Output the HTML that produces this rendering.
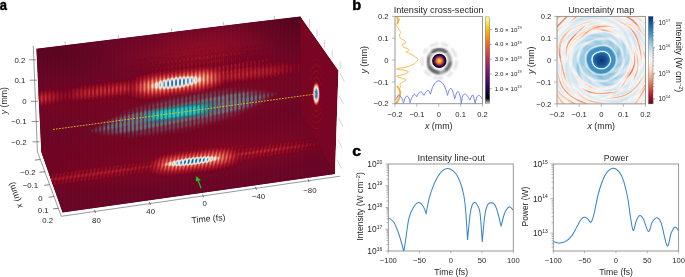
<!DOCTYPE html>
<html><head><meta charset="utf-8">
<style>
html,body{margin:0;padding:0;background:#fff;width:685px;height:277px;overflow:hidden}
svg{display:block;will-change:transform}
text{font-family:"Liberation Sans",sans-serif;fill:#231f20}
.pl{font-weight:bold;font-size:14px;fill:#000;stroke:#000;stroke-width:0.45px}
.t9{font-size:9px}
</style></head><body>
<svg width="685" height="277" viewBox="0 0 685 277" xmlns="http://www.w3.org/2000/svg">
<g id="pa">
<defs><filter id="sm" x="-5%" y="-5%" width="110%" height="110%"><feGaussianBlur stdDeviation="0.45"/></filter>
<clipPath id="cpa"><polygon points="36.4,48.8 300.5,16.4 338.5,70.5 335,174 62.5,212.5 41.3,152"/></clipPath>
<clipPath id="cpb"><polygon points="36.4,48.8 300.5,16.4 300.5,112.9 335,174 62.5,212.5 41.3,152"/></clipPath>
<radialGradient id="bg0" cx="0.5" cy="0.5" r="0.5"><stop offset="0.00" stop-color="#8c0c25" stop-opacity="1.000"/><stop offset="0.12" stop-color="#8c0c25" stop-opacity="0.932"/><stop offset="0.25" stop-color="#8c0c25" stop-opacity="0.755"/><stop offset="0.38" stop-color="#8c0c25" stop-opacity="0.531"/><stop offset="0.50" stop-color="#8c0c25" stop-opacity="0.325"/><stop offset="0.62" stop-color="#8c0c25" stop-opacity="0.172"/><stop offset="0.75" stop-color="#8c0c25" stop-opacity="0.080"/><stop offset="0.88" stop-color="#8c0c25" stop-opacity="0.032"/><stop offset="1.00" stop-color="#8c0c25" stop-opacity="0.011"/></radialGradient>
<radialGradient id="bg1" cx="0.5" cy="0.5" r="0.5"><stop offset="0.00" stop-color="#9c1127" stop-opacity="1.000"/><stop offset="0.12" stop-color="#9c1127" stop-opacity="0.932"/><stop offset="0.25" stop-color="#9c1127" stop-opacity="0.755"/><stop offset="0.38" stop-color="#9c1127" stop-opacity="0.531"/><stop offset="0.50" stop-color="#9c1127" stop-opacity="0.325"/><stop offset="0.62" stop-color="#9c1127" stop-opacity="0.172"/><stop offset="0.75" stop-color="#9c1127" stop-opacity="0.080"/><stop offset="0.88" stop-color="#9c1127" stop-opacity="0.032"/><stop offset="1.00" stop-color="#9c1127" stop-opacity="0.011"/></radialGradient>
<radialGradient id="bg2" cx="0.5" cy="0.5" r="0.5"><stop offset="0.00" stop-color="#720421" stop-opacity="1.000"/><stop offset="0.12" stop-color="#720421" stop-opacity="0.932"/><stop offset="0.25" stop-color="#720421" stop-opacity="0.755"/><stop offset="0.38" stop-color="#720421" stop-opacity="0.531"/><stop offset="0.50" stop-color="#720421" stop-opacity="0.325"/><stop offset="0.62" stop-color="#720421" stop-opacity="0.172"/><stop offset="0.75" stop-color="#720421" stop-opacity="0.080"/><stop offset="0.88" stop-color="#720421" stop-opacity="0.032"/><stop offset="1.00" stop-color="#720421" stop-opacity="0.011"/></radialGradient>
<radialGradient id="bg3" cx="0.5" cy="0.5" r="0.5"><stop offset="0.00" stop-color="#760521" stop-opacity="1.000"/><stop offset="0.12" stop-color="#760521" stop-opacity="0.932"/><stop offset="0.25" stop-color="#760521" stop-opacity="0.755"/><stop offset="0.38" stop-color="#760521" stop-opacity="0.531"/><stop offset="0.50" stop-color="#760521" stop-opacity="0.325"/><stop offset="0.62" stop-color="#760521" stop-opacity="0.172"/><stop offset="0.75" stop-color="#760521" stop-opacity="0.080"/><stop offset="0.88" stop-color="#760521" stop-opacity="0.032"/><stop offset="1.00" stop-color="#760521" stop-opacity="0.011"/></radialGradient>
<radialGradient id="bg4" cx="0.5" cy="0.5" r="0.5"><stop offset="0.00" stop-color="#700320" stop-opacity="1.000"/><stop offset="0.12" stop-color="#700320" stop-opacity="0.932"/><stop offset="0.25" stop-color="#700320" stop-opacity="0.755"/><stop offset="0.38" stop-color="#700320" stop-opacity="0.531"/><stop offset="0.50" stop-color="#700320" stop-opacity="0.325"/><stop offset="0.62" stop-color="#700320" stop-opacity="0.172"/><stop offset="0.75" stop-color="#700320" stop-opacity="0.080"/><stop offset="0.88" stop-color="#700320" stop-opacity="0.032"/><stop offset="1.00" stop-color="#700320" stop-opacity="0.011"/></radialGradient>
<radialGradient id="bg5" cx="0.5" cy="0.5" r="0.5"><stop offset="0.00" stop-color="#7e0723" stop-opacity="1.000"/><stop offset="0.12" stop-color="#7e0723" stop-opacity="0.932"/><stop offset="0.25" stop-color="#7e0723" stop-opacity="0.755"/><stop offset="0.38" stop-color="#7e0723" stop-opacity="0.531"/><stop offset="0.50" stop-color="#7e0723" stop-opacity="0.325"/><stop offset="0.62" stop-color="#7e0723" stop-opacity="0.172"/><stop offset="0.75" stop-color="#7e0723" stop-opacity="0.080"/><stop offset="0.88" stop-color="#7e0723" stop-opacity="0.032"/><stop offset="1.00" stop-color="#7e0723" stop-opacity="0.011"/></radialGradient>
</defs>
<g clip-path="url(#cpa)">
<linearGradient id="basegr" gradientUnits="userSpaceOnUse" x1="0" y1="40" x2="30" y2="200"><stop offset="0" stop-color="#67001f"/><stop offset="0.5" stop-color="#740421"/><stop offset="1" stop-color="#760521"/></linearGradient>
<polygon points="36.4,48.8 300.5,16.4 300.5,112.9 335,174 62.5,212.5 41.3,152" fill="#680526" stroke="#680526" stroke-width="2"/>
<g clip-path="url(#cpb)">
<circle cx="0" cy="0" r="3" fill="url(#bg0)" transform="matrix(45 -5.400 0 13 200 50)"/>
<circle cx="0" cy="0" r="3" fill="url(#bg1)" transform="matrix(45 -9.000 0 12 190 110)"/>
<circle cx="0" cy="0" r="3" fill="url(#bg2)" transform="matrix(100 -12.500 0 12 170 142)"/>
<circle cx="0" cy="0" r="3" fill="url(#bg3)" transform="matrix(120 -14.400 0 12 170 92.4)"/>
<circle cx="0" cy="0" r="3" fill="url(#bg4)" transform="matrix(70 -9.100 0 14 120 165)"/>
<circle cx="0" cy="0" r="3" fill="url(#bg5)" transform="matrix(80 -10.800 0 12 215 155)"/>
<pattern id="ftex" patternUnits="userSpaceOnUse" width="3.95" height="20" x="1"><rect x="0" y="0" width="1.9" height="20" fill="#ff5050" fill-opacity="0.02"/></pattern>
<rect x="30" y="10" width="275" height="210" fill="url(#ftex)"/>
<radialGradient id="dk" cx="0.5" cy="0.5" r="0.5"><stop offset="0" stop-color="#000" stop-opacity="0.22"/><stop offset="1" stop-color="#000" stop-opacity="0"/></radialGradient>
<ellipse cx="300" cy="18" rx="70" ry="40" fill="url(#dk)"/>
<ellipse cx="55" cy="52" rx="70" ry="30" fill="url(#dk)" opacity="0.7"/>
<ellipse cx="180" cy="215" rx="150" ry="22" fill="url(#dk)" transform="rotate(-8 180 215)"/>
</g>
<g filter="url(#sm)">
<path d="M113.8,173.8 114.2,173.5 114.5,174.2 114.2,174.5ZM118.2,172.8 118.5,173.2 117.8,174.2 117.5,173.2ZM121.8,171.8 122.2,173.2 121.5,174.2 121.2,172.8ZM96.2,170.2 96.5,169.8 96.8,170.5 96.5,170.8ZM100.2,169.2 100.5,169.5 100.2,170.8 99.8,170.5ZM246.5,156.5 246.8,156.2 247.2,156.5 246.8,156.8ZM243.5,155.8 243.8,156.5 243.2,157.5 242.8,156.2ZM246.8,155.8 247.2,155.5 247.5,156.2 247.2,156.5ZM250.5,155.5 250.8,155.2 251.2,155.8 250.8,156.2ZM172.8,150.2 172.5,150.2 172.2,151.2 172.8,150.8ZM303.8,148.2 304.2,147.8 304.5,148.5 304.2,148.8ZM320.2,147.5 319.8,148.5 320.8,148.8ZM267.5,146.5 267.8,147.8 267.2,148.5 266.8,147.5ZM274.5,146.5 274.8,146.2 275.2,146.8 274.8,147.2ZM271.2,146.2 271.5,146.5 271.2,147.8 270.8,147.5ZM274.8,146.2 275.2,145.8 275.5,146.2 275.2,146.5ZM278.5,145.8 278.8,145.5 279.2,146.2 278.8,146.5ZM282.2,145.5 282.5,145.2 282.8,145.8 282.5,146.2ZM285.8,145.2 286.2,144.8 286.5,145.5 286.2,145.8ZM286.2,144.8 286.5,144.5 286.8,144.8 286.5,145.2ZM290.2,143.8 290.5,144.2 290.2,145.2 289.8,144.8ZM248.2,143.8 246.8,144.8 246.8,146.5 247.5,146.5 248.2,145.8 248.5,144.8ZM251.8,143.5 250.5,144.8 250.8,145.8 251.5,145.8 252.2,144.5ZM294.2,142.8 294.5,143.8 293.8,144.8 293.5,143.8ZM255.8,143.2 254.8,143.5 254.5,145.2 255.5,144.8ZM259.5,142.8 258.5,143.2 258.5,144.5 259.2,144.5ZM222.5,142.8 221.2,144.2 221.5,145.5 222.2,145.2 222.8,143.8ZM297.8,142.2 298.2,143.8 297.5,144.5 297.2,143.5ZM263.2,142.5 262.5,142.8 262.2,143.5 262.5,143.8 263.2,143.5ZM226.5,142.5 225.8,142.5 225.2,143.2 225.2,144.8 226.2,144.2ZM266.8,142.2 266.5,142.2 266.2,143.2 266.8,142.8ZM229.8,141.8 228.8,143.2 229.2,144.2 230.2,143.2ZM233.8,141.5 232.8,142.2 232.8,143.5 233.5,143.5ZM237.8,141.2 236.8,141.5 236.5,142.2 236.8,143.2 237.5,142.5ZM241.2,140.5 240.5,141.2 240.5,142.5 241.5,141.5ZM245.2,140.2 244.5,140.5 244.5,141.8 245.2,141.2ZM248.8,139.8 248.2,140.5 248.5,141.2ZM318.8,145.2 317.2,142.2 316.5,142.8 315.8,142.5 315.8,139.8 315.2,138.5 314.5,138.8 313.8,140.5 313.8,141.8 312.8,143.2 312.2,142.8 312.5,139.2 311.8,138.5 310.5,139.5 309.8,142.5 308.8,143.5 308.5,143.2 308.8,139.5 308.2,138.8 306.5,140.2 305.8,143.2 305.2,143.8 304.8,143.5 305.2,140.2 304.8,139.5 303.8,139.5 302.5,140.8 302.2,143.2 301.5,144.2 300.8,143.5 301.5,141.8 301.5,140.8 300.8,139.8 299.5,140.2 298.2,142.5 297.5,140.8 296.5,140.2 295.8,140.5 294.2,142.8 293.5,140.8 291.8,141.2 290.5,143.2 289.5,141.2 288.8,141.2 286.8,143.5 285.8,141.8 284.8,141.8 282.8,144.2 282.2,142.5 281.2,142.2 279.2,144.5 278.2,142.8 277.2,142.8 275.5,144.8 273.8,143.2 272.5,144.2 271.5,145.8 270.5,143.8 269.2,144.2 267.8,146.2 267.2,145.8 267.2,144.8 266.2,144.2 264.5,145.8 263.5,149.2 263.2,148.8 263.5,145.8 262.8,144.8 262.2,144.8 260.8,146.2 260.2,147.8 260.2,149.2 259.5,149.8 259.2,149.5 259.5,148.2 259.5,145.8 259.2,145.5 258.2,145.5 257.2,146.5 256.5,147.8 256.5,149.5 255.8,150.2 255.5,149.8 255.8,146.8 254.8,145.8 253.5,146.8 252.8,148.2 252.8,149.8 252.2,150.8 251.5,150.5 251.8,146.8 250.8,146.5 249.5,147.8 248.8,150.8 248.2,151.5 247.8,151.2 248.2,147.8 247.8,147.2 246.8,147.2 245.8,148.2 245.2,149.8 245.2,151.2 244.2,152.2 243.8,151.8 244.2,148.2 243.5,147.5 244.5,146.2 244.5,144.5 244.2,144.2 243.5,144.5 242.8,145.8 242.8,146.8 243.5,147.5 242.2,148.5 241.5,149.8 241.5,151.5 240.5,152.5 239.8,151.8 240.5,150.2 240.5,148.8 239.8,148.2 240.8,146.5 240.8,144.8 240.5,144.5 239.2,145.8 239.2,147.8 239.5,148.2 238.5,148.8 237.8,150.8 237.2,151.5 236.5,150.5 236.5,147.8 237.2,146.5 236.8,145.2 235.8,145.5 235.2,146.8 235.2,148.2 233.8,149.8 233.2,149.5 233.2,147.2 233.5,146.8 233.2,145.5 232.5,145.5 231.8,146.2 231.2,148.2 230.2,149.2 229.5,148.2 229.5,146.2 229.2,145.8 228.2,146.5 226.5,148.8 225.8,147.5 225.8,146.5 225.2,145.8 222.8,148.8 221.8,146.2 221.2,146.2 219.2,148.8 218.5,147.8 218.5,146.8 217.8,146.2 218.8,144.8 218.5,143.2 217.5,144.2 217.5,145.8 217.8,146.2 215.5,149.2 214.8,148.5 214.8,147.5 214.2,146.5 215.2,145.2 215.2,144.2 214.5,143.8 213.5,145.5 213.8,146.2 213.5,147.2 211.5,149.5 210.5,147.2 211.5,145.2 211.2,144.5 210.2,144.8 209.8,147.2 207.8,149.8 206.8,147.8 207.5,146.2 207.5,145.2 206.8,144.8 206.2,145.5 206.2,147.5 204.2,150.2 203.5,149.8 203.5,148.8 202.8,147.8 203.5,147.2 203.8,145.8 202.8,145.5 202.2,146.8 202.5,147.8 200.2,150.8 199.2,148.5 199.8,147.5 199.5,145.8 198.5,146.8 198.2,149.2 196.5,151.2 195.8,150.5 195.5,149.2 196.2,146.8 195.5,146.5 194.8,147.2 194.5,149.5 192.8,151.5 192.2,151.2 191.5,149.2 192.2,148.5 192.2,147.2 191.5,147.2 190.8,148.2 190.5,150.2 188.8,152.2 187.8,149.8 188.5,148.5 188.2,147.5 187.5,147.8 187.2,149.8 185.2,152.5 183.8,150.2 184.5,149.5 184.5,148.2 183.5,148.8 183.2,150.8 181.5,153.2 180.8,152.8 180.8,151.8 180.2,150.8 180.8,149.5 180.2,148.8 179.8,150.5 177.8,153.5 176.8,152.8 176.5,151.5 176.8,149.5 176.5,149.5 175.8,150.5 176.2,151.2 173.8,154.2 173.2,153.8 173.2,152.8 172.2,151.8 170.2,154.8 169.2,154.2 169.2,153.2 168.5,152.5 166.2,155.8 165.5,155.5 165.2,153.8 164.5,153.5 162.2,156.8 161.5,156.5 161.5,155.5 160.5,154.5 157.8,158.8 156.8,155.8 155.5,157.5 155.5,158.2 153.8,161.2 153.2,160.8 153.2,158.5 152.8,157.5 152.5,157.5 151.2,160.5 150.2,164.2 149.2,165.5 148.5,164.8 148.8,161.2 148.2,160.8 147.2,161.8 146.8,164.2 145.5,165.8 144.8,165.5 145.2,161.8 144.2,161.5 143.2,162.8 142.5,165.5 141.5,166.5 140.8,165.5 141.5,162.5 141.2,161.8 140.5,161.8 139.5,162.8 139.2,165.2 137.8,166.8 137.2,166.2 137.5,162.5 136.8,162.2 135.8,163.2 135.2,165.8 134.2,167.2 133.5,166.8 133.8,163.2 132.8,162.8 131.8,163.8 131.5,166.2 130.2,167.8 129.5,166.8 130.2,163.8 129.2,163.2 128.2,164.2 127.5,166.8 126.5,168.2 125.8,167.5 126.5,164.8 126.2,163.8 125.5,163.5 124.2,164.8 123.5,167.8 122.8,168.5 122.2,168.2 122.5,164.5 121.5,164.2 120.2,165.5 119.8,167.8 119.2,168.8 118.5,168.5 118.8,165.2 118.2,164.5 117.2,164.8 115.2,169.5 114.5,168.5 115.2,165.8 114.8,165.2 113.8,165.2 112.5,166.5 112.2,168.8 111.5,169.5 110.8,169.2 111.5,167.2 110.8,165.5 109.5,165.8 108.5,167.5 108.2,169.5 107.5,170.2 107.2,169.8 107.5,166.5 106.5,165.8 104.8,167.5 104.5,169.8 103.8,170.5 103.5,170.2 103.8,167.2 103.5,166.5 102.2,166.5 100.5,169.2 99.5,166.8 98.2,167.2 96.8,169.2 96.2,168.5 96.2,167.8 95.2,167.2 92.8,169.5 91.8,167.8 90.5,168.2 89.2,169.8 88.5,168.5 87.5,168.2 85.5,170.2 83.8,168.5 81.8,170.5 80.5,169.2 79.8,169.2 77.8,171.2 76.2,169.5 74.2,171.5 73.5,171.2 73.2,170.2 71.5,170.5 70.5,171.8 69.2,170.5 68.5,170.5 66.5,172.5 64.8,170.8 62.8,172.8 61.5,171.5 60.8,171.5 59.2,173.2 57.8,171.8 57.2,171.8 55.2,173.8 54.2,172.5 53.2,172.5 51.5,174.2 50.2,172.8 49.5,172.8 48.8,173.5 48.8,174.2 52.5,184.5 53.8,186.2 54.5,186.2 56.2,184.5 58.2,185.8 60.2,183.8 61.5,185.2 62.2,185.2 63.8,183.5 64.8,184.5 65.8,184.8 67.8,182.8 68.8,184.2 69.8,184.2 71.5,182.5 72.8,183.8 73.5,183.8 75.5,181.8 76.5,183.2 77.5,183.2 79.2,181.5 80.5,182.8 81.2,182.8 82.8,181.2 84.5,182.5 86.8,180.5 87.8,181.8 88.5,181.8 90.5,179.8 92.2,181.5 94.2,179.5 95.5,180.8 96.2,180.8 98.2,178.8 99.5,180.2 100.2,180.2 101.8,178.2 103.5,179.8 105.8,177.5 107.5,179.2 109.8,176.8 110.5,178.2 111.5,178.5 113.5,176.2 114.5,177.8 115.5,177.8 117.5,175.5 118.5,177.2 119.8,176.8 121.2,174.8 121.8,176.2 122.8,176.8 124.8,174.5 124.8,172.5 125.5,171.5 126.2,171.8 125.5,173.5 125.5,175.2 126.2,176.2 126.8,176.2 128.5,173.8 128.5,172.2 129.5,170.5 129.8,170.8 129.8,172.5 129.2,174.2 129.8,175.5 131.2,175.2 132.5,172.5 132.5,170.8 133.2,170.2 133.8,170.5 133.2,174.2 133.5,174.8 134.5,174.8 135.5,173.8 136.2,172.5 136.2,170.5 137.2,169.5 137.5,169.8 137.2,173.8 137.8,174.5 139.2,173.5 139.8,172.2 140.2,169.5 140.8,168.8 141.5,169.2 140.8,173.2 141.8,173.8 142.8,173.2 143.5,171.8 143.8,169.2 144.8,168.2 145.5,169.2 144.8,170.8 144.8,172.8 145.8,173.2 147.2,171.5 147.5,168.8 148.5,167.5 149.2,168.2 148.5,170.8 148.8,174.5 149.2,174.8 149.8,174.2 151.5,171.2 151.8,171.5 151.8,175.8 152.2,176.5 153.5,175.5 154.2,173.8 154.8,173.5 155.2,173.8 155.5,177.5 156.2,177.5 158.2,174.8 159.2,178.2 160.5,177.2 161.5,175.5 162.2,175.8 162.2,177.2 162.8,178.2 163.5,178.2 165.2,175.8 165.8,176.2 165.8,177.2 166.5,178.2 168.8,175.8 169.5,176.2 169.8,177.5 170.8,177.8 172.8,175.5 174.2,177.8 176.2,175.5 177.2,176.2 177.2,176.8 177.8,177.5 180.2,175.2 180.8,175.5 181.2,176.8 182.2,176.8 184.2,174.5 184.8,176.2 185.8,176.5 187.8,174.2 189.2,176.2 191.5,173.8 192.2,174.2 192.5,175.5 193.5,175.5 195.2,173.5 196.2,174.2 196.5,175.2 197.2,175.2 199.2,172.8 200.5,174.8 202.8,172.5 203.5,172.8 204.2,174.2 204.8,174.2 206.8,171.8 208.2,173.8 210.5,171.5 211.5,173.2 212.5,173.2 214.5,170.8 215.8,172.8 218.2,170.2 218.8,170.8 218.8,171.5 219.8,172.2 222.2,169.5 223.5,171.5 225.8,168.8 227.5,170.5 229.8,167.5 231.2,169.5 232.5,168.2 233.8,165.5 234.5,165.8 234.5,167.5 235.5,167.8 236.5,166.5 238.5,161.5 238.8,161.8 238.8,165.2 239.5,165.8 240.8,163.2 241.5,160.2 242.8,158.5 243.5,159.8 244.5,160.5 246.5,158.2 247.5,159.8 248.5,159.8 250.2,157.8 250.8,158.2 251.5,159.5 252.2,159.5 253.8,157.5 255.8,159.2 257.8,156.8 258.8,158.5 259.8,158.5 261.5,156.5 262.2,156.8 262.8,158.2 263.5,158.2 265.2,156.2 266.5,157.5 267.5,157.5 269.2,155.5 270.5,157.2 271.2,157.2 272.8,155.2 274.5,156.8 276.8,154.5 278.2,156.2 278.8,156.2 280.5,154.2 282.2,155.8 284.5,153.5 285.5,155.2 286.2,155.2 288.2,153.2 288.8,153.5 289.2,154.5 290.2,154.5 292.2,152.5 293.5,154.2 295.8,152.2 297.5,153.5 299.8,151.2 300.5,152.5 301.2,152.8 303.5,150.5 304.2,150.8 304.5,151.8 305.5,151.8 306.8,150.5 307.5,147.5 308.2,146.8 308.5,147.8 307.8,149.2 307.8,150.2 308.5,151.2 309.5,151.2 310.8,149.2 311.2,146.8 311.8,146.2 312.5,146.5 311.8,149.5 312.5,150.5 313.2,150.5 314.5,148.5 314.8,146.2 315.8,145.2 316.5,145.8 315.8,149.2 316.8,149.8 317.8,148.8 318.2,146.5ZM128.5,71.5 128.5,72.2 128.8,72.2 128.8,71.5ZM132.8,70.2 132.2,70.8 132.5,72.5 133.2,72.2 133.2,70.5ZM136.8,69.5 136.2,69.5 135.8,70.2 135.8,71.8 136.5,72.5 137.2,72.2 137.5,71.2ZM236.8,67.2 237.2,66.8 237.5,67.5 237.2,67.8ZM240.8,66.5 241.2,66.2 241.5,66.8 241.2,67.2ZM245.2,65.2 245.5,65.5 245.2,66.8 244.8,66.5ZM128.5,65.5 128.2,67.2 128.8,67.5 129.2,65.8ZM132.8,64.5 131.8,65.5 132.2,67.5 132.8,67.5 133.5,66.5 133.5,65.5ZM249.2,63.8 249.5,64.2 249.5,65.8 249.2,66.2 248.5,65.5ZM136.2,64.2 135.5,65.8 135.8,66.8 136.8,67.5 137.5,66.2 137.5,64.8 136.8,64.2ZM140.2,63.5 139.5,64.8 139.8,66.8 140.8,67.2 141.5,65.8 141.5,64.5 140.8,63.5ZM253.2,62.8 253.5,63.2 253.5,65.5 252.8,65.8 252.5,65.5 252.5,63.8ZM144.5,62.8 143.5,64.2 143.5,65.8 144.2,66.8 145.2,66.2 145.5,63.8ZM128.5,60.8 128.5,61.5 128.8,61.5 128.8,60.8ZM132.8,59.8 132.2,60.2 132.5,61.8 133.2,61.2ZM136.8,59.5 136.2,59.5 136.2,61.2 136.5,61.5 137.2,60.5ZM140.8,58.8 140.2,58.8 139.8,59.5 139.8,60.5 140.5,61.2 141.2,60.2ZM144.2,58.2 143.8,60.2 144.8,60.5 145.2,58.8 144.8,58.2ZM148.5,57.5 147.8,58.2 147.8,59.8 148.2,60.2 149.2,59.5 149.2,58.2ZM152.8,57.2 152.2,57.2 151.5,58.2 152.2,59.8 153.2,58.8ZM156.2,56.5 155.5,57.5 155.5,58.8 156.5,59.5 157.2,58.5 157.2,57.5ZM159.8,56.2 159.5,58.5 160.5,59.2 161.2,57.8 161.2,56.8 160.8,56.2ZM164.5,55.5 163.8,55.5 163.5,56.2 163.5,58.2 164.2,58.8 165.2,57.2ZM290.8,55.2 290.2,55.5 290.2,57.2 290.5,57.5 290.8,57.2ZM168.2,54.8 167.2,56.2 167.5,57.8 168.2,58.5 169.2,56.5 168.8,55.2ZM171.8,54.5 171.2,55.5 171.2,56.8 171.8,57.8 172.5,57.8 172.8,54.8ZM175.8,53.8 175.2,54.8 175.2,56.5 176.2,57.5 176.8,56.5 176.8,54.5ZM274.8,53.5 274.5,53.8 274.8,54.5ZM180.5,53.5 179.8,53.5 179.2,54.2 179.2,56.2 179.8,57.2 180.8,56.2ZM172.2,50.2 171.8,50.5 172.2,51.2ZM175.8,49.8 175.8,50.5 176.2,50.5 176.2,49.8ZM255.2,49.5 254.2,50.5 254.2,52.8 255.2,53.8 256.2,51.8 255.8,50.2ZM259.2,49.2 258.2,50.2 258.2,52.2 258.8,53.2 259.8,52.2 259.8,49.8ZM300.5,65.2 299.8,63.8 299.5,61.5 298.5,60.2 298.5,59.5 297.2,62.8 297.2,64.2 296.5,65.2 295.2,61.5 295.2,60.2 294.5,59.2 293.8,60.2 293.8,61.8 293.2,63.2 293.2,64.2 292.5,64.8 290.8,59.5 290.2,59.5 289.2,63.8 288.5,64.2 287.5,61.8 287.5,60.5 286.8,59.5 287.2,58.2 287.2,55.8 286.8,55.5 285.8,56.5 286.5,59.2 285.8,60.5 285.5,62.8 284.8,63.8 283.8,62.8 283.8,61.5 283.2,60.2 283.5,56.5 282.5,55.5 281.8,56.5 282.2,60.5 280.8,63.8 280.2,63.5 279.5,61.2 279.8,57.5 279.5,56.5 278.5,55.8 277.8,56.8 277.5,63.2 276.8,63.8 275.8,62.5 275.5,60.8 275.8,60.5 275.8,57.5 275.2,56.2 274.5,56.2 273.5,58.5 273.8,62.5 272.8,64.2 271.8,62.5 272.2,58.8 271.2,56.5 271.2,53.5 270.5,53.8 270.5,56.8 269.5,58.8 269.8,62.8 268.8,64.5 267.8,62.2 268.2,61.8 268.2,58.8 267.5,57.5 267.5,54.2 266.5,53.8 266.2,54.8 266.5,56.8 265.5,59.5 265.8,63.2 265.2,64.5 264.2,63.8 264.5,60.5 263.5,57.5 263.8,55.2 263.2,54.2 262.2,54.8 262.2,58.5 261.5,59.8 261.5,62.8 261.8,63.5 261.2,64.8 260.2,64.2 260.5,60.2 259.8,58.8 259.8,55.2 258.8,54.2 257.8,56.2 258.2,59.2 257.5,60.5 257.5,65.2 257.2,65.5 256.5,64.8 256.5,60.5 255.8,58.8 256.2,55.8 255.2,54.5 254.8,54.5 253.8,56.5 254.2,59.5 253.5,62.2 253.2,62.5 252.2,60.5 252.2,56.2 251.2,54.8 252.2,52.5 252.2,51.2 251.5,50.2 250.8,50.2 250.2,50.8 250.2,53.2 250.8,54.2 250.8,55.2 249.8,57.2 250.2,60.2 249.2,62.5 248.2,60.8 248.2,56.5 247.5,55.5 247.5,54.5 248.2,53.5 248.2,51.5 247.5,50.5 246.8,50.5 246.2,51.5 246.2,53.8 246.8,54.5 246.8,55.5 245.8,57.5 246.2,61.2 245.2,63.2 244.2,61.2 244.5,57.5 243.5,55.8 244.2,54.2 244.2,51.5 243.5,50.8 242.8,50.8 242.2,52.2 242.2,54.2 242.8,55.2 242.8,56.2 241.8,58.2 242.2,61.8 241.2,63.8 240.2,61.5 240.5,57.8 239.5,56.2 240.5,53.5 240.2,51.8 239.2,51.2 238.2,52.5 238.2,54.5 238.8,55.5 238.8,56.5 237.8,58.8 238.2,59.5 238.2,62.8 237.2,64.2 236.2,62.2 236.5,58.2 235.8,57.2 236.5,53.2 236.2,52.2 235.2,51.5 234.2,53.2 234.2,55.2 234.8,56.2 234.8,57.2 234.2,58.2 234.2,63.5 233.5,64.8 232.5,63.8 232.5,58.2 231.8,57.2 232.5,55.2 232.5,53.2 231.5,51.8 230.2,53.5 230.2,55.5 230.8,56.5 230.8,57.5 230.2,58.5 230.5,63.2 229.5,65.5 228.8,65.2 228.5,64.2 228.8,59.5 227.8,57.5 228.5,55.8 228.5,53.5 227.8,52.5 227.2,52.5 226.2,54.2 226.2,55.8 226.8,56.8 226.8,58.2 226.2,59.2 226.5,64.2 225.5,66.2 224.5,64.8 224.8,59.8 223.8,57.8 224.8,55.2 223.8,52.8 223.2,52.8 222.2,54.8 222.2,56.2 222.8,57.5 222.8,58.5 222.2,59.8 222.5,64.8 221.5,67.2 220.5,65.2 220.8,60.2 220.2,58.8 220.2,57.5 220.8,56.2 220.5,54.2 219.5,53.2 218.2,55.5 218.2,56.5 218.8,57.8 218.8,59.2 218.2,60.5 218.5,65.5 217.5,66.5 216.5,65.2 216.8,60.5 216.2,59.2 216.2,58.2 216.8,56.8 216.5,54.5 215.5,53.5 216.5,51.5 216.5,49.8 215.8,49.2 215.2,49.2 214.5,50.5 214.5,51.5 215.5,53.5 214.2,56.2 214.8,58.2 214.8,59.8 214.2,60.8 214.5,65.2 213.8,66.2 212.5,65.2 212.8,60.8 212.2,58.8 212.8,57.5 212.8,55.5 211.5,53.8 212.5,52.2 212.5,50.2 211.5,49.5 210.5,51.2 211.5,54.2 210.5,55.5 210.5,58.2 211.2,59.5 210.2,61.5 210.2,63.2 210.8,64.2 210.5,65.5 209.8,66.2 208.5,65.2 209.2,62.2 208.2,59.8 208.8,58.2 208.8,55.8 207.8,54.5 208.5,52.8 208.5,50.5 208.2,50.2 207.2,50.2 206.8,50.8 206.8,53.2 207.5,53.8 206.5,56.2 206.5,58.5 207.2,60.2 206.2,62.2 206.2,63.5 206.8,65.2 205.8,66.5 204.5,65.2 205.2,63.5 205.2,62.2 204.2,60.2 204.8,58.8 204.8,56.5 203.8,54.8 204.5,53.5 204.5,51.2 204.2,50.5 203.5,50.5 202.8,51.5 202.8,53.5 203.5,55.2 202.5,56.8 202.5,58.8 203.2,60.5 202.2,62.8 202.8,65.5 201.8,66.8 200.5,65.5 201.2,64.2 201.2,62.5 200.5,61.5 200.5,59.8 201.2,57.8 199.8,55.5 200.8,52.8 200.8,52.2 199.8,50.8 198.8,51.8 198.8,53.8 199.5,54.8 199.5,55.8 198.5,57.5 198.5,59.2 199.2,60.5 198.5,62.5 198.5,64.8 198.8,65.2 198.5,66.5 197.5,67.2 196.8,66.2 197.2,62.8 196.5,61.8 196.5,60.5 197.2,57.8 195.8,55.8 196.8,53.8 196.8,52.5 196.2,51.5 195.5,51.5 194.8,52.5 194.8,54.2 195.8,55.8 194.5,58.2 194.5,59.5 195.2,60.8 195.2,61.8 194.5,63.2 194.8,66.5 193.8,67.5 192.8,66.5 193.2,63.2 192.5,62.2 192.5,60.8 193.2,59.5 193.2,58.2 191.8,56.2 192.8,54.2 192.8,52.8 191.8,51.8 190.8,53.2 190.8,54.5 191.8,56.2 190.5,58.8 190.5,59.8 191.2,61.2 191.2,62.5 190.5,63.5 190.8,66.8 189.8,68.2 188.8,67.2 189.2,63.5 188.5,62.5 188.5,61.5 189.2,60.2 189.2,58.5 187.8,56.5 188.8,54.8 188.8,53.2 188.2,52.5 187.5,52.5 186.8,54.5 187.8,56.8 186.5,59.5 187.2,61.5 187.2,63.2 186.5,64.2 186.8,67.5 185.8,68.5 184.8,67.5 185.5,65.2 184.5,62.8 185.2,60.8 185.2,58.8 183.8,57.2 184.8,55.5 184.8,53.5 183.8,52.8 183.2,53.5 183.2,55.8 183.8,57.5 182.8,58.8 182.8,61.5 183.5,62.8 182.5,65.2 182.5,66.2 183.2,67.5 182.2,68.8 180.8,67.8 181.5,66.2 181.2,64.5 180.5,63.5 181.2,61.5 181.2,59.2 179.8,57.8 178.8,59.5 178.8,61.8 179.5,63.5 178.5,66.5 179.2,68.2 178.2,69.2 176.8,68.2 177.5,66.8 177.5,65.8 176.5,63.8 177.2,62.2 177.2,59.8 176.2,58.5 175.5,58.8 174.8,60.2 174.8,62.2 175.5,63.2 175.5,64.2 174.8,65.2 175.2,68.5 174.2,69.8 172.8,68.5 173.5,67.2 173.5,66.2 172.5,64.2 173.2,62.5 173.2,60.2 172.5,59.2 171.5,59.5 170.8,61.2 171.5,64.8 170.8,65.8 171.2,69.2 170.2,70.2 169.2,69.2 169.5,66.5 168.5,64.5 169.5,61.8 169.2,60.5 168.2,59.5 166.8,61.8 167.8,64.8 166.8,66.8 167.2,69.5 166.5,70.5 165.8,70.5 165.2,69.5 165.5,66.8 164.5,64.8 165.2,63.8 165.5,61.8 164.5,60.2 163.2,61.5 163.2,63.8 163.8,65.5 162.8,67.5 163.2,69.8 162.5,70.8 161.8,70.8 161.2,69.8 161.5,67.2 160.5,65.5 161.5,63.2 161.5,62.2 160.8,60.8 159.8,60.8 159.2,62.2 159.2,63.8 159.8,65.2 159.8,66.2 159.2,67.2 159.2,69.5 159.5,69.8 158.2,71.5 157.2,70.2 157.5,67.8 156.5,66.2 157.5,63.8 157.2,61.8 156.5,61.2 155.8,61.5 155.2,62.8 155.2,64.2 156.2,66.2 155.2,67.8 155.5,70.5 154.5,71.8 153.2,70.8 153.5,68.2 152.5,66.5 153.5,64.2 153.5,63.2 152.8,61.8 152.2,61.8 151.5,62.5 151.2,64.2 152.2,66.8 151.2,68.5 151.5,71.2 150.5,72.5 149.2,71.2 149.5,68.5 148.5,67.2 149.5,64.8 149.5,63.5 148.8,62.5 148.2,62.5 147.5,63.2 147.5,65.5 148.5,66.8 147.2,69.5 147.5,70.5 147.2,72.5 146.5,73.2 145.5,72.5 145.2,71.8 145.5,69.2 144.5,67.8 143.5,69.2 143.8,72.2 142.5,74.5 140.8,72.5 141.5,71.2 141.5,69.5 140.5,68.5 139.5,69.8 139.5,71.2 140.5,72.5 139.8,73.2 139.2,75.2 138.5,75.8 136.8,73.8 135.8,74.8 135.5,76.2 134.5,77.5 133.8,77.2 133.2,75.8 132.5,75.8 131.8,76.8 131.2,79.5 130.5,80.2 129.2,78.2 128.2,78.2 127.2,80.5 126.5,80.8 125.5,78.8 124.5,78.2 122.8,81.2 120.8,78.5 119.8,79.5 119.5,80.8 118.8,81.5 117.2,79.2 116.2,79.5 114.8,81.8 114.2,81.5 114.2,80.8 112.8,79.5 111.8,80.5 111.8,81.2 110.8,82.5 109.5,80.2 108.2,80.5 107.2,82.8 104.8,80.5 102.8,83.5 101.8,81.5 100.8,81.2 99.2,83.8 96.8,81.5 95.2,84.5 94.5,84.2 93.8,82.5 92.8,82.2 91.2,85.2 89.8,82.8 89.2,82.5 87.2,85.8 86.5,85.2 86.2,83.8 85.2,83.2 83.5,86.2 81.2,83.8 79.2,87.2 78.2,85.2 77.2,84.5 75.2,88.2 73.5,85.5 72.5,86.5 71.5,89.5 70.8,89.2 70.2,87.2 69.2,86.8 67.5,91.2 65.5,87.5 64.8,88.2 63.5,91.5 62.8,90.5 62.5,88.8 61.5,87.5 59.5,90.8 57.8,87.5 56.8,87.8 56.5,89.2 55.5,90.5 53.8,87.5 53.2,87.5 51.8,90.2 50.8,89.5 50.8,88.8 49.8,87.5 48.8,88.2 47.8,90.2 47.2,89.8 46.5,88.2 45.5,87.8 43.8,90.5 43.2,90.2 42.5,88.5 41.5,88.2 39.8,91.2 38.2,88.8 38.5,89.5 39.2,107.2 39.8,106.2 41.2,108.5 42.2,108.5 43.2,106.2 43.8,105.8 44.8,107.5 45.8,108.2 47.5,105.2 48.5,105.8 49.2,107.2 49.8,107.2 51.5,104.2 52.2,104.5 52.8,106.2 53.8,106.5 55.5,102.8 56.8,105.2 57.5,105.5 58.2,104.8 59.5,101.5 60.2,102.2 60.8,104.2 61.5,104.5 62.2,103.8 62.8,100.8 63.5,100.2 64.2,100.8 64.8,103.2 65.5,103.5 66.2,102.8 66.8,100.2 67.5,99.5 69.2,103.2 70.2,102.8 70.8,100.5 71.5,100.2 72.2,101.2 72.5,102.8 73.2,103.5 74.2,102.8 75.2,100.5 76.8,103.5 77.5,103.5 78.2,102.8 78.5,101.5 79.2,100.8 79.8,101.2 81.2,103.5 82.2,102.5 82.5,101.2 83.2,100.5 83.8,100.8 84.2,102.2 84.8,102.8 85.5,102.8 87.2,99.8 87.8,100.5 88.2,101.8 88.8,102.5 89.5,102.5 91.2,99.5 92.5,101.8 93.2,102.2 94.8,99.2 95.8,99.8 96.5,101.5 97.2,101.5 99.2,98.5 100.8,101.2 101.5,100.8 102.8,98.2 103.5,98.5 104.2,100.2 105.2,100.5 106.8,97.5 108.8,100.2 109.8,99.2 110.2,97.8 110.8,97.2 111.5,97.5 112.2,99.2 113.2,99.5 114.8,96.5 116.5,98.8 117.2,98.8 118.8,95.8 119.5,96.5 119.8,97.8 120.8,98.5 122.8,95.2 123.8,97.2 124.8,97.8 126.8,94.5 128.5,98.2 129.2,98.2 129.8,96.2 130.5,95.5 131.2,96.2 131.5,97.8 132.5,99.5 134.8,97.2 136.2,100.2 136.8,100.2 138.5,97.8 140.2,100.5 141.2,100.2 142.2,98.2 144.5,100.5 146.5,97.8 148.2,100.2 148.8,100.2 150.2,97.8 152.5,99.8 153.5,98.2 154.5,97.5 156.2,99.5 156.8,99.2 158.2,96.8 158.8,97.2 159.8,98.8 160.5,98.8 162.2,96.2 163.8,98.2 164.5,98.2 166.2,95.5 167.8,97.5 168.5,97.5 170.2,94.8 171.5,96.8 172.5,96.8 173.8,94.5 175.5,96.2 176.5,96.2 177.8,93.8 179.8,95.8 180.5,95.5 181.8,93.2 184.2,95.2 185.8,92.5 186.5,92.8 187.5,94.5 188.5,94.2 189.8,91.8 191.5,93.8 192.2,93.8 193.8,91.2 195.2,93.2 196.2,93.2 197.8,90.5 199.2,92.5 200.2,92.5 201.8,89.8 202.8,91.5 203.8,91.8 205.5,89.2 207.8,91.2 209.5,88.2 210.2,88.5 211.2,90.2 211.8,90.2 213.5,87.2 215.5,89.2 217.5,85.5 219.5,87.5 220.2,86.8 221.5,83.5 223.2,85.8 223.8,85.2 224.8,81.8 225.5,81.2 226.2,81.8 226.8,83.8 227.8,83.8 229.2,80.8 229.8,81.2 230.8,83.5 231.5,83.5 232.2,82.8 233.2,80.5 233.8,80.8 234.8,83.2 235.5,83.2 237.2,80.2 237.8,80.5 238.8,82.8 239.5,82.8 241.2,79.8 241.8,80.2 242.5,82.2 243.2,82.5 244.2,81.5 245.2,79.2 245.8,79.8 246.5,81.8 247.2,82.2 249.2,78.8 250.5,81.5 251.8,81.2 252.2,79.8 253.2,78.5 254.5,81.2 255.5,81.2 257.2,78.2 258.5,80.8 259.2,80.8 260.8,77.8 261.5,78.2 261.8,79.5 263.2,80.5 264.8,77.5 265.5,77.8 265.8,79.2 266.8,80.2 267.8,79.2 268.8,76.8 270.5,79.5 271.5,79.2 272.2,77.2 272.8,76.5 274.2,78.8 274.8,79.2 276.8,75.8 278.5,78.5 279.5,77.8 279.8,76.5 280.8,75.2 281.8,77.2 282.8,77.8 283.5,77.2 284.5,74.5 285.2,74.8 285.8,76.5 286.8,77.2 287.8,75.5 287.8,74.5 288.5,73.2 290.5,76.5 291.5,75.2 292.5,71.8 293.2,72.5 293.8,75.2 294.8,75.5 296.5,70.5 297.2,71.5 297.5,73.5 298.5,74.8 299.2,74.2 299.8,70.8 300.5,69.5ZM179.8,49.2 179.8,50.2 180.2,50.2 180.2,49.2ZM263.2,48.8 262.2,49.5 262.2,51.8 262.8,52.5 263.8,51.2 263.8,49.5ZM219.8,48.8 219.2,48.8 218.5,49.8 218.5,51.2 219.5,52.5 220.5,50.8 220.5,49.8ZM274.8,48.5 274.5,48.8 274.8,49.5ZM270.5,48.5 270.2,50.2 271.2,50.5 271.5,49.2 271.2,48.5ZM267.2,48.5 266.2,49.2 266.2,51.2 266.5,51.5 267.2,51.5 267.5,50.8 267.5,48.8ZM183.8,48.5 183.5,49.2 184.2,49.8ZM223.8,48.2 223.2,48.2 222.5,49.2 222.5,50.8 223.2,51.8 224.2,51.2 224.5,49.8ZM188.2,48.2 187.5,48.5 187.8,49.5ZM227.8,47.8 227.2,47.8 226.5,48.8 226.5,50.2 227.5,51.5 228.2,50.5 228.2,48.2ZM230.8,47.5 230.5,49.8 231.5,50.8 232.2,49.8 232.2,47.8ZM191.8,47.5 191.5,48.8 192.2,48.8ZM195.5,47.2 195.5,48.5 195.8,48.5 196.2,47.5ZM235.2,46.8 234.5,47.8 234.5,49.5 235.5,50.2 236.2,49.2 236.2,47.8ZM239.5,46.5 238.5,47.2 238.5,49.2 239.2,49.8 240.2,48.2ZM199.8,46.5 199.5,47.8 200.2,47.5ZM243.5,46.2 242.8,46.2 242.5,46.8 242.5,48.5 243.2,49.2 243.8,48.5 243.8,46.5ZM203.5,46.2 203.5,47.5 203.8,47.5 204.2,46.5ZM246.8,45.8 246.5,46.2 246.5,48.2 247.5,48.5 247.8,46.2ZM207.8,45.8 207.2,46.5 207.5,47.2ZM251.2,45.2 250.5,45.8 250.5,47.5 250.8,47.8 251.5,47.8 251.8,47.2 251.8,45.8ZM211.5,45.2 211.2,46.2 211.8,46.5ZM254.8,44.8 254.5,45.2 254.5,47.2 255.2,47.5 255.8,45.8ZM215.8,44.8 215.2,45.2 215.5,46.2ZM258.8,44.5 258.5,44.8 258.5,46.5 259.2,46.8 259.5,46.5 259.5,44.8ZM219.8,44.5 219.2,44.8 219.5,45.5ZM262.8,44.2 262.5,45.8 263.2,46.2 263.5,44.5ZM267.2,43.8 266.5,44.2 266.5,45.5 267.2,45.5 267.5,44.8ZM223.5,43.8 223.2,44.8 223.8,44.5ZM270.8,43.5 270.5,43.8 270.8,44.8 271.2,44.5ZM227.5,43.5 227.2,43.8 227.5,44.5ZM231.5,43.2 231.2,43.8 231.5,43.8Z" fill="#780522" fill-rule="evenodd"/>
<path d="M49.5,173.8 48.8,174.2 49.8,176.8 50.2,176.5 50.2,174.2ZM243.5,155.8 243.8,156.8 243.2,158.2 242.8,157.8 242.8,156.2ZM262.5,153.2 262.8,154.2 262.2,155.5 261.8,153.8ZM172.8,150.2 172.5,150.2 172.2,151.2 172.8,150.8ZM313.5,147.8 313.2,147.8 312.8,148.8 313.2,149.2ZM248.2,143.8 246.8,144.8 246.8,146.5 247.5,146.5 248.2,145.8 248.5,144.8ZM251.8,143.5 250.5,144.8 250.8,145.8 251.5,145.8 252.2,144.5ZM255.8,143.2 254.8,143.5 254.5,145.2 255.5,144.8ZM317.5,142.8 316.8,144.2 317.2,145.5 317.8,145.5 318.5,144.8ZM259.5,142.8 258.5,143.2 258.5,144.5 259.2,144.5ZM222.5,142.8 221.2,144.2 221.5,145.5 222.2,145.2 222.8,143.8ZM263.2,142.5 262.5,142.8 262.2,143.5 262.8,143.8ZM226.5,142.5 225.8,142.5 225.2,143.2 225.2,144.8 226.2,144.2ZM314.8,142.2 313.5,143.2 312.8,144.8 313.5,146.8 315.2,144.8 315.2,142.5ZM229.8,141.8 228.8,143.2 229.2,144.2 230.2,143.2ZM233.8,141.5 232.8,142.2 232.8,143.5 233.5,143.5ZM237.8,141.2 236.8,141.5 236.5,142.2 236.8,143.2 237.5,142.5ZM241.2,140.5 240.5,141.2 240.5,142.5 241.5,141.5ZM248.8,140.2 248.2,140.5 248.5,141.2ZM245.2,140.2 244.5,140.5 244.5,141.8 245.2,141.2ZM311.8,139.8 310.8,140.2 310.8,141.8 308.8,145.2 309.5,147.5 308.8,148.8 309.2,150.2 310.2,148.8 310.2,147.2 311.8,144.2 311.2,142.2ZM308.2,139.8 307.2,140.2 306.5,142.8 304.8,145.5 304.2,144.2 304.5,140.2 303.8,140.2 302.8,141.2 302.5,143.5 301.2,145.2 300.5,144.5 300.8,140.5 299.8,140.5 298.8,141.8 298.8,143.5 297.5,145.5 296.8,145.2 297.2,141.2 296.2,140.8 295.2,141.8 294.8,144.2 293.8,145.8 293.2,145.5 293.2,143.5 293.5,143.2 293.5,141.5 293.2,141.2 292.5,141.2 291.5,142.2 290.8,143.8 290.8,145.2 289.8,146.2 289.5,145.8 289.8,142.2 288.8,141.5 287.5,142.8 287.2,145.2 286.2,146.5 285.5,145.8 286.2,142.8 285.2,141.8 283.5,143.5 283.2,145.8 282.5,146.8 281.8,146.5 282.2,145.2 282.2,142.8 281.8,142.5 280.5,142.8 279.5,144.5 279.2,146.8 278.5,147.5 278.2,147.2 278.5,143.5 277.8,142.8 276.8,143.2 275.8,144.5 275.5,146.8 274.8,147.8 274.2,147.2 274.8,145.5 274.5,143.5 272.8,143.8 271.8,145.5 271.8,146.8 271.2,148.2 270.5,147.8 271.2,145.2 270.8,144.2 269.8,143.8 268.5,145.2 267.8,146.5 267.8,147.8 267.2,148.8 266.8,148.5 267.2,147.2 267.2,144.8 266.8,144.5 265.8,144.5 264.5,145.8 264.2,148.2 263.5,149.2 263.2,148.8 263.5,145.8 262.8,144.8 262.2,144.8 260.8,146.2 260.2,147.8 260.2,149.2 259.5,149.8 259.2,149.5 259.5,148.2 259.5,145.8 259.2,145.5 258.2,145.5 257.2,146.5 256.5,147.8 256.5,149.5 255.8,150.2 255.5,149.8 255.8,146.8 254.8,145.8 253.5,146.8 252.8,148.2 252.8,149.8 252.2,150.8 251.5,150.5 251.8,146.8 250.8,146.5 249.5,147.8 248.8,150.8 248.2,151.5 247.8,151.2 248.2,147.8 247.8,147.2 246.8,147.2 245.8,148.2 245.2,149.8 245.2,151.2 244.2,152.2 243.8,151.8 244.2,148.2 243.5,147.5 244.5,146.2 244.5,144.5 244.2,144.2 243.5,144.5 242.8,145.8 242.8,146.8 243.5,147.5 242.2,148.5 241.5,149.8 241.5,151.5 240.5,152.5 239.8,151.8 240.5,150.2 240.5,148.8 239.8,148.2 240.8,146.5 240.8,144.8 240.5,144.5 239.2,145.8 239.2,147.8 239.5,148.2 238.5,148.8 237.8,150.8 237.2,151.5 236.5,150.5 236.5,147.8 237.2,146.5 236.8,145.2 235.8,145.5 235.2,146.8 235.2,148.2 233.8,149.8 233.2,149.5 233.2,147.2 233.5,146.8 233.2,145.5 232.5,145.5 231.8,146.2 231.2,148.2 230.2,149.2 229.5,148.2 229.5,146.2 229.2,145.8 228.2,146.5 226.5,148.8 225.8,147.5 225.8,146.5 225.2,145.8 222.8,148.8 221.8,146.2 221.2,146.2 219.2,148.8 218.5,147.8 218.5,146.8 217.8,146.2 218.8,144.8 218.5,143.2 217.5,144.2 217.5,145.8 217.8,146.2 215.5,149.2 214.8,148.5 214.8,147.5 214.2,146.5 215.2,145.2 214.8,143.8 213.8,144.5 213.5,147.2 211.5,149.5 210.5,147.2 211.5,145.2 211.2,144.5 210.2,144.8 209.8,147.2 207.8,149.8 206.8,147.8 207.5,146.2 207.2,144.8 206.2,145.5 206.2,147.5 204.2,150.2 203.5,149.8 203.5,148.8 202.8,147.8 203.5,147.2 203.8,145.8 202.8,145.5 202.2,146.8 202.5,147.8 200.2,150.8 199.2,148.5 199.8,147.5 199.5,145.8 198.5,146.8 198.2,149.2 196.5,151.2 195.8,150.5 195.5,149.2 196.2,147.5 195.8,146.5 194.8,147.2 194.8,148.8 192.8,151.5 192.2,151.2 191.5,149.2 192.2,148.5 192.2,147.2 191.5,147.2 190.8,148.2 190.5,150.2 188.8,152.2 187.8,149.8 188.5,148.5 188.2,147.5 187.5,147.8 187.2,149.8 185.2,152.5 183.8,150.2 184.5,149.5 184.5,148.2 183.5,148.8 183.2,150.8 181.5,153.2 180.8,152.8 180.8,151.8 180.2,150.8 180.8,149.5 180.2,148.8 179.8,150.5 177.8,153.5 176.8,152.8 176.5,151.5 176.8,149.5 176.5,149.5 175.8,150.5 176.2,151.2 173.8,154.2 173.2,153.8 173.2,152.8 172.2,151.8 170.2,154.8 169.2,154.2 169.2,153.2 168.5,152.5 166.2,155.8 165.5,155.5 165.2,153.8 164.5,153.5 162.2,156.8 161.5,156.5 161.5,155.5 160.5,154.5 157.8,158.8 156.8,155.8 155.5,157.5 155.5,158.2 153.8,161.2 153.2,160.8 153.2,158.5 152.8,157.5 152.5,157.5 151.2,160.5 150.2,164.2 149.2,165.5 148.5,164.8 148.8,161.2 148.2,160.8 147.2,161.8 146.8,164.2 145.5,165.8 144.8,165.5 145.2,161.8 144.2,161.5 143.2,162.8 142.5,165.5 141.5,166.5 140.8,165.5 141.5,162.5 141.2,161.8 140.5,161.8 139.5,162.8 139.2,165.2 137.8,166.8 137.2,166.2 137.5,162.5 136.8,162.2 135.8,163.2 135.2,165.8 134.2,167.2 133.5,166.8 133.8,163.2 132.8,162.8 131.8,163.8 131.5,166.2 130.2,167.8 129.5,166.8 130.2,163.8 129.5,163.2 128.2,164.2 127.5,166.8 126.5,168.2 125.8,167.5 126.5,164.8 126.2,163.8 125.5,163.5 124.2,164.8 123.5,167.8 122.8,168.5 122.2,168.2 122.5,164.5 121.5,164.2 120.2,165.5 119.8,167.8 118.8,169.2 118.5,168.8 118.8,165.2 118.2,164.5 117.2,164.8 116.5,165.8 115.8,168.8 115.2,169.5 114.5,168.8 115.2,166.8 114.8,165.2 113.2,165.5 111.5,169.8 110.8,169.5 111.2,165.8 110.2,165.5 108.8,166.8 108.5,169.2 107.5,170.5 107.2,170.2 107.5,166.5 106.8,165.8 105.2,167.2 104.5,170.2 103.8,170.8 103.2,170.5 103.8,167.5 103.2,166.5 102.5,166.5 101.5,167.5 100.8,168.8 100.8,170.5 99.8,171.5 99.5,171.2 99.8,167.5 99.2,166.8 97.5,168.2 97.2,170.5 96.2,171.8 95.5,171.5 96.2,168.2 95.5,167.5 94.8,167.5 93.5,169.2 93.2,171.5 92.5,172.5 91.8,172.2 92.2,168.5 90.8,168.2 89.5,170.2 89.5,171.8 88.5,173.2 88.2,172.8 88.5,169.2 87.8,168.5 86.5,169.2 85.8,170.5 85.5,172.8 84.8,173.5 84.2,173.2 84.8,170.2 84.2,169.2 83.5,169.2 82.2,170.5 81.8,172.8 80.8,174.2 80.5,173.8 80.8,170.2 80.2,169.5 78.5,170.8 78.2,173.2 77.2,174.5 76.5,174.2 77.2,171.2 76.5,170.2 75.8,170.2 74.5,171.8 74.2,174.2 73.5,175.2 72.8,174.8 73.2,171.2 71.8,170.8 70.8,172.2 70.5,174.5 69.5,175.8 68.8,175.2 69.5,172.8 68.8,171.2 67.5,171.8 66.8,173.2 66.5,175.5 65.8,176.2 65.2,175.8 65.5,172.2 64.5,171.8 63.5,172.8 62.8,175.8 61.8,176.8 61.2,176.2 61.8,172.8 60.8,172.2 59.8,173.2 59.2,174.5 59.2,176.2 58.2,177.5 57.5,177.2 57.8,173.2 56.8,172.8 55.8,173.8 55.5,176.2 54.2,178.2 53.5,176.8 54.2,175.2 54.2,173.8 52.8,173.5 51.8,174.8 51.5,177.2 50.5,178.8 52.2,183.5 52.8,181.2 53.5,180.5 54.2,181.2 53.5,184.2 54.2,185.2 54.8,185.2 56.2,183.2 56.5,180.8 57.5,180.2 57.8,180.5 57.5,184.2 58.2,184.8 59.5,183.8 60.2,180.8 61.2,179.5 61.8,180.5 61.2,183.5 61.5,184.2 62.5,184.2 63.8,182.2 63.8,180.5 64.8,179.2 65.5,179.5 65.2,181.2 65.2,183.5 65.5,183.8 66.5,183.5 67.5,182.2 67.5,180.8 68.5,178.8 69.2,179.2 68.8,182.8 70.2,183.2 71.2,181.8 71.5,179.5 72.5,178.2 73.2,178.8 72.5,180.8 72.5,182.2 73.2,182.8 74.5,182.2 75.2,180.8 75.5,178.5 76.2,177.8 76.8,178.2 76.5,181.8 77.5,182.2 78.8,180.8 79.2,178.5 80.2,177.2 80.5,177.5 80.5,179.2 80.2,179.5 80.5,181.8 81.2,181.8 82.5,180.5 82.8,178.2 83.8,176.8 84.5,177.5 83.8,179.5 84.2,181.2 85.2,181.2 86.2,180.2 86.8,178.5 86.8,177.2 87.5,176.5 88.2,176.8 87.8,180.5 88.8,180.8 90.2,179.5 90.5,177.2 91.5,175.8 91.8,176.2 91.8,177.8 91.5,178.2 91.5,179.8 91.8,180.2 92.8,180.2 93.8,179.2 94.5,176.2 95.2,175.5 95.8,175.8 95.2,178.8 95.8,179.8 96.5,179.8 97.5,178.8 98.2,177.5 98.2,175.8 99.2,174.8 99.5,175.2 99.2,178.8 99.5,179.2 100.5,179.2 101.8,177.5 101.8,175.8 102.8,174.2 103.5,174.8 102.8,177.8 103.8,178.8 105.2,177.8 105.8,176.2 105.8,174.8 106.5,173.8 107.2,174.2 106.8,177.8 108.2,178.2 109.5,176.2 109.5,174.5 110.5,173.2 110.8,173.5 110.5,177.2 111.5,177.8 112.8,176.5 113.5,173.5 114.2,172.8 114.8,173.2 114.2,176.2 114.8,177.2 115.5,177.2 116.5,176.2 117.2,174.8 117.2,173.2 118.2,172.2 118.5,172.5 118.2,176.2 118.8,176.8 120.5,175.5 120.8,173.2 121.8,171.5 122.5,172.2 121.8,174.5 122.5,176.2 123.2,176.2 124.2,175.2 124.8,172.2 125.5,171.2 126.2,171.5 125.8,175.2 127.2,175.5 128.2,174.2 128.5,171.8 129.5,170.5 130.2,171.2 129.5,173.2 129.5,174.2 130.2,175.2 131.2,174.8 131.8,173.8 132.2,171.5 133.2,170.2 133.8,170.5 133.5,174.2 134.5,174.5 135.5,173.5 136.2,170.5 137.2,169.5 137.8,170.2 137.2,172.2 137.2,173.5 137.8,174.2 139.2,173.2 139.8,171.8 139.8,170.2 140.8,168.8 141.5,169.2 141.2,173.2 142.2,173.5 143.5,171.5 143.8,169.2 144.8,168.2 145.5,169.2 144.8,172.5 146.2,172.8 147.2,171.5 147.5,168.8 148.5,167.5 149.2,168.2 148.5,171.2 149.2,173.5 150.2,172.8 151.5,170.5 152.2,171.2 152.2,174.2 152.5,174.8 153.2,174.8 153.8,173.5 155.2,172.5 155.5,172.8 155.5,174.8 156.2,175.8 156.8,175.5 158.5,173.2 159.5,176.2 160.2,176.2 161.2,174.5 162.2,173.8 163.2,176.5 165.5,174.2 166.2,174.5 166.5,175.8 167.2,176.5 169.5,173.8 170.5,176.2 171.2,176.2 172.8,173.8 173.8,174.5 174.2,175.8 174.8,175.8 176.8,173.5 177.5,174.2 177.8,175.5 178.5,175.5 180.5,173.2 181.2,173.5 181.5,174.8 182.5,175.2 184.5,172.5 185.5,174.8 186.5,174.5 188.2,172.2 188.8,172.8 189.2,174.2 190.2,174.2 191.8,171.8 192.5,172.2 192.8,173.5 193.8,173.8 195.8,171.2 197.2,173.5 197.8,173.2 199.5,170.8 200.2,171.5 200.5,172.8 201.5,172.8 203.2,170.5 203.8,170.8 204.2,172.2 204.8,172.5 205.5,172.2 207.2,169.8 208.5,172.2 209.2,171.8 210.8,169.5 211.5,169.8 212.2,171.5 214.8,168.8 215.5,169.5 215.5,170.5 216.5,170.8 218.5,168.2 219.2,168.5 219.5,170.2 220.5,170.2 222.2,167.5 223.2,168.2 223.5,169.5 224.2,169.5 226.2,166.5 226.8,166.8 227.2,168.2 227.8,168.5 230.2,165.2 230.8,165.5 231.2,166.8 231.8,167.2 232.8,166.2 234.5,163.2 235.2,163.8 235.2,165.2 235.8,165.5 236.5,164.8 238.8,159.5 239.5,159.8 239.5,162.8 239.8,163.2 242.8,157.8 244.2,160.2 245.8,158.8 246.5,157.8 246.5,156.2 247.2,155.2 247.5,155.5 247.2,158.8 247.8,159.5 248.5,159.5 249.8,158.2 250.8,154.8 251.5,155.2 250.8,157.8 251.8,159.2 253.5,157.8 254.2,156.5 254.2,154.8 254.8,154.2 255.2,154.5 254.8,155.8 255.2,158.5 256.2,158.5 257.2,157.5 257.8,156.2 257.8,154.8 258.5,153.8 258.8,154.2 258.5,157.2 259.5,158.2 260.8,157.2 261.8,155.2 262.8,157.5 264.2,157.2 265.5,155.2 265.5,153.5 266.2,152.8 266.5,153.2 266.2,156.2 266.5,156.8 267.5,156.8 268.8,155.5 269.8,152.2 270.5,152.5 269.8,155.2 270.2,156.2 271.2,156.5 272.5,155.2 273.2,153.5 273.2,152.2 273.8,151.5 274.2,151.8 273.8,153.5 274.2,155.8 275.2,155.8 276.2,154.8 276.8,153.5 276.8,151.8 277.5,151.2 278.2,151.5 277.5,154.2 278.5,155.5 279.8,154.5 280.5,153.2 280.8,150.8 281.5,150.2 281.8,150.5 281.5,154.2 282.2,154.8 283.2,154.5 283.8,153.5 284.5,150.5 285.2,149.8 285.8,150.2 285.2,153.2 285.8,154.2 286.5,154.2 287.8,152.5 288.2,150.2 288.8,149.2 289.5,149.5 289.5,151.2 289.2,151.5 289.2,153.2 289.5,153.5 290.5,153.5 291.8,151.5 291.8,149.8 292.8,148.5 293.5,148.8 293.2,152.8 294.2,152.8 295.2,151.8 295.5,149.5 296.8,147.5 297.5,148.5 297.5,149.5 296.8,150.8 297.5,152.5 298.8,151.5 299.5,148.2 300.5,146.8 301.2,147.2 301.5,148.2 300.8,151.2 301.8,151.5 302.8,150.2 302.8,148.5 304.5,145.8 305.2,146.5 304.8,150.8 305.5,150.8 306.5,149.5 306.8,147.2 308.2,145.2 307.8,143.8ZM65.5,89.8 64.8,90.5 64.2,93.5 64.2,97.8 65.2,101.2 66.2,100.2 66.5,96.2 66.8,95.8 66.5,91.8ZM61.8,89.8 61.2,89.8 60.5,91.2 60.2,94.5 59.8,94.8 60.2,99.5 61.2,102.2 62.2,101.2 62.8,98.2 62.8,93.5ZM57.8,89.5 57.2,89.5 56.5,90.8 56.2,93.2 55.5,93.8 54.8,92.5 54.5,90.2 53.5,89.2 52.8,89.8 52.2,92.5 51.5,93.2 49.8,89.2 49.2,89.5 47.8,92.8 47.2,92.5 46.2,89.5 45.5,89.5 44.8,90.2 44.5,91.8 43.8,92.8 43.2,92.5 42.8,90.8 42.2,89.8 41.2,90.2 39.8,93.5 39.2,92.8 38.5,90.8 38.8,104.2 39.2,105.2 39.2,104.5 39.8,103.8 41.2,106.8 42.2,106.8 43.2,103.8 43.8,103.2 44.8,105.8 45.8,106.5 46.5,105.5 47.2,102.8 47.8,102.5 49.2,105.5 49.8,105.5 51.5,101.2 52.5,102.5 52.8,104.2 53.8,104.5 54.5,103.5 55.5,99.5 56.2,100.2 56.8,103.2 57.8,103.5 59.2,98.5 59.2,94.2 58.5,90.8ZM69.5,88.8 68.8,89.5 68.2,92.5 68.2,97.8 69.2,101.2 70.2,100.2 70.8,97.5 70.8,92.2 70.2,89.5ZM148.5,68.5 147.8,69.5 148.5,70.5 148.8,70.2ZM152.8,67.8 151.8,68.2 151.8,69.8 152.2,70.2 153.2,69.2ZM156.5,66.8 155.5,67.8 155.5,69.5 156.2,70.2 157.2,69.2 157.2,67.8ZM144.2,63.8 144.2,65.5 144.8,65.5 144.8,63.8ZM294.8,63.2 294.2,63.2 293.5,65.5 293.5,70.8 294.5,73.2 295.2,72.2 295.5,70.5 295.5,65.2ZM298.5,62.8 297.8,63.8 297.8,65.5 297.5,65.8 297.5,69.5 297.8,71.2 298.5,72.2 299.2,71.2 299.2,69.5 299.5,69.2 299.5,65.8 299.2,65.5 299.2,63.8ZM290.8,62.8 289.8,63.8 289.5,67.5 289.2,67.8 289.5,72.2 290.5,74.2 291.2,73.5 291.8,70.2 291.8,66.5ZM286.8,62.8 285.8,63.8 285.2,66.8 285.2,71.5 286.2,75.2 287.2,74.8 287.8,72.5 287.8,65.2ZM148.5,62.8 147.8,63.5 147.8,65.2 148.2,65.5 149.2,64.5 149.2,63.5ZM152.2,62.2 151.5,63.2 151.5,64.5 151.8,65.2 152.8,65.2 153.2,62.8 152.8,62.2ZM156.8,61.5 156.2,61.5 155.5,62.2 155.5,64.5 156.2,65.2 157.2,64.2ZM159.8,60.8 159.2,62.2 159.5,64.5 160.5,64.8 161.2,63.8 161.5,62.2 160.8,60.8ZM278.8,57.8 278.5,58.5 278.8,58.5ZM274.5,57.8 274.2,59.2 274.5,60.2 275.2,59.8 275.2,58.2ZM148.5,57.8 147.8,58.8 148.5,59.8 148.8,59.5ZM152.2,57.2 151.8,57.5 151.8,59.2 152.8,59.5 153.2,58.2ZM254.8,56.5 254.8,57.2 255.2,57.2 255.2,56.5ZM156.2,56.5 155.5,57.5 155.5,58.8 156.5,59.5 157.2,58.5 157.2,57.5ZM159.8,56.2 159.5,58.5 160.5,59.2 161.2,57.8 161.2,56.8 160.8,56.2ZM164.5,55.5 163.8,55.5 163.5,56.2 163.5,58.2 164.2,58.8 165.2,57.2ZM168.2,54.8 167.2,56.2 167.5,57.8 168.2,58.5 169.2,56.5 168.8,55.2ZM171.8,54.5 171.2,55.5 171.2,56.8 171.8,57.8 172.5,57.8 172.8,54.8ZM175.8,53.8 175.2,54.8 175.2,56.5 176.2,57.5 176.8,56.5 176.8,54.5ZM180.5,53.5 179.8,53.5 179.2,54.2 179.2,56.2 179.8,57.2 180.8,56.2ZM239.5,51.2 238.2,52.5 238.2,54.5 238.8,55.5 239.5,55.5 240.2,54.5 240.2,51.8ZM246.8,50.8 246.2,51.8 246.2,52.8 246.8,53.8 247.5,53.8 247.8,51.2ZM243.5,50.8 242.2,52.2 242.2,53.8 243.2,54.8 244.2,53.5 244.2,51.8ZM258.8,50.5 258.8,51.2 259.2,51.2 259.2,50.5ZM255.2,50.5 254.5,50.8 254.8,52.5 255.5,51.8ZM250.8,50.5 250.5,50.8 250.5,52.8 251.2,53.2 251.8,52.2 251.8,51.2ZM172.2,50.2 171.8,50.5 172.2,51.2ZM175.8,49.8 175.8,50.5 176.2,50.5 176.2,49.8ZM284.2,66.5 283.2,62.2 282.5,61.8 280.8,67.8 280.2,67.2 279.2,62.2 278.5,61.8 276.8,67.2 276.2,66.5 275.5,62.8 274.8,61.8 274.2,62.8 273.5,66.2 272.8,67.2 272.2,66.2 271.8,63.8 270.8,61.8 271.5,60.2 271.5,58.8 271.2,58.2 270.5,58.2 270.2,58.8 270.5,62.5 269.8,63.8 269.5,66.5 268.8,67.2 268.2,66.2 267.8,63.8 267.2,62.5 267.8,59.8 267.5,58.8 266.5,58.5 266.2,59.2 266.5,62.8 265.5,66.8 264.8,67.5 263.5,63.5 263.8,59.8 263.2,58.8 262.2,59.5 261.8,61.2 262.2,61.5 262.2,64.5 261.5,67.2 260.8,67.8 259.8,64.8 259.8,59.8 259.2,59.2 258.5,59.5 257.8,61.2 258.2,64.8 257.2,68.2 256.2,66.8 256.2,65.2 255.8,64.8 256.2,61.2 255.8,60.2 254.8,59.5 253.8,61.8 254.2,65.5 253.2,68.5 252.5,67.8 252.2,66.5 252.2,61.2 251.2,59.8 251.2,58.2 251.5,57.8 251.2,56.2 250.5,56.8 251.2,59.5 249.8,62.2 250.2,66.2 249.8,67.8 249.2,68.8 248.5,68.2 248.2,66.5 248.5,62.8 247.5,60.5 247.8,57.2 247.5,56.5 246.5,56.8 246.8,60.8 245.8,62.8 246.2,66.8 245.8,68.5 245.2,69.5 244.5,68.5 244.2,66.8 244.5,62.8 243.5,60.8 243.8,56.8 243.2,56.5 242.5,57.2 242.8,61.2 241.8,63.5 242.2,67.5 241.8,69.2 241.2,69.8 240.5,68.5 240.5,63.2 239.8,62.2 240.2,57.8 239.2,56.5 238.2,58.2 238.8,61.8 237.8,64.2 238.2,68.2 237.8,69.8 237.2,70.2 236.5,68.8 236.5,65.8 236.8,65.2 236.5,63.5 235.8,62.5 236.2,57.8 235.5,56.8 236.5,54.5 236.2,52.2 235.2,51.5 234.2,53.2 234.2,54.8 235.2,56.8 234.2,58.5 234.8,62.5 233.8,65.2 234.2,68.8 233.8,70.2 233.2,70.8 232.5,69.2 232.8,65.2 231.8,62.5 232.5,60.2 232.5,58.8 231.8,57.5 231.8,56.5 232.5,55.2 232.5,53.2 231.5,51.8 230.2,53.5 230.2,55.5 230.8,56.5 230.8,57.8 230.2,58.8 230.2,60.5 230.8,63.2 229.8,65.8 230.2,69.5 229.5,71.2 228.8,70.8 228.5,69.2 228.8,65.5 228.2,64.2 228.5,58.8 227.8,57.2 228.5,55.8 228.5,53.5 227.8,52.5 227.2,52.5 226.2,54.2 226.2,55.8 226.8,56.8 226.8,58.2 226.2,59.2 226.2,61.2 226.8,63.8 225.8,66.5 226.2,70.5 225.5,71.8 224.8,70.8 224.8,65.8 224.2,64.5 224.2,62.2 224.8,60.5 224.5,58.8 223.8,57.8 224.8,55.2 224.5,53.8 223.8,52.8 223.2,52.8 222.2,54.8 222.2,56.2 222.8,57.5 222.8,58.5 222.2,59.8 222.8,64.5 221.8,67.5 222.2,68.5 221.5,69.2 220.8,68.5 220.8,66.5 220.2,65.2 220.2,62.8 220.8,61.5 220.2,57.5 220.8,56.2 220.5,54.2 219.5,53.2 218.8,53.8 218.2,55.5 218.2,56.5 218.8,57.8 218.8,59.2 218.2,60.5 218.2,62.2 218.8,63.2 218.5,63.5 218.8,63.8 218.8,65.5 218.2,67.5 217.5,67.8 216.2,65.5 216.8,62.5 216.8,60.5 216.2,59.2 216.2,58.2 216.8,56.8 216.8,55.5 215.5,53.2 216.5,51.5 216.5,49.8 215.8,49.2 215.2,49.2 214.5,50.5 214.5,51.5 215.5,53.5 214.2,56.2 214.8,58.2 214.8,59.8 214.2,60.8 214.2,62.5 214.8,63.5 214.8,65.5 213.8,67.2 212.5,65.8 212.8,60.8 212.2,58.8 212.8,57.5 212.8,55.5 211.5,53.8 212.5,52.2 212.5,50.2 211.5,49.5 210.5,51.2 210.8,52.8 211.5,53.5 211.5,54.2 210.5,55.5 210.5,58.2 211.2,59.5 210.2,61.5 210.2,62.8 210.8,64.2 210.8,65.5 209.5,67.2 208.5,65.5 208.5,64.2 209.2,62.8 208.2,59.8 208.8,58.2 208.8,55.8 207.8,54.5 208.5,52.8 208.5,50.5 207.2,50.2 206.8,53.2 207.5,53.8 207.5,54.5 206.5,56.2 206.5,58.5 207.2,60.2 206.2,62.2 206.8,65.5 205.8,67.2 205.2,66.8 204.5,65.5 205.2,62.2 204.2,60.2 204.8,58.8 204.8,56.5 203.8,54.8 204.5,53.5 204.2,50.5 203.5,50.5 202.8,51.5 202.8,53.5 203.5,54.5 202.5,56.8 202.5,58.8 203.2,60.5 202.2,63.5 202.8,64.8 202.8,65.8 201.8,67.2 200.5,65.8 201.2,64.2 201.2,62.5 200.5,61.5 200.5,59.8 201.2,57.8 199.8,55.5 200.8,52.8 200.8,52.2 199.8,50.8 198.8,51.8 198.8,53.8 199.5,54.8 199.5,55.8 198.5,57.5 198.5,59.2 199.2,61.2 198.5,62.5 198.8,66.2 197.8,67.8 196.5,66.2 197.2,64.8 197.2,62.8 196.5,61.8 197.2,57.8 195.8,55.8 196.8,53.8 196.8,52.5 196.2,51.5 195.5,51.5 194.8,52.5 194.8,54.2 195.8,55.8 194.5,58.2 194.5,59.5 195.2,60.8 195.2,61.8 194.5,63.2 194.5,65.2 195.2,66.2 193.8,68.2 192.5,66.5 193.2,65.2 193.2,63.2 192.5,62.2 193.2,58.2 191.8,56.2 192.8,54.2 192.8,52.8 191.8,51.8 190.8,53.2 190.8,54.5 191.8,56.2 190.5,58.8 190.5,59.8 191.2,61.2 191.2,62.5 190.5,63.5 190.5,65.5 191.2,66.8 190.2,68.5 188.5,66.8 189.2,65.8 189.2,63.5 188.5,62.5 188.5,61.5 189.2,60.2 189.2,58.5 187.8,56.5 188.8,54.8 188.8,53.2 188.2,52.5 187.5,52.5 186.8,54.5 187.8,56.8 186.5,59.5 187.2,61.5 186.5,65.8 187.2,67.2 186.8,68.2 185.8,69.2 184.8,67.8 185.5,65.2 184.5,62.8 185.2,60.8 185.2,58.8 183.8,57.2 184.8,55.5 184.8,53.5 183.8,52.8 183.2,53.5 183.2,55.8 183.8,57.5 182.8,58.8 182.8,61.5 183.5,62.8 182.5,65.2 183.2,67.8 182.2,69.5 180.5,67.8 181.5,65.5 180.5,63.5 181.2,61.5 181.2,59.2 180.2,57.8 178.8,59.5 178.8,61.8 179.5,63.5 178.8,64.8 179.2,68.5 178.2,70.2 177.5,69.8 176.5,68.2 177.2,67.5 177.5,66.2 176.5,63.8 177.2,62.2 177.2,59.8 175.8,58.5 174.8,60.2 174.8,62.2 175.5,63.2 175.5,64.2 174.8,65.5 174.8,67.2 175.5,68.5 174.2,70.8 172.8,69.2 173.2,67.8 173.2,65.2 172.5,64.2 173.2,62.5 172.8,59.5 171.8,59.2 170.8,61.2 170.8,62.2 171.5,63.5 170.8,67.5 171.5,69.2 170.2,71.2 169.5,70.8 168.5,69.2 169.2,68.2 169.2,65.8 168.5,64.2 169.5,61.8 169.2,60.5 168.2,59.5 167.5,60.2 166.8,62.2 167.8,64.5 167.2,66.2 167.2,68.5 167.8,69.2 166.2,71.8 164.5,69.5 165.2,68.5 165.2,66.5 164.5,65.5 164.5,64.5 165.2,63.5 165.5,61.8 165.2,60.8 164.2,60.2 163.2,61.5 163.2,63.5 164.2,65.2 163.2,66.8 163.2,68.5 163.8,69.8 162.2,72.5 160.5,70.2 161.2,68.8 161.2,67.2 160.2,66.2 159.5,67.2 159.5,69.2 160.2,70.2 158.5,72.8 156.2,70.8 155.5,71.5 155.2,72.8 154.2,73.8 152.5,71.5 151.8,71.8 150.5,74.5 149.8,74.2 148.8,72.5 148.2,72.5 146.5,75.5 145.8,75.2 144.8,73.5 144.2,73.5 143.5,74.5 143.2,76.2 142.5,76.8 141.5,75.8 141.2,74.8 140.2,74.8 139.2,77.8 138.5,78.5 137.5,76.8 136.5,76.2 135.8,77.2 135.2,80.2 134.5,80.8 132.8,78.2 132.2,78.8 131.5,82.2 130.8,83.5 130.2,83.2 129.5,80.5 128.8,79.8 128.2,79.8 126.8,83.2 126.2,82.8 125.5,80.5 124.5,79.8 122.8,83.5 122.2,83.2 121.8,81.5 120.8,80.2 118.8,83.8 118.2,83.2 117.5,81.2 116.5,80.8 114.8,84.5 113.2,81.2 112.2,81.8 111.5,84.2 110.8,84.8 109.8,82.5 109.2,81.8 108.5,81.8 107.5,84.8 106.8,85.5 106.2,84.5 105.8,82.8 104.8,82.2 104.2,82.8 103.2,85.8 102.5,85.5 101.5,82.8 100.8,82.8 100.2,83.5 99.2,86.5 97.2,83.2 96.2,84.2 95.2,87.2 94.5,86.5 94.2,84.8 93.5,83.8 92.5,84.2 91.2,87.5 90.5,86.8 89.8,84.8 88.8,84.5 88.2,85.5 87.8,87.5 87.2,88.2 86.5,87.5 85.8,85.2 85.2,84.8 84.5,85.5 83.8,88.2 83.2,89.2 81.5,85.5 80.8,85.8 79.8,89.2 79.2,89.8 77.8,86.5 77.2,86.5 76.2,88.5 75.8,90.8 75.2,91.5 74.2,88.2 73.5,87.5 72.8,88.2 72.2,90.2 71.8,97.5 72.5,100.5 73.2,101.5 74.2,100.8 75.2,97.2 75.8,97.8 76.2,100.2 77.2,101.8 77.8,101.5 79.2,97.8 79.8,98.5 80.8,101.5 81.8,101.2 83.2,97.8 85.2,101.5 85.8,100.8 87.2,97.5 88.8,100.8 89.8,100.5 90.5,97.8 91.2,97.2 91.8,98.2 92.2,99.8 92.8,100.5 93.5,100.5 94.5,97.5 95.2,96.8 95.8,97.8 96.2,99.5 97.2,100.2 99.2,96.5 100.2,99.2 101.2,99.8 102.8,96.2 103.5,96.5 103.8,98.2 104.8,99.5 105.8,98.5 106.2,96.8 106.8,95.8 107.5,96.2 108.2,98.5 109.2,98.8 110.8,95.2 111.5,95.8 111.8,97.5 112.5,98.5 113.5,97.8 114.2,95.5 114.8,94.8 115.5,95.5 115.8,97.2 116.5,97.8 117.2,97.8 118.2,94.8 118.8,94.2 120.5,97.5 121.5,96.8 122.5,93.8 123.2,94.2 124.2,96.8 124.8,96.8 125.5,96.2 126.5,93.2 127.2,93.5 128.2,96.2 129.2,96.8 130.5,92.8 131.2,93.8 131.5,96.5 132.5,98.8 133.2,98.5 133.8,96.5 134.5,95.8 135.2,96.5 135.8,99.2 136.5,99.8 137.2,99.5 138.5,97.2 140.5,100.5 141.5,99.5 142.2,97.8 143.2,98.5 144.2,100.5 145.5,99.5 146.5,97.8 148.2,100.2 148.8,100.2 150.2,97.8 152.5,99.8 153.5,98.2 154.5,97.5 156.2,99.5 156.8,99.2 158.2,96.8 158.8,97.2 159.8,98.8 160.5,98.8 162.2,96.2 163.8,98.2 164.5,98.2 166.2,95.5 167.8,97.5 168.5,97.5 170.2,94.8 171.5,96.8 172.5,96.8 173.8,94.5 175.5,96.2 176.5,96.2 177.8,93.8 179.8,95.8 180.5,95.5 181.8,93.2 184.2,95.2 185.8,92.5 186.5,92.8 187.5,94.5 188.2,94.5 189.8,91.8 191.5,93.8 192.2,93.8 193.8,91.2 195.2,93.2 196.2,93.2 197.8,90.5 199.2,92.5 200.2,92.5 201.8,89.8 202.8,91.5 203.8,91.8 205.5,89.2 207.8,91.2 209.5,88.2 210.2,88.5 211.2,90.2 211.8,90.2 213.5,87.2 215.5,89.2 217.5,85.5 219.5,87.5 220.2,86.8 221.5,83.5 223.2,85.8 224.5,83.8 224.8,81.5 225.5,80.8 226.8,83.8 227.8,83.8 229.2,80.5 229.8,80.8 230.8,83.5 231.5,83.5 232.2,82.8 233.2,80.2 233.8,80.5 234.8,83.2 235.5,83.2 236.2,82.5 237.2,79.5 237.8,80.2 238.8,82.8 239.5,82.8 241.2,79.2 241.8,79.8 242.8,82.5 243.8,81.8 245.2,78.5 246.8,81.8 247.5,81.8 248.5,78.8 249.2,78.2 249.8,78.8 249.8,79.8 250.5,81.2 251.2,81.5 251.8,80.8 252.5,78.2 253.2,77.5 254.5,80.8 255.2,80.8 255.8,80.2 256.8,77.2 257.5,77.5 258.2,79.8 259.2,80.5 260.8,76.5 261.5,76.8 262.5,79.8 263.5,79.5 264.2,76.8 264.8,75.8 265.5,76.2 266.2,78.8 267.2,79.2 268.8,74.8 270.2,78.2 271.2,78.5 272.8,74.2 274.2,77.5 275.2,77.8 276.2,75.2 276.2,73.8 276.8,72.8 278.2,76.8 278.5,77.2 279.2,76.8 280.2,73.8 280.2,72.5 280.8,71.5 281.8,75.5 282.8,76.2 283.5,75.2 284.2,72.2ZM179.8,49.2 179.8,50.2 180.2,50.2 180.2,49.2ZM219.8,48.8 219.2,48.8 218.5,49.8 218.5,51.2 219.5,52.5 220.5,50.8 220.5,49.8ZM183.8,48.5 183.5,49.2 184.2,49.8ZM223.8,48.2 223.2,48.2 222.5,49.2 222.5,50.8 223.2,51.8 224.2,51.2 224.5,49.8ZM188.2,48.2 187.5,48.5 187.8,49.5ZM227.8,47.8 227.2,47.8 226.5,48.8 226.5,50.2 227.5,51.5 228.2,50.5 228.2,48.2ZM230.8,47.5 230.5,49.8 231.5,50.8 232.2,49.8 232.2,47.8ZM191.8,47.5 191.5,48.8 192.2,48.8ZM195.5,47.2 195.5,48.5 195.8,48.5 196.2,47.5ZM235.2,46.8 234.5,47.8 234.5,49.5 235.5,50.2 236.2,49.2 236.2,47.8ZM239.5,46.5 238.5,47.2 238.5,49.2 239.2,49.8 240.2,48.2ZM199.8,46.5 199.5,47.8 200.2,47.5ZM243.5,46.2 242.8,46.2 242.5,46.8 242.5,48.5 243.2,49.2 243.8,48.5 243.8,46.5ZM203.5,46.2 203.5,47.5 203.8,47.5 204.2,46.5ZM254.8,45.8 254.8,46.5 255.2,46.5 255.2,45.8ZM246.8,45.8 246.5,46.2 246.5,47.8 247.5,48.2 247.8,46.5 247.5,45.8ZM207.8,45.8 207.2,46.5 207.5,47.2ZM251.2,45.5 250.5,46.2 250.8,47.5 251.5,47.2ZM211.5,45.2 211.2,46.2 211.8,46.5ZM215.8,44.8 215.2,45.2 215.5,46.2ZM219.8,44.5 219.2,44.8 219.5,45.5ZM223.5,43.8 223.2,44.8 223.8,44.5ZM227.5,43.5 227.2,43.8 227.5,44.5ZM231.5,43.2 231.2,43.8 231.5,43.8Z" fill="#830924" fill-rule="evenodd"/>
<path d="M49.5,174.5 49.2,174.8 49.5,176.2 49.8,175.8ZM53.5,174.2 52.5,174.5 52.2,176.8 50.8,178.8 51.8,182.5 53.5,179.5 53.5,177.8 53.2,177.5ZM57.2,173.5 56.2,174.2 55.8,176.5 54.2,179.5 54.5,180.5 54.2,184.5 54.8,184.5 55.5,183.8 55.8,181.5 57.5,178.5 56.8,176.5 57.5,174.8ZM60.8,172.8 59.8,173.8 59.5,176.2 58.2,178.2 58.2,180.5 58.5,180.8 57.8,182.8 58.2,184.2 59.2,183.5 59.5,181.2 61.2,178.5 60.8,176.8 61.2,173.2ZM68.8,171.8 67.8,172.2 67.2,173.5 67.2,174.8 65.5,177.8 64.8,177.2 64.5,175.5 65.2,172.8 64.2,172.5 63.5,173.5 63.5,175.2 61.8,177.8 61.8,179.5 62.2,179.8 61.8,183.5 62.8,183.2 63.5,180.5 65.2,177.5 65.8,178.8 65.5,182.8 66.2,183.2 66.8,182.5 67.2,180.2 68.8,177.5 68.5,175.8ZM137.2,162.8 136.5,162.8 135.8,163.5 135.5,165.8 133.8,168.8 133.2,167.5 133.5,163.5 132.8,163.2 131.8,164.5 131.8,166.2 130.2,168.8 129.5,168.5 129.2,166.8 129.8,164.2 128.8,163.8 128.2,164.8 127.8,167.2 126.2,169.5 125.5,167.8 125.8,164.2 125.2,164.2 124.5,164.8 124.2,167.2 122.5,169.8 121.8,168.8 121.8,166.5 122.2,166.2 121.8,164.5 120.8,165.2 120.2,168.2 118.8,170.2 118.2,169.8 117.8,168.5 118.5,165.5 117.5,165.2 116.8,165.8 116.5,168.2 114.8,170.8 114.2,169.5 114.2,167.8 114.5,167.5 114.5,165.8 114.2,165.5 113.2,166.2 112.5,169.2 111.2,171.2 110.5,170.5 110.8,166.5 109.8,166.2 108.8,168.2 108.8,169.5 107.5,171.5 106.8,171.2 106.5,169.2 107.2,167.8 107.2,167.2 106.5,166.5 105.8,166.8 105.2,168.2 105.2,169.5 103.5,172.2 102.8,171.2 103.2,167.2 102.5,167.2 101.5,168.2 101.2,170.5 99.8,172.5 99.2,172.2 98.8,170.8 99.5,169.2 99.5,167.8 98.8,167.5 97.8,168.5 97.5,170.8 95.8,173.2 95.2,172.2 95.5,168.2 94.8,168.2 94.2,168.8 93.5,171.8 92.2,173.5 91.5,173.2 91.8,168.8 90.8,168.8 90.2,169.5 89.8,171.8 88.2,174.2 87.5,172.8 88.2,169.8 87.8,169.2 87.2,169.2 86.2,170.5 86.2,172.2 84.5,174.8 83.8,173.8 84.2,169.8 82.8,170.2 82.2,173.2 80.8,175.2 80.2,174.8 79.8,172.8 80.5,171.5 80.5,170.8 79.8,170.2 78.8,171.2 78.5,173.5 76.8,175.8 76.2,174.8 76.5,170.8 75.8,170.8 74.8,172.2 74.8,173.8 73.2,176.5 72.5,176.2 72.2,174.5 72.8,171.8 71.8,171.5 71.2,172.5 70.8,174.8 69.5,176.8 69.8,179.8 69.2,182.2 69.5,182.5 70.5,182.2 71.2,179.2 72.8,176.8 73.5,178.2 73.2,182.2 73.8,182.2 74.5,181.5 74.8,179.2 76.5,176.5 77.2,177.2 76.8,181.5 77.8,181.5 78.5,180.5 78.8,178.2 80.2,176.2 80.8,176.5 81.2,177.8 80.5,180.8 81.5,181.2 82.5,179.5 82.5,177.8 84.2,175.5 84.8,176.8 84.8,178.5 84.5,178.8 84.5,180.5 84.8,180.8 85.8,180.2 86.2,177.8 87.8,175.2 88.5,175.8 88.2,179.8 88.5,180.2 89.5,179.8 90.2,178.2 90.2,176.8 91.5,174.8 92.2,175.2 92.5,177.2 91.8,178.5 91.8,179.2 92.5,179.8 93.5,178.8 94.2,175.8 95.5,174.2 96.2,175.2 95.8,179.2 96.5,179.2 97.5,178.2 97.8,175.8 99.2,173.8 99.8,174.2 100.2,175.5 99.5,177.2 99.5,178.2 100.2,178.8 101.2,177.8 101.5,175.5 103.2,173.2 103.8,174.2 103.5,178.2 104.2,178.2 104.8,177.5 105.5,174.5 106.8,172.8 107.5,173.2 107.2,177.5 108.2,177.5 109.2,175.8 109.2,174.2 110.8,172.2 111.5,173.5 110.8,176.5 111.2,177.2 111.8,177.2 112.5,176.5 112.8,174.2 114.5,171.5 115.2,172.5 114.8,176.5 115.8,176.5 116.5,175.5 116.8,173.2 118.2,171.2 118.8,171.5 119.2,173.5 118.5,174.8 118.5,175.5 119.2,176.2 120.2,175.2 120.5,172.8 122.2,170.5 122.8,171.5 122.5,175.5 123.2,175.5 124.2,174.2 124.2,172.5 125.8,169.8 126.5,170.2 126.8,171.8 126.2,174.5 127.2,174.8 127.8,173.8 128.2,171.5 129.8,168.8 130.5,170.5 130.2,174.2 130.5,174.5 131.2,174.2 131.8,172.8 131.8,171.2 133.5,168.5 134.2,169.2 134.5,170.8 133.8,173.5 134.5,173.8 135.2,173.2 135.5,171.2 137.2,168.5 137.2,166.8 136.8,166.5ZM140.8,162.2 139.8,162.8 139.5,165.2 137.8,167.8 138.2,169.5 137.8,173.2 138.5,173.2 139.2,172.5 139.5,170.2 140.8,168.2 140.8,165.8 140.5,165.5 141.2,163.5ZM144.8,161.8 144.2,161.8 143.5,162.5 143.2,164.8 141.5,167.8 142.2,169.8 141.5,171.5 141.8,172.8 142.8,172.2 143.2,169.8 144.8,167.2 144.5,165.8ZM148.2,161.2 147.2,162.5 147.2,163.8 145.5,166.8 145.5,168.5 145.8,168.8 145.5,172.2 146.5,171.8 146.8,169.5 148.5,166.8 148.5,165.2 148.2,164.8 148.5,161.5ZM180.5,149.5 179.8,149.8 180.2,150.2ZM188.2,148.2 187.5,148.5 187.5,149.5 188.2,148.8ZM191.8,147.5 191.2,147.8 191.2,148.8 191.8,148.5 192.2,147.8ZM195.8,146.8 194.8,147.5 194.8,148.5 195.5,148.5ZM199.5,146.2 198.5,147.5 198.8,148.2 199.8,146.8ZM203.5,145.8 202.8,145.8 202.5,147.5 203.5,146.8ZM240.5,145.2 239.8,145.2 239.2,146.5 239.5,147.5 240.5,146.5ZM207.2,145.2 206.2,146.2 206.5,147.2 207.2,146.5ZM244.2,144.8 243.2,145.5 243.5,146.8 244.2,146.2ZM210.8,144.8 210.2,145.2 210.2,146.5 211.2,145.5ZM247.8,144.5 247.2,144.8 247.2,145.8 247.8,145.5ZM251.5,144.2 251.2,145.2 251.5,145.2ZM214.5,144.2 213.8,145.8 214.5,145.8 214.8,145.2ZM218.5,143.8 217.8,144.2 217.8,145.5 218.5,144.8ZM317.8,143.5 317.5,143.8 317.8,144.5 318.2,144.2ZM307.2,143.5 305.5,145.2 305.5,146.8 305.8,147.2 306.5,147.2 307.5,145.8 307.5,143.8ZM303.5,143.5 302.2,144.5 301.5,145.8 301.5,147.2 302.2,148.5 301.5,149.8 301.5,150.8 302.2,150.5 302.2,148.5 303.8,146.2 303.8,143.8ZM221.8,143.5 221.5,144.8 222.2,144.5 222.5,143.8ZM314.5,143.2 313.5,144.2 313.8,145.5 314.8,144.5ZM310.8,143.2 309.5,144.5 309.5,146.2 309.8,146.5 311.2,145.2 311.2,143.5ZM226.2,143.2 225.5,143.5 225.5,144.2 225.8,144.2ZM229.8,142.8 229.5,142.8 229.5,143.5ZM289.5,142.8 289.2,142.2 288.2,142.5 287.5,143.8 287.5,145.5 285.8,147.8 285.2,146.5 285.2,144.8 285.5,144.5 285.5,142.8 285.2,142.5 284.2,143.2 283.5,146.2 282.2,147.8 281.5,147.5 281.8,143.2 280.8,143.2 279.8,144.8 279.8,146.2 278.2,148.5 277.5,146.8 278.2,145.2 278.2,143.8 277.2,143.5 276.2,144.8 275.8,147.2 274.5,148.8 273.8,147.8 273.8,146.5 274.5,145.2 273.8,143.8 272.8,144.5 272.2,145.8 272.2,147.5 270.8,149.2 270.2,148.8 270.5,144.8 269.5,144.5 268.5,145.8 268.2,148.2 266.8,149.8 266.2,148.5 266.8,145.5 266.2,144.8 265.2,145.5 264.5,147.2 264.5,148.5 263.2,150.2 262.5,149.5 262.5,148.2 263.2,146.5 262.8,145.5 261.5,145.8 260.8,147.2 260.5,149.5 259.5,150.5 258.8,150.2 259.2,146.2 258.5,145.8 257.2,147.2 256.8,149.5 255.5,151.2 254.8,150.2 255.5,147.2 255.2,146.5 254.5,146.5 253.5,147.5 253.2,149.8 251.8,151.8 251.2,151.2 251.2,149.5 251.5,149.2 251.5,147.2 251.2,146.8 249.8,147.8 249.2,150.8 248.2,152.2 247.5,151.8 247.2,150.8 247.8,149.2 247.8,147.8 246.8,147.5 245.8,148.5 245.5,151.2 244.2,152.8 243.5,152.2 243.8,148.2 242.8,148.2 241.8,149.5 241.8,151.2 240.5,153.2 239.8,152.8 239.8,150.8 240.2,150.5 240.2,148.8 239.8,148.5 239.2,148.5 238.5,149.2 237.5,152.5 236.8,153.2 236.5,152.8 236.2,147.8 236.8,147.2 236.8,145.5 235.8,145.8 235.5,148.2 233.5,151.2 232.8,149.5 233.2,146.2 232.5,145.8 231.5,147.2 231.5,148.2 230.2,149.8 229.5,149.5 229.2,147.8 229.5,146.8 229.2,146.5 228.2,146.8 226.5,149.5 225.8,148.8 225.8,147.5 225.2,146.5 224.5,146.8 222.8,149.2 222.2,148.8 222.2,147.5 221.5,146.5 219.2,149.5 218.5,148.8 218.2,147.2 217.5,146.8 215.5,149.5 214.8,149.2 214.5,147.5 213.8,147.2 211.8,149.8 211.2,149.5 210.5,147.5 209.8,147.5 208.8,149.2 207.5,150.2 206.5,147.8 205.8,148.2 203.8,150.8 202.8,148.5 202.2,148.5 200.2,151.2 199.2,148.8 198.5,148.8 196.5,151.5 195.8,151.2 195.8,150.2 194.8,149.2 192.5,152.2 191.5,149.8 190.8,149.8 188.8,152.5 188.2,151.8 187.8,150.2 187.2,150.2 185.2,152.8 184.5,152.5 183.8,150.5 182.8,151.2 181.2,153.5 180.5,152.5 180.5,151.5 179.5,151.2 177.5,154.2 176.8,153.5 176.8,152.5 176.2,151.5 173.8,154.5 173.2,154.2 172.8,152.8 172.2,152.2 169.8,155.5 169.2,154.8 168.8,153.2 168.2,153.2 165.8,156.5 165.2,155.5 165.2,154.5 164.5,153.8 161.8,157.8 161.2,156.5 161.2,155.5 160.5,155.2 157.8,159.5 157.2,158.5 157.2,156.8 156.5,156.5 154.8,159.5 153.2,163.8 152.8,163.5 152.8,158.8 152.5,158.8 151.5,160.2 150.2,164.8 149.2,166.5 149.5,167.5 149.2,171.5 149.5,171.8 150.2,171.5 152.5,166.5 152.8,166.8 152.5,172.5 153.2,173.5 155.5,170.2 155.8,170.5 155.8,173.2 156.5,174.5 158.8,171.5 159.8,174.8 160.5,174.8 161.8,172.5 162.5,172.2 163.5,175.2 164.8,174.2 165.8,172.5 166.5,172.8 166.5,173.8 167.2,175.2 168.5,174.2 169.5,172.5 170.2,172.8 170.5,174.8 171.2,175.2 173.5,172.2 174.2,174.2 174.8,174.8 177.2,172.2 177.8,172.8 177.8,173.8 178.8,174.5 180.8,171.8 181.5,172.2 181.8,173.8 182.5,174.2 184.8,171.2 185.8,173.5 186.5,173.5 188.5,170.8 189.2,171.5 189.5,173.2 190.2,173.2 192.2,170.5 192.8,170.8 193.2,172.5 193.8,172.8 196.2,169.8 197.2,172.2 197.8,172.2 199.8,169.5 200.5,170.2 200.8,171.5 201.5,171.8 203.5,169.2 204.2,169.5 204.8,171.5 205.8,170.8 207.5,168.5 208.5,170.8 209.2,170.8 211.2,168.2 211.8,168.5 212.5,170.5 213.2,170.2 214.8,167.5 215.5,167.8 215.8,169.2 216.5,169.8 218.8,166.8 219.5,167.2 219.5,168.2 220.2,169.2 220.8,168.8 221.8,166.8 222.8,165.8 223.5,166.5 223.5,167.8 224.5,168.2 226.8,164.5 227.5,165.8 227.5,166.8 228.2,167.2 230.8,163.2 231.5,164.2 231.5,165.5 232.2,165.8 233.5,163.8 234.5,160.8 235.2,160.2 235.5,160.5 235.5,163.2 236.2,163.8 237.8,160.8 238.8,157.5 238.8,156.2 239.8,155.2 240.5,155.8 240.2,157.5 240.2,160.5 240.5,160.5 241.8,159.2 242.2,156.8 243.5,154.8 244.2,155.2 243.8,159.2 244.5,159.5 245.5,158.8 246.2,155.8 247.5,154.2 248.2,155.2 248.2,156.2 247.5,157.5 247.8,158.8 249.2,158.5 249.8,157.2 249.8,155.5 251.2,153.8 251.8,154.2 251.5,158.2 252.2,158.5 253.5,157.2 253.8,154.5 254.8,153.2 255.5,153.5 255.8,154.5 255.2,156.2 255.2,157.5 256.2,157.8 257.2,156.8 257.5,154.5 258.8,152.5 259.5,153.5 259.5,154.8 258.8,156.5 259.8,157.5 260.8,156.5 261.2,154.2 262.5,152.2 263.2,152.5 262.8,156.5 263.8,156.8 264.8,155.5 265.2,153.2 266.5,151.5 267.2,152.5 266.5,155.8 267.2,156.5 268.2,155.8 268.8,154.5 268.8,152.8 270.2,151.2 270.8,151.5 270.5,155.5 271.5,155.8 272.5,154.2 272.5,152.8 273.8,150.5 274.8,151.5 274.2,154.8 275.2,155.2 276.2,154.2 276.5,151.8 277.8,149.8 278.5,150.5 278.2,154.5 278.8,154.8 279.8,153.8 280.2,151.5 281.8,149.2 282.5,150.5 281.8,153.5 282.2,154.2 282.8,154.2 283.8,152.8 283.8,151.2 285.5,148.5 286.2,149.2 285.8,153.5 286.5,153.5 287.5,152.5 287.5,150.8 289.2,148.2 288.8,144.5ZM292.8,141.8 291.8,142.5 291.5,144.5 289.8,147.2 289.8,148.8 290.2,149.2 290.2,150.5 289.5,152.2 289.8,152.8 290.8,152.5 291.5,149.5 292.8,147.5 292.8,145.5 292.5,145.2 292.5,144.2 293.2,142.8ZM296.5,141.5 295.5,142.2 295.5,143.8 293.8,146.5 294.2,149.8 293.5,151.2 293.5,152.2 294.2,152.2 294.8,151.5 295.2,149.2 296.5,147.2 296.5,144.8 296.2,144.5 296.8,142.5ZM300.2,141.2 299.5,141.8 299.5,143.2 297.5,146.5 297.8,147.8 297.5,151.5 298.5,151.2 298.8,148.8 300.2,146.8 300.2,144.2 299.8,143.8 300.5,141.8ZM65.5,91.8 64.8,92.8 64.8,98.2 65.2,99.2 65.8,98.8 66.2,97.5 66.2,93.2ZM61.2,91.5 60.5,93.8 60.5,98.5 60.8,99.8 61.5,100.5 62.2,99.2 62.5,95.2 62.2,94.8 62.2,92.5ZM69.8,90.8 69.2,90.8 68.5,93.5 68.5,96.8 68.8,98.5 69.5,99.5 70.2,98.2 70.2,96.2 70.5,95.8ZM57.8,90.8 56.8,91.5 56.2,94.8 56.2,98.5 57.2,102.2 58.2,101.2 58.5,97.2 58.8,96.8 58.5,92.8ZM53.8,90.5 53.2,90.8 52.5,92.5 52.2,96.5 51.8,96.8 52.5,101.8 53.5,103.5 54.2,102.8 54.8,100.2 54.8,93.5ZM49.8,90.5 48.8,91.5 47.8,95.2 47.2,94.8 46.8,92.5 45.8,90.5 44.8,91.5 43.8,95.2 43.2,94.5 42.5,91.5 41.8,90.8 40.8,92.2 39.8,95.8 39.2,94.8 38.5,92.2 38.8,104.2 39.2,102.5 39.8,101.5 40.8,104.8 41.8,105.8 42.5,105.2 43.2,101.8 43.8,101.2 44.8,104.5 45.8,105.2 46.8,103.2 47.2,100.5 47.8,99.8 49.2,104.2 49.5,104.5 50.2,103.8 51.2,100.2 51.2,94.5 50.5,91.5ZM73.8,89.2 73.2,89.2 72.2,93.2 72.2,96.5 73.2,100.2 73.8,99.8 74.5,97.8 74.5,91.2ZM77.2,87.8 76.2,90.2 75.8,95.8 76.2,96.2 76.5,99.5 77.5,100.5 78.5,98.2 78.5,96.5 78.8,96.2 78.8,91.5 78.2,88.5ZM129.5,81.8 128.8,80.8 128.2,81.2 127.2,85.2 126.5,85.5 125.2,81.2 124.5,81.2 123.8,82.2 122.8,85.8 122.2,85.2 121.8,82.8 121.2,81.5 120.5,81.5 118.8,86.2 118.2,85.2 117.8,83.2 116.8,81.8 115.8,83.2 115.5,85.5 114.8,86.5 114.2,85.5 113.5,82.8 112.5,82.5 111.8,83.8 111.5,86.2 110.8,87.2 109.8,83.8 108.8,82.8 108.2,83.5 107.5,86.8 106.8,87.5 105.5,83.5 104.5,83.5 103.5,87.5 102.8,88.2 102.2,85.5 101.5,84.2 100.8,83.8 100.2,84.8 99.2,88.5 98.5,88.2 98.2,85.8 97.5,84.5 96.8,84.5 96.2,85.5 95.2,89.5 94.5,88.8 94.5,87.5 93.8,85.5 93.2,84.8 92.2,86.2 91.8,88.8 91.2,90.2 90.5,89.2 90.2,86.8 89.2,85.5 88.5,86.2 87.2,91.2 86.5,89.8 86.2,87.2 85.2,86.2 84.5,86.8 83.8,89.2 83.8,90.8 83.2,92.2 82.2,87.8 81.2,86.8 80.2,88.8 79.8,92.8 79.5,93.2 79.8,97.2 80.5,99.5 81.2,100.5 81.8,99.8 83.2,94.5 84.8,100.2 85.5,100.2 86.2,98.8 86.5,96.2 87.2,94.8 88.8,99.8 89.8,99.2 90.5,95.8 91.2,94.8 92.8,99.5 93.5,99.2 94.2,97.8 94.5,95.2 95.2,94.5 96.2,98.2 96.8,99.2 97.8,98.2 98.8,94.5 99.5,94.8 100.5,98.5 101.5,98.2 102.8,94.2 103.5,94.5 104.5,98.2 105.2,98.2 105.8,97.2 106.8,93.5 107.5,94.2 107.8,96.5 108.8,97.8 109.8,96.5 110.8,93.2 111.5,93.8 112.2,96.8 113.2,97.2 114.8,92.5 116.5,96.8 117.5,96.2 118.2,92.8 118.8,92.2 120.2,95.8 121.2,96.2 122.2,92.2 122.8,91.5 123.8,94.8 124.8,95.8 125.5,94.8 126.5,90.8 127.2,91.2 127.5,93.5 128.2,94.8 128.8,94.8 129.5,93.8 130.2,90.8 130.2,84.8ZM160.2,67.5 159.8,68.5 160.5,68.8 160.5,67.5ZM164.5,66.5 163.8,66.8 163.8,68.5 164.5,68.5 164.8,67.8ZM298.5,65.8 298.2,66.5 298.5,69.5 298.8,68.5ZM168.5,65.8 167.5,66.5 167.5,67.8 168.2,68.5 168.8,67.8ZM294.5,65.5 294.2,65.8 294.2,70.2 294.5,70.8 294.8,70.2 294.8,65.8ZM172.5,65.2 171.8,65.2 171.5,65.8 171.5,67.8 171.8,68.2 172.8,67.5ZM290.8,64.8 290.2,65.2 289.8,66.5 289.8,70.8 290.5,72.2 291.2,71.2 291.2,65.8ZM286.5,64.5 285.8,65.8 285.5,69.8 285.8,70.2 285.8,72.5 286.8,73.5 287.5,71.5 287.5,66.2 286.8,64.5ZM175.8,64.5 175.2,65.8 175.2,66.8 176.2,67.8 176.8,67.2 176.8,65.2ZM282.5,64.2 281.5,67.5 281.5,71.8 282.2,74.5 282.8,74.8 283.8,71.2 283.8,67.5 283.2,64.5ZM278.5,64.2 277.5,67.2 277.5,72.8 278.2,75.5 278.8,75.8 279.8,73.2 279.8,66.5 279.2,64.5ZM267.2,63.8 266.5,63.8 266.2,64.5 266.2,66.2 265.2,70.2 265.5,75.2 266.2,77.5 266.8,78.2 267.5,77.5 268.5,73.2 268.5,69.2ZM179.8,63.8 179.2,64.8 179.2,66.8 180.2,67.5 180.8,66.5 180.8,64.5ZM274.5,63.5 273.5,67.2 273.5,73.8 274.2,76.2 275.2,76.5 276.2,72.5 276.2,67.8 275.5,64.8 274.8,64.2 275.2,63.8ZM271.2,63.5 270.2,64.5 270.2,65.8 269.5,67.5 269.5,69.8 269.2,70.2 269.5,74.5 270.2,76.8 270.8,77.5 272.2,74.2 272.2,67.5ZM152.2,63.5 152.5,64.2 152.5,63.5ZM184.2,63.2 183.5,63.5 182.8,65.5 183.8,67.2 184.8,66.2 184.8,64.2ZM156.2,62.5 155.8,63.8 156.5,64.2 156.8,62.8ZM160.5,61.5 159.8,61.8 159.5,62.8 159.8,63.8 160.8,63.5 160.8,61.8ZM164.5,60.8 163.5,61.5 163.5,63.2 164.2,63.8 164.8,63.2 164.8,61.2ZM168.5,60.2 167.5,60.8 167.2,61.8 167.8,63.5 168.8,62.8 169.2,61.8ZM262.8,59.8 262.5,60.2 262.5,61.8 263.2,62.2 263.5,60.5ZM266.8,59.5 266.5,60.2 266.8,60.8 267.2,60.5ZM172.5,59.5 171.2,60.8 171.2,62.2 171.8,63.2 172.8,62.5 173.2,61.5ZM175.8,58.8 175.2,59.8 175.2,62.2 176.2,62.8 176.8,62.2 177.2,60.2ZM227.2,58.5 226.5,60.5 227.5,62.8 228.2,59.2ZM235.2,58.2 234.8,59.8 235.5,60.2 235.8,58.5ZM231.2,58.2 230.5,59.8 231.2,61.5 231.5,61.5 232.2,59.5 231.8,58.5ZM179.8,58.2 179.2,59.2 178.8,60.8 179.2,61.8 180.2,62.5 180.8,61.8 181.2,59.8 180.8,58.8ZM239.5,57.8 238.8,58.2 239.2,59.5ZM183.8,57.5 182.8,59.2 182.8,60.8 184.2,62.2 184.8,61.2 185.2,59.2 184.5,57.8ZM160.2,56.8 159.8,57.8 160.5,58.2 160.5,56.8ZM164.2,55.8 163.8,56.2 163.8,57.8 164.2,58.2 164.8,57.5 164.8,56.5ZM168.2,55.2 167.5,55.8 167.8,57.8 168.8,57.2 168.8,55.8ZM172.2,54.5 171.5,55.2 171.5,57.2 171.8,57.5 172.8,56.8 172.8,55.2ZM215.8,53.8 214.5,55.2 214.5,57.2 215.5,58.5 216.5,57.2 216.5,54.8ZM176.2,53.8 175.2,55.2 175.2,56.2 175.8,57.2 176.8,56.5 176.8,54.5ZM219.8,53.5 219.2,53.5 218.5,54.8 218.5,56.8 219.2,57.8 220.5,56.5 220.5,54.5ZM180.5,53.5 179.8,53.5 179.2,54.2 179.2,56.2 179.8,56.8 180.8,55.8ZM223.8,53.2 223.2,53.2 222.5,54.2 222.5,56.5 223.2,57.2 224.5,55.8 224.5,54.5ZM227.2,52.8 226.5,53.8 226.5,55.8 227.5,56.5 228.2,55.8 228.2,53.5ZM184.2,52.8 183.2,53.5 183.2,55.8 183.8,56.8 184.8,55.5 184.8,53.5ZM234.8,52.5 234.5,54.5 234.8,55.2 235.5,55.2 236.2,53.5 235.8,52.5ZM231.5,52.5 230.5,53.5 230.8,55.8 231.5,55.8 232.2,54.8 232.2,53.2ZM187.5,52.5 186.8,54.5 187.8,56.8 186.8,58.5 186.8,60.5 187.8,62.5 186.8,64.2 186.8,65.5 187.5,66.5 188.2,66.5 188.8,65.8 188.8,63.5 187.8,62.2 188.8,60.8 189.2,58.8 187.8,56.5 188.8,54.8 188.8,53.2 188.2,52.5ZM238.8,52.2 238.5,53.8 238.8,54.5 239.5,54.5 239.8,52.5ZM247.2,51.8 246.8,52.2 247.2,52.8ZM243.2,51.8 242.8,52.2 243.2,53.8 243.5,53.5ZM192.2,51.8 190.8,53.2 190.8,54.5 191.8,56.2 190.8,57.8 190.8,60.5 191.8,61.8 190.8,63.5 190.8,65.2 191.5,66.2 192.2,66.2 192.8,65.2 192.8,63.2 192.2,62.2 192.2,61.2 193.2,59.2 192.8,57.5 191.8,56.2 192.8,54.2 192.8,52.8ZM196.2,51.5 195.5,51.5 194.8,52.5 194.8,54.2 195.8,55.8 194.5,58.2 194.8,60.2 195.5,60.8 195.5,61.8 194.8,62.8 194.8,64.8 195.5,65.8 196.8,64.5 196.8,62.8 196.2,61.8 196.2,60.5 196.8,59.5 196.8,57.2 195.8,55.8 196.8,53.8 196.8,52.5ZM199.8,50.8 198.8,51.8 198.8,53.8 199.5,54.8 199.5,55.8 198.5,57.5 198.5,58.8 199.5,60.5 198.8,62.2 199.2,65.2 200.2,65.2 200.8,63.8 200.8,62.5 199.8,60.8 200.8,59.2 200.8,56.8 199.8,55.5 200.8,52.2ZM263.8,65.2 262.8,63.8 262.5,64.2 262.2,66.8 261.5,68.5 261.5,70.2 260.8,70.8 259.8,67.2 259.8,65.2 259.2,64.2 259.5,60.5 258.8,60.2 258.2,61.8 258.8,64.2 258.2,65.5 257.5,70.5 256.8,70.8 256.5,70.5 256.2,66.8 255.5,65.2 255.8,61.5 254.8,60.5 254.2,61.8 254.5,65.5 253.2,71.5 252.5,70.5 252.2,66.8 251.5,65.2 251.8,61.5 251.2,60.8 250.2,62.2 250.5,66.2 249.8,68.2 249.8,70.2 249.2,71.8 248.5,70.5 248.2,66.8 247.8,66.5 248.2,62.8 247.8,61.8 246.8,61.5 246.2,62.8 246.5,66.8 245.8,68.5 245.8,70.8 245.2,72.2 244.5,70.8 244.5,68.5 243.8,66.8 244.2,63.2 243.2,61.8 242.2,63.5 242.5,67.2 241.8,69.2 241.8,71.5 241.2,72.5 240.5,70.8 240.5,68.5 240.2,68.2 240.2,63.5 239.2,62.5 238.2,64.2 238.5,67.8 237.8,69.8 237.8,72.2 237.2,72.8 236.5,71.2 236.5,68.8 236.2,68.5 236.5,64.8 235.8,63.2 235.2,62.8 234.2,64.8 234.5,68.5 233.8,70.8 233.8,72.8 233.2,73.2 232.5,71.5 232.8,70.8 232.2,68.8 232.5,65.2 232.2,64.2 231.2,63.5 230.2,65.5 230.2,67.5 230.5,67.8 229.8,73.5 229.2,73.8 228.2,69.2 228.5,68.5 228.5,65.5 227.5,63.8 226.2,66.2 226.5,70.2 225.5,74.8 224.8,73.8 224.5,65.8 223.5,64.5 223.5,63.2 224.2,61.5 223.8,58.8 223.2,58.8 222.5,60.2 223.5,64.5 222.5,65.8 222.2,67.2 222.5,69.8 222.2,71.2 221.5,71.8 220.5,69.5 220.8,68.5 220.5,66.5 219.5,64.8 219.8,62.5 220.5,61.5 220.5,60.5 219.8,59.2 219.2,59.2 218.5,60.5 218.5,61.8 219.2,62.8 219.5,65.2 218.5,66.8 218.2,69.2 217.5,69.8 216.8,69.2 216.5,66.8 215.5,65.5 215.8,63.2 216.5,62.2 216.5,60.5 215.5,59.2 214.5,60.8 215.5,65.8 214.8,66.5 214.2,68.5 213.5,69.2 211.8,65.8 211.8,63.8 212.5,62.8 212.5,60.8 211.8,59.8 211.8,58.8 212.8,57.2 212.8,55.8 211.5,53.8 212.5,52.2 212.5,50.2 211.8,49.5 210.8,50.2 210.5,51.2 210.8,52.8 211.5,53.5 210.5,55.8 210.5,57.8 211.5,59.2 210.5,61.5 210.5,62.5 211.5,64.2 211.2,64.5 211.5,65.5 209.8,68.5 208.8,67.8 208.8,67.2 207.8,65.8 207.8,64.5 208.8,62.5 207.8,60.2 208.8,57.8 208.8,56.2 207.8,54.5 208.5,52.8 208.5,50.5 207.2,50.2 206.8,53.2 207.5,53.8 207.5,54.5 206.5,56.2 206.5,58.2 207.5,60.2 206.8,61.2 206.5,62.8 207.5,64.5 207.5,65.8 205.8,68.5 204.8,67.8 204.8,67.2 203.8,65.8 203.8,64.8 204.8,63.2 204.8,62.2 203.8,60.5 204.8,58.5 204.8,56.5 203.8,54.8 204.5,53.5 204.5,51.2 204.2,50.5 203.5,50.5 202.8,51.5 202.8,53.5 203.5,55.2 202.5,56.8 202.5,58.5 203.5,60.8 202.5,63.2 202.8,64.2 203.8,65.2 201.8,68.8 201.2,68.5 200.5,66.8 199.5,66.2 198.5,68.5 197.5,69.2 196.8,67.5 195.8,66.5 193.8,69.5 193.2,69.2 192.5,67.5 191.5,67.2 189.8,70.2 188.5,67.8 187.8,67.5 186.2,70.5 183.8,68.2 183.2,68.8 182.8,70.2 181.8,71.2 180.2,68.5 179.5,68.8 178.8,70.8 178.2,71.5 175.8,69.2 174.2,72.2 173.5,71.8 172.8,70.2 171.8,69.8 170.2,72.8 168.8,70.5 168.2,70.2 166.2,73.2 164.5,70.8 163.5,71.5 162.2,73.8 160.5,71.5 159.8,71.5 158.2,74.5 156.8,72.2 156.2,72.2 154.5,75.2 153.5,74.5 152.8,72.8 152.2,72.8 150.5,76.2 149.8,75.8 148.5,73.5 146.5,77.2 145.8,76.8 145.2,75.2 144.2,74.8 143.2,77.8 142.5,78.5 141.8,78.2 141.5,76.8 140.5,76.2 139.8,76.8 139.2,79.5 138.5,80.5 137.8,79.8 137.5,78.5 136.8,77.8 136.2,78.2 135.2,82.5 134.5,83.5 133.2,80.2 132.5,80.2 131.2,84.8 131.2,91.2 131.5,91.5 131.8,95.5 132.2,96.5 133.2,96.8 133.8,94.2 134.5,93.2 135.2,94.2 135.8,97.5 136.5,98.2 137.2,97.8 137.8,95.8 138.5,95.2 139.2,95.8 140.2,98.8 141.2,98.5 141.5,97.2 142.5,95.8 144.2,99.2 144.8,99.2 146.5,96.2 148.2,99.2 148.8,99.2 150.2,96.5 151.2,97.2 151.8,98.8 152.5,99.2 154.2,96.2 154.8,96.5 155.5,98.2 156.5,98.8 158.2,95.8 158.8,96.2 160.2,98.5 161.2,97.5 161.2,96.8 162.2,95.5 162.8,95.8 163.5,97.5 164.5,97.8 166.2,94.8 167.5,97.2 168.2,97.5 170.2,94.5 171.2,96.2 172.2,96.8 174.2,93.8 175.5,96.2 176.5,96.2 177.8,93.5 178.8,94.2 179.8,95.8 180.5,95.5 181.8,92.8 184.2,95.2 185.8,92.2 186.8,93.2 187.2,94.2 188.2,94.5 189.8,91.8 190.5,92.2 191.5,93.8 192.5,93.5 193.8,91.2 195.2,93.2 196.2,93.2 197.8,90.5 199.2,92.5 200.2,92.5 201.5,89.8 202.5,90.5 203.2,91.8 203.8,91.8 205.8,88.8 206.5,90.2 207.8,91.2 209.5,87.8 210.2,88.2 210.8,89.8 211.8,90.2 213.5,86.5 214.2,86.8 214.8,88.5 215.8,88.8 217.5,84.5 218.2,84.8 219.2,87.2 219.8,86.8 220.8,83.8 220.8,82.5 221.5,81.5 222.2,82.2 222.8,84.5 223.5,84.8 224.8,80.5 224.8,79.2 225.5,77.8 226.5,82.2 227.2,83.2 228.2,82.2 228.8,78.5 229.5,77.8 230.8,82.5 231.5,82.5 232.2,81.5 233.2,77.5 233.8,77.8 234.5,81.5 235.5,82.2 236.2,81.2 237.2,76.8 237.8,77.5 238.2,80.2 239.2,81.8 240.2,80.5 241.2,76.2 242.8,81.2 243.5,81.2 244.2,79.8 244.5,77.2 245.2,75.8 245.8,77.2 246.2,79.5 247.2,80.8 247.8,80.2 248.5,76.5 249.2,75.2 250.2,79.2 251.2,80.2 251.8,79.5 252.5,77.2 252.5,75.5 253.2,74.5 253.8,77.8 254.8,79.8 255.8,78.8 256.5,74.8 257.2,74.2 258.2,78.2 259.2,79.2 259.8,78.2 260.8,73.5 261.5,73.8 261.5,75.5 262.5,78.5 263.2,78.5 263.8,77.5 264.5,74.2 264.5,68.8 263.8,66.8ZM215.2,49.2 214.5,50.5 214.5,51.5 215.2,52.8 215.8,52.8 216.5,51.5 216.5,49.8 215.8,49.2ZM180.2,49.2 179.8,50.2 180.2,50.2ZM219.2,48.8 218.5,49.8 218.5,51.2 219.2,52.2 219.8,52.2 220.5,50.8 220.5,49.8 219.8,48.8ZM183.8,48.5 183.5,49.2 184.2,49.8ZM223.5,48.2 222.5,49.5 222.5,50.5 223.2,51.5 224.2,50.8 224.2,48.8ZM188.2,48.2 187.5,48.5 187.8,49.5ZM230.8,47.8 230.5,49.2 231.5,50.2 232.2,48.8 231.8,47.8ZM227.5,47.8 226.8,48.2 226.5,49.2 227.2,50.8 228.2,50.2 228.2,48.5ZM235.2,47.5 234.8,49.2 235.5,49.5 235.8,47.8ZM191.8,47.5 191.5,48.8 192.2,48.8ZM239.5,47.2 238.8,47.5 239.2,48.8ZM195.5,47.2 195.5,48.5 195.8,48.5 196.2,47.5ZM199.8,46.5 199.5,47.8 200.2,47.5ZM203.5,46.2 203.5,47.5 203.8,47.5 204.2,46.5ZM207.8,45.8 207.2,46.5 207.5,47.2ZM211.5,45.2 211.2,46.2 211.8,46.5ZM215.8,44.8 215.2,45.2 215.5,46.2ZM219.5,44.5 219.2,44.8 219.5,45.5 219.8,45.2Z" fill="#8e0d25" fill-rule="evenodd"/>
<path d="M55.2,182.8 54.8,182.8 54.8,183.5ZM58.8,182.2 58.5,183.2 58.8,183.2ZM62.8,181.5 62.5,181.5 62.2,182.8 62.5,182.8ZM52.5,177.2 50.8,179.5 51.5,181.8 53.2,179.5 53.2,178.2ZM56.5,176.8 55.2,177.8 54.5,179.5 55.2,181.5 56.8,179.5 56.8,177.2ZM60.2,176.2 58.5,178.2 58.8,180.8 60.2,179.8 60.8,178.5 60.8,177.2ZM64.2,175.5 63.2,176.2 62.2,178.2 62.2,179.5 62.8,180.5 64.5,178.5ZM53.2,175.2 52.8,175.2 52.8,175.8ZM60.8,173.8 60.5,173.8 60.2,174.8 60.5,174.8ZM68.2,172.5 67.8,172.8 67.8,174.8 66.8,175.8 65.8,177.8 66.5,179.8 66.5,180.8 65.8,182.2 66.5,182.2 66.5,180.5 68.5,177.5 68.5,176.2 67.8,174.8 68.5,173.5ZM72.2,172.2 71.5,172.5 71.5,174.2 69.8,176.8 69.8,178.8 70.2,179.2 69.8,181.8 70.5,181.2 70.5,179.5 72.2,177.2 72.2,175.2 71.8,174.8ZM134.8,171.5 134.5,173.2 135.2,172.2ZM76.2,171.5 75.5,171.8 75.2,173.8 73.5,176.5 73.5,177.8 74.2,179.2 73.5,180.5 73.5,181.5 74.2,181.2 74.2,179.5 76.2,176.2 76.2,175.2 75.5,173.8 76.2,172.5ZM138.8,171.2 138.2,171.8 138.2,172.5 138.8,172.2ZM142.5,170.8 142.2,171.8 142.5,171.8ZM79.8,170.8 79.2,171.5 79.2,172.8 77.2,176.5 77.8,178.5 77.2,180.8 77.8,180.8 78.2,178.5 79.8,176.2 79.8,174.2 79.5,173.8ZM146.2,170.5 145.8,171.2 146.2,171.2ZM83.8,170.5 83.2,170.5 82.8,172.8 81.2,175.2 81.2,177.2 81.5,177.5 81.2,180.5 81.8,180.2 82.2,177.8 83.8,175.2 83.8,174.2 83.2,172.8ZM87.5,169.8 86.8,170.2 86.5,172.5 84.8,175.2 85.2,176.8 84.8,179.8 85.2,180.2 85.8,179.2 85.8,177.5 87.5,175.2 87.5,173.2 87.2,172.8ZM91.2,169.2 90.5,169.8 90.2,172.2 88.8,173.8 88.5,175.2 89.2,177.5 88.5,179.5 89.5,179.2 89.5,177.5 91.5,173.8 90.8,171.8 91.5,170.2ZM95.2,168.8 94.2,169.5 94.2,171.2 92.5,173.8 92.5,175.5 92.8,175.8 92.5,179.2 93.2,178.8 93.5,176.5 95.2,173.8 94.8,172.2ZM98.8,168.2 98.2,168.5 97.8,170.8 96.2,173.5 96.5,175.2 96.2,178.5 96.8,178.5 97.2,176.5 98.8,173.8 98.8,171.5 98.5,171.2 98.5,170.2 99.2,168.8ZM102.8,167.8 102.2,167.8 101.8,169.8 100.2,172.5 100.2,174.8 100.5,175.2 100.5,176.2 99.8,177.2 100.2,178.2 100.8,177.5 101.2,175.5 102.8,172.8 102.5,171.2ZM106.5,167.2 105.8,167.5 105.5,169.8 103.8,172.5 104.2,174.2 103.8,177.5 104.8,176.8 104.8,175.2 106.5,172.5 106.5,170.5 106.2,170.2ZM110.5,166.8 109.5,167.2 109.5,168.8 107.5,172.5 108.2,174.5 107.5,176.2 107.8,177.2 108.5,176.5 108.8,174.2 110.5,171.2 109.8,169.5ZM114.2,166.2 113.5,166.5 113.2,168.8 111.5,171.2 111.5,173.2 111.8,173.5 111.5,176.5 112.2,176.2 112.5,173.8 114.2,171.2 113.8,169.5ZM117.8,165.8 117.2,166.2 116.8,168.5 115.2,171.2 115.2,172.2 115.8,173.5 115.2,174.8 115.2,175.8 115.8,175.8 116.2,173.5 117.8,171.2 117.8,169.2 117.5,168.8ZM140.2,165.5 138.8,166.5 138.2,167.8 138.2,169.2 138.8,170.2 140.5,168.2ZM136.2,165.5 134.5,167.8 134.8,170.8 135.8,170.2 136.8,168.2 136.8,166.8ZM121.5,165.2 120.8,165.8 120.8,167.5 119.2,170.2 119.2,172.2 119.5,172.5 119.2,175.5 119.8,174.8 119.8,173.5 121.8,169.8 121.2,167.8 121.8,166.2ZM143.8,164.8 142.2,166.8 142.2,169.2 142.5,169.5 143.8,168.5 144.5,166.8ZM125.5,164.8 124.8,165.2 124.5,166.2 124.8,166.8 123.5,168.5 122.8,170.2 122.8,171.2 123.5,172.5 122.8,173.8 122.8,174.8 123.5,174.5 123.8,172.5 125.5,169.8 125.5,168.2 124.8,167.2 125.5,165.8ZM147.8,164.5 146.2,165.8 145.8,168.2 146.5,169.2 148.2,166.8ZM129.2,164.5 128.5,164.8 128.5,166.5 126.8,169.2 126.8,171.2 127.2,171.5 126.8,174.2 127.5,173.8 127.5,171.8 129.2,169.5 129.2,167.5 128.8,167.2ZM132.8,163.8 132.5,164.2 132.5,165.8 130.5,168.8 130.5,170.2 131.2,171.5 130.5,173.5 131.2,173.5 131.2,171.5 132.2,170.5 133.2,168.5 132.5,166.5 132.5,165.5 133.2,164.5ZM136.8,163.5 136.2,163.8 136.2,164.8 136.5,164.8ZM140.5,163.2 140.2,163.2 140.2,164.2ZM144.2,162.5 143.8,163.5 144.2,163.5ZM148.2,162.2 147.8,162.2 147.8,162.8ZM152.2,160.5 151.2,162.2 150.8,164.2 149.5,166.8 150.2,169.5 149.8,170.8 151.8,166.5 152.2,163.2 152.5,162.8 152.5,160.8ZM239.8,149.2 239.2,149.2 238.5,149.8 238.2,152.2 236.8,154.2 236.8,155.8 236.2,157.8 236.2,162.2 236.8,161.8 237.8,159.8 238.5,156.5 239.8,154.2 239.2,151.8 239.8,150.5ZM243.5,148.5 242.2,149.5 242.2,151.2 240.5,153.8 240.5,155.5 240.8,155.8 240.5,159.5 241.5,158.8 241.8,156.8 243.5,154.2 243.5,152.5 243.2,152.2ZM247.5,148.2 246.5,148.2 245.8,149.5 245.8,150.8 244.2,153.8 244.5,154.8 244.2,158.8 244.8,158.8 245.5,158.2 245.8,155.8 247.2,153.8 246.8,150.5 247.5,149.2ZM251.2,147.5 250.2,147.8 249.5,150.8 248.2,152.8 248.2,154.8 248.5,155.2 248.5,156.2 247.8,157.5 248.2,158.5 249.2,157.8 249.5,155.5 251.2,152.8 250.8,151.2ZM254.8,146.8 253.8,147.5 253.5,149.8 251.8,152.5 252.2,154.2 251.8,157.8 252.8,157.5 253.2,155.5 254.8,152.8 254.8,150.5 254.5,150.2 255.2,147.8ZM258.8,146.5 258.2,146.5 257.5,147.2 257.2,149.5 255.8,151.5 255.8,154.2 256.2,154.5 255.5,156.2 255.8,157.5 256.8,156.8 257.2,154.5 258.8,151.5 258.5,150.5ZM236.2,150.2 235.5,149.2 233.2,152.8 232.2,148.2 232.8,147.5 232.8,146.5 231.8,147.2 232.2,148.2 229.8,151.5 229.2,150.8 229.2,148.5 228.8,148.2 229.2,147.2 228.8,146.8 226.2,150.8 225.5,149.8 225.2,147.2 224.5,147.5 223.5,149.5 222.5,150.5 221.8,149.5 221.8,148.2 221.2,147.5 218.8,150.5 218.2,149.8 217.8,147.8 217.2,147.8 215.2,150.8 214.5,150.2 214.2,148.2 213.5,148.2 211.2,151.2 210.5,148.8 209.8,148.5 207.5,151.5 206.8,150.5 206.8,149.2 205.8,148.8 203.8,151.8 203.2,151.2 203.2,150.2 202.5,149.2 201.8,149.5 200.2,152.2 199.5,151.8 199.2,150.2 198.2,149.8 196.2,152.8 195.5,151.8 195.2,150.2 194.5,150.2 193.2,152.5 192.2,153.2 191.8,151.5 191.2,150.5 190.5,150.8 189.5,152.8 188.5,153.8 187.5,151.2 186.8,151.2 184.8,154.2 184.2,153.5 184.2,152.2 183.5,151.5 182.8,151.8 181.2,154.5 180.5,154.2 180.2,152.2 179.5,152.2 177.2,155.2 176.5,154.2 176.5,153.2 175.8,152.5 173.5,155.8 172.8,155.5 172.8,154.2 171.8,153.2 169.5,156.8 168.8,155.8 168.8,154.5 168.2,153.8 165.5,157.8 164.8,155.2 164.2,154.8 161.5,159.2 160.8,156.5 160.2,156.2 157.8,161.2 157.2,161.8 156.8,161.5 156.8,158.2 156.2,157.8 155.2,159.5 153.2,166.5 152.8,171.2 153.2,172.2 153.8,171.8 155.8,167.8 156.2,168.2 156.2,172.5 156.5,173.2 157.2,173.2 159.2,169.8 159.5,170.2 159.8,173.8 160.5,173.8 162.2,171.2 162.8,170.8 163.5,174.2 164.2,174.2 166.2,171.2 166.8,171.8 167.2,174.2 167.8,174.2 169.8,171.5 170.5,171.8 170.5,173.2 171.5,174.2 173.5,171.2 174.2,171.5 174.2,172.5 174.8,173.8 176.2,172.8 176.5,171.8 177.5,170.8 178.2,172.2 178.2,173.2 179.2,173.5 181.2,170.5 181.8,171.2 182.2,173.2 182.8,173.2 184.8,170.2 185.5,170.5 185.8,172.5 186.5,172.8 188.5,169.8 189.2,170.2 189.5,171.8 190.5,172.2 192.5,169.2 193.2,169.8 193.5,171.8 194.2,171.8 195.8,169.2 196.5,168.8 197.2,171.2 197.8,171.5 200.2,168.2 201.2,170.8 202.2,170.5 203.8,167.8 204.5,168.5 204.8,170.2 205.5,170.5 207.5,167.5 208.2,167.8 208.5,169.5 209.5,169.8 211.5,166.8 212.2,167.5 212.2,168.8 212.8,169.5 215.5,166.2 216.2,168.5 216.8,168.8 219.2,165.5 219.8,166.2 219.8,167.5 220.5,168.2 223.2,164.5 223.8,165.8 223.8,166.8 224.5,167.2 227.2,163.2 227.8,165.8 228.5,166.2 231.2,161.2 231.8,162.5 231.8,164.5 232.8,164.2 233.8,162.2 235.8,155.2 235.8,150.5ZM236.5,146.2 235.8,146.5 235.8,147.5 236.5,146.8ZM262.2,145.8 261.2,147.2 261.2,148.5 259.5,151.5 259.5,153.2 259.8,153.5 259.5,156.8 260.5,156.5 260.8,154.2 262.5,151.5 262.5,149.8 262.2,149.5 262.5,146.2ZM240.2,145.8 239.8,146.5 240.2,146.5ZM266.2,145.5 265.2,146.2 264.8,148.5 263.2,151.2 263.5,152.2 263.2,156.2 263.5,156.5 264.2,156.2 264.8,153.2 266.2,151.2 266.2,148.8 265.8,148.5 266.5,146.5ZM295.8,144.8 294.2,146.5 294.2,148.5 294.5,148.8 295.2,148.8 296.2,147.2 296.2,145.2ZM291.8,144.8 290.2,147.2 290.2,148.8 290.8,149.8 290.2,152.2 290.8,151.8 290.8,149.8 292.5,147.5 292.5,145.5ZM269.8,144.8 268.8,145.8 268.8,147.5 267.2,150.2 267.2,152.2 267.5,152.5 266.8,155.2 267.2,155.8 268.2,155.2 268.5,152.8 270.2,150.2 269.8,148.8 270.2,145.2ZM299.5,144.5 298.5,145.2 297.8,146.5 298.2,148.2 298.8,148.2 299.8,146.8 299.8,144.8ZM273.8,144.5 272.8,145.2 272.5,147.5 270.8,150.2 271.2,151.5 270.8,155.2 271.8,154.8 272.2,152.8 273.8,149.8 273.8,148.2 273.5,147.8ZM310.8,144.2 310.2,144.2 309.8,145.5 310.5,145.5ZM307.2,144.2 306.2,144.5 305.8,146.5 306.5,146.5 307.2,145.8ZM303.2,144.2 301.8,145.8 302.2,147.5 303.5,146.2 303.5,144.5ZM277.5,144.2 276.5,144.8 276.5,146.5 274.8,149.2 274.8,151.2 275.2,151.5 275.2,152.5 274.5,153.8 274.8,154.8 275.5,154.5 275.8,152.5 277.5,149.8 277.5,147.5 277.2,147.2 277.2,146.2 277.8,144.8ZM281.2,143.5 280.2,144.8 280.2,146.5 278.5,149.2 278.8,150.5 278.5,154.2 279.5,153.5 279.8,151.5 281.5,148.5 280.8,146.2 281.5,144.8ZM285.2,143.2 284.5,143.5 284.2,145.5 282.5,148.2 282.5,150.2 282.8,150.5 282.5,153.5 283.2,153.2 283.5,150.8 285.2,148.2 284.8,146.5ZM288.8,142.8 288.2,143.2 288.2,144.8 286.2,148.2 286.8,150.5 286.2,152.8 286.8,152.8 287.2,150.5 288.8,147.8 288.8,146.2 288.5,145.8ZM65.5,94.5 65.2,95.2 65.5,96.5ZM61.5,93.2 60.8,94.5 61.2,98.8 61.8,98.2 61.8,93.8ZM38.5,93.2 38.8,103.5 39.2,95.5ZM69.5,92.5 69.2,92.8 69.2,97.2 69.5,97.5 69.8,97.2 69.8,92.8ZM57.5,92.2 56.8,93.2 56.8,94.8 56.5,95.2 56.5,98.2 57.2,100.8 57.8,100.5 58.5,97.2 58.2,93.2ZM53.2,91.8 52.5,94.2 52.5,99.8 53.2,102.2 53.8,102.2 54.5,100.2 54.5,93.5 54.2,92.2ZM41.5,91.8 40.5,94.5 40.2,100.2 40.5,100.5 40.8,103.8 41.8,104.8 42.5,103.8 43.2,101.2 43.2,95.2 42.5,92.5ZM49.8,91.5 48.8,92.5 48.5,95.8 48.2,96.2 48.5,101.2 49.5,103.5 50.2,102.8 50.8,100.2 50.8,94.5ZM45.5,91.5 44.5,93.8 44.5,95.5 44.2,95.8 44.2,100.2 44.8,103.2 45.8,104.2 46.8,101.8 47.2,95.8 46.5,92.5ZM73.5,90.2 72.8,91.2 72.8,92.8 72.5,93.2 72.5,96.2 73.2,98.8 73.8,98.5 74.2,97.5 74.2,91.5ZM77.2,88.8 76.2,92.5 76.2,95.8 76.8,98.8 77.5,99.2 78.5,96.2 78.5,91.8 77.8,89.2ZM81.5,87.8 80.8,88.2 80.2,90.5 80.2,97.2 81.2,99.5 81.8,98.8 82.5,96.2 82.5,90.8ZM85.2,87.2 84.2,89.2 83.8,95.2 84.5,98.5 85.5,99.2 86.5,95.8 86.5,90.2 86.2,88.5ZM89.5,86.5 88.5,87.2 87.8,90.2 87.8,95.5 88.8,98.8 89.8,98.2 90.5,95.2 90.5,89.8ZM93.2,85.8 92.5,86.5 91.8,89.2 91.8,95.8 92.8,98.5 93.8,97.5 94.5,94.5 94.5,89.5 93.8,86.5ZM97.5,85.5 96.5,85.8 95.5,90.5 95.8,95.5 96.8,98.2 97.8,97.2 98.5,94.2 98.5,89.2ZM101.2,84.8 100.2,85.8 99.5,89.2 99.5,93.5 100.2,96.8 100.8,97.8 101.8,96.5 102.5,93.5 102.5,88.8 102.2,88.5 102.2,86.8ZM105.2,84.2 104.2,85.2 103.5,88.2 103.5,93.5 104.5,97.2 105.2,97.2 105.8,96.2 106.5,92.8 106.5,88.5 106.2,88.2 106.2,86.5ZM109.2,83.8 108.2,84.5 107.5,87.5 107.5,93.5 108.5,96.8 109.2,96.8 109.8,95.5 110.2,92.2 110.5,91.8 110.2,86.2ZM112.8,83.2 111.8,85.2 111.5,88.8 111.2,89.2 111.5,93.5 112.2,95.8 112.8,96.5 113.8,94.8 114.2,91.2 114.5,90.8 114.2,86.2 113.5,83.8ZM117.2,82.8 116.5,82.8 115.2,88.2 115.5,93.2 116.5,95.8 117.5,95.2 117.8,94.2 118.2,89.8 118.5,89.5 118.2,85.8ZM121.2,82.5 120.2,82.8 119.2,87.5 119.5,92.8 119.8,94.2 120.8,95.5 121.5,94.5 122.2,91.5 122.2,85.8ZM125.2,82.2 124.5,82.2 123.8,83.2 123.2,86.5 123.2,90.5 123.8,93.8 124.5,94.8 125.5,93.8 126.2,90.5 126.2,86.2ZM128.8,81.8 127.8,82.8 127.5,86.2 127.2,86.5 127.2,89.8 128.2,93.8 129.2,93.5 129.8,90.8 129.8,84.8ZM290.5,67.5 290.5,69.5 290.8,68.8ZM286.5,66.2 286.2,66.8 286.2,71.2 286.8,71.8 287.2,67.2 286.8,66.2ZM220.5,67.2 219.8,66.2 219.2,66.2 218.5,67.5 218.5,70.2 217.5,71.8 216.8,70.8 216.5,67.8 215.8,66.8 215.2,66.8 213.8,70.5 213.2,70.2 211.8,66.8 211.2,66.8 210.5,68.8 209.5,70.2 208.8,69.2 208.5,67.5 207.8,66.8 206.8,67.5 205.8,69.8 205.2,69.5 204.5,67.5 203.5,66.8 201.8,70.2 200.2,67.2 199.2,67.5 197.8,70.5 195.8,67.5 193.8,70.8 192.5,68.5 191.5,68.2 189.8,71.2 188.5,68.8 187.8,68.5 185.8,71.8 184.5,69.2 183.8,69.2 183.2,69.8 182.2,72.2 181.2,71.5 180.8,70.2 179.8,69.5 178.2,72.8 177.5,72.5 176.5,70.2 175.5,70.5 174.8,72.5 174.2,73.2 173.5,72.8 172.2,70.5 170.2,73.8 168.8,71.5 167.8,71.2 166.8,73.8 166.2,74.5 165.5,73.8 165.2,72.5 164.5,71.8 163.8,71.8 162.8,74.5 162.2,75.2 160.8,72.5 159.8,72.5 158.5,75.5 157.5,74.8 156.5,72.8 155.8,73.2 155.5,74.5 154.2,76.5 152.8,73.8 152.2,73.8 150.5,77.2 149.8,76.8 148.5,74.5 147.8,75.2 146.5,78.5 145.8,78.2 145.2,76.2 144.2,75.8 142.5,80.2 141.8,79.5 140.8,77.2 140.2,77.5 139.2,80.2 139.2,81.5 138.5,82.5 137.2,79.2 136.2,79.5 135.5,81.5 134.8,87.8 134.5,88.2 133.2,81.8 132.8,81.5 131.5,84.8 131.5,90.5 131.8,90.8 132.2,94.8 132.5,95.5 133.2,95.2 134.5,88.5 136.2,96.8 136.8,97.2 138.5,93.2 139.2,94.2 140.2,97.8 141.2,97.5 141.8,95.2 142.5,94.5 143.2,95.2 143.2,96.2 144.2,98.2 144.8,98.2 145.5,96.2 146.5,94.8 148.2,98.2 148.8,98.2 150.2,95.2 150.8,95.5 151.8,97.8 152.5,98.2 154.2,94.8 154.8,95.2 155.5,97.2 156.5,97.8 158.2,94.5 160.2,97.5 161.2,96.5 162.2,94.2 163.5,96.5 164.5,96.8 166.2,93.8 167.5,96.2 168.2,96.5 170.2,93.2 171.8,95.8 172.5,95.8 173.8,92.8 174.8,93.5 175.5,95.2 176.2,95.5 177.8,92.2 178.5,92.5 179.8,94.8 180.5,94.5 181.8,91.8 182.8,92.5 182.8,93.2 183.8,94.5 184.8,93.5 185.8,91.2 186.5,91.5 187.5,93.8 188.2,93.8 189.8,90.5 191.2,92.8 192.2,93.2 193.8,89.8 194.5,90.5 194.8,91.8 195.5,92.5 196.2,92.5 197.2,89.8 197.8,89.2 199.2,91.8 200.2,91.8 200.8,89.8 201.8,88.5 203.2,91.2 203.8,91.2 205.5,87.8 206.5,88.5 206.5,89.2 207.5,90.5 208.2,89.8 209.5,86.5 210.2,86.8 210.8,88.8 211.8,89.2 213.5,84.8 215.2,87.8 216.2,87.2 216.8,83.8 217.5,82.5 218.2,83.2 218.5,84.8 219.2,85.8 220.2,84.8 221.2,79.5 221.2,73.8 220.2,69.8ZM172.5,66.2 171.8,66.2 171.8,67.2 172.5,66.8ZM250.8,65.8 250.2,67.5 250.2,70.2 249.8,70.5 249.8,76.5 250.5,78.8 251.2,79.2 252.2,77.2 252.5,71.2 251.8,68.8 251.8,66.5ZM282.8,65.5 282.2,66.2 281.8,67.8 281.8,71.5 282.5,73.5 283.5,71.2 283.5,67.8ZM278.5,65.5 277.8,67.2 277.8,72.8 278.5,74.5 278.8,74.5 279.5,73.2 279.5,66.8 279.2,65.8ZM271.2,65.5 270.5,65.8 269.8,67.5 269.8,74.5 270.5,76.2 271.2,76.2 271.8,74.2 271.8,67.5ZM254.8,65.5 254.2,66.8 254.2,69.5 253.8,69.8 253.8,76.2 254.2,77.5 255.2,78.8 256.2,76.2 256.5,71.5 256.2,71.2 255.8,66.5ZM223.8,65.5 223.2,65.5 222.5,66.8 222.8,70.5 221.8,74.5 221.8,78.5 222.2,78.8 222.5,82.2 223.2,83.2 223.8,82.5 224.8,78.5 224.8,74.5 224.5,74.2 224.5,70.8 224.2,70.5 224.5,66.8ZM274.8,65.2 273.8,67.5 273.8,73.8 274.5,75.5 275.2,75.2 275.8,72.8 275.8,67.8 275.5,66.2ZM258.8,65.2 257.8,69.2 257.8,75.8 258.5,77.8 259.2,78.2 260.2,75.5 260.2,68.8 259.5,67.2 259.5,65.5ZM176.2,65.2 175.5,66.2 175.8,67.2 176.5,66.8ZM267.2,64.8 266.5,65.2 266.8,65.8 266.2,66.8 265.8,70.8 265.5,71.2 265.8,74.8 266.5,76.8 267.2,76.8 268.2,73.2 268.2,69.5ZM263.2,64.8 262.5,65.2 262.5,66.8 261.8,68.5 261.8,75.5 262.5,77.5 263.5,77.2 264.2,74.5 264.2,68.8ZM227.8,64.8 227.2,64.8 226.5,65.8 226.8,69.8 226.2,71.5 226.2,79.2 227.2,82.2 228.2,81.2 228.5,77.8 228.8,77.5 228.2,65.5ZM180.5,64.8 179.5,65.2 179.8,66.8 180.5,66.5ZM231.2,64.2 230.5,65.2 230.8,69.2 230.2,70.5 230.2,79.2 230.8,81.2 231.5,81.5 232.5,79.2 232.8,74.5 232.5,74.2 232.5,70.2 231.8,68.8 232.2,64.8ZM184.2,64.2 183.5,64.5 183.5,66.2 183.8,66.5 184.5,65.8ZM234.8,63.8 234.5,64.5 234.8,68.5 234.2,69.8 233.8,76.5 234.2,76.8 234.5,80.2 235.5,81.2 236.5,78.5 236.5,69.8 235.8,68.5 236.2,64.5 235.8,63.8ZM188.2,63.5 187.2,64.5 187.2,65.5 187.8,66.2 188.5,65.5 188.5,63.8ZM239.5,63.2 238.5,63.8 238.8,67.8 238.2,69.2 238.2,72.5 237.8,72.8 237.8,76.8 238.2,77.2 238.2,78.8 239.2,80.8 239.8,80.2 240.5,77.5 240.5,71.5 239.8,68.2 240.2,64.5ZM191.8,62.8 191.2,63.5 191.2,65.2 191.5,65.5 192.5,65.2 192.5,63.5ZM243.2,62.5 242.5,63.5 242.8,67.2 242.2,68.5 242.2,71.8 241.8,72.2 241.8,76.8 242.8,80.2 243.5,80.2 244.5,76.8 244.5,71.2 244.2,70.8 244.2,68.2 243.5,66.8 243.8,63.2ZM196.2,62.5 195.5,62.5 195.2,63.2 195.2,64.8 195.5,65.2 196.5,64.5 196.5,62.8ZM247.5,62.2 246.8,62.2 246.5,62.8 246.8,66.5 246.2,67.8 246.2,70.8 245.8,71.2 245.8,76.5 246.5,79.2 247.2,79.8 247.8,78.8 248.5,75.8 248.2,67.8 247.2,65.8 247.8,64.2ZM251.5,61.8 250.8,61.8 250.5,62.5 250.8,64.5 251.5,63.8ZM199.8,61.8 199.2,62.5 199.2,64.5 199.8,64.8 200.5,63.8 200.5,62.5ZM164.5,61.8 163.8,62.2 164.2,62.8ZM254.8,61.5 254.5,62.5 255.2,63.2 255.5,61.8ZM203.5,61.5 202.8,63.2 203.8,64.2 204.5,63.2 204.5,62.2ZM259.2,61.2 258.8,61.2 258.8,62.2ZM208.2,61.2 207.5,61.2 206.8,62.2 207.5,63.8 208.2,63.5 208.5,62.5ZM168.2,60.8 167.8,61.2 168.2,62.8 168.5,62.5ZM211.5,60.5 210.8,61.5 211.2,63.2 212.2,62.8 212.2,61.2ZM215.5,60.2 214.8,61.2 215.2,62.5 216.2,62.2 216.2,60.8ZM172.2,60.2 171.5,60.8 171.8,62.5 172.8,61.5ZM219.5,59.8 218.8,60.8 218.8,61.5 219.5,62.2 220.2,61.2 220.2,60.5ZM227.2,59.5 227.2,60.5 227.5,60.5 227.8,59.8ZM223.5,59.5 222.8,60.5 223.5,61.5 223.8,61.2ZM176.2,59.5 175.5,60.2 175.5,61.8 175.8,62.2 176.8,61.2ZM180.2,58.8 179.2,60.2 179.8,61.8 180.8,60.8 180.8,59.8ZM184.5,58.5 183.8,58.5 183.2,59.2 183.2,60.8 183.8,61.5 184.8,60.5ZM188.2,57.8 187.2,58.5 187.2,60.5 187.8,61.2 188.8,59.8 188.8,58.8ZM191.8,57.2 190.8,58.8 191.5,60.5 192.2,60.5 192.8,59.2 192.8,58.5ZM195.5,56.8 194.8,58.2 194.8,59.2 195.5,60.2 196.2,60.2 196.8,58.2 196.5,57.2ZM199.8,56.2 198.8,57.5 198.8,58.8 199.5,59.8 200.5,59.2 200.5,56.8ZM203.8,55.8 202.8,56.8 203.2,59.2 203.8,59.2 204.5,58.5 204.5,56.5ZM208.2,55.5 207.5,55.5 206.8,56.2 206.8,58.2 207.5,58.8 208.5,57.8ZM172.5,55.5 171.8,55.5 171.8,56.5 172.5,56.2ZM211.2,55.2 210.8,57.8 211.8,58.2 212.5,57.2 212.5,55.8 212.2,55.2ZM176.5,54.8 175.8,54.8 175.5,55.5 175.8,56.5 176.5,56.2ZM215.8,54.5 214.8,55.2 214.8,57.2 215.5,57.8 216.5,56.2ZM219.8,54.2 218.8,54.8 218.8,56.8 219.2,57.2 220.2,56.5ZM180.5,54.2 179.5,54.5 179.8,56.2 180.5,55.8ZM223.5,53.8 222.8,54.5 222.8,56.2 223.2,56.5 224.2,55.8 224.2,54.5ZM231.2,53.5 230.8,54.8 231.5,55.2 231.8,53.8ZM227.5,53.5 226.8,54.2 227.2,55.8 227.8,55.5 227.8,53.8ZM183.8,53.5 183.5,53.8 183.5,55.5 184.2,55.8 184.5,53.8ZM235.5,53.2 234.8,53.8 235.2,54.5ZM188.2,52.8 187.2,53.8 187.2,54.8 187.8,55.5 188.5,54.8 188.5,53.2ZM192.2,52.5 191.5,52.5 191.2,53.2 191.2,54.5 191.8,55.2 192.5,54.5 192.5,52.8ZM195.5,51.8 195.2,54.2 196.2,54.5 196.5,52.5 196.2,51.8ZM200.2,51.5 199.2,51.8 199.2,53.8 199.5,54.2 200.5,53.2ZM203.8,50.8 203.2,51.2 202.8,52.2 203.2,53.5 203.8,53.5 204.5,52.5 204.5,51.5ZM207.5,50.5 206.8,52.2 207.8,53.2 208.5,51.5ZM211.2,50.2 210.8,51.8 211.2,52.5 211.8,52.5 212.2,52.2 212.2,50.5ZM215.5,49.5 214.8,50.5 215.5,52.2 216.2,51.5 216.2,50.2ZM219.5,49.2 218.8,50.2 218.8,50.8 219.5,51.5 220.2,50.5 220.2,49.8ZM227.2,48.8 227.5,50.2 227.8,49.2ZM223.5,48.8 222.8,49.8 223.2,50.8 223.8,50.5Z" fill="#9c1127" fill-rule="evenodd"/>
<path d="M52.5,178.2 51.2,179.5 51.5,180.8 52.8,179.5ZM56.2,177.5 55.2,178.5 54.8,179.5 55.2,180.5 56.5,179.5 56.5,177.8ZM60.2,177.2 59.5,177.2 58.8,178.2 58.8,179.8 59.2,180.2 60.5,178.5ZM64.2,176.5 63.5,176.5 62.5,177.8 62.8,179.5 64.2,178.5ZM67.8,175.8 66.5,176.8 66.2,178.5 66.8,179.2 68.2,177.5ZM71.8,175.5 71.2,175.5 70.2,176.5 70.2,178.5 70.8,178.5 71.5,177.8ZM75.5,174.8 74.8,174.8 73.8,176.5 74.2,178.2 75.5,177.2 75.8,176.2ZM79.2,174.2 78.2,174.8 77.5,176.5 78.2,177.8 79.5,176.2 79.5,174.5ZM83.2,173.8 82.5,173.8 81.5,175.2 81.5,176.8 81.8,177.2 83.2,176.2 83.5,175.2ZM86.8,173.2 85.2,174.8 85.2,176.2 85.8,176.8 87.2,175.2 87.2,173.5ZM90.5,172.5 89.2,173.8 88.8,174.8 89.2,176.2 89.8,176.2 90.8,174.8 91.2,173.5ZM94.5,172.2 93.8,172.2 92.8,173.8 92.8,175.5 93.2,175.8 94.2,175.2 94.8,173.8ZM98.2,171.5 97.2,172.2 96.5,173.5 96.8,175.2 97.5,175.2 98.5,173.8 98.5,171.8ZM102.2,171.2 101.5,171.2 100.5,172.5 100.5,174.5 100.8,174.8 101.8,174.2 102.5,172.8ZM105.8,170.5 104.2,172.2 104.2,173.8 104.5,174.2 105.2,174.2 106.2,172.5 106.2,170.8ZM109.8,170.2 109.2,170.2 108.2,171.5 107.8,172.8 108.5,173.8 109.8,172.5 110.2,171.5ZM113.5,169.5 111.8,171.2 111.8,172.8 112.2,173.2 113.8,171.5ZM117.2,169.2 115.8,170.2 115.5,171.2 115.8,172.5 116.5,172.5 117.5,171.2 117.5,169.5ZM120.8,168.5 119.5,170.2 119.5,171.8 119.8,172.2 120.8,171.5 121.5,169.8ZM124.8,168.2 123.2,169.8 123.5,171.5 124.2,171.5 125.2,169.8ZM128.8,167.8 128.2,167.8 127.2,168.8 127.2,170.8 127.8,170.8 128.5,170.2ZM132.5,167.2 130.8,168.8 131.2,170.5 132.5,169.5 132.8,168.5ZM136.2,166.8 135.5,166.8 134.8,167.8 134.8,169.8 135.5,169.8 136.5,168.5ZM139.8,166.2 139.2,166.5 138.5,167.8 138.8,169.2 139.5,169.2 140.2,168.2 140.2,166.5ZM143.8,165.8 143.2,165.8 142.5,166.8 142.5,168.5 142.8,168.8 143.8,167.8 144.2,166.8ZM147.5,165.2 146.2,166.5 146.5,168.2 147.8,166.8ZM151.5,163.8 149.8,166.5 150.2,167.5 150.8,167.5 151.5,166.5ZM155.8,159.5 154.8,161.5 153.8,164.8 153.5,170.5 154.2,170.2 156.2,164.5 156.2,162.5 156.5,162.2 156.5,159.8ZM248.8,156.8 248.5,157.5 248.8,157.5ZM252.5,156.2 252.2,156.8 252.5,157.2 252.8,156.5ZM260.2,155.2 259.8,155.8 260.2,155.8ZM264.2,154.8 263.8,154.8 263.8,155.5ZM238.8,152.2 237.2,154.2 237.2,156.5 236.5,159.5 236.8,160.2 237.5,159.2 238.2,156.2 239.5,153.8ZM242.8,151.8 242.2,151.8 240.8,153.8 241.2,156.2 241.8,156.2 243.2,154.2ZM246.5,151.2 245.5,151.8 244.5,153.8 245.2,155.8 246.8,153.8ZM250.2,150.5 248.5,152.8 248.8,155.2 250.2,154.2 250.8,152.8 250.8,151.5ZM235.2,150.5 233.5,153.5 232.2,158.5 232.2,162.8 232.8,163.2 233.8,161.2 235.5,155.2 235.5,150.8ZM254.2,150.2 252.8,151.2 252.2,152.5 252.2,153.8 252.8,154.8 254.5,152.8ZM257.8,149.5 256.2,151.5 256.2,153.8 256.5,154.2 257.8,153.2 258.5,151.5ZM243.2,149.5 242.8,149.5 242.8,150.2ZM261.8,149.2 260.2,150.5 259.8,152.8 260.5,153.8 262.2,151.5ZM265.5,148.8 264.2,149.8 263.5,151.5 264.2,153.2 265.2,152.5 265.8,151.2 265.8,149.2ZM246.8,148.8 246.5,149.5 246.8,149.5ZM250.8,148.5 250.5,148.5 250.5,149.2ZM269.2,148.2 268.5,148.5 267.5,150.2 267.5,152.2 267.8,152.5 268.5,152.5 269.8,150.2 269.8,149.2ZM232.2,149.5 231.5,149.5 229.2,153.5 228.8,153.2 228.8,149.5 228.5,148.8 227.5,149.5 225.8,152.5 225.2,150.8 224.8,148.2 222.2,152.2 221.5,150.5 221.5,148.8 220.8,148.5 218.5,151.8 217.8,150.8 217.8,149.2 216.8,148.8 214.8,152.2 214.2,151.2 214.2,149.5 213.5,148.8 211.2,152.2 210.5,151.8 210.5,150.5 209.8,149.2 207.2,152.8 206.2,149.8 205.2,150.5 203.5,153.2 202.8,152.2 202.8,150.8 202.2,150.2 199.8,153.5 199.2,153.2 199.2,151.8 198.5,150.5 195.8,154.2 194.8,151.2 193.5,152.2 192.2,154.5 191.5,153.8 191.5,152.2 190.8,151.5 188.5,154.8 187.8,154.5 187.8,153.2 187.2,151.8 184.5,155.5 183.5,152.5 182.2,153.5 180.8,155.8 180.2,155.5 180.2,153.8 179.5,152.8 176.8,156.5 176.2,153.8 175.5,153.5 173.2,157.2 172.5,156.8 172.5,154.8 171.8,154.2 170.8,155.2 169.2,158.2 168.2,154.8 167.2,155.8 165.2,159.5 164.2,155.8 163.5,156.5 161.2,161.5 160.8,161.2 160.5,157.5 159.8,157.5 159.2,158.5 157.2,164.2 156.5,171.2 156.8,172.2 157.5,171.8 159.5,167.8 159.8,168.2 160.2,172.8 160.8,172.8 162.5,169.5 163.2,169.2 163.5,169.5 163.5,172.5 163.8,173.2 164.5,173.2 166.5,169.8 167.2,170.5 167.5,173.2 168.5,172.8 170.2,169.8 170.8,170.5 171.2,173.2 171.8,173.2 173.8,169.8 174.5,170.2 174.8,172.8 175.5,172.8 176.2,172.2 176.8,170.5 177.8,169.5 178.5,172.5 179.2,172.5 181.5,169.2 182.2,170.5 182.2,171.8 182.8,172.2 185.2,168.8 185.8,169.5 186.2,171.8 186.5,171.8 188.8,168.5 189.5,168.8 190.2,171.5 191.5,170.2 192.8,167.8 193.5,168.8 193.5,170.5 194.5,170.8 196.5,167.5 197.2,167.8 197.2,169.5 197.8,170.5 200.2,167.2 200.8,167.5 201.5,170.2 202.8,168.8 204.2,166.5 204.8,167.5 205.2,169.5 206.5,168.5 207.8,166.2 208.5,166.5 208.5,167.8 209.2,169.2 211.8,165.5 212.5,166.8 212.5,168.2 213.2,168.5 215.5,164.8 216.2,165.2 216.5,167.8 217.2,167.8 219.5,163.8 220.2,165.2 220.2,166.8 220.8,167.2 223.5,162.8 224.2,165.8 224.8,166.2 226.8,162.5 226.8,161.8 227.5,161.2 227.8,161.5 228.2,164.8 228.8,164.8 229.8,163.2 231.8,157.5ZM273.2,147.8 271.5,149.2 271.2,151.2 271.8,152.2 273.5,150.2ZM276.8,147.5 275.2,149.2 275.5,151.5 277.2,149.8 277.2,147.8ZM258.2,147.5 257.8,148.2 258.2,148.2ZM280.5,146.8 279.2,148.2 278.8,150.2 279.5,150.8 280.2,150.5 281.2,148.5ZM262.2,146.8 261.8,146.8 261.8,147.5ZM284.5,146.5 282.8,148.2 282.8,149.8 283.2,150.2 284.8,148.5ZM288.2,146.2 286.8,147.2 286.5,148.2 286.8,149.5 287.5,149.5 288.5,148.2 288.5,146.5ZM291.8,145.8 290.5,147.2 290.8,148.8 292.2,147.8 292.2,146.2ZM295.8,145.5 294.8,145.8 294.5,148.2 295.5,147.8ZM303.2,145.2 302.5,145.5 302.2,146.2 302.5,146.5 303.2,146.2ZM299.5,145.2 298.5,145.8 298.2,146.8 298.5,147.5 299.5,146.8ZM38.5,94.5 38.8,101.8 38.8,95.5ZM57.5,93.8 57.2,94.5 57.2,98.8 57.5,99.2 57.8,98.5 57.8,94.5ZM53.8,93.2 53.2,93.5 52.8,94.5 52.8,99.5 53.5,100.8 54.2,99.8 54.2,94.2ZM49.5,92.8 48.8,94.2 48.5,98.5 49.2,101.8 49.8,102.2 50.5,100.2 50.5,94.5 50.2,93.2ZM41.8,92.8 41.2,93.5 40.5,96.8 40.5,100.2 41.5,103.8 42.2,103.5 42.8,101.2 42.8,95.2ZM45.8,92.5 45.2,93.2 44.5,96.2 44.5,100.2 45.5,103.2 46.2,102.8 46.8,99.8 46.8,95.8ZM73.5,92.2 73.2,92.5 73.2,96.5 73.5,96.8 73.8,96.2 73.8,92.8ZM77.5,90.2 76.8,90.8 76.8,92.5 76.5,92.8 76.5,95.5 77.2,97.8 77.5,97.8 78.2,95.8 78.2,92.2ZM81.2,89.2 80.5,90.5 80.5,96.8 80.8,97.8 81.5,98.2 82.2,96.2 82.2,91.2 81.8,89.8ZM85.2,88.2 84.2,91.2 84.2,95.2 84.8,97.8 85.5,97.8 86.2,95.8 86.2,90.5ZM89.5,87.8 88.8,87.8 88.2,90.2 88.2,95.5 89.2,97.8 89.8,96.8 90.2,95.2 90.2,89.8ZM93.5,87.2 92.8,87.2 92.2,89.2 92.2,95.5 92.5,96.8 93.2,97.5 94.2,94.8 94.2,89.5ZM96.8,86.5 96.2,88.2 95.8,93.2 96.5,96.5 97.2,96.8 97.8,95.8 98.2,94.2 98.2,89.2 97.8,87.5ZM100.8,85.8 99.8,89.2 99.8,93.5 100.2,93.8 100.2,95.5 101.2,96.5 102.2,93.5 102.2,88.8 101.5,86.2ZM104.8,85.5 104.2,86.5 103.8,88.2 103.8,93.5 104.2,95.2 105.2,96.2 106.2,92.5 106.2,88.5 105.5,85.8ZM109.2,84.8 108.5,85.2 107.8,87.2 107.8,93.5 108.8,95.8 109.5,95.2 110.2,91.8 110.2,88.5ZM112.5,84.5 111.8,86.5 111.8,93.5 112.5,95.2 113.2,95.2 113.8,93.2 114.2,88.8 113.8,88.5 113.5,85.2 113.2,84.5ZM116.8,83.8 115.8,85.8 115.8,88.2 115.5,88.5 115.8,93.2 116.5,94.8 117.2,94.5 117.8,92.5 117.8,85.8ZM132.8,83.5 131.8,85.5 131.8,89.5 132.2,89.8 132.2,92.2 132.8,93.5 133.5,91.5 133.5,85.5ZM120.5,83.5 119.8,85.2 119.5,90.5 120.2,93.8 120.8,94.2 121.5,93.2 121.8,91.5 121.8,85.8 121.2,83.8ZM128.5,83.2 127.5,86.5 127.5,89.8 128.2,92.5 128.8,92.8 129.5,90.8 129.5,84.8 129.2,83.5ZM124.8,83.2 124.2,83.8 123.5,86.8 123.5,90.5 124.5,93.8 125.2,93.2 125.8,90.5 125.8,86.2 125.5,85.8 125.5,84.2ZM235.5,68.5 234.5,69.5 234.5,73.5 234.2,73.8 234.5,78.8 235.2,80.2 235.8,79.5 236.2,78.2 236.2,69.5ZM239.2,68.2 238.5,69.2 238.2,76.8 238.5,78.5 239.5,79.5 240.2,77.5 240.2,71.5 239.8,71.2 240.2,69.5 239.8,68.5ZM282.8,67.8 282.5,67.8 282.5,71.2 282.8,70.8ZM243.2,67.5 242.5,68.5 242.5,71.8 242.2,72.2 242.2,76.5 242.5,78.2 243.2,79.2 244.2,76.8 243.8,68.2ZM278.5,67.2 278.2,71.8 278.5,72.8 278.8,72.8 279.2,72.2 279.2,67.8ZM267.2,67.2 266.5,67.5 266.2,68.5 266.2,74.5 266.8,75.8 267.5,74.8 267.5,73.2 267.8,72.8 267.8,69.5ZM262.8,67.2 262.2,68.8 262.2,75.2 262.8,76.5 263.8,74.2 263.8,69.2 263.5,67.8ZM247.5,67.2 246.8,67.2 246.5,67.8 246.5,70.8 246.2,71.2 246.2,76.5 246.8,78.5 247.5,78.2 248.2,75.8 248.2,71.2 247.5,69.5 247.8,69.2ZM274.8,66.8 274.2,67.8 274.2,73.2 274.5,73.8 275.2,73.5 275.5,72.2 275.5,68.5ZM270.8,66.8 270.2,68.2 270.2,73.8 270.5,74.8 271.5,73.8 271.5,67.8ZM251.5,66.8 250.8,66.8 250.5,67.5 250.5,70.2 250.2,70.5 250.2,76.2 250.5,77.5 251.2,78.2 252.2,74.8 252.2,71.2 251.5,69.2ZM220.2,67.2 219.2,66.8 218.8,67.5 218.8,70.5 218.2,73.8 217.5,74.8 216.2,69.8 216.2,67.8 215.2,67.5 214.5,70.8 213.5,72.5 211.8,67.8 211.2,68.2 209.8,71.5 209.2,71.2 207.8,67.8 207.2,68.2 205.8,71.2 205.2,70.8 204.2,68.2 203.5,67.8 201.8,71.5 201.2,70.8 200.5,68.8 199.5,68.2 197.8,71.8 195.8,68.5 193.8,72.2 193.2,71.5 192.5,69.5 191.5,69.2 190.8,71.2 189.8,72.5 189.2,71.8 188.5,69.8 187.8,69.5 185.8,73.2 184.5,70.2 183.8,70.2 183.2,70.8 182.8,72.5 182.2,73.5 181.5,73.2 180.8,71.2 179.8,70.5 178.2,74.2 177.5,73.8 176.5,71.2 175.5,71.5 174.8,73.8 174.2,74.5 173.5,74.2 173.2,72.8 172.2,71.5 170.2,75.2 169.5,74.5 168.8,72.5 167.8,72.2 166.8,75.2 166.2,75.8 165.5,75.2 164.8,73.2 163.8,72.8 162.8,75.8 162.2,76.5 160.8,73.5 159.8,73.5 158.8,76.5 158.2,77.2 156.8,74.2 156.2,74.2 154.2,77.8 152.8,74.8 152.2,74.8 150.5,78.8 149.8,78.5 149.2,76.2 148.2,75.8 146.5,80.2 145.8,79.5 144.8,76.8 143.8,77.5 143.2,80.8 142.5,81.8 141.8,81.2 141.2,78.8 140.8,78.5 140.2,78.8 138.5,85.5 137.8,84.2 137.5,81.5 136.5,80.5 135.5,83.8 135.5,87.5 135.2,87.8 135.8,94.2 136.5,95.5 137.2,95.2 137.8,91.5 138.5,90.2 140.2,96.5 141.2,96.2 141.8,93.2 142.5,92.5 143.2,93.5 143.5,95.8 144.5,97.2 145.2,96.5 146.2,93.5 146.8,93.8 148.2,97.2 149.2,96.5 149.5,94.8 150.5,93.5 151.8,96.8 152.5,97.2 154.2,93.5 154.8,93.8 155.5,96.2 156.5,96.8 158.2,93.2 160.2,96.5 162.2,92.8 162.8,93.5 163.5,95.5 164.5,95.8 165.2,94.8 165.5,93.2 166.2,92.5 166.8,93.2 167.5,95.2 168.2,95.5 170.2,91.8 171.8,94.8 172.5,94.8 173.8,91.5 174.8,92.2 175.5,94.2 176.2,94.5 178.2,90.8 179.8,93.8 180.5,93.5 181.8,90.5 182.5,90.8 183.2,92.8 183.8,93.5 185.8,89.8 186.5,90.2 187.5,92.8 188.2,92.8 189.8,89.2 190.5,89.8 191.2,91.8 192.2,92.2 193.8,88.5 194.5,89.2 195.2,91.2 196.2,91.5 197.2,88.5 197.8,87.8 198.8,90.2 199.5,90.8 200.2,90.8 200.8,88.5 201.8,87.2 202.8,89.5 203.8,90.2 205.5,86.2 206.2,86.5 207.2,89.2 207.8,89.2 209.5,84.8 210.2,85.2 210.5,86.8 211.5,88.2 212.2,87.5 213.5,83.2 214.2,83.5 214.8,86.2 215.5,86.5 216.2,85.8 217.5,79.5 218.2,80.5 218.8,84.2 219.2,84.5 219.8,84.2 220.5,81.5 220.5,78.5 220.8,78.2 220.5,72.2 219.8,70.2ZM254.8,66.5 254.5,67.2 254.8,68.5 254.2,69.8 254.2,75.8 254.5,77.2 255.2,77.5 255.8,76.2 256.2,71.8 255.8,71.5 255.8,69.2 255.2,68.2 255.5,66.8ZM258.8,66.2 259.2,67.5 258.2,69.2 258.2,75.5 258.5,76.5 259.2,76.8 259.8,75.2 259.8,69.2 258.8,67.2 259.2,66.8 259.2,66.2ZM223.2,66.2 222.8,66.8 223.2,70.5 222.5,71.8 222.5,79.2 222.8,80.8 223.8,81.2 224.5,78.2 224.5,74.5 224.2,74.2 224.5,71.8 223.8,70.5 224.2,66.8 223.8,66.2ZM227.2,65.5 226.8,66.2 227.2,69.8 226.5,71.2 226.5,79.2 227.2,80.8 227.5,80.8 228.5,77.5 228.5,74.5 228.2,74.2 228.2,70.5 227.5,69.5 228.2,66.5ZM231.2,64.8 230.8,67.5 231.5,68.5 230.5,70.2 230.5,78.8 230.8,80.2 231.5,80.5 232.2,78.8 232.5,74.5 232.2,74.2 232.2,70.2 231.5,68.8 231.8,65.2ZM235.2,64.5 234.8,64.8 234.8,66.8 235.5,67.2 235.8,64.8ZM239.2,63.8 238.8,64.2 238.8,65.8 239.5,66.2 239.8,64.5ZM191.8,63.8 191.8,64.8 192.2,64.5ZM243.5,63.5 242.8,63.8 243.2,65.2ZM195.5,63.5 195.5,64.2 196.2,63.8ZM247.2,63.2 246.8,63.5 247.2,64.2ZM199.8,62.8 199.5,63.8 199.8,63.8ZM203.5,62.5 203.5,63.2 203.8,63.2 203.8,62.5ZM207.5,62.2 207.5,62.8 207.8,62.8 207.8,62.2ZM176.2,60.5 175.8,60.8 176.2,61.2ZM179.8,59.8 179.8,60.8 180.2,60.8 180.2,59.8ZM183.8,59.2 183.5,60.2 184.2,60.5 184.5,59.8ZM188.2,58.5 187.5,58.8 187.5,60.2 188.2,60.2 188.5,59.5ZM191.5,58.2 191.5,59.8 192.2,59.8 192.5,58.8 192.2,58.2ZM196.2,57.5 195.5,57.5 195.2,58.2 195.5,59.5 196.5,58.5ZM200.2,57.2 199.2,57.5 199.2,58.5 199.8,59.2 200.2,58.8ZM203.5,56.5 203.2,58.2 203.8,58.5 204.2,56.8ZM207.8,56.2 207.2,56.5 207.5,58.2 208.2,57.5ZM211.5,55.8 211.2,57.2 211.8,57.5 212.2,56.2ZM215.2,55.5 215.2,56.8 215.8,56.8 215.8,55.5ZM219.8,55.2 219.2,55.2 219.2,56.2 219.8,55.8ZM223.5,54.8 223.2,55.2 223.5,55.5ZM191.8,53.2 191.8,54.2 192.2,53.8ZM195.5,52.8 195.5,53.5 196.2,53.2ZM199.8,52.2 199.5,53.2 199.8,53.2ZM203.5,51.8 203.5,52.5 203.8,52.5 203.8,51.8ZM207.5,51.5 207.5,52.2 207.8,52.2 207.8,51.5Z" fill="#aa162a" fill-rule="evenodd"/>
<path d="M52.5,178.8 51.8,178.8 51.5,179.5 51.8,180.5ZM56.2,178.2 55.2,179.2 55.5,179.8 56.2,179.5ZM59.8,177.5 59.2,178.2 59.2,179.5 60.2,178.5ZM63.8,177.2 62.8,177.8 62.8,178.8 63.8,178.5ZM67.8,176.5 66.8,176.8 66.5,177.5 66.8,178.5 67.5,178.2ZM71.5,175.8 70.5,176.5 70.5,178.2 71.5,177.5ZM75.5,175.5 74.8,175.5 74.2,176.2 74.2,177.5 75.2,177.2ZM79.2,174.8 78.5,174.8 77.8,176.2 78.2,177.2 79.2,176.5ZM82.8,174.2 81.8,175.2 81.8,176.5 82.5,176.5 83.2,175.5ZM86.8,173.8 86.2,173.8 85.5,174.8 85.8,176.2 86.8,175.2ZM90.5,173.2 89.2,174.5 89.5,175.5 90.5,175.2 90.8,174.2ZM94.2,172.5 93.2,173.5 93.2,175.2 93.8,175.2 94.5,174.2ZM98.2,172.2 97.5,172.2 96.8,173.2 97.2,174.8 98.2,173.8 98.5,172.8ZM101.8,171.5 101.2,171.8 100.5,173.2 100.8,174.2 102.2,172.8ZM105.8,171.2 104.8,171.5 104.5,173.5 105.2,173.5 105.8,172.8ZM109.5,170.5 108.5,171.2 108.2,172.2 108.5,173.2 109.8,171.8ZM113.5,170.2 112.5,170.5 112.2,172.5 113.2,172.2ZM116.8,169.5 115.8,170.8 116.2,172.2 117.2,171.2ZM120.8,169.2 119.8,169.8 119.8,171.5 121.2,170.2ZM124.8,168.8 123.8,169.2 123.5,170.8 124.2,170.8 124.8,170.2ZM128.5,168.2 127.5,168.8 127.5,170.5 128.5,169.8ZM132.2,167.8 131.5,168.2 131.2,169.8 132.2,169.5 132.5,168.8ZM135.8,167.2 135.2,167.8 135.2,169.2 136.2,168.5ZM139.8,166.8 138.8,167.5 139.2,168.8 139.8,168.2ZM143.5,166.5 142.8,166.8 142.8,168.2 143.8,167.2ZM147.2,165.8 146.5,166.5 146.5,167.5 147.2,167.5 147.5,166.8ZM151.2,165.5 150.2,166.5 150.5,167.2 151.2,166.5ZM155.8,160.8 154.5,163.5 153.8,166.5 153.8,168.8 154.5,168.5 155.5,165.8ZM160.2,158.5 159.5,158.8 158.5,160.8 157.5,164.2 157.2,167.8 156.8,168.2 156.8,170.5 157.2,170.8 157.8,170.5 159.8,165.2ZM228.5,155.8 228.8,156.2 228.5,157.5 228.2,157.2ZM238.5,152.8 237.2,155.2 237.8,156.2 239.2,154.5 239.2,153.5ZM242.8,152.5 242.2,152.5 241.2,153.8 241.5,155.5 242.8,154.2ZM235.2,152.2 234.2,152.8 232.8,157.2 232.8,158.8 232.5,159.2 232.5,161.5 232.8,161.8 233.5,161.2 235.2,155.5ZM246.5,151.8 244.8,153.5 245.2,155.2 246.5,154.2 246.8,153.2ZM250.2,151.5 249.5,151.5 248.8,152.5 248.8,154.5 249.5,154.5 250.5,153.2ZM254.2,150.8 253.5,150.8 252.5,152.2 252.5,153.8 252.8,154.2 254.2,152.8ZM257.8,150.5 257.2,150.5 256.2,152.2 256.5,153.5 257.2,153.5 258.2,151.8ZM261.5,149.8 260.2,151.2 260.2,152.8 260.5,153.2 261.8,151.8 261.8,150.2ZM265.5,149.5 264.8,149.5 263.8,150.8 264.2,152.5 265.5,151.5 265.8,150.5ZM231.8,150.5 230.8,151.2 228.8,156.2 228.5,155.8 228.5,150.2 228.2,149.8 227.5,150.2 225.5,154.2 225.2,153.8 224.8,149.5 223.8,149.8 221.8,153.5 221.5,153.2 221.2,149.5 220.2,149.8 219.2,152.2 218.2,153.2 217.5,149.8 216.8,149.5 214.5,153.5 213.8,150.2 213.2,149.8 210.8,153.5 210.2,152.8 210.2,150.5 209.8,150.2 208.8,150.8 207.2,153.8 206.5,153.5 206.5,151.5 206.2,150.5 205.8,150.5 204.8,151.5 203.2,154.5 202.2,150.8 201.2,151.8 199.5,154.8 198.8,153.8 198.8,151.8 198.5,151.5 197.2,152.5 195.8,155.2 195.2,154.8 195.2,152.8 194.5,151.8 193.5,152.8 191.8,155.8 190.8,152.2 189.8,153.2 188.2,156.2 187.5,155.5 187.5,153.5 186.8,152.8 185.8,153.8 184.2,156.8 183.8,156.5 183.8,154.5 183.2,153.2 182.2,154.2 180.5,157.2 179.8,156.2 179.8,154.2 179.2,153.8 177.5,156.8 176.5,157.8 175.8,154.5 175.2,154.5 172.8,158.5 172.2,157.5 172.2,155.5 171.5,155.2 168.8,159.8 168.5,159.5 168.5,157.2 167.8,155.8 166.5,157.5 164.8,161.5 164.5,161.2 164.5,157.8 163.8,156.8 162.2,159.8 160.5,165.5 160.2,170.8 160.5,171.8 161.5,171.2 162.5,168.5 163.5,167.2 163.8,167.5 163.8,171.8 164.2,172.5 165.2,171.5 166.8,168.2 167.5,169.5 167.5,172.2 167.8,172.5 168.5,172.2 170.5,168.5 171.5,172.5 172.2,172.2 174.2,168.5 174.8,169.5 175.2,172.2 176.2,171.5 177.8,168.5 178.5,168.8 178.5,171.2 179.2,171.8 180.2,170.8 181.8,167.8 182.2,168.2 182.2,170.2 182.8,171.5 183.8,170.5 185.5,167.5 186.2,168.8 186.5,171.2 187.2,170.8 189.2,167.2 189.8,167.8 190.2,170.5 190.8,170.5 192.8,166.8 193.5,167.2 193.8,169.8 194.5,170.2 196.8,166.2 197.5,167.2 197.5,169.2 197.8,169.5 198.5,169.5 200.5,165.8 201.2,166.2 201.5,169.2 202.2,169.2 204.5,165.2 205.5,168.8 206.5,167.8 208.2,164.8 208.8,165.5 208.8,167.5 209.5,168.2 210.5,167.2 212.2,164.2 212.5,164.5 212.5,166.5 213.2,167.8 214.2,166.8 215.8,163.5 216.5,164.2 216.5,166.5 217.2,167.2 219.8,162.5 220.2,162.8 220.5,166.2 221.2,166.2 223.2,162.5 223.2,161.8 223.8,161.2 224.2,161.5 224.2,164.2 224.5,165.2 224.8,165.2 226.5,162.5 228.2,157.8 228.5,158.2 228.5,160.5 228.2,160.8 228.5,163.8 229.8,162.5 231.8,155.5ZM269.2,148.8 267.8,150.2 267.8,151.8 268.5,151.8 269.5,150.5ZM273.2,148.5 272.5,148.5 271.5,149.8 271.8,151.5 273.2,150.2ZM276.5,147.8 275.5,148.8 275.5,150.8 276.2,150.8 276.8,149.8 277.2,148.5ZM280.5,147.5 279.2,148.8 279.5,150.2 280.8,148.8ZM284.5,147.2 283.8,147.2 283.2,147.8 283.2,149.5 284.2,149.2ZM288.2,146.8 287.2,147.2 286.8,148.8 287.5,148.8 288.2,148.2ZM291.8,146.5 291.2,146.5 290.8,148.2 291.8,147.8ZM295.5,146.2 294.8,146.5 294.8,147.5 295.5,147.2ZM53.5,94.5 53.2,95.2 53.2,98.8 53.5,99.2 53.8,98.8 53.8,94.8ZM49.5,93.8 48.8,96.2 48.8,98.8 49.2,100.5 49.8,100.8 50.2,99.8 50.2,94.8ZM45.5,93.8 44.8,95.5 44.8,100.2 45.2,101.5 45.8,102.2 46.5,100.2 46.5,95.5 46.2,94.2ZM41.8,93.8 40.8,96.2 40.8,100.8 41.5,102.8 42.2,102.5 42.5,101.5 42.5,95.2ZM77.2,91.8 76.8,94.8 77.2,96.2 77.5,96.2 77.8,92.8 77.5,91.8ZM81.2,90.5 80.5,94.2 80.8,94.5 80.8,96.2 81.5,96.8 81.8,95.8 81.8,91.2ZM85.5,89.5 84.8,89.8 84.5,91.2 84.5,95.2 85.2,96.8 85.8,95.5 85.8,90.5ZM89.2,88.8 88.5,90.2 88.5,95.5 88.8,96.5 89.5,96.2 89.8,95.2 89.8,89.8ZM93.2,88.2 92.5,89.2 92.5,90.8 92.2,91.2 92.8,96.2 93.5,95.8 93.8,94.8 93.8,89.5ZM96.8,87.5 96.2,89.8 96.2,93.8 96.5,95.2 97.2,95.8 97.8,94.2 97.8,88.8 97.5,87.8ZM101.2,86.8 100.5,87.5 100.2,88.8 100.2,93.8 100.8,95.5 101.2,95.5 101.8,93.8 101.8,88.5ZM104.8,86.5 104.2,87.8 104.2,93.8 104.5,94.8 105.2,95.2 105.8,93.2 105.8,88.2 105.5,86.8ZM132.5,86.2 132.2,88.2 132.8,90.8 133.2,87.2 132.8,86.2ZM109.2,85.8 108.5,86.2 108.2,89.5 107.8,89.8 108.2,93.5 108.8,94.8 109.8,92.5 109.8,88.2ZM112.5,85.5 111.8,88.5 111.8,91.5 112.2,91.8 112.2,93.5 112.5,94.2 113.2,94.2 113.8,91.5 113.8,87.8 113.2,85.5ZM116.8,84.8 116.2,85.8 115.8,87.5 115.8,91.5 116.5,93.8 117.2,93.5 117.8,90.2 117.5,85.8ZM120.5,84.5 119.8,86.8 119.8,91.2 120.2,92.5 120.8,93.2 121.5,91.8 121.5,85.8 121.2,84.8ZM128.5,84.2 127.8,86.2 127.8,89.8 128.2,91.2 128.8,91.5 129.2,90.8 129.2,85.2 128.8,84.2ZM124.5,84.2 123.8,86.2 123.8,90.8 124.2,92.2 124.8,92.5 125.5,90.8 125.5,85.8 125.2,84.5ZM136.5,81.8 135.8,83.8 135.5,89.5 135.8,89.8 136.2,93.8 136.8,94.2 137.8,90.5 137.8,85.2 137.2,82.2ZM223.5,70.8 222.8,71.5 222.8,79.2 223.5,80.2 224.2,78.5 224.2,74.5 223.8,74.2 224.2,71.5ZM219.2,70.8 218.2,75.2 218.2,79.2 218.5,79.5 218.5,81.5 219.2,83.2 219.5,83.2 220.2,81.5 220.2,79.2 220.5,78.8 220.5,74.8 220.2,74.5 220.2,72.2 219.8,71.2ZM227.5,70.2 226.8,70.8 226.5,72.2 226.8,72.5 226.8,78.8 227.5,79.8 228.2,77.8 228.2,74.2 227.8,73.8 228.2,71.2ZM231.2,69.8 230.5,71.5 230.8,72.2 230.5,76.8 230.8,77.2 230.8,78.8 231.5,79.2 232.2,76.8 232.2,74.2 231.8,73.8 232.2,70.8ZM251.2,69.5 250.5,70.5 250.5,75.8 250.8,76.8 251.5,76.5 251.8,75.2 251.8,71.2ZM254.8,69.2 254.5,70.2 254.5,75.5 255.2,76.2 255.8,74.2 255.8,71.2 255.5,69.8ZM235.2,69.2 234.5,70.8 234.8,71.2 234.5,76.8 234.8,78.5 235.5,78.8 236.2,76.2 236.2,74.2 235.5,71.8 235.8,71.5 235.8,69.5ZM259.2,68.8 258.5,69.5 258.5,71.5 258.2,71.8 258.8,75.8 259.5,74.8 259.5,69.5ZM239.5,68.8 238.8,69.2 238.8,72.5 238.5,72.8 238.5,76.8 239.2,78.5 239.8,77.5 239.8,71.8 239.5,71.5 239.8,69.2ZM274.8,68.5 274.5,69.2 274.5,71.8 274.8,72.2 275.2,71.2ZM267.2,68.5 266.5,68.8 266.5,70.8 266.2,71.2 266.8,74.5 267.5,72.8ZM263.2,68.5 262.5,69.2 262.5,70.8 262.2,71.2 262.8,75.2 263.5,74.2 263.5,69.5ZM270.8,68.2 270.5,68.8 270.5,73.2 270.8,73.5 271.2,72.8 271.2,68.8ZM243.2,68.2 242.8,68.5 242.8,70.2 243.2,70.5 242.5,71.8 242.5,76.5 242.8,77.5 243.5,77.8 243.8,76.8 243.8,71.5ZM247.2,67.8 246.8,68.2 247.2,69.8 246.5,71.2 246.5,76.2 247.2,77.5 247.8,75.8 247.8,71.2 247.2,69.8 247.5,69.2ZM215.8,68.2 215.5,67.8 215.2,68.2 215.2,69.8 214.5,71.2 214.2,73.8 213.5,74.5 211.8,68.8 210.8,69.8 209.8,73.2 209.2,72.8 208.8,70.8 207.8,68.8 206.8,69.5 205.8,72.8 204.8,71.5 204.5,69.5 203.5,68.8 201.8,72.8 201.2,72.2 200.2,69.2 199.5,69.2 197.8,72.8 197.2,72.2 196.2,69.5 195.5,69.5 194.5,72.5 193.8,73.2 193.2,72.5 192.5,70.2 191.8,69.8 191.2,70.5 190.5,73.2 189.8,73.8 188.2,70.5 187.5,70.5 186.8,72.8 185.8,74.2 184.5,71.2 183.8,70.8 183.2,71.8 182.8,73.5 181.8,74.8 180.5,71.5 179.5,71.8 178.2,75.2 177.5,74.8 176.8,72.5 176.2,71.8 175.5,72.5 174.2,75.8 173.5,75.2 172.5,72.5 171.8,72.5 170.2,76.5 168.2,72.8 167.5,73.5 166.8,76.2 166.2,76.8 165.5,76.2 165.2,74.5 164.5,73.5 163.5,74.2 162.8,76.8 162.2,77.5 161.5,76.8 160.8,74.5 160.2,74.2 159.2,75.8 159.2,76.8 158.2,78.2 156.8,75.2 156.2,74.8 155.5,75.8 154.8,78.5 154.2,79.2 152.5,75.5 151.5,76.8 150.5,80.2 149.8,79.8 149.2,77.2 148.5,76.5 147.8,77.2 147.2,80.5 146.5,81.5 145.8,81.2 145.5,79.2 144.5,77.8 143.5,79.8 143.2,82.5 142.5,84.2 141.8,83.2 141.2,79.8 140.5,79.5 139.8,80.5 139.5,83.8 139.2,84.2 139.2,91.2 139.8,94.5 140.8,95.5 141.8,92.5 141.8,91.2 142.5,90.5 143.2,91.8 143.8,95.5 144.5,96.2 145.2,95.5 145.8,92.5 146.5,91.8 148.2,96.2 148.8,96.2 149.8,92.8 150.5,92.2 152.2,96.2 152.8,95.8 154.2,92.5 154.8,92.8 155.8,95.8 156.8,95.5 158.2,92.2 158.8,92.5 159.8,95.5 160.5,95.5 161.2,94.5 161.5,92.5 162.2,91.8 162.8,92.2 163.2,93.8 164.2,95.2 164.8,94.5 166.2,91.2 166.8,91.8 167.2,93.5 167.8,94.5 168.5,94.5 169.5,91.5 170.2,90.8 170.8,91.5 171.5,93.8 172.2,94.2 173.2,92.5 173.5,90.8 174.2,90.2 174.8,91.2 175.2,92.8 175.8,93.5 176.8,92.8 177.8,89.8 178.5,90.2 179.5,92.8 180.2,93.2 181.8,89.2 182.5,89.5 183.2,91.8 184.2,92.5 185.8,88.5 187.8,92.2 188.5,91.5 189.2,88.8 189.8,88.2 191.8,91.5 192.5,90.8 193.2,88.2 193.8,87.5 194.5,88.2 194.8,89.8 195.5,90.8 196.5,90.2 197.2,87.5 197.8,86.8 198.5,87.5 199.2,89.8 199.8,90.2 200.5,89.2 201.2,86.5 201.8,85.8 203.2,89.2 203.8,89.2 205.5,84.8 206.2,85.2 206.5,86.8 207.5,88.5 208.5,87.2 208.8,84.8 209.5,83.5 210.2,83.8 210.8,86.5 211.5,87.2 212.5,85.5 212.8,82.5 213.5,80.8 214.2,81.5 215.2,85.5 215.8,85.2 216.5,83.2 216.8,73.5 215.8,69.8ZM251.2,67.5 250.8,67.8 251.2,68.5ZM219.5,67.2 219.2,67.5 219.2,69.2 219.5,69.5 219.8,69.2 219.8,67.5ZM223.8,66.8 223.2,66.8 223.2,68.5 223.8,68.2ZM227.2,66.2 227.2,67.8 227.5,67.8 227.8,66.5ZM231.5,65.5 231.2,66.8 231.5,66.8ZM235.5,65.2 235.2,65.2 235.2,66.2Z" fill="#b72330" fill-rule="evenodd"/>
<path d="M86.5,174.5 86.2,174.5 86.2,175.2ZM105.5,171.8 105.2,171.8 104.8,172.8 105.5,172.5ZM108.8,171.5 108.8,172.2 109.2,172.2 109.2,171.5ZM112.8,170.8 112.5,171.8 113.2,171.2ZM116.8,170.5 116.5,170.5 116.5,171.2ZM159.8,160.2 159.2,160.5 157.8,164.2 157.5,169.2 158.2,168.8 159.2,166.2 159.8,162.8ZM234.8,154.2 233.8,155.2 233.2,159.5 233.5,159.5 234.2,157.8ZM238.5,153.5 237.8,154.2 237.8,155.2 238.8,154.2ZM242.5,153.2 241.8,153.2 241.5,154.8 242.5,154.2ZM246.2,152.5 245.2,153.5 245.5,154.5 246.5,153.2ZM250.2,152.2 249.2,152.5 249.2,153.8 250.2,153.2ZM231.5,152.2 230.5,152.8 229.2,156.8 228.8,162.5 229.8,161.5 231.5,155.5ZM253.8,151.5 252.8,152.5 253.2,153.5 253.8,152.8ZM257.5,150.8 256.5,152.2 256.8,152.8 257.8,151.8ZM227.8,150.8 226.8,152.2 225.2,156.8 224.8,161.2 224.5,161.5 224.8,163.8 226.2,162.5 227.8,157.2 227.8,155.2 228.2,154.8 228.2,151.2ZM261.5,150.5 260.5,151.2 260.8,152.5 261.5,151.5ZM224.5,150.5 223.5,151.2 222.2,154.8 221.2,156.2 220.8,155.8 221.2,155.2 220.8,150.5 219.8,151.2 217.8,155.5 217.5,155.2 217.2,150.5 216.2,151.2 214.2,155.5 213.8,155.2 213.5,150.8 212.8,150.8 210.5,155.5 209.8,154.8 209.8,151.5 209.5,151.2 208.8,151.5 207.2,155.2 206.5,155.8 206.2,155.5 206.2,152.2 205.8,151.5 204.5,152.8 203.8,154.8 202.8,156.2 202.5,155.8 202.5,153.5 201.8,151.8 199.2,156.5 198.5,155.8 198.5,152.8 197.8,152.5 195.2,157.2 194.8,156.8 194.5,152.8 193.5,153.5 192.5,156.2 191.5,157.5 191.2,157.2 190.8,153.5 189.8,153.8 187.8,157.8 187.2,157.5 187.2,154.2 186.5,153.8 183.8,158.5 183.5,158.2 183.5,155.2 182.8,154.2 182.2,154.8 180.2,159.2 179.5,157.8 179.5,155.2 178.8,154.8 176.8,159.2 176.2,159.8 175.8,159.5 175.8,156.2 175.2,155.5 172.2,160.8 171.8,160.5 171.8,156.5 171.2,156.2 170.2,157.8 169.5,160.2 168.2,162.2 167.8,161.8 167.8,160.2 168.2,159.8 167.8,157.2 166.8,157.8 165.5,160.8 165.2,162.8 164.2,163.8 163.8,163.5 163.8,160.5 164.2,160.2 163.8,158.2 162.8,159.2 161.2,164.2 160.8,170.5 161.5,170.2 163.5,165.5 164.5,166.2 164.2,166.5 164.2,170.8 164.5,171.2 165.5,170.2 167.2,166.2 167.8,166.5 167.8,171.2 168.2,171.5 168.8,170.8 170.8,166.5 171.5,166.8 171.5,171.2 171.8,171.5 172.5,170.8 174.5,166.5 175.2,166.8 175.2,170.8 175.5,171.2 176.5,170.2 178.2,166.5 178.8,166.8 178.8,170.2 179.2,170.8 180.5,169.5 180.8,168.2 182.2,166.2 182.5,166.5 182.5,169.5 183.2,170.5 185.8,165.8 186.8,170.2 188.2,168.5 188.2,167.8 189.5,165.5 190.2,165.8 190.2,169.2 190.8,169.5 193.5,164.8 193.8,165.2 193.8,167.8 194.5,169.2 197.2,164.5 197.8,165.5 197.8,168.5 198.5,168.5 201.2,163.8 201.5,164.2 201.5,167.5 201.8,168.2 202.8,167.5 204.2,164.2 204.8,163.5 205.2,163.8 205.2,166.2 205.8,167.8 208.5,163.2 209.2,163.5 209.2,166.8 209.8,167.2 212.5,162.2 212.8,162.5 212.8,165.5 213.2,166.5 213.8,166.5 215.8,161.8 216.5,161.2 216.8,161.5 216.8,165.5 217.5,165.8 220.5,159.5 220.8,159.8 220.5,163.2 220.8,163.5 220.8,165.2 221.2,165.2 222.5,163.2 224.2,158.2 224.5,153.2 224.8,152.8ZM265.2,150.2 264.2,151.2 264.5,151.8 265.2,151.5ZM268.8,149.5 268.2,150.2 268.2,151.2 269.2,150.5ZM272.8,149.2 271.8,149.8 272.2,150.8 272.8,150.2ZM276.5,148.8 275.8,149.2 275.8,150.2 276.5,149.8ZM280.2,148.2 279.5,149.2 279.8,149.5ZM283.8,147.8 283.5,148.8 284.2,148.2ZM49.5,96.5 49.5,98.5 49.8,97.8ZM45.8,95.5 45.5,95.5 45.2,96.5 45.5,100.5 46.2,99.2ZM41.8,95.5 41.2,96.8 41.5,101.2 42.2,100.5 42.2,95.8ZM85.2,91.8 85.2,94.5 85.5,93.8 85.5,92.2ZM89.2,90.8 88.8,91.5 88.8,94.2 89.2,94.5 89.5,93.8 89.5,91.2ZM93.2,89.8 92.8,90.2 92.8,94.2 93.2,94.5 93.5,93.8 93.5,90.5ZM97.2,89.2 96.5,90.8 96.8,94.2 97.5,93.5 97.5,89.8ZM101.2,88.5 100.5,89.5 100.8,93.8 101.2,93.8 101.5,92.8ZM104.8,88.2 104.5,88.8 104.5,92.8 105.2,93.5 105.5,89.2 105.2,88.2ZM109.2,87.5 108.5,87.8 108.5,92.8 108.8,93.2 109.5,91.8ZM112.8,86.8 112.2,89.2 112.5,92.5 112.8,92.8 113.5,90.8 113.5,88.8ZM128.8,86.5 128.5,86.5 128.5,89.5 128.8,89.2ZM116.8,86.5 116.2,88.2 116.2,90.5 116.8,92.2 117.2,91.8 117.2,86.8ZM120.8,86.2 120.2,87.5 120.5,91.5 121.2,90.8 121.2,86.8ZM124.8,85.8 124.2,87.2 124.5,90.8 124.8,90.8 125.2,89.8ZM136.5,83.8 136.2,84.8 136.2,91.5 136.8,92.2 137.5,87.2 137.2,86.8 137.2,84.5ZM140.5,80.8 139.5,84.5 139.5,90.8 140.5,94.2 141.5,92.2 141.5,90.2 141.8,89.8 141.8,84.8 141.2,81.5ZM223.5,75.2 223.2,76.2 223.5,77.8ZM227.5,74.8 227.2,75.2 227.2,77.2 227.5,77.5ZM231.2,74.2 231.2,77.2 231.5,77.2 231.5,74.2ZM235.2,73.5 235.2,76.8 235.5,76.5 235.5,73.8ZM239.5,73.2 239.2,73.2 238.8,74.5 239.2,76.2 239.5,75.8ZM243.2,72.5 242.8,73.5 243.2,75.8 243.5,75.2ZM247.2,72.2 246.8,72.8 246.8,74.8 247.2,75.2 247.5,74.5ZM219.5,72.2 218.8,73.8 218.8,80.2 219.2,81.2 219.5,81.2 219.8,80.2 219.8,77.8 220.2,77.5 219.8,72.5ZM258.8,71.8 258.8,72.8 259.2,72.8 259.2,71.8ZM251.2,71.8 250.8,72.2 251.2,74.8ZM223.8,71.8 223.2,71.8 223.2,73.5 223.5,73.8 223.8,73.5ZM255.2,71.5 254.8,71.8 254.8,73.8 255.2,73.8ZM227.2,71.2 227.2,72.8 227.5,72.8 227.8,71.5ZM215.5,70.8 214.8,71.8 214.5,75.5 214.2,75.8 214.5,81.8 215.5,84.2 216.5,80.8 216.5,73.8ZM231.5,70.5 231.2,72.2 231.5,72.2ZM235.2,70.2 235.2,71.2 235.5,71.2 235.5,70.2ZM211.8,70.2 211.2,70.5 210.5,72.2 210.2,75.5 209.5,76.2 208.5,71.2 207.8,69.8 206.8,70.8 205.8,74.8 205.2,74.5 204.8,71.8 203.8,69.8 202.8,71.2 201.8,74.5 201.2,74.2 200.8,71.8 199.8,70.2 198.8,71.5 197.8,74.8 197.2,74.2 196.2,70.5 195.5,70.5 194.8,71.8 194.5,74.2 193.8,75.2 193.2,74.2 192.8,72.2 191.8,70.8 190.8,72.5 190.5,74.8 189.8,75.5 188.2,71.5 187.2,72.2 186.5,75.2 185.8,75.8 184.2,71.8 183.2,72.8 182.2,76.2 181.5,75.8 180.2,72.5 179.5,72.8 178.8,75.5 178.2,76.5 177.5,76.2 176.2,72.8 175.2,74.2 175.2,75.2 174.2,77.2 173.5,76.8 172.8,74.2 171.8,73.5 171.2,74.8 170.8,77.2 170.2,77.8 169.5,77.5 168.8,74.5 167.8,74.2 167.2,75.5 166.8,77.8 166.2,78.5 165.5,77.8 165.2,75.8 164.2,74.5 163.5,75.5 162.8,78.5 162.2,79.2 161.5,78.2 160.8,75.5 160.2,75.2 159.2,77.2 158.8,79.5 158.2,80.2 156.5,75.8 155.5,77.2 154.5,80.8 153.8,80.5 153.2,77.5 152.2,76.8 150.5,82.2 149.8,81.8 148.8,77.8 148.2,77.8 146.5,84.5 145.8,83.8 145.5,80.8 144.8,79.2 143.8,80.2 143.2,83.2 143.2,90.8 144.2,94.8 144.8,94.5 145.5,92.8 145.8,89.8 146.5,88.8 147.5,93.8 148.2,95.2 149.2,94.2 150.2,90.2 150.8,90.5 151.8,94.8 152.5,95.2 153.2,94.2 153.5,91.8 154.2,90.5 154.8,90.8 155.5,93.8 156.5,94.8 158.2,90.2 158.8,90.8 159.5,93.8 160.5,94.5 162.2,89.8 162.8,90.5 163.5,93.5 164.2,94.2 164.8,93.5 165.5,90.5 166.2,89.5 167.8,93.5 168.5,93.5 169.5,89.8 170.2,89.2 170.8,89.8 171.2,91.8 172.2,93.2 173.8,88.8 174.8,89.5 174.8,90.5 175.8,92.5 176.5,92.2 177.2,89.5 177.8,88.5 178.8,89.2 179.5,91.8 180.2,91.8 181.8,87.8 182.8,88.8 183.2,90.8 184.2,91.5 185.8,87.2 186.5,87.5 187.5,90.8 188.2,90.8 189.8,86.2 190.5,87.2 191.2,89.8 191.8,90.5 192.8,88.8 193.2,86.5 193.8,85.8 194.5,86.5 194.8,88.5 195.8,89.8 197.8,84.8 198.5,85.8 198.8,87.8 199.8,89.2 200.5,88.2 201.2,84.5 201.8,83.8 203.2,87.8 203.5,88.2 204.2,87.8 205.5,82.8 206.2,83.2 206.8,86.2 207.8,87.2 209.5,80.5 210.2,80.8 210.2,82.5 211.2,85.8 212.2,85.2 212.8,81.8 212.8,73.5Z" fill="#c43c3c" fill-rule="evenodd"/>
<path d="M159.2,163.2 158.5,163.8 158.2,166.5ZM163.5,160.2 162.8,160.5 161.8,163.2 161.2,166.2 161.2,168.8 161.8,168.5 163.5,164.2 163.2,163.8ZM230.8,154.2 229.5,157.5 229.5,160.2 230.8,156.8ZM227.5,152.5 226.2,154.8 226.2,155.8 225.5,157.2 225.2,162.5 225.5,162.5 226.5,160.5 227.5,156.8 227.5,154.8 227.8,154.5ZM224.2,152.2 222.8,153.5 221.2,159.5 221.2,163.5 221.5,163.8 222.5,162.2 223.8,157.8ZM220.5,151.8 219.8,152.2 218.5,155.8 217.5,156.8 216.8,156.2 217.2,153.2 216.8,151.8 216.5,151.8 214.8,154.8 214.8,155.5 213.8,156.5 213.2,155.8 213.2,152.2 212.5,152.2 211.2,155.5 210.2,156.5 209.5,155.8 209.5,152.5 208.8,152.5 207.5,155.5 206.5,156.5 205.8,156.2 205.8,153.5 205.2,152.8 203.2,156.5 201.8,156.2 202.2,154.8 201.8,153.2 200.8,153.8 199.8,156.5 198.5,156.8 197.8,153.5 195.8,157.2 194.5,156.8 194.5,154.8 193.8,154.2 192.5,156.8 191.2,157.8 190.5,157.2 190.5,154.8 190.2,154.5 188.2,158.2 186.8,157.8 186.8,155.5 186.2,155.2 184.2,158.8 183.2,158.5 183.2,156.5 182.8,155.5 182.5,155.5 180.2,159.5 179.2,159.2 179.2,156.2 178.5,156.2 177.2,159.5 176.5,160.2 175.5,159.8 175.5,157.5 174.8,156.8 173.2,160.5 172.5,161.2 171.5,160.8 171.5,157.8 171.2,157.5 170.5,158.2 169.5,161.2 168.5,162.5 167.5,162.2 167.5,158.5 167.2,158.5 164.5,164.5 164.8,165.8 164.5,169.2 164.8,169.8 165.5,169.2 166.5,166.2 167.5,165.5 168.2,166.2 168.2,169.8 168.5,170.2 170.5,166.2 171.8,166.5 171.8,169.8 172.2,170.2 172.8,169.5 174.2,166.2 175.5,166.5 175.5,169.5 175.8,169.8 176.8,168.8 177.5,166.5 178.5,165.8 179.2,166.5 179.2,169.2 179.5,169.5 180.2,169.2 181.2,166.5 181.8,165.8 182.8,166.2 182.8,168.2 183.2,169.2 184.2,168.5 184.8,166.5 185.8,165.5 186.8,165.8 186.8,168.5 187.2,168.8 188.8,165.8 189.5,165.2 190.2,165.2 190.8,168.5 193.2,164.8 194.2,165.2 194.2,166.8 194.5,167.8 195.5,167.2 196.2,165.2 197.2,164.2 198.2,164.5 198.2,167.2 198.5,167.5 199.2,166.8 200.2,164.2 201.2,163.5 201.8,163.8 201.8,166.5 202.5,166.8 204.8,162.8 205.8,163.5 205.5,164.5 205.8,164.8 205.8,166.5 206.8,165.8 207.8,162.8 208.5,162.2 209.5,162.5 209.5,165.5 210.2,165.8 211.2,164.2 211.8,161.8 212.5,161.2 213.5,161.5 213.2,162.5 213.5,165.5 214.5,164.5 215.5,161.5 216.8,159.8 217.2,160.2 217.2,164.5 217.8,164.5 220.5,158.2 220.5,154.2 220.8,153.8ZM140.5,82.8 139.8,85.2 139.8,89.8 140.5,92.2 141.2,90.8 141.2,88.2 141.5,87.8 141.2,83.8ZM144.5,80.5 143.5,83.8 143.5,90.5 144.2,93.2 144.8,93.2 145.5,90.5 145.5,83.2 145.2,81.5ZM215.5,72.8 214.8,74.2 214.8,80.8 215.5,82.2 216.2,80.2 216.2,74.8ZM211.8,71.8 210.8,72.8 210.8,74.5 210.5,74.8 210.5,81.5 211.2,84.2 211.8,84.2 212.5,81.5 212.5,74.2ZM207.5,71.2 206.8,72.5 206.5,76.2 206.2,76.5 206.2,80.8 206.5,81.2 206.8,84.8 207.8,85.8 208.8,81.8 208.8,74.8 208.2,71.8ZM204.2,71.5 203.5,71.2 202.8,72.5 202.5,75.8 201.8,77.5 201.2,76.8 201.2,75.2 200.2,71.5 199.5,71.5 198.8,72.8 198.5,75.8 197.8,76.5 197.2,75.8 196.2,71.8 195.5,71.8 194.2,76.2 193.2,75.8 192.5,72.8 191.8,72.2 190.2,76.2 189.2,75.8 188.5,73.2 187.8,72.5 187.2,73.5 186.8,75.5 185.8,76.5 185.2,75.8 184.2,73.2 183.5,73.5 183.2,75.2 182.2,76.5 181.2,76.2 180.5,74.2 179.8,73.8 179.2,74.8 179.2,75.8 178.2,77.2 177.2,76.5 176.2,74.2 175.8,74.2 174.5,77.5 173.5,77.5 172.5,74.8 171.8,74.8 171.2,77.5 170.2,78.5 169.2,77.8 168.8,75.8 168.2,75.2 167.5,76.2 167.2,78.2 166.2,79.2 165.2,78.5 164.8,76.5 164.2,75.8 163.2,77.8 163.2,79.2 162.2,80.2 161.5,79.8 160.8,76.8 160.2,76.5 159.5,77.5 159.2,80.2 158.2,81.5 157.5,80.8 156.8,77.5 156.2,77.2 154.5,82.8 153.8,82.5 153.2,79.2 152.2,78.2 151.2,81.2 150.8,85.2 150.2,85.8 149.8,85.5 149.5,81.5 148.5,79.2 147.5,81.2 147.5,83.2 147.2,83.5 147.2,89.8 147.8,93.2 148.5,93.8 148.8,93.5 150.2,86.8 150.8,87.2 151.2,90.8 152.2,93.8 152.8,93.5 153.5,91.2 153.5,89.5 154.2,88.5 154.8,88.8 155.5,92.5 156.5,93.5 157.2,92.2 157.5,89.5 158.2,88.8 159.2,89.8 159.8,93.2 160.5,93.2 161.8,89.2 162.5,89.2 163.2,89.8 163.2,91.2 163.8,92.8 164.5,92.8 165.2,91.2 165.2,89.8 166.2,88.8 167.2,89.8 167.5,91.8 168.2,92.5 168.8,91.5 169.2,89.5 169.8,88.8 170.5,88.8 171.2,89.5 171.2,90.5 171.8,91.8 172.5,91.5 173.2,89.2 173.8,88.5 174.5,88.5 175.2,89.2 175.2,90.2 176.2,91.2 176.8,90.2 176.8,89.2 177.8,87.8 179.2,88.8 179.2,89.8 180.2,90.8 180.8,89.5 180.8,88.5 181.8,87.2 182.8,87.8 183.5,89.8 184.2,90.2 184.8,88.8 184.8,87.8 185.8,86.5 186.8,87.2 187.2,88.8 187.8,89.8 188.5,89.2 188.8,86.8 189.8,85.5 190.5,85.8 191.2,88.5 191.8,89.2 192.5,88.2 193.2,85.2 193.8,84.5 194.5,84.8 194.8,87.2 195.8,88.5 196.8,86.5 197.2,83.8 197.8,83.2 198.5,83.8 198.8,86.5 199.8,87.8 200.8,85.5 201.2,81.8 201.8,81.2 202.5,82.8 202.8,85.8 203.8,86.8 204.5,85.5 204.8,81.8 205.2,81.5 205.2,76.2Z" fill="#d45c4b" fill-rule="evenodd"/>
<path d="M162.5,163.2 161.8,165.8 162.2,165.8 162.5,164.8ZM227.2,155.2 226.5,155.5 225.8,160.2 226.8,157.8ZM223.8,153.8 223.2,154.2 222.5,155.5 221.5,160.2 221.8,161.8 223.2,159.2ZM220.2,153.5 219.5,153.8 218.5,156.5 217.5,157.5 216.5,156.5 216.5,153.2 215.8,153.8 215.2,155.8 214.2,156.8 213.5,156.8 212.8,156.2 212.8,153.5 212.5,153.5 211.2,156.2 210.2,156.8 209.2,156.2 209.2,154.2 208.8,153.8 208.2,154.5 207.8,155.8 206.5,156.8 205.5,156.2 205.5,154.8 204.8,154.2 204.2,155.8 203.2,156.8 202.2,156.8 201.5,156.2 201.5,154.5 201.2,154.5 200.2,156.5 199.2,157.2 198.5,157.2 197.8,156.5 197.8,155.2 197.2,155.2 196.2,157.2 194.5,157.5 193.8,155.5 193.5,155.5 192.8,157.2 191.2,158.2 190.2,157.5 189.8,155.8 188.5,158.2 187.2,158.5 186.5,157.8 186.5,156.8 185.8,156.5 185.2,158.2 183.8,159.2 183.2,159.2 182.5,158.5 182.5,156.8 180.2,159.8 179.5,159.8 178.8,159.2 178.5,157.5 177.8,158.2 177.5,159.5 175.8,160.8 174.8,160.2 174.8,158.2 174.5,158.2 173.5,160.5 172.2,161.8 171.2,161.2 171.2,159.5 170.8,159.2 170.2,159.8 169.5,161.8 167.8,163.5 166.8,162.2 167.2,160.8 166.8,160.5 164.8,164.5 165.2,167.8 165.8,167.2 165.8,166.5 167.5,164.8 168.2,165.2 168.8,168.5 169.8,166.5 170.8,165.5 172.2,166.5 172.2,168.5 173.2,167.8 173.5,166.5 174.5,165.8 175.2,165.8 175.8,166.5 175.8,168.2 176.2,168.5 176.8,167.8 177.2,166.5 178.5,165.5 179.5,166.2 179.8,168.2 181.8,165.5 183.5,166.2 183.5,167.8 183.8,167.8 184.8,165.8 186.2,165.2 187.2,165.8 187.5,167.5 189.5,164.8 190.2,164.8 190.8,165.5 190.8,166.5 191.5,166.8 193.2,164.5 194.2,164.5 194.8,165.2 194.8,166.5 195.2,166.5 197.2,163.8 197.8,163.8 198.5,164.5 198.8,166.2 199.8,164.2 201.2,163.2 202.2,163.8 202.2,164.8 202.8,165.5 203.5,163.8 205.2,162.5 206.2,163.2 206.2,165.2 206.5,165.2 207.5,162.8 208.8,161.8 209.8,162.2 209.8,164.2 210.5,164.5 211.5,161.8 212.5,160.8 213.2,160.8 213.8,161.5 213.8,163.8 214.2,163.8 215.8,160.2 216.8,159.2 217.8,160.2 217.5,161.2 217.8,163.2 218.5,162.5 219.2,159.8 220.2,157.8ZM144.5,82.5 143.8,84.5 143.8,89.5 144.5,91.2 145.2,89.5 145.2,84.2ZM148.5,80.8 147.8,81.8 147.8,83.5 147.5,83.8 147.5,89.2 147.8,89.5 147.8,91.2 148.5,92.2 149.5,88.2 149.5,84.5 149.2,84.2 149.2,82.2ZM211.8,73.8 211.2,74.2 210.8,75.8 210.8,80.5 211.5,82.2 212.2,80.5ZM207.5,72.8 206.8,74.8 206.5,79.5 206.8,79.8 207.2,83.8 207.8,84.2 208.5,81.5 208.5,75.2 207.8,72.8ZM203.5,72.8 202.8,74.5 202.2,80.2 202.8,81.8 202.8,83.8 203.5,85.5 203.8,85.5 204.8,81.2 204.8,76.8 204.5,76.5 204.5,74.2 204.2,73.2ZM200.2,73.2 199.5,72.8 198.8,76.2 197.8,77.5 196.8,76.2 196.2,73.2 195.5,73.2 194.8,75.8 194.2,76.8 193.2,76.5 192.5,75.2 192.5,74.2 191.8,73.5 191.2,74.5 191.2,75.5 189.8,76.8 188.5,75.5 188.5,74.5 187.8,73.8 186.2,76.8 185.5,76.8 184.2,74.5 183.8,74.5 183.2,76.2 182.2,77.2 180.2,75.2 179.5,75.5 179.5,76.2 178.2,77.5 176.8,76.8 176.5,75.8 175.8,75.5 175.5,76.8 174.2,78.2 172.5,76.8 172.5,76.2 171.8,76.2 171.5,77.5 169.8,78.8 168.2,76.5 167.2,78.8 166.2,79.8 164.2,77.2 163.5,78.2 163.2,79.8 162.2,80.8 161.2,79.8 160.8,78.5 160.2,77.8 159.5,79.2 159.5,80.5 158.2,82.2 157.2,81.2 156.8,79.2 156.2,78.5 155.5,80.2 155.5,81.8 154.2,84.2 153.2,82.5 153.2,80.8 152.5,79.5 151.8,80.2 151.5,83.8 151.2,84.2 151.2,87.8 151.5,88.2 151.8,91.8 152.2,92.2 152.8,91.8 153.2,89.2 154.2,87.2 155.5,89.2 155.5,90.8 156.2,92.2 156.5,92.2 157.2,89.5 158.2,88.2 158.8,88.5 159.5,89.8 159.5,90.8 160.5,91.8 160.8,90.2 162.2,88.5 162.8,88.8 164.2,91.5 165.8,88.5 166.5,88.5 167.2,89.2 168.2,91.2 168.8,89.5 170.2,88.2 171.5,89.5 171.8,90.5 172.5,90.2 172.5,89.5 173.8,87.8 175.8,89.8 176.5,89.5 176.5,88.8 177.8,87.5 178.5,87.5 179.5,88.5 179.5,89.2 180.2,89.5 180.5,88.2 181.8,86.8 184.2,88.8 184.5,87.5 185.8,85.8 187.2,86.8 187.8,88.5 189.8,84.8 191.2,86.2 191.8,87.8 192.5,86.8 192.5,85.8 193.8,83.8 194.5,84.2 195.2,85.5 195.2,86.5 195.8,87.2 197.2,82.8 197.8,82.2 198.8,83.5 199.2,85.8 199.8,86.5 201.5,79.5Z" fill="#e58268" fill-rule="evenodd"/>
<path d="M166.8,162.8 166.2,162.8 165.2,164.5 165.5,165.8 166.5,165.5 167.2,164.2ZM219.5,155.5 219.2,156.5 217.8,157.8 218.2,160.8 218.5,160.8 219.8,157.8ZM216.5,156.8 215.8,155.2 213.5,157.5 212.2,155.2 210.2,157.2 208.5,155.5 206.5,157.2 204.5,155.8 204.2,156.5 202.5,157.5 200.8,156.2 199.2,157.5 196.8,156.8 195.5,157.8 194.5,157.8 193.2,157.2 191.2,158.5 189.5,157.5 187.8,158.8 185.8,158.2 183.8,159.5 181.8,158.8 180.2,160.2 179.5,160.2 178.2,159.2 176.2,161.2 175.5,161.2 174.2,160.2 171.8,162.5 170.8,161.5 170.2,161.5 168.5,163.5 168.5,165.8 169.8,166.2 171.5,164.8 172.2,166.2 173.2,166.5 175.2,165.2 176.5,166.8 178.5,165.2 180.2,166.5 182.2,165.2 182.8,165.2 184.2,166.2 185.8,164.8 186.5,164.8 187.8,165.8 189.8,164.5 190.8,165.2 191.8,165.2 193.2,164.2 194.2,164.2 195.5,164.8 197.5,163.5 199.2,164.5 201.2,162.8 203.2,163.8 205.2,162.2 206.8,163.5 209.2,161.2 210.5,162.2 210.5,162.8 212.8,160.2 214.2,161.2 214.5,162.2 216.5,158.8ZM148.5,82.8 147.8,85.2 147.8,87.8 148.5,89.8 148.8,89.2 148.8,83.5ZM152.2,81.5 151.5,84.2 151.5,87.8 152.2,90.5 152.5,90.5 152.8,88.8 153.5,87.8 153.8,85.5 152.8,81.8ZM207.5,75.2 207.2,75.8 207.2,81.2 207.8,81.8 208.2,76.5 207.8,75.2ZM203.5,74.5 202.8,77.5 202.8,80.8 203.2,81.2 203.2,82.8 203.8,83.5 204.5,80.5 204.5,77.5 204.2,77.2 204.2,75.2ZM200.2,74.8 199.5,74.5 198.5,78.2 197.8,79.2 195.8,74.5 193.8,77.8 191.8,75.2 190.2,77.5 187.8,75.5 186.2,77.5 183.8,75.8 182.2,77.8 180.8,76.5 179.5,76.5 178.2,78.2 176.5,76.8 175.8,76.8 174.2,78.8 172.8,77.5 171.8,77.5 170.2,79.5 169.2,78.5 167.8,78.2 166.2,80.5 164.2,78.8 162.2,81.8 160.2,79.5 158.2,83.2 156.5,80.2 154.8,84.2 155.2,88.2 156.2,90.5 156.5,90.5 156.8,89.2 158.2,87.2 158.8,87.5 158.8,88.2 160.2,90.2 162.2,87.5 163.5,89.5 164.2,89.8 165.2,89.2 166.2,87.5 167.8,89.5 168.5,89.5 170.2,87.5 171.8,89.2 172.8,88.8 174.2,87.2 175.5,88.5 176.5,88.5 177.8,86.8 179.5,88.2 180.2,88.2 181.8,86.2 183.5,87.5 184.2,87.5 185.8,85.2 187.8,86.8 189.8,84.2 191.8,86.2 193.8,82.8 195.8,85.5 197.8,80.5 199.8,84.8 200.8,81.5 200.8,77.5Z" fill="#f5ad8c" fill-rule="evenodd"/>
<path d="M166.5,163.5 165.8,163.8 165.8,165.2 166.5,164.5ZM170.8,161.8 170.2,161.8 168.8,163.5 168.8,165.5 169.2,165.8 169.8,165.8 171.2,163.8ZM219.2,157.2 218.2,158.2 218.5,159.2 219.2,158.5ZM215.8,156.5 214.8,156.8 213.8,158.2 213.8,160.2 214.2,160.5 215.2,160.5 216.2,158.8 216.2,156.8ZM212.8,157.2 212.5,156.5 211.5,156.5 209.8,157.8 208.8,156.5 207.8,156.5 206.2,157.8 205.5,156.8 204.2,156.5 202.5,157.8 201.5,156.8 200.5,156.8 198.8,158.2 197.8,157.2 196.5,157.2 194.8,158.5 193.8,157.5 192.8,157.5 191.2,158.8 190.2,158.2 188.8,158.2 187.8,159.2 186.8,159.2 186.2,158.5 185.5,158.5 183.5,160.2 182.5,159.2 181.5,159.2 179.8,160.8 178.5,159.8 177.8,159.8 175.8,161.8 174.8,160.8 173.8,160.8 172.2,163.2 172.2,165.5 172.8,166.2 173.8,165.8 174.8,164.5 176.2,165.8 177.5,165.8 178.5,164.8 179.8,165.8 180.8,165.8 182.5,164.5 183.5,165.5 184.8,165.5 185.8,164.5 186.5,164.5 187.2,165.2 188.5,165.2 189.8,164.2 190.8,164.8 192.2,164.8 193.8,163.5 194.8,164.5 195.5,164.5 197.5,163.2 198.5,163.8 199.8,163.8 201.2,162.5 202.2,163.2 203.5,163.2 204.8,161.8 205.5,161.8 206.2,162.5 207.2,162.5 209.2,160.5 210.5,161.8 212.8,159.5ZM152.5,83.5 151.8,84.5 151.8,87.5 152.2,88.2 152.8,88.2 153.2,87.5 153.2,84.2ZM156.2,81.8 155.2,84.2 155.2,87.2 155.8,88.8 156.8,88.8 157.5,87.5 157.8,84.5 157.2,82.2ZM203.5,77.5 203.2,79.8 203.8,80.5 203.8,77.5ZM199.8,76.5 199.2,76.8 198.5,78.8 198.5,80.8 199.2,82.5 199.8,82.5 200.5,81.5 200.5,77.5ZM196.5,76.5 195.5,76.2 194.8,76.8 193.8,79.8 193.2,78.5 193.2,77.5 192.2,76.2 191.5,76.2 190.8,76.8 190.5,78.2 189.8,78.8 189.2,77.2 188.2,76.2 187.5,76.2 186.8,76.8 186.2,78.5 185.2,77.8 184.5,76.5 183.5,76.5 181.8,78.8 180.5,76.8 179.5,76.8 178.2,79.2 177.5,78.8 176.5,77.2 175.8,77.2 174.2,79.5 172.5,77.8 171.8,77.8 170.2,80.5 168.2,78.5 167.2,79.5 166.8,80.8 166.2,81.5 164.8,79.5 163.8,79.5 162.2,83.2 161.2,80.8 160.2,80.5 159.5,81.2 158.8,83.2 159.2,88.2 159.8,89.2 160.5,89.2 162.2,86.2 163.2,88.5 163.8,89.2 164.5,89.2 166.2,86.5 167.2,88.5 168.2,89.2 168.8,88.8 170.2,86.5 170.8,87.8 172.2,88.8 173.8,86.5 175.5,88.2 176.5,88.2 178.2,85.8 179.2,87.5 180.2,87.8 181.8,85.2 183.8,87.2 184.5,86.8 185.8,84.5 186.5,84.8 187.2,86.2 188.2,86.2 189.8,83.2 191.2,85.2 192.2,85.2 193.8,80.8 194.8,83.5 195.8,84.2 196.5,83.5 197.2,81.2Z" fill="#fcd6c0" fill-rule="evenodd"/>
<path d="M170.5,162.5 169.8,162.5 169.2,163.5 169.2,165.2 169.5,165.5 170.5,164.5 170.8,163.5ZM174.5,161.2 173.8,161.2 172.5,163.2 172.5,165.5 173.5,165.5 174.8,163.8 174.8,161.5ZM215.8,157.2 215.2,157.2 214.2,158.5 214.5,160.2 215.8,158.8ZM212.2,156.8 211.5,156.8 209.8,159.2 210.2,161.2 211.2,161.2 212.2,160.2 212.5,159.2 212.5,157.2ZM209.2,157.5 208.8,156.8 207.5,156.8 205.8,158.5 205.5,157.5 204.8,156.8 204.2,156.8 202.2,158.5 201.5,157.2 200.2,157.2 198.5,158.8 197.5,157.5 196.5,157.5 194.8,159.2 193.8,157.8 192.8,157.8 191.2,159.5 189.8,158.2 189.2,158.2 187.2,160.2 186.2,158.8 185.2,158.8 183.5,160.8 182.5,159.5 181.5,159.5 179.5,161.8 178.8,160.5 177.8,160.2 175.8,162.8 175.8,164.8 176.8,165.8 179.2,163.8 179.8,165.5 180.8,165.5 182.5,163.8 184.2,165.5 186.5,163.8 187.5,165.2 188.2,165.2 189.8,163.5 191.5,164.8 192.8,164.2 193.5,163.2 194.2,163.2 194.8,164.2 195.8,164.2 197.5,162.5 198.5,163.5 199.8,163.5 201.5,161.8 202.5,162.8 203.5,162.8 205.5,160.8 206.5,162.2 207.2,162.2 208.2,161.5 209.2,159.5ZM152.5,84.5 152.2,85.2 152.2,86.8 152.5,87.2 152.8,86.8 152.8,84.8ZM156.2,82.5 155.5,83.8 155.5,87.2 156.2,88.2 156.8,88.2 157.5,84.8 156.8,82.5ZM160.8,81.2 160.2,81.2 159.2,82.8 159.2,87.2 160.2,88.8 160.8,88.5 161.5,86.8 161.5,82.5ZM164.2,79.8 163.5,80.5 162.8,82.5 162.8,86.5 163.2,87.8 164.5,88.8 165.5,87.2 165.8,82.5 165.2,80.5ZM199.5,77.5 198.8,78.8 198.8,80.5 199.2,81.5 199.8,81.8 200.2,81.2 200.2,77.8ZM196.2,76.8 195.2,77.2 194.5,79.2 194.5,81.5 194.8,82.8 195.5,83.5 196.2,83.2 196.8,81.5 196.8,78.5ZM192.2,76.5 191.2,76.8 190.5,78.5 190.5,83.2 191.5,84.8 192.5,84.2 193.2,82.2 193.2,78.8ZM188.8,77.2 187.8,76.5 186.8,77.5 186.5,79.5 185.8,80.5 184.5,76.8 183.2,77.2 182.2,80.2 181.5,79.8 180.8,77.5 179.8,77.2 179.2,77.8 178.2,80.5 177.5,80.2 177.5,79.2 176.2,77.5 175.5,77.8 174.2,81.2 173.5,80.5 172.8,78.5 172.2,78.2 171.5,78.5 170.2,82.2 168.8,79.2 167.8,79.2 166.8,80.8 166.5,82.5 166.5,85.5 167.2,87.8 167.8,88.5 168.5,88.5 170.2,84.8 171.5,88.2 172.8,87.8 173.5,86.5 173.5,85.5 174.2,84.8 175.5,87.8 176.5,87.8 177.2,86.8 177.5,85.2 178.2,84.5 178.8,86.5 179.5,87.2 180.5,87.2 181.8,83.8 182.5,84.2 182.8,85.8 183.5,86.5 184.2,86.5 185.2,85.2 185.8,82.2 186.5,83.2 186.8,85.2 187.8,85.8 188.8,84.8 189.5,82.2 189.5,79.8Z" fill="#f9ede6" fill-rule="evenodd"/>
<path d="M170.2,162.8 169.5,163.5 169.5,164.8 170.5,163.8ZM190.2,161.8 190.5,161.5 190.8,162.2 190.5,162.5ZM174.5,161.5 173.8,161.5 172.8,162.8 172.5,164.8 173.2,165.5 173.8,165.2 174.8,162.8ZM178.5,160.5 177.2,160.8 176.2,162.8 176.2,165.2 176.5,165.5 177.2,165.5 178.5,163.5 178.8,162.5ZM198.2,159.8 198.5,160.2 198.2,161.2 197.8,160.8ZM182.5,159.8 181.2,159.8 180.2,161.2 179.5,164.2 179.8,165.2 180.5,165.5 181.8,164.5 182.8,161.8ZM215.5,157.5 214.5,158.5 214.8,159.8 215.5,159.2ZM212.2,157.2 211.5,157.2 210.5,158.2 210.2,160.5 210.8,161.2 212.2,159.5 212.5,158.5ZM204.8,157.2 203.8,157.2 202.5,159.2 202.2,161.8 202.8,162.8 203.8,162.5 204.8,161.2 205.2,160.2 205.2,157.5ZM201.5,157.5 200.5,157.2 198.5,159.8 197.8,158.2 196.8,157.5 195.8,158.2 194.5,160.8 194.2,160.5 194.2,158.5 193.5,157.8 191.8,158.8 190.8,160.8 190.2,158.8 189.2,158.5 188.2,159.2 186.8,162.2 186.5,161.8 186.5,159.5 185.2,159.2 183.5,161.5 183.2,164.2 183.8,165.2 185.2,164.8 186.5,162.5 187.2,164.5 188.5,164.8 189.8,162.8 190.5,162.5 190.8,163.8 191.5,164.5 192.2,164.5 193.2,163.5 194.2,161.5 194.8,163.8 196.2,163.8 197.8,161.2 198.5,163.2 199.5,163.5 201.5,160.8 201.8,159.5ZM208.2,156.8 206.5,158.5 206.2,159.5 206.2,161.5 206.5,161.8 207.5,161.8 208.5,160.5 208.8,157.5ZM156.8,83.2 156.2,83.2 155.8,83.8 155.8,87.2 156.5,87.8 157.2,86.2ZM160.2,81.5 159.5,82.5 159.2,85.8 159.5,87.5 160.5,88.2 161.2,87.2 161.5,84.2 161.2,82.5ZM164.8,80.5 163.8,80.5 163.2,81.8 163.2,86.8 164.2,88.5 165.5,86.2 165.5,82.5ZM167.8,79.5 166.8,81.8 166.8,86.2 167.5,87.8 168.5,88.2 169.5,85.8 169.5,81.5 169.2,80.2 168.5,79.5ZM172.2,78.5 171.2,79.5 170.8,80.5 170.8,86.2 171.5,87.8 172.8,87.5 173.5,85.5 173.5,80.8 172.8,78.8ZM199.5,78.2 199.2,80.2 199.8,80.8 200.2,79.5 199.8,78.2ZM176.2,77.8 175.2,78.8 174.5,81.8 174.8,86.2 175.5,87.5 176.2,87.5 176.8,86.8 177.5,84.8 177.5,80.5 177.2,79.2ZM179.8,77.5 179.2,78.2 178.5,80.5 178.5,84.2 179.2,86.5 180.5,86.8 181.5,83.8 181.5,80.5 180.5,77.5ZM195.8,77.2 195.5,77.2 194.8,78.8 195.2,82.8 195.8,82.8 196.5,81.8 196.5,78.2ZM184.2,77.2 183.2,77.8 182.5,79.8 182.5,83.8 183.5,86.2 184.5,85.8 185.2,84.2 185.2,78.8ZM191.8,76.8 190.8,78.2 190.8,79.8 190.5,80.2 190.8,83.5 191.8,84.5 192.8,82.8 192.8,78.2ZM188.2,76.8 187.2,77.5 186.5,79.8 186.5,82.8 186.8,84.5 187.5,85.5 188.5,84.8 189.2,82.8 189.2,79.2Z" fill="#e4eef4" fill-rule="evenodd"/>
<path d="M174.2,161.8 173.2,162.8 172.8,163.8 173.2,164.8 174.2,163.8ZM178.2,160.8 176.5,162.5 176.5,164.8 176.8,165.2 178.2,163.8 178.5,162.5ZM182.2,160.2 181.2,160.2 180.2,161.8 179.8,164.2 180.5,165.2 181.5,164.5 182.2,163.2 182.5,161.5ZM186.2,159.5 185.2,159.5 183.8,161.5 183.5,163.2 183.8,164.8 184.5,164.8 185.8,163.2ZM189.8,158.8 188.8,158.8 187.8,160.5 187.2,163.2 187.5,164.5 188.5,164.5 189.5,163.2 190.2,160.5ZM193.5,158.2 192.5,158.5 191.5,160.2 191.2,161.5 191.2,163.8 191.5,164.2 192.2,164.2 193.5,162.2 193.8,160.8 193.8,158.5ZM197.2,157.8 195.8,158.5 195.2,160.2 194.8,163.2 195.5,163.8 196.5,163.2 197.5,160.8 197.5,158.2ZM211.8,157.5 211.2,157.8 210.5,159.2 210.8,160.5 211.8,159.5 212.2,158.5ZM208.5,157.5 207.5,157.5 206.5,159.5 206.5,161.2 206.8,161.5 207.5,161.5 208.5,159.8ZM204.8,157.5 203.8,157.5 202.8,159.2 202.5,160.5 202.8,162.5 203.5,162.5 204.8,160.5 205.2,158.8ZM200.8,157.5 199.5,158.5 198.8,160.2 198.8,162.8 199.2,163.2 200.2,162.8 201.2,160.8 201.5,158.5ZM156.5,84.2 156.2,84.5 156.2,86.5 156.5,86.5ZM160.2,82.2 159.5,83.8 159.5,86.2 159.8,87.2 160.5,87.5 161.2,85.5 160.8,82.5ZM164.2,80.8 163.5,81.8 163.2,85.5 163.5,87.2 164.5,87.8 165.2,86.2 165.2,82.2 164.8,81.2ZM168.5,79.8 167.5,80.5 167.2,81.5 167.2,86.2 168.2,87.8 169.2,86.2 169.2,81.2ZM172.5,79.2 171.8,79.2 171.2,80.5 171.2,86.5 171.8,87.5 172.8,86.8 173.2,85.8 173.2,80.5ZM176.5,78.5 175.5,78.8 174.8,81.2 174.8,84.8 175.8,87.2 176.5,86.8 177.2,85.2 177.2,80.2ZM195.5,78.2 195.2,81.5 195.8,82.2 196.2,81.5 196.2,78.5ZM180.2,77.8 179.5,78.2 178.8,80.2 178.8,84.5 179.2,85.8 179.8,86.5 180.5,86.2 181.2,84.2 181.2,80.2ZM191.8,77.5 191.2,78.2 190.8,81.8 191.2,83.2 191.8,83.8 192.5,82.8 192.5,78.2ZM188.2,77.5 187.2,78.2 186.8,79.5 186.8,83.2 187.5,84.8 188.2,84.8 188.8,83.2 188.8,78.8ZM183.8,77.5 182.8,79.5 182.8,84.2 183.2,85.2 184.2,85.8 184.8,84.5 185.2,80.8 184.8,80.5 184.8,78.5Z" fill="#b2d5e7" fill-rule="evenodd"/>
<path d="M173.8,162.8 173.5,162.8 173.5,164.2ZM177.8,161.2 176.8,162.5 176.5,163.8 176.8,164.5 177.8,163.8 178.2,162.8ZM181.8,160.5 180.5,161.8 180.2,162.8 180.5,164.5 181.2,164.5 182.2,162.2ZM185.8,159.8 185.2,159.8 184.2,161.2 183.8,164.2 184.2,164.5 185.5,163.5ZM189.5,159.2 188.8,159.2 188.2,160.2 187.5,162.5 187.8,164.2 188.5,164.2 189.5,162.5 189.8,160.8ZM193.2,158.5 191.8,159.8 191.2,162.8 191.5,163.8 192.2,163.8 193.2,162.5 193.5,161.2 193.5,158.8ZM211.5,158.2 210.8,159.5 211.2,159.8ZM197.2,158.2 196.5,158.2 195.5,159.8 195.2,161.2 195.2,163.2 195.5,163.5 196.5,162.8 197.5,159.5ZM208.2,157.8 207.2,158.5 206.8,161.2 208.2,159.8ZM204.5,157.8 203.8,157.8 202.8,160.2 202.8,161.8 203.2,162.2 203.8,161.8 204.8,159.5ZM200.8,157.8 199.5,158.8 198.8,161.5 199.2,162.8 200.5,161.8 201.2,159.5ZM160.2,83.2 159.8,85.8 160.5,86.5 160.8,84.2 160.5,83.2ZM164.5,81.5 163.8,81.8 163.5,83.2 163.5,85.8 164.2,87.2 164.8,86.5 164.8,82.2ZM168.5,80.5 167.5,81.5 167.5,86.5 167.8,87.2 168.8,86.5 168.8,81.2ZM195.8,79.5 195.5,79.8 195.8,80.5ZM172.2,79.5 171.5,80.2 171.2,81.5 171.2,85.2 171.8,86.8 172.5,86.8 172.8,86.2 172.8,80.5ZM176.2,78.8 175.2,80.5 175.2,85.2 175.8,86.5 176.8,85.5 176.8,79.8ZM180.2,78.5 179.5,78.8 179.2,79.8 179.2,84.8 179.5,85.8 180.2,85.8 180.8,84.5 180.8,79.5ZM191.8,78.2 191.2,79.5 191.5,82.8 192.2,82.5 192.5,79.8ZM187.5,78.2 187.2,79.2 187.2,83.5 187.5,84.2 188.2,84.2 188.5,83.5 188.5,78.8 188.2,78.2ZM184.2,78.2 183.2,79.2 183.2,84.2 183.5,85.2 184.2,85.2 184.8,83.5 184.8,79.8Z" fill="#6aacd0" fill-rule="evenodd"/>
<path d="M177.8,162.2 177.2,162.5 177.2,163.8 177.5,163.8ZM181.8,160.8 180.8,161.5 180.5,164.2 181.5,163.5ZM185.5,160.2 184.5,161.2 184.2,164.2 185.5,162.8 185.8,161.2ZM189.5,159.5 188.8,159.5 188.2,160.8 187.8,163.8 188.5,163.8 189.2,162.8ZM193.2,158.8 192.5,159.2 191.8,160.5 191.5,162.2 191.8,163.5 192.5,163.2 193.5,159.8ZM207.8,158.5 207.2,159.2 207.2,160.5 207.8,159.8ZM196.8,158.5 195.8,159.5 195.5,162.8 196.2,162.8 197.2,160.2ZM204.2,158.2 203.2,159.8 203.2,161.5 204.2,160.8 204.5,159.8ZM200.5,158.2 199.8,158.8 199.2,160.8 199.5,162.5 200.8,160.2 200.8,158.5ZM164.2,82.5 163.8,85.8 164.5,86.2 164.5,82.5ZM168.5,81.2 167.8,81.5 167.5,82.8 167.5,85.2 168.2,86.5 168.8,85.2ZM172.2,80.2 171.5,81.2 171.5,85.5 172.2,86.5 172.8,84.8 172.8,81.5ZM191.8,79.5 191.5,79.8 191.5,81.5 191.8,81.8 192.2,81.2ZM175.8,79.5 175.5,80.2 175.5,85.5 176.2,85.8 176.8,83.8 176.8,81.5 176.5,79.8ZM180.2,79.2 179.5,79.5 179.5,84.8 179.8,85.5 180.5,84.8 180.5,79.5ZM188.2,78.8 187.5,79.2 187.5,83.2 187.8,83.5 188.5,81.8ZM183.8,78.8 183.2,82.2 183.5,82.5 183.5,84.2 184.2,84.5 184.5,83.8 184.5,79.5Z" fill="#327cb8" fill-rule="evenodd"/>
<path d="M181.5,161.5 180.8,162.5 180.8,163.5 181.5,162.5ZM185.2,160.5 184.5,161.8 184.5,163.5 184.8,163.5 185.5,161.5ZM189.2,159.8 188.5,160.5 188.2,163.5 189.2,161.8ZM193.2,159.5 192.2,160.5 191.8,162.8 192.8,161.8ZM196.8,159.2 196.2,159.5 195.8,160.5 195.8,162.5 196.5,161.8ZM204.2,158.8 203.5,159.8 203.5,160.8 203.8,160.8ZM200.5,158.8 199.8,159.5 199.5,161.8 200.5,160.5ZM168.2,82.2 167.8,82.8 167.8,85.2 168.2,85.5 168.5,84.8 168.5,82.5ZM171.8,81.2 171.8,85.2 172.2,85.5 172.5,84.8 172.5,81.5ZM176.2,80.2 175.5,82.5 175.8,85.2 176.5,84.5ZM187.8,79.8 187.8,82.5 188.2,81.8ZM184.2,79.8 183.8,79.8 183.5,80.8 183.8,83.8 184.2,83.5ZM179.8,79.8 179.5,83.5 179.8,84.5 180.2,84.5 180.5,81.2 180.2,79.8Z" fill="#124883" fill-rule="evenodd"/>
</g>
<polygon points="300.5,16.4 338.5,70.5 335,174 300.5,112.9" fill="#780522"/>
<g filter="url(#sm)">
<path d="M307.2,122.5 308.5,126.8 311.2,131.8 312.8,133.8 315.5,135.2 317.2,135.2 319.2,134.2 322.2,130.5 324.5,125.2 323.2,128.5 320.5,132.5 317.8,134.5 315.5,134.8 313.8,134.2 310.8,131.2 308.5,126.8ZM315.5,81.5 313.8,83.8 312.8,87.5 312.5,98.2 314.2,104.8 315.5,106.5 316.8,106.5 318.5,104.2 319.5,100.8 319.5,99.2 319.8,98.8 319.8,89.2 319.2,85.8 317.8,82.5 316.8,81.5ZM315.5,78.5 317.5,78.8 319.2,81.2 320.5,85.5 320.8,89.8 321.2,90.2 321.2,97.8 320.8,98.2 320.5,102.5 318.8,107.5 316.8,109.5 315.5,109.5 313.8,107.8 312.8,105.8 311.8,102.2 311.5,97.2 311.2,96.8 311.2,91.2 311.5,90.8 311.8,85.8 312.8,82.2 313.8,80.2ZM315.2,75.8 312.8,79.2 311.5,83.5 311.2,87.5 310.8,87.8 310.5,95.8 310.8,96.2 310.8,100.2 311.2,100.5 311.5,104.5 312.8,108.8 315.2,112.2 317.2,112.2 318.5,110.8 319.8,108.2 320.8,104.8 321.2,101.2 321.5,100.8 321.5,97.5 321.8,97.2 321.8,90.8 321.5,90.5 321.2,84.8 319.8,79.8 318.5,77.2 317.2,75.8ZM315.8,72.2 317.5,72.5 319.2,74.2 320.8,77.5 322.2,82.5 322.5,86.5 322.8,86.8 322.8,90.8 323.2,91.2 322.8,101.2 322.5,101.5 321.8,107.2 320.8,110.5 319.2,113.8 316.8,115.8 315.8,115.8 314.5,115.2 313.5,114.2 311.8,111.2 310.5,106.8 309.8,100.8 309.5,100.5 309.5,87.5 309.8,87.2 310.5,81.2 312.8,74.8 314.5,72.8ZM315.5,69.8 312.5,72.8 310.2,79.5 309.5,85.2 309.2,85.5 309.2,88.8 308.8,89.2 308.8,98.8 309.2,99.2 309.2,102.5 309.5,102.8 310.2,108.5 312.2,114.5 314.8,117.8 316.8,118.2 319.5,115.8 320.8,113.2 322.2,108.8 322.8,103.5 323.2,103.2 323.2,100.2 323.5,99.8 323.5,88.2 323.2,87.8 322.8,82.5 320.8,74.8 319.5,72.2 317.5,70.2ZM315.2,66.2 317.5,66.2 320.2,68.8 321.8,72.2 323.5,77.8 324.2,83.2 324.5,83.5 324.5,86.2 324.8,86.5 324.8,101.5 324.5,101.8 324.5,104.5 324.2,104.8 323.5,110.2 321.8,115.8 320.2,119.2 317.5,121.8 314.5,121.5 312.5,119.5 310.8,116.5 309.2,111.5 308.2,106.5 307.8,100.8 307.5,100.5 307.5,87.5 307.8,87.2 307.8,84.2 308.2,83.8 308.2,81.5 309.2,76.5 311.8,69.5ZM315.2,64.2 311.8,67.5 310.2,71.2 308.5,77.2 307.8,82.8 307.5,83.2 307.5,86.5 307.2,86.8 307.2,101.2 307.5,101.5 307.5,104.8 307.8,105.2 308.5,110.8 310.8,118.5 312.5,121.5 314.5,123.5 317.2,123.8 318.8,122.8 320.2,121.2 321.8,117.8 323.2,113.8 324.5,107.5 324.8,102.5 325.2,102.2 325.5,91.8 325.2,91.5 325.2,85.8 324.8,85.5 324.5,80.5 322.5,71.8 319.2,65.5 317.2,64.2ZM315.2,59.8 318.2,60.2 320.5,62.5 322.2,65.2 324.2,70.5 325.2,74.5 325.8,79.8 326.2,80.2 326.2,82.5 326.5,82.8 326.5,86.2 326.8,86.5 326.8,101.5 326.5,101.8 326.5,105.2 326.2,105.5 326.2,107.8 325.8,108.2 325.2,113.5 324.2,117.5 321.8,123.5 320.5,125.5 317.5,128.2 315.2,128.2 313.8,127.5 311.8,125.5 309.5,121.2 307.8,116.2 306.8,111.5 306.2,104.8 305.8,104.5 305.8,100.8 305.5,100.5 305.5,87.5 305.8,87.2 306.2,80.5 306.5,80.2 307.5,73.2 309.5,66.8 311.2,63.5 313.8,60.5ZM314.8,58.5 311.2,62.2 309.5,65.5 307.5,71.8 306.2,78.8 305.8,84.2 305.5,84.5 305.2,97.8 305.5,98.2 305.5,103.5 305.8,103.8 305.8,106.5 306.2,106.8 306.8,113.2 309.5,122.5 311.8,126.8 314.2,129.2 317.5,129.5 319.5,128.2 321.8,124.8 324.2,118.8 325.5,113.5 326.2,107.5 326.5,107.2 326.5,104.5 326.8,104.2 327.2,88.8 326.8,88.5 326.8,83.8 326.5,83.5 326.5,80.8 326.2,80.5 325.5,74.5 323.2,66.2 321.8,63.2 319.5,59.8 317.5,58.5ZM324.5,62.8 322.2,57.5 319.2,53.8 317.2,52.8 315.5,52.8 312.8,54.2 310.5,57.2 309.2,59.5 307.2,65.5 308.5,61.2 310.8,56.8 313.8,53.8 315.5,53.2 317.8,53.5 320.5,55.5 323.2,59.5Z" fill="#870a24" fill-rule="evenodd"/>
<path d="M320.2,104.8 318.8,108.8 316.8,110.8 315.2,110.5 313.2,108.2 312.8,106.8 314.2,109.8 315.8,111.2 317.2,110.8 318.5,109.5 319.5,107.5ZM315.8,81.8 314.5,83.2 313.2,86.8 312.8,91.2 312.5,91.5 312.5,96.5 313.8,103.5 314.5,104.8 315.8,106.2 316.5,106.2 317.5,105.5 319.2,101.5 319.5,97.8 319.8,97.5 319.8,90.5 318.5,84.5 317.5,82.5ZM315.2,77.2 313.5,79.2 312.8,81.2 313.8,78.8 315.2,77.5 316.8,77.2 318.8,79.2 320.2,83.2 319.5,80.5 318.5,78.5 316.5,76.8Z" fill="#920e26" fill-rule="evenodd"/>
<path d="M316.2,82.2 314.2,84.2 312.8,89.5 312.8,98.5 313.2,98.8 313.2,100.5 314.5,104.5 316.2,105.8 317.8,104.5 318.5,103.2 319.5,99.2 319.5,96.2 319.8,95.8 319.8,92.2 319.5,91.8 319.5,88.8 318.8,85.8 317.8,83.5Z" fill="#9d1128" fill-rule="evenodd"/>
<path d="M316.2,82.5 314.8,83.5 313.5,86.5 313.2,89.8 312.8,90.2 312.8,97.8 314.2,103.5 315.5,105.2 316.5,105.5 317.8,104.2 319.2,100.2 319.2,98.5 319.5,98.2 319.5,89.8 318.5,85.2 317.8,83.8Z" fill="#aa162a" fill-rule="evenodd"/>
<path d="M316.2,82.8 314.8,83.8 313.8,85.8 313.2,88.8 313.2,91.2 312.8,91.5 312.8,96.5 313.2,96.8 313.5,100.8 314.8,104.2 316.2,105.2 318.2,103.2 319.5,97.2 319.5,90.8 319.2,90.5 318.8,86.8 317.8,84.2Z" fill="#b72330" fill-rule="evenodd"/>
<path d="M315.8,83.5 314.5,84.8 313.5,87.8 313.5,89.5 313.2,89.8 313.2,98.2 314.5,103.2 315.2,104.2 316.8,104.5 317.5,103.8 318.8,100.5 319.5,92.8 319.2,92.5 318.8,87.5 318.2,85.5 316.8,83.5Z" fill="#c43c3c" fill-rule="evenodd"/>
<path d="M316.2,83.8 314.5,85.5 313.2,91.2 313.5,99.2 314.8,103.2 316.2,104.2 317.5,103.2 318.2,101.8 319.2,97.5 318.8,88.5 317.5,84.8Z" fill="#d45c4b" fill-rule="evenodd"/>
<path d="M315.8,84.5 314.8,85.5 313.8,88.2 313.5,97.8 314.8,102.5 315.8,103.5 316.5,103.5 318.2,101.2 318.8,98.5 319.2,92.8 318.8,92.5 318.8,89.5 318.2,86.8 317.5,85.5 316.5,84.5Z" fill="#e8896d" fill-rule="evenodd"/>
<path d="M316.2,85.2 315.2,85.8 314.5,87.2 313.5,92.5 313.5,95.5 313.8,95.8 314.2,99.8 315.2,102.2 316.2,102.8 317.2,102.2 318.2,100.2 318.5,96.8 318.8,96.5 318.5,89.2 317.2,85.8Z" fill="#f8c0a4" fill-rule="evenodd"/>
<path d="M315.8,86.2 315.2,86.8 314.2,89.5 313.8,96.2 314.2,96.5 314.5,99.8 315.8,101.8 316.5,101.8 317.5,100.8 318.2,98.8 318.5,91.2 317.5,87.2 316.5,86.2Z" fill="#fae9df" fill-rule="evenodd"/>
<path d="M316.2,86.8 315.5,87.2 314.8,88.5 314.2,91.2 314.2,96.8 314.8,99.5 315.5,100.8 316.2,101.2 317.5,99.8 318.2,97.2 318.2,90.8 317.5,88.2Z" fill="#e4eef4" fill-rule="evenodd"/>
<path d="M315.8,87.8 314.5,90.8 314.5,97.2 315.5,99.8 316.5,100.2 317.2,99.5 317.8,97.5 318.2,93.5 317.2,88.5 316.5,87.8Z" fill="#b2d5e7" fill-rule="evenodd"/>
<path d="M315.8,88.8 314.8,91.2 314.8,96.8 315.5,98.8 316.5,99.2 317.5,97.2 317.8,92.8 317.2,89.8 316.5,88.8Z" fill="#6aacd0" fill-rule="evenodd"/>
<path d="M316.2,89.8 315.2,91.5 315.2,96.5 316.2,98.2 317.2,96.8 317.2,94.5 317.5,94.2 317.2,91.2Z" fill="#327cb8" fill-rule="evenodd"/>
<path d="M89.2,130.8 88.2,130.8 86.5,131.8 89.2,131.8ZM92.2,128.5 90.8,129.5 90.5,131.8 91.8,132.8 92.8,132.8 93.5,131.8 93.5,129.2 93.2,128.5ZM96.2,126.2 94.5,128.2 94.5,132.2 95.2,133.2 96.8,133.5 97.5,132.5 97.8,128.8 97.2,126.2ZM134.8,125.2 135.2,125.5 134.8,126.8 134.5,126.5ZM138.8,124.8 139.2,124.5 139.5,125.2 139.2,125.5ZM101.2,123.2 99.8,123.5 98.5,126.5 98.5,132.2 99.5,134.5 100.2,134.8 101.2,134.5 101.8,131.5 101.8,125.8ZM104.2,120.8 103.2,121.8 102.8,122.8 102.5,132.2 103.2,134.8 103.8,135.5 105.2,135.5 105.8,133.8 105.8,122.2 105.2,120.8ZM134.8,117.5 135.2,117.8 134.8,119.2 134.5,118.8ZM139.2,116.8 139.5,117.2 139.2,118.2 138.8,117.8ZM113.2,116.8 112.5,116.8 111.2,118.2 110.8,119.2 110.8,124.5 110.5,124.8 109.8,123.8 109.8,119.5 109.5,118.8 108.2,118.8 107.2,119.8 106.8,120.8 106.5,131.2 106.8,131.5 106.8,134.8 108.2,136.2 109.2,135.8 109.8,134.8 109.8,130.2 110.5,129.2 110.8,129.5 110.8,134.8 111.8,136.2 113.2,136.2 113.8,135.2 114.2,133.8 114.2,118.8 113.8,117.5ZM117.2,114.8 116.5,114.8 115.8,115.5 114.8,117.8 114.8,134.5 115.2,135.5 116.5,136.8 117.5,136.2 118.2,134.2 118.2,116.8ZM129.2,108.5 127.8,109.5 127.5,110.5 127.2,122.8 126.8,123.2 126.5,122.8 126.5,114.8 126.2,114.5 125.8,110.8 124.8,110.2 123.8,111.2 123.2,114.2 123.2,116.5 122.5,117.5 122.2,117.2 121.8,113.5 121.2,112.5 120.2,112.8 118.8,117.2 118.8,133.5 119.5,136.2 120.5,137.5 121.2,137.5 122.5,131.5 123.2,132.5 123.2,134.8 123.8,137.5 125.2,137.8 125.8,136.8 126.2,133.2 126.5,132.8 126.5,124.8 126.8,124.5 127.2,124.8 127.5,136.5 127.8,137.5 128.8,138.2 129.5,137.8 130.2,136.5 130.2,133.5 130.5,133.2 130.5,112.8 130.2,112.5 130.2,109.5ZM141.8,104.5 140.5,104.8 139.8,105.8 139.5,107.2 139.5,113.5 139.2,113.8 138.5,111.5 138.5,107.2 137.8,105.8 136.8,105.8 135.8,107.2 135.5,108.2 135.5,112.5 134.8,114.8 134.5,114.5 134.2,107.8 133.5,107.2 132.8,107.2 131.8,108.2 131.5,109.2 131.5,112.5 131.2,112.8 131.2,132.8 131.5,133.2 131.5,136.5 132.5,137.8 133.2,137.8 134.2,136.8 134.5,129.8 134.8,129.5 135.5,131.8 135.5,135.8 136.5,137.5 137.5,137.5 138.5,135.8 138.5,131.2 139.2,128.8 139.5,129.2 139.5,135.2 140.5,137.2 141.5,137.2 142.5,135.8 142.5,133.8 142.8,133.5 142.8,107.5 142.5,107.2 142.5,105.5ZM153.8,100.8 152.8,101.2 151.8,103.5 151.8,109.5 151.5,109.8 150.8,108.8 150.8,103.8 150.5,102.8 149.8,102.2 149.2,102.2 148.2,103.2 147.8,108.2 147.5,108.5 147.5,118.2 147.2,118.5 146.8,118.2 146.8,105.2 146.2,103.5 145.5,103.2 144.2,104.2 143.5,106.8 143.5,133.8 143.8,135.5 144.8,136.8 145.5,136.8 146.2,136.2 146.8,134.2 146.8,121.2 147.2,120.8 147.5,121.2 147.8,134.8 148.5,136.2 149.5,136.5 150.5,135.2 150.8,134.2 150.8,128.8 151.5,127.8 151.8,128.2 151.8,133.8 152.5,135.5 153.5,136.2 154.8,133.8 154.8,132.2 155.2,131.8 155.2,104.2 154.8,103.8 154.8,102.2ZM157.2,99.5 155.8,103.2 155.8,132.8 156.5,134.8 157.2,135.8 157.8,135.8 159.2,132.2 159.2,102.2 158.5,100.2 157.8,99.5ZM169.8,95.2 169.2,96.2 168.2,99.8 168.2,113.8 167.8,114.2 167.5,113.8 167.5,101.5 166.2,96.8 165.5,96.5 164.2,100.5 164.2,106.2 163.5,107.2 163.2,106.8 163.2,100.8 162.2,98.2 161.5,97.8 160.2,100.8 160.2,102.5 159.8,102.8 159.8,131.2 160.5,134.2 161.5,135.8 162.2,135.2 163.2,132.2 163.2,125.8 163.5,125.5 164.2,126.5 164.2,132.2 165.5,135.5 166.2,135.2 167.5,129.5 167.5,117.2 167.8,116.8 168.2,117.2 168.2,130.8 169.5,134.8 170.2,134.8 171.5,129.8 171.5,99.5 170.5,95.8ZM277.8,93.5 277.2,92.8 275.8,92.5 274.8,93.2 274.8,94.8 276.2,95.2ZM182.5,92.5 181.8,92.5 180.5,97.2 180.5,104.5 180.2,104.8 179.8,104.5 179.5,96.8 178.8,95.5 178.8,94.2 178.2,93.2 177.2,94.5 177.2,95.8 176.5,97.5 176.2,105.2 175.8,105.5 175.5,105.2 175.5,98.2 174.5,94.5 174.2,94.2 173.5,94.5 172.5,97.8 172.5,99.5 172.2,99.8 172.2,129.5 172.8,132.5 173.8,134.5 174.5,133.8 175.5,129.8 175.5,122.5 175.8,122.2 176.2,122.5 176.5,130.2 177.2,131.5 177.2,132.8 177.8,133.8 178.8,132.5 178.8,131.2 179.5,129.5 179.8,121.8 180.2,121.5 180.5,121.8 180.5,128.8 181.5,132.5 182.5,132.8 183.8,127.5 183.8,97.2ZM271.5,91.8 270.8,92.8 270.5,95.2 270.8,95.5 270.8,97.2 272.2,97.5 273.8,95.5 273.8,93.2 273.2,92.2ZM268.2,90.8 267.2,91.2 266.5,93.2 266.5,98.2 267.2,100.2 268.5,99.8 269.8,97.2 269.8,93.2 269.5,92.2ZM194.5,90.2 193.8,90.8 192.8,94.5 192.8,101.2 192.5,101.5 191.8,100.2 191.8,94.5 191.2,93.2 191.2,92.2 190.5,90.8 189.8,91.2 188.5,97.2 188.5,109.8 188.2,110.2 187.8,109.8 187.8,95.8 186.8,92.2 186.2,91.5 185.5,92.5 184.5,96.8 184.5,127.5 185.8,132.2 186.8,131.5 187.8,127.2 187.8,113.2 188.2,112.8 188.5,113.2 188.5,125.5 189.8,131.2 190.8,130.8 191.8,126.8 191.8,121.2 192.5,119.8 192.8,120.2 192.8,126.5 193.8,129.8 194.2,130.2 194.8,129.8 195.8,126.5 195.8,124.8 196.2,124.5 196.2,95.2 195.2,91.2ZM263.2,89.8 262.5,91.5 262.5,101.5 263.2,102.8 264.2,102.8 265.5,100.5 265.8,93.5 265.2,90.5 264.5,89.8ZM198.8,89.8 198.2,89.8 196.8,94.5 196.8,125.2 197.8,128.5 198.5,129.2 199.2,128.2 200.2,124.2 200.2,93.8ZM260.5,89.2 259.5,89.2 258.5,90.2 258.2,100.5 258.5,100.8 258.5,104.5 258.8,105.2 260.5,104.8 261.5,102.8 261.8,94.5 261.5,94.2 261.5,90.8ZM211.2,89.2 210.2,89.5 209.2,92.2 209.2,105.8 208.8,106.2 208.5,105.8 208.5,93.8 208.2,93.5 208.2,91.5 207.2,89.5 206.5,89.2 205.2,92.2 205.2,97.8 204.5,99.2 204.2,98.8 204.2,92.5 202.8,89.5 202.2,89.8 201.2,92.5 201.2,94.2 200.8,94.5 200.8,123.5 201.5,126.2 202.5,127.8 203.5,126.2 204.2,123.8 204.2,117.5 204.5,117.2 205.2,118.2 205.2,123.8 206.2,126.2 207.2,125.8 208.2,123.5 208.2,121.2 208.5,120.8 208.5,108.8 208.8,108.5 209.2,108.8 209.2,122.5 209.8,124.2 210.8,124.8 211.8,123.5 212.5,121.2 212.5,92.2 211.8,89.8ZM256.2,88.8 254.8,89.2 254.2,91.2 254.2,105.5 255.2,107.2 255.8,107.2 256.8,106.2 257.5,104.5 257.5,90.5 256.8,89.2ZM252.2,88.5 251.5,88.5 250.5,89.5 250.2,90.5 250.2,107.5 250.5,108.5 251.5,109.2 252.8,107.8 253.5,105.8 253.5,90.8ZM223.2,87.8 222.2,88.5 221.5,90.5 221.5,96.8 221.2,97.2 220.5,94.5 220.5,89.8 219.5,88.5 218.5,88.5 217.5,90.5 217.5,95.2 216.8,97.8 216.5,97.5 216.5,90.8 215.5,88.8 214.5,88.8 213.5,90.5 213.2,92.2 213.2,120.5 213.5,122.2 214.5,123.5 215.5,123.2 216.5,120.5 216.5,114.2 216.8,113.8 217.5,116.2 217.5,120.8 218.2,122.2 219.2,122.2 220.5,120.2 220.5,115.2 221.2,112.8 221.5,113.2 221.5,119.2 222.2,120.8 222.8,121.2 223.5,120.8 224.5,119.2 224.5,117.2 224.8,116.8 224.8,91.5 224.5,91.2 224.5,89.2ZM243.2,87.2 242.5,88.2 242.2,91.5 241.8,91.8 241.8,109.8 242.8,113.5 243.8,113.5 245.2,109.8 245.2,106.8 245.5,106.5 246.2,107.5 246.5,110.5 247.2,111.2 248.2,110.8 249.2,108.5 249.5,106.8 249.5,91.5 248.5,88.5 247.5,87.8 246.5,89.2 246.2,92.2 245.5,93.5 244.5,88.2 243.8,87.2ZM235.8,87.2 234.8,87.2 234.2,88.2 233.8,93.8 233.5,94.2 232.8,93.5 232.8,89.2 232.2,87.5 231.2,87.2 230.2,88.2 229.8,93.2 229.5,93.5 229.5,101.8 229.2,102.2 228.8,101.8 228.8,90.2 228.5,88.5 227.2,87.5 226.2,88.2 225.5,90.8 225.5,117.2 225.8,118.8 226.5,119.8 227.2,119.8 228.2,118.8 228.8,116.5 228.8,104.5 229.2,104.2 229.5,104.5 229.5,113.2 229.8,113.5 230.2,118.2 231.2,118.5 232.5,117.2 232.8,111.5 233.5,110.5 233.8,110.8 234.2,116.5 235.2,117.2 236.5,115.8 236.8,111.5 237.2,111.2 237.2,92.2 236.8,91.8 236.8,88.8ZM239.5,86.8 238.5,87.5 238.2,90.8 237.8,91.2 237.8,111.8 238.2,112.2 238.2,114.5 238.8,115.5 239.5,115.5 240.5,114.2 240.8,110.8 241.2,110.5 241.2,91.2 240.5,87.8Z" fill="#5a8f96" fill-opacity="0.120" fill-rule="evenodd"/>
<path d="M92.5,129.5 91.5,129.8 91.2,131.2 91.8,131.8 92.8,131.2ZM96.5,127.5 94.8,129.2 94.8,131.2 95.8,132.2 96.5,132.2 97.2,131.2 97.2,128.2ZM100.8,125.5 100.2,125.5 98.8,127.5 98.8,131.2 99.8,132.5 100.5,132.5 101.2,131.8 101.5,130.5 101.5,126.8ZM104.8,122.5 103.8,123.2 102.8,126.2 102.8,130.8 103.5,133.2 104.2,133.8 105.2,132.8 105.5,129.5 105.8,129.2 105.8,126.8ZM108.8,120.2 107.5,121.2 107.2,124.8 106.8,125.2 106.8,130.5 107.2,130.8 107.2,133.2 107.8,134.5 108.8,134.5 109.5,133.5 109.5,130.2 109.8,129.8 109.5,120.8ZM113.2,118.5 112.2,118.5 111.2,120.2 111.2,123.8 110.8,124.2 111.2,133.5 112.2,134.8 113.2,134.5 113.8,132.8 113.8,127.2 114.2,125.8 113.8,125.5 113.8,119.8ZM117.2,116.8 116.5,116.8 115.5,117.8 115.2,118.8 115.2,123.5 114.8,123.8 115.2,133.5 116.5,134.8 117.8,133.5 117.8,128.5 118.2,128.2 117.8,117.8ZM120.8,115.2 120.2,115.5 119.2,117.5 119.2,123.8 118.8,124.2 119.2,132.8 120.2,134.5 121.2,134.5 122.2,132.2 122.2,117.2 121.5,115.5ZM125.2,113.8 124.2,114.2 123.2,116.8 123.2,132.2 123.5,133.5 124.5,134.5 125.5,133.8 126.2,132.2 126.2,125.2 126.5,124.8 126.2,115.5ZM129.2,111.8 128.5,112.2 127.8,113.5 127.2,116.2 127.2,131.2 127.5,132.8 128.8,134.8 129.5,134.2 130.5,130.2 130.5,115.8 130.2,115.5 130.2,113.8ZM133.2,109.5 132.2,111.2 131.2,116.2 131.5,119.8 131.2,120.2 131.5,127.8 131.2,129.5 131.5,129.8 131.5,131.8 132.8,135.5 133.5,134.8 134.5,130.5 134.5,113.8ZM137.2,107.8 136.2,109.2 136.2,111.2 135.5,112.8 135.5,121.2 135.2,121.5 135.5,122.8 135.5,131.2 136.2,132.8 136.2,134.5 136.8,135.5 137.8,134.5 137.8,132.5 138.5,130.5 138.5,122.2 138.8,121.8 138.5,120.5 138.5,112.2 137.8,110.2 137.8,108.5ZM141.5,106.5 140.2,107.8 140.2,110.5 139.5,112.5 139.5,129.8 140.2,131.8 140.2,134.2 140.8,135.2 142.2,133.8 142.2,130.8 142.8,128.2 142.8,125.2 142.5,124.8 142.8,123.5 142.8,117.5 142.5,117.2 142.8,112.8 142.2,110.2 142.2,107.5ZM145.8,105.5 144.5,105.8 143.8,112.2 143.5,112.5 143.5,128.5 144.2,130.8 144.2,133.8 144.8,134.8 145.8,134.5 146.2,133.8 146.2,131.5 146.8,128.5 146.8,110.8ZM149.8,104.2 149.2,104.2 148.2,105.8 147.8,117.5 147.5,117.8 147.8,129.5 148.2,129.8 148.2,133.2 148.8,134.2 149.5,134.2 150.2,133.5 150.5,128.8 150.8,128.5 150.8,109.5 150.5,109.2 150.5,105.5ZM153.8,103.2 152.8,103.5 152.2,105.2 152.2,109.2 151.8,109.5 151.8,128.2 152.2,128.5 152.2,132.2 153.2,133.8 154.5,132.5 154.5,128.8 155.2,125.5 155.2,123.2 154.8,122.8 154.8,120.8 155.2,120.5 155.2,115.8 154.8,115.5 155.2,110.5 154.5,107.2 154.5,103.8ZM158.2,102.2 157.2,102.2 156.5,103.2 156.2,108.8 155.8,109.2 155.8,126.5 156.2,126.8 156.2,131.2 156.5,132.5 157.2,133.2 158.5,132.2 158.8,126.5 159.2,126.2 159.2,108.5 158.8,108.2 158.8,103.8ZM162.2,101.2 161.5,101.2 160.5,102.5 160.2,109.2 159.8,109.5 159.8,111.8 160.2,112.2 159.8,124.8 160.2,125.2 160.5,131.5 161.2,132.5 161.8,132.5 162.8,130.8 162.8,126.5 163.2,126.2 163.2,106.8 162.8,106.5 162.8,102.2ZM166.2,100.2 165.5,100.2 164.5,101.8 164.5,106.2 164.2,106.5 164.2,126.2 164.5,126.5 164.5,130.5 165.5,131.8 166.8,130.5 166.8,126.8 167.2,126.5 167.2,122.8 167.5,122.5 167.2,121.5 167.2,117.5 167.5,117.2 167.2,109.8 167.5,108.8 167.2,108.5 166.8,101.2ZM170.2,99.2 168.8,100.2 168.5,101.2 168.5,105.8 168.2,106.2 168.2,124.5 168.5,124.8 168.5,129.5 169.5,131.2 170.5,130.5 171.2,128.8 171.2,123.8 171.5,123.5 171.5,106.2 171.2,105.8 171.2,100.8ZM173.5,98.5 172.5,100.8 172.5,106.2 172.2,106.5 172.2,122.8 172.5,123.2 172.5,128.5 173.2,130.2 174.2,130.2 175.2,128.5 175.2,123.8 175.5,123.5 175.5,104.5 175.2,104.2 175.2,99.5 174.5,98.5ZM178.5,97.5 177.8,97.5 176.8,98.8 176.5,112.8 176.2,113.2 176.5,114.8 176.5,124.5 176.8,124.8 176.8,128.5 177.5,129.5 178.2,129.5 179.2,128.2 179.5,114.2 179.8,113.8 179.5,112.2 179.5,102.5 179.2,102.2 179.2,98.5ZM182.2,96.5 181.2,97.5 180.8,98.5 180.8,103.2 180.5,103.5 180.5,122.5 180.8,122.8 180.8,127.5 181.8,128.8 182.8,128.2 183.5,126.2 183.5,120.8 183.8,120.5 183.5,98.5 182.8,96.8ZM186.5,95.8 185.2,96.8 184.8,103.2 184.5,103.5 184.5,120.8 184.8,121.2 184.8,126.2 185.8,127.8 186.8,127.5 187.5,125.8 187.5,121.2 187.8,120.8 187.8,102.2 187.5,101.8 187.5,97.2ZM190.8,95.2 189.8,95.2 189.2,96.5 188.8,104.2 188.5,104.5 188.8,105.5 188.8,109.5 188.5,109.8 188.8,124.5 189.2,126.2 190.2,127.2 190.8,126.8 191.5,125.5 191.5,121.2 191.8,120.8 191.8,100.5 191.5,100.2 191.5,96.2ZM194.5,94.2 193.8,94.5 193.2,95.8 193.2,100.5 192.8,100.8 192.8,120.2 193.2,120.5 193.2,125.2 193.8,126.2 194.5,126.2 195.5,124.8 195.8,117.8 196.2,117.5 196.2,114.8 195.8,114.5 195.8,112.5 196.2,112.2 195.8,96.5 195.2,94.5ZM276.5,93.5 275.8,94.2 276.5,94.2ZM198.8,93.5 197.5,94.5 197.2,95.5 197.2,100.5 196.8,100.8 196.8,118.5 197.2,118.8 197.2,123.8 197.8,125.2 198.8,125.2 199.8,123.2 199.8,118.2 200.2,117.8 200.2,100.2 199.8,99.8 199.8,95.2ZM271.8,93.2 271.2,93.8 271.2,95.8 272.5,96.2 273.2,95.2 273.2,93.5ZM267.5,92.8 266.8,94.2 266.8,97.2 267.5,98.2 268.2,98.2 269.2,97.2 269.5,94.2 268.5,92.8ZM202.8,92.8 201.5,94.2 201.2,100.8 200.8,101.2 200.8,103.8 201.2,104.2 201.2,106.2 200.8,106.5 200.8,111.2 201.2,111.5 200.8,116.5 201.2,116.8 201.2,121.8 201.8,124.2 202.8,124.2 203.5,123.5 203.8,122.5 203.8,118.2 204.2,117.8 204.2,98.8 203.8,98.5 203.8,94.2ZM207.2,92.2 206.5,92.2 205.8,92.8 205.5,97.8 205.2,98.2 205.2,117.8 205.5,118.2 205.5,122.2 206.5,123.5 207.2,123.2 207.8,121.8 208.2,109.5 208.5,109.2 208.2,97.2 207.8,96.8 207.8,93.2ZM264.2,91.8 263.2,92.8 262.5,95.5 262.8,99.2 263.8,100.8 264.5,100.2 265.5,97.5 265.5,94.5ZM211.2,91.5 210.2,91.8 209.5,93.5 209.5,97.8 209.2,98.2 209.2,116.2 209.5,116.5 209.5,120.8 210.2,122.2 211.2,122.2 211.8,121.2 212.2,115.2 212.5,114.8 212.5,98.2 212.2,97.8 211.8,92.2ZM214.5,91.2 213.8,92.2 213.8,95.2 213.2,98.5 213.2,102.2 213.5,102.5 213.2,103.2 213.2,109.5 213.5,109.8 213.2,110.5 213.2,114.5 213.8,117.5 213.8,120.5 214.2,121.2 215.2,121.2 216.2,118.8 216.2,115.2 216.5,114.8 216.5,96.8 216.2,96.5 215.8,91.5ZM260.2,90.8 259.2,91.2 258.8,94.5 258.5,94.8 258.5,99.8 258.8,100.2 259.2,103.5 259.8,103.5 260.5,102.8 261.5,98.8 261.5,94.8 260.8,91.5ZM247.2,90.5 246.2,92.5 246.2,107.2 246.5,108.2 247.2,108.8 247.8,108.8 249.2,106.5 249.2,92.2 248.2,90.5ZM243.2,90.5 242.2,92.5 241.8,102.5 242.2,102.8 242.2,108.8 242.8,110.2 243.8,110.2 244.5,109.5 245.2,107.5 245.2,92.8 244.8,91.5 243.8,90.5ZM239.8,90.5 238.8,90.8 237.8,94.2 237.8,108.8 238.8,111.8 239.5,111.8 240.2,111.2 241.2,107.8 241.2,93.8 240.8,92.2ZM219.5,90.5 218.8,90.5 217.8,92.2 217.5,104.5 217.2,104.8 217.2,106.5 217.5,106.8 217.5,115.2 217.8,115.5 217.8,118.8 218.5,120.2 219.5,119.8 220.2,118.2 220.5,105.8 220.8,105.5 220.5,103.8 220.5,95.5 220.2,95.2 220.2,91.8ZM255.8,90.2 255.2,90.5 254.5,92.2 254.5,96.8 254.2,97.2 254.5,104.2 255.2,105.5 256.2,105.5 256.8,104.5 257.2,99.8 257.5,99.5 257.2,92.2 256.8,90.8ZM252.2,90.2 251.5,90.2 250.5,91.5 250.2,101.8 250.5,102.2 250.5,106.5 250.8,107.2 252.2,107.2 253.2,105.2 253.5,96.8 253.2,96.5 253.2,91.8ZM222.8,90.2 222.2,90.8 222.2,93.2 221.5,95.8 221.5,113.8 221.8,114.2 222.2,118.5 223.5,118.8 224.2,117.2 224.2,114.5 224.8,111.8 224.8,108.8 224.5,108.5 224.8,107.2 224.8,101.2 224.5,100.8 224.8,96.5 224.2,93.8 224.2,91.2 223.5,90.2ZM235.2,89.8 233.8,93.8 233.8,110.8 234.8,113.8 235.5,114.2 236.8,110.5 237.2,99.8 236.8,99.5 236.8,92.8 235.5,89.8ZM226.8,89.8 226.2,91.2 226.2,93.5 225.5,96.2 225.5,111.8 225.8,112.2 226.5,117.5 227.5,117.5 228.2,115.8 228.2,113.8 228.8,111.8 228.8,94.8 228.2,93.2 227.8,90.2ZM231.5,89.5 230.5,90.5 230.5,92.2 229.8,93.8 229.8,101.5 229.5,101.8 229.8,112.5 230.8,116.2 231.5,116.2 231.8,115.5 232.2,112.8 232.8,111.2 232.8,93.8Z" fill="#5a8f96" fill-opacity="0.205" fill-rule="evenodd"/>
<path d="M96.2,128.8 95.5,129.8 95.8,130.8 96.5,130.5ZM100.8,127.2 99.8,127.2 99.2,128.5 99.2,130.2 99.8,131.2 101.2,129.8ZM104.5,125.2 103.8,125.5 103.2,126.8 103.2,130.2 103.8,131.2 104.8,130.8 105.5,128.8 105.2,125.8ZM108.8,122.2 108.2,122.2 107.2,125.5 107.2,129.8 108.2,132.8 108.8,132.5 108.8,131.2 109.5,129.5 109.5,124.8 108.8,123.5ZM112.8,119.5 111.8,120.2 111.5,124.2 111.2,124.5 111.2,129.2 111.5,129.5 111.5,132.2 112.2,133.5 112.8,133.5 113.2,132.8 113.2,130.5 113.8,127.8 113.8,124.8ZM116.8,117.8 115.8,118.5 115.5,119.5 115.5,123.5 115.2,123.8 115.5,132.5 116.2,133.5 116.8,133.5 117.5,132.8 117.5,128.5 117.8,128.2 117.5,118.5ZM121.2,116.5 120.5,116.5 119.5,118.2 119.5,122.8 119.2,123.2 119.5,132.5 120.5,133.5 121.5,132.8 121.8,131.8 121.8,126.2 122.2,125.8 121.8,117.5ZM125.2,115.2 124.5,115.2 123.5,116.8 123.5,122.5 123.2,122.8 123.5,131.8 124.5,133.2 125.8,131.8 125.8,126.5 126.2,126.2 125.8,115.8ZM129.2,113.8 128.2,114.5 127.5,116.2 127.5,122.5 127.2,122.8 127.5,131.2 127.8,132.2 128.8,132.8 129.8,131.8 130.2,130.5 130.2,115.5ZM133.5,112.8 132.8,112.8 132.2,113.5 131.5,115.5 131.5,130.2 131.8,131.5 132.5,132.2 133.2,132.2 134.2,130.5 134.5,120.8 134.2,120.5 134.2,114.2ZM136.8,111.5 135.8,113.2 135.5,116.8 135.8,117.2 135.8,119.2 135.5,119.5 135.5,124.5 135.8,124.8 135.5,129.2 136.2,131.2 137.2,131.8 137.8,131.2 138.5,128.5 138.5,126.5 138.2,126.2 138.2,124.2 138.5,123.8 138.5,118.8 138.2,118.5 138.5,114.2 137.8,112.2ZM141.2,110.2 139.8,112.5 139.8,119.2 139.5,119.5 139.8,129.8 140.8,131.5 141.5,131.2 142.5,128.8 142.5,112.5ZM145.2,108.2 143.8,112.2 143.8,128.5 145.2,131.8 146.5,128.5 146.5,121.2 146.8,120.8 146.5,111.2ZM149.2,106.2 148.8,108.8 147.8,111.5 147.8,127.5 148.8,129.8 148.8,131.5 149.5,132.2 149.8,129.5 150.8,126.5 150.8,124.2 150.5,123.8 150.8,111.5 149.8,108.5 149.5,106.2ZM153.5,104.8 152.8,105.8 152.8,108.2 151.8,111.5 151.8,113.2 152.2,113.5 152.2,116.5 151.8,116.8 152.2,124.2 151.8,125.8 153.2,131.8 153.8,131.5 153.8,129.5 154.8,126.5 154.8,109.8 153.8,107.2 153.8,105.2ZM157.8,103.8 157.2,103.8 156.8,104.8 156.8,107.5 156.2,109.2 156.2,116.8 155.8,117.2 156.2,118.8 156.2,126.5 156.8,128.2 157.2,131.5 158.2,130.5 158.2,127.8 158.8,126.2 158.8,118.2 159.2,117.8 158.8,116.2 158.8,108.5 158.2,107.2 158.2,104.2ZM162.2,102.8 161.5,102.8 160.8,103.8 160.8,106.8 160.2,108.8 160.2,125.5 160.8,127.2 161.2,130.8 162.2,130.5 162.2,127.5 163.2,123.8 163.2,121.8 162.8,121.5 162.8,118.8 163.2,118.5 162.8,111.2 163.2,110.8 163.2,109.2 162.2,105.5ZM166.2,101.8 165.2,102.2 164.8,106.5 164.2,108.5 164.2,111.2 164.5,111.5 164.5,113.5 164.2,113.8 164.2,118.8 164.5,119.2 164.2,123.8 164.8,125.8 164.8,128.8 165.5,130.2 166.5,129.2 166.5,125.8 167.2,123.8 167.2,107.5 166.5,105.8 166.5,102.5ZM170.2,100.8 169.5,100.8 169.2,101.5 169.2,104.5 168.5,106.2 168.5,113.8 168.2,114.2 168.5,124.5 169.2,126.2 169.2,129.2 169.5,129.5 170.5,128.8 170.5,125.5 171.2,123.8 171.2,106.2 170.5,104.5 170.5,101.2ZM174.2,99.8 173.2,100.8 173.2,104.2 172.5,105.8 172.5,123.2 173.2,124.8 173.2,128.2 173.5,128.8 174.2,128.8 174.8,127.2 174.8,123.8 175.5,120.8 175.2,119.8 175.2,116.2 175.5,115.8 175.2,108.2 175.5,107.2 174.8,104.5 174.8,101.2ZM178.2,98.8 177.2,100.2 177.2,103.8 176.5,105.8 176.5,109.5 176.8,109.8 176.5,110.8 176.5,116.5 176.8,116.8 176.5,121.8 177.2,123.8 177.2,127.2 177.8,128.2 178.5,127.8 178.8,126.8 178.8,123.2 179.5,121.2 179.5,117.5 179.2,117.2 179.5,116.2 179.5,110.5 179.2,110.2 179.5,105.2 178.8,103.2 178.8,99.8ZM182.5,98.2 181.5,98.5 180.8,105.8 180.5,106.2 180.8,107.2 180.8,110.8 180.5,111.2 180.8,118.8 180.5,119.8 181.2,122.5 181.2,126.2 181.8,127.2 182.8,126.5 182.8,122.8 183.5,121.2 183.5,103.8 182.8,101.8 182.8,98.5ZM186.2,97.2 185.5,98.2 185.5,101.5 184.8,103.2 184.8,120.8 185.5,122.8 185.5,125.8 185.8,126.5 186.8,125.8 187.2,124.5 186.8,122.8 187.5,120.8 187.5,113.2 187.8,112.8 187.5,102.5 186.8,100.5 187.2,98.8 186.8,97.5ZM190.5,96.5 189.5,97.5 189.5,101.2 188.8,103.2 188.8,119.5 189.5,121.5 189.5,124.8 189.8,125.5 190.5,125.5 191.2,124.2 191.2,120.8 191.8,118.5 191.8,115.8 191.5,115.5 191.5,113.5 191.8,113.2 191.8,108.2 191.5,107.8 191.8,102.8 191.2,100.8 191.2,97.5ZM194.2,95.8 193.5,97.2 193.5,100.8 192.8,103.2 192.8,105.2 193.2,105.5 192.8,118.2 193.5,120.2 193.5,123.5 193.8,124.5 194.8,124.5 195.2,123.8 195.2,120.2 195.8,118.5 195.8,101.5 195.2,99.8 195.2,96.5 194.8,95.8ZM198.8,95.2 198.2,95.2 197.8,95.8 197.8,98.8 197.2,100.8 197.2,108.8 196.8,109.2 197.2,110.8 197.2,118.5 197.8,120.2 197.8,123.2 198.2,123.8 199.2,122.8 199.2,119.8 199.8,118.2 199.8,110.2 200.2,109.8 199.8,108.2 199.8,100.2 199.2,98.5 199.2,95.5ZM202.8,94.5 201.8,95.5 201.8,98.5 201.2,100.5 201.2,117.2 201.8,118.8 201.8,122.2 202.5,122.8 203.2,122.2 203.2,119.5 204.2,115.5 204.2,113.8 203.8,113.5 203.8,110.5 204.2,110.2 203.8,103.2 204.2,102.8 204.2,100.8 203.2,97.5 203.2,94.8ZM267.8,94.2 267.5,94.5 267.5,96.8 268.5,96.8 268.8,94.5ZM264.5,93.8 263.5,94.2 262.8,96.2 263.2,98.2 263.8,98.8 264.5,98.5 265.2,96.8 265.2,95.2ZM206.5,93.8 205.2,100.5 205.2,103.2 205.5,103.5 205.5,105.2 205.2,105.5 205.2,110.5 205.5,110.8 205.2,115.8 206.2,119.2 206.2,121.5 206.8,121.8 208.2,115.5 208.2,99.2 207.5,97.5 207.2,94.2ZM260.2,93.5 259.5,93.8 258.8,95.5 258.8,99.2 259.5,100.8 260.5,100.2 261.2,98.5 261.2,95.5ZM223.2,93.5 222.5,94.2 221.8,96.2 221.8,102.8 221.5,103.2 221.8,113.5 222.8,115.5 223.2,115.5 224.5,112.2 224.5,96.2ZM227.2,93.2 226.5,93.8 225.8,95.8 225.8,112.2 226.2,113.2 227.2,114.2 228.5,111.8 228.5,104.8 228.8,104.5 228.5,95.2 228.2,94.2ZM210.8,93.2 210.2,94.2 210.2,96.8 209.5,98.2 209.5,105.5 209.2,105.8 209.5,116.2 210.2,117.5 210.2,120.2 210.5,120.5 211.2,120.2 211.5,116.8 212.2,115.2 212.2,98.2 211.5,96.5 211.5,94.5ZM231.5,92.8 230.5,93.5 229.8,95.8 229.8,98.5 230.2,98.8 229.8,100.2 229.8,106.2 230.2,106.5 229.8,110.5 230.8,112.8 231.8,112.5 232.5,110.8 232.5,104.8 232.8,104.5 232.5,94.2ZM219.2,92.8 218.8,92.8 218.5,95.2 217.5,97.8 217.5,100.8 217.8,101.2 217.5,102.8 217.5,108.5 217.8,108.8 217.5,113.2 218.8,116.8 218.8,117.8 220.5,112.5 220.5,109.8 220.2,109.5 220.5,107.8 220.5,102.2 220.2,101.8 220.5,97.5 219.2,93.8ZM215.2,92.8 214.5,93.2 214.5,95.2 213.5,98.2 213.5,114.8 214.5,117.2 214.5,119.2 214.8,119.5 215.5,116.2 216.2,114.8 216.2,107.8 216.5,107.5 216.2,96.8 215.5,95.8ZM235.8,92.5 235.2,92.5 234.2,94.2 233.8,104.2 234.2,104.5 234.2,110.5 234.8,111.5 235.5,111.5 236.2,110.8 236.8,108.8 236.8,106.5 236.5,106.2 236.8,104.8 236.8,98.8 236.5,98.5 236.8,94.8ZM239.8,92.2 239.2,92.2 238.5,92.8 238.2,94.2 238.2,108.8 239.2,110.5 240.2,109.8 240.8,108.2 240.8,93.8ZM256.2,91.8 255.5,91.8 255.2,92.5 255.2,94.8 254.5,96.8 254.5,99.8 255.2,101.5 255.2,103.8 255.5,104.2 256.5,103.2 256.5,101.2 257.2,99.5 257.2,95.8ZM244.2,91.8 243.2,91.8 242.5,92.8 242.5,97.8 242.2,98.2 242.5,108.5 243.2,109.2 244.5,108.2 244.8,107.2 245.2,98.8 244.8,98.5 244.8,93.2ZM252.2,91.5 251.5,91.5 250.8,92.2 250.8,96.2 250.5,96.5 250.5,101.5 250.8,101.8 250.8,105.5 251.2,106.2 251.8,106.2 252.5,105.5 252.8,100.8 253.2,100.5 252.8,93.2ZM248.2,91.5 247.5,91.5 246.5,92.8 246.5,98.2 246.2,98.5 246.5,106.5 246.8,107.5 247.5,107.8 248.2,107.5 248.8,105.8 248.8,101.2 249.2,100.8 248.8,92.8Z" fill="#5a8f96" fill-opacity="0.286" fill-rule="evenodd"/>
<path d="M100.5,128.5 99.8,128.8 100.2,129.8ZM104.5,126.5 103.5,127.5 103.8,129.8 104.5,129.8 105.2,128.5ZM108.5,124.8 107.5,126.2 107.5,129.2 107.8,129.8 108.5,129.8 109.2,128.8 109.2,125.5ZM112.5,122.8 111.8,123.8 111.2,126.5 111.5,128.8 112.2,130.2 112.8,129.8 113.5,127.8 113.5,124.8ZM116.5,119.2 115.2,126.2 116.2,129.8 116.2,132.2 116.8,132.5 117.8,124.8 117.2,122.8 117.2,119.5ZM121.2,117.5 120.5,117.5 119.8,118.5 119.8,122.5 119.5,122.8 119.8,131.8 120.5,132.5 121.5,131.5 121.5,126.8 121.8,126.5 121.5,118.2ZM125.2,116.2 124.5,116.2 123.8,117.2 123.8,121.8 123.5,122.2 123.8,131.5 124.5,132.2 125.5,131.5 125.8,129.8 125.5,129.5 125.5,126.8 125.8,126.5 125.5,118.5 125.8,117.8ZM129.2,114.8 127.8,116.2 127.8,121.5 127.5,121.8 127.8,130.8 128.5,131.8 129.8,130.5 129.8,124.8 130.2,124.5 129.8,115.8ZM133.5,113.8 132.8,113.8 131.8,115.2 131.5,124.2 131.8,124.5 131.8,130.2 132.5,131.2 133.5,130.8 134.2,128.5 133.8,127.8 133.8,124.8 134.2,124.5 133.8,116.5 134.2,115.8ZM137.5,112.8 136.8,112.8 135.8,114.5 135.8,117.2 136.2,117.5 135.8,119.2 135.8,124.8 136.2,125.2 135.8,129.2 136.8,130.8 137.5,130.5 138.2,128.8 137.8,124.8 138.5,121.5 137.8,118.2 138.2,113.8ZM141.5,111.8 140.5,112.2 139.8,114.2 139.8,115.8 140.2,116.2 140.2,118.5 139.8,118.8 140.2,126.2 139.8,126.5 140.2,129.5 140.8,130.2 142.2,128.8 142.2,122.5 142.5,122.2 142.2,112.5ZM145.8,110.8 144.8,110.8 144.2,112.2 143.8,122.2 144.2,122.5 144.2,128.5 144.8,129.5 145.8,128.8 146.5,126.8 146.5,125.2 146.2,124.8 146.2,122.2 146.5,121.8 146.2,114.5 146.5,112.8ZM149.8,109.8 149.2,109.8 148.2,111.5 148.2,118.2 147.8,118.5 148.2,127.5 149.2,128.8 149.8,128.5 150.5,126.8 150.5,123.5 150.2,123.2 150.5,121.8 150.5,116.2 150.2,115.8 150.5,111.2ZM153.8,108.8 152.8,109.2 152.2,110.8 152.2,113.8 152.5,114.2 152.2,115.8 152.2,121.5 152.5,121.8 152.2,126.5 153.2,128.2 153.8,127.8 154.5,126.5 154.5,119.8 154.8,119.5 154.5,109.8ZM157.8,107.8 156.8,108.5 156.2,110.8 156.5,112.5 156.5,115.5 156.2,115.8 156.5,123.2 156.2,123.5 156.5,126.5 157.5,127.5 158.5,126.2 158.8,122.8 158.5,122.5 158.5,119.8 158.8,119.5 158.5,112.2 158.8,111.8 158.8,110.2ZM161.8,106.8 161.2,107.2 160.5,108.5 160.5,115.5 160.2,115.8 160.5,125.5 161.5,126.8 162.8,124.5 162.8,121.2 162.5,120.8 162.8,119.2 162.8,113.8 162.5,113.5 162.8,108.5ZM165.8,105.8 164.5,108.2 164.5,111.8 164.8,112.2 164.5,113.2 164.5,119.2 164.8,119.5 164.5,124.2 165.2,125.8 165.8,125.8 166.8,124.2 166.8,116.8 167.2,116.5 166.8,107.5ZM170.2,105.2 169.5,105.2 168.5,107.8 168.5,110.2 168.8,110.5 168.5,123.2 169.5,125.2 170.5,124.5 171.2,121.8 170.8,120.5 170.8,116.8 171.2,116.5 170.8,109.2 171.2,107.8 170.8,106.2ZM174.2,104.2 173.5,104.5 172.8,105.8 172.8,112.8 172.5,113.2 172.8,123.2 173.8,124.5 174.5,123.8 175.2,121.8 175.2,118.8 174.8,118.5 174.8,116.8 175.2,116.5 175.2,111.5 174.8,111.2 175.2,106.2ZM178.5,103.5 177.5,103.8 176.8,105.5 176.8,113.2 176.5,114.2 176.8,114.5 176.8,122.2 177.5,123.5 178.5,123.2 179.2,121.5 179.2,113.8 179.5,112.8 179.2,112.5 179.2,104.8ZM181.8,102.5 180.8,105.2 180.8,108.2 181.2,108.5 181.2,110.2 180.8,110.5 180.8,115.5 181.2,115.8 180.8,120.8 181.5,122.5 182.2,122.8 183.2,121.2 183.5,110.8 183.2,110.5 183.2,103.8ZM186.5,101.8 185.8,101.8 184.8,104.8 185.2,106.5 185.2,110.2 184.8,110.5 185.2,117.5 184.8,119.2 185.2,120.8 186.2,122.2 187.5,119.2 187.5,116.8 187.2,116.5 187.5,103.8ZM190.2,100.8 189.2,102.8 188.8,112.2 189.2,112.5 189.2,119.8 190.5,121.2 191.5,118.8 191.5,115.2 191.2,114.8 191.5,113.8 191.5,107.8 191.2,107.5 191.5,102.5 190.8,101.2ZM194.8,100.2 194.2,100.2 193.2,102.5 193.2,105.8 193.5,106.2 193.2,107.8 193.2,113.2 193.5,113.5 193.2,118.5 194.2,120.2 195.2,119.5 195.5,118.5 195.5,111.5 195.8,111.2 195.5,101.5ZM198.8,99.5 198.2,99.5 197.2,102.2 197.2,104.2 197.5,104.5 197.5,107.2 197.2,107.5 197.5,114.8 197.2,115.2 197.2,117.2 198.2,119.5 199.2,118.8 199.8,116.5 199.8,114.5 199.5,114.2 199.5,111.5 199.8,111.2 199.5,103.8 199.8,103.5 199.8,101.8ZM202.2,98.8 201.5,100.5 201.2,110.2 201.5,110.5 201.5,117.2 202.2,118.5 202.8,118.5 203.8,116.2 203.8,112.8 203.5,112.5 203.8,111.2 203.8,105.5 203.5,105.2 203.8,100.5 203.2,98.8ZM206.8,97.8 205.8,98.8 205.5,99.8 205.5,103.8 205.8,104.2 205.5,104.8 205.5,111.2 205.8,111.5 205.5,112.2 205.5,116.2 206.2,117.5 206.8,117.5 207.8,115.8 207.8,108.8 208.2,108.5 207.8,99.2ZM211.2,97.2 210.2,97.8 209.5,99.8 209.5,101.8 209.8,102.2 209.8,104.5 209.5,104.8 209.8,112.2 209.5,112.5 209.5,114.5 210.2,116.5 211.2,116.5 212.2,113.2 211.8,112.5 211.8,108.8 212.2,108.5 211.8,100.8 212.2,100.2 211.8,99.8 211.8,98.2ZM215.2,96.5 213.8,97.8 213.8,104.5 213.5,104.8 213.8,114.8 214.8,115.8 216.2,113.5 216.2,110.8 215.8,110.5 215.8,108.5 216.2,108.2 216.2,103.5 215.8,103.2 216.2,98.5 215.8,97.2ZM218.8,95.8 217.8,97.5 217.8,104.8 217.5,105.8 217.8,106.2 217.8,113.5 219.2,114.8 220.2,112.8 220.2,109.2 219.8,108.8 220.2,108.5 220.5,104.5 219.8,101.5 220.2,100.8 220.2,97.2ZM263.8,95.2 263.5,95.5 263.5,97.2 264.2,97.5 264.5,97.2 264.5,95.5ZM259.5,95.2 259.2,98.5 259.5,99.2 260.2,99.2 260.8,97.8 260.8,95.8 260.5,95.2ZM256.2,95.2 255.5,95.2 254.8,96.8 254.8,99.5 255.5,100.8 256.5,100.2 256.8,99.2 256.8,96.2ZM223.5,95.2 222.5,95.5 221.8,97.5 221.8,99.5 222.2,99.8 222.2,102.2 221.8,102.5 222.2,109.5 221.8,109.8 221.8,111.8 222.2,113.2 222.8,113.8 223.8,113.2 224.2,112.2 224.2,105.8 224.5,105.5 224.2,96.2ZM227.5,94.5 226.2,95.8 226.2,101.8 225.8,102.2 226.2,111.8 226.8,112.8 227.8,112.2 228.5,109.5 228.2,109.2 228.2,105.8 228.5,105.5 228.2,97.5 228.5,97.2 228.2,95.5ZM231.8,94.2 230.8,94.2 230.2,95.5 230.2,98.8 230.5,99.5 229.8,102.5 230.2,106.2 230.5,106.5 230.2,110.5 231.2,111.8 232.2,110.8 232.5,107.8 232.2,107.5 232.2,105.5 232.5,105.2 232.5,100.2 232.2,99.8 232.5,95.5ZM235.8,93.5 234.8,93.8 234.2,95.8 234.5,96.8 234.5,99.5 234.2,99.8 234.5,107.8 234.2,108.5 234.8,110.5 235.5,110.5 236.5,108.8 236.2,105.2 236.5,104.8 236.8,100.8 236.2,98.5 236.5,94.8ZM239.8,93.2 239.2,93.2 238.5,94.2 238.5,99.5 238.2,99.8 238.5,108.5 239.2,109.5 240.2,108.8 240.5,107.8 240.5,102.8 240.8,102.5 240.5,94.2ZM251.5,92.8 251.5,95.2 250.5,98.2 250.5,99.8 251.5,102.5 251.5,104.5 251.8,104.5 251.8,102.8 252.8,100.2 252.8,96.8 251.8,94.5 251.8,92.8ZM247.8,92.5 247.2,92.8 246.8,93.8 247.2,96.2 246.5,98.2 246.5,101.5 247.2,103.2 246.8,105.5 247.5,106.8 248.2,106.2 248.2,102.8 248.8,101.2 248.8,97.5 248.2,95.8 248.2,92.8ZM243.5,92.5 242.8,93.2 242.8,97.8 242.2,100.5 242.8,103.5 242.8,107.8 243.2,108.2 244.5,106.8 244.5,102.2 244.8,101.8 244.5,93.5Z" fill="#5a8f96" fill-opacity="0.400" fill-rule="evenodd"/>
<path d="M104.2,127.5 103.8,128.5 104.5,128.8 104.5,127.5ZM108.8,125.8 107.8,126.2 107.5,127.5 108.2,129.2 108.8,128.8 109.2,127.8ZM112.5,124.2 111.5,125.8 111.5,127.8 112.2,128.8 113.2,128.2 113.2,124.8ZM116.8,122.8 116.2,123.2 115.5,124.8 115.5,127.2 116.5,128.8 117.5,126.8 117.5,124.2ZM120.5,118.5 120.2,119.2 120.5,121.5 119.5,124.2 119.5,126.5 120.5,128.5 120.2,131.2 120.8,131.5 121.2,130.8 120.8,128.2 121.5,126.8 121.8,124.2 120.8,121.5 121.2,119.2ZM125.2,116.8 124.5,116.8 124.2,117.5 124.2,121.5 123.5,123.5 123.5,125.5 124.2,127.2 124.2,131.2 124.5,131.5 125.2,131.2 125.5,130.2 125.2,126.8 125.8,125.5 125.8,122.5 125.2,121.2 125.2,118.8 125.5,118.5ZM129.2,115.5 128.2,116.2 128.2,120.8 127.5,123.2 128.2,126.2 128.2,130.8 128.5,131.2 129.5,130.5 129.5,125.5 129.8,125.2 129.5,115.8ZM133.5,114.5 132.8,114.5 132.2,115.2 131.8,124.8 132.2,125.2 132.2,130.2 132.5,130.5 133.2,130.5 133.8,129.2 133.5,125.2 134.2,123.2 134.2,121.2 133.5,119.5 133.5,117.5 133.8,117.2ZM137.5,113.5 136.8,113.5 136.2,114.5 136.2,117.8 136.5,118.2 135.8,120.2 135.8,123.5 136.5,125.5 136.2,126.2 136.2,129.5 136.8,130.2 137.8,129.2 137.8,123.5 138.2,123.2 137.8,113.8ZM141.5,112.5 140.8,112.5 140.2,113.5 140.5,117.8 139.8,119.8 139.8,122.2 140.5,124.2 140.2,128.5 140.8,129.5 141.8,128.8 142.2,127.5 141.8,125.8 141.8,123.2 142.2,122.8 141.8,115.5 142.2,113.8ZM145.8,111.5 144.8,111.5 144.2,112.8 144.2,115.2 144.5,115.5 144.5,117.5 144.2,117.8 144.2,122.5 144.5,122.8 144.2,127.5 144.8,128.8 146.2,127.5 145.8,122.8 146.5,120.8 146.5,118.8 145.8,116.8 146.2,115.2 146.2,112.2ZM149.8,110.5 149.2,110.5 148.5,111.2 148.2,112.5 148.5,113.8 148.5,117.2 148.2,117.5 148.5,125.2 148.2,126.2 148.5,127.5 149.2,128.2 150.2,127.2 150.2,120.8 150.5,120.5 150.2,111.2ZM153.2,109.5 152.5,110.5 152.2,120.2 152.5,120.5 152.5,126.5 152.8,127.2 153.8,127.2 154.5,125.5 154.5,123.5 154.2,123.2 154.2,120.8 154.5,120.5 154.2,113.2 154.5,112.8 154.5,110.8 154.2,109.8ZM157.8,108.5 156.8,109.2 156.5,110.2 156.8,114.8 156.2,117.2 156.5,120.5 156.8,120.8 156.5,125.5 157.2,126.5 157.8,126.5 158.5,125.2 158.2,120.5 158.8,118.2 158.8,116.5 158.2,114.5 158.5,109.5ZM161.2,107.8 160.5,109.5 160.5,111.5 160.8,111.8 160.8,114.5 160.5,114.8 160.8,122.2 160.5,122.5 160.5,124.5 160.8,125.5 161.8,125.8 162.5,124.8 162.8,115.2 162.5,114.8 162.5,108.5 162.2,107.8ZM166.2,106.8 165.2,107.2 164.5,109.5 164.8,110.2 164.8,114.2 164.5,114.5 164.8,122.2 164.5,122.8 164.8,124.5 165.5,125.2 166.2,124.8 166.8,123.2 166.8,121.2 166.5,120.8 166.5,118.2 166.8,117.8 166.5,110.5 166.8,110.2 166.8,108.5ZM169.8,105.8 168.8,107.2 169.2,112.2 168.5,114.5 168.5,116.5 169.2,118.5 168.8,123.5 169.5,124.2 170.2,124.2 170.8,122.8 170.5,117.8 171.2,115.2 170.5,112.2 170.8,107.2ZM174.2,105.2 173.2,105.8 172.8,106.8 172.8,109.5 173.2,109.8 173.2,111.8 172.8,112.2 172.8,116.8 173.2,117.2 172.8,122.2 173.5,123.5 174.2,123.5 174.8,122.2 174.8,118.2 174.5,117.5 175.2,115.5 175.2,112.8 174.5,110.8 174.8,105.8ZM178.2,104.2 177.5,104.5 176.8,106.5 177.2,108.2 177.2,111.5 176.8,111.8 177.2,119.2 176.8,120.8 177.2,122.2 177.8,122.8 178.5,122.5 179.2,120.5 178.8,118.8 178.8,115.5 179.2,115.2 178.8,107.8 179.2,106.2 178.8,104.8ZM182.5,103.5 181.8,103.5 181.2,104.8 181.2,108.8 181.5,109.5 180.8,111.5 180.8,114.2 181.5,116.2 181.2,121.2 181.8,121.8 182.8,121.2 183.2,120.2 183.2,117.5 182.8,117.2 182.8,115.2 183.2,114.8 183.2,110.2 182.8,109.8 183.2,104.8ZM186.2,102.5 185.2,104.2 185.5,109.2 184.8,111.8 185.5,114.8 185.2,119.8 185.8,121.2 187.2,119.8 186.8,114.8 187.5,112.5 187.5,110.5 186.8,108.5 187.2,103.5ZM190.5,101.8 189.8,102.2 189.2,103.8 189.2,105.8 189.5,106.2 189.5,108.8 189.2,109.2 189.5,116.5 189.2,116.8 189.2,118.8 189.8,120.2 190.8,119.8 191.5,117.8 191.2,116.5 191.2,112.8 191.5,112.5 191.2,104.8 191.5,103.8 191.2,102.5ZM194.8,101.2 194.2,101.2 193.5,102.2 193.5,108.5 193.2,108.8 193.5,118.5 194.2,119.5 194.8,119.2 195.5,117.5 195.5,115.2 195.2,114.8 195.5,102.5ZM198.8,100.2 197.5,101.5 197.8,106.5 197.2,108.8 197.2,110.5 197.8,112.5 197.5,117.5 198.2,118.5 198.8,118.5 199.5,117.2 199.2,112.2 199.8,109.8 199.5,106.5 199.2,106.2 199.5,101.2ZM202.8,99.5 201.8,100.2 201.5,101.2 201.5,103.5 201.8,103.8 201.8,106.2 201.5,106.5 201.8,113.8 201.5,114.2 201.5,116.2 202.5,117.8 203.5,116.5 203.5,110.2 203.8,109.8 203.5,100.2ZM207.2,98.8 206.2,99.2 205.5,101.5 205.8,101.8 205.8,106.2 205.5,106.5 205.8,114.2 205.5,114.5 205.8,116.2 206.5,116.8 207.2,116.5 207.8,114.8 207.8,113.2 207.5,112.8 207.5,109.8 207.8,109.5 207.5,102.2 207.8,100.5ZM210.8,97.8 209.8,99.2 210.2,103.8 209.5,106.2 209.5,108.2 210.2,110.2 209.8,115.2 210.5,115.8 211.2,115.8 211.8,114.5 211.5,109.5 212.2,106.8 211.5,103.8 211.8,99.2ZM215.2,97.2 214.2,97.8 213.8,98.8 213.8,101.2 214.2,101.5 213.8,113.8 214.5,114.8 215.2,114.8 215.8,113.8 215.5,109.2 216.2,107.2 216.2,104.5 215.5,102.5 215.8,98.2ZM247.5,96.5 246.8,97.8 246.5,100.2 246.8,101.8 247.8,102.8 248.5,101.5 248.8,98.8 248.2,96.8ZM219.2,96.5 218.2,97.5 218.2,103.5 217.8,103.8 218.2,113.5 218.8,114.2 219.8,113.2 219.8,107.2 220.2,106.8 219.8,97.2ZM251.8,96.2 250.8,97.8 250.8,100.2 251.5,101.2 252.5,100.5 252.8,97.8ZM260.2,95.8 259.5,96.2 259.5,98.2 259.8,98.5 260.5,97.5ZM255.8,95.8 255.2,96.8 255.2,99.5 255.5,99.8 256.2,99.8 256.5,99.2 256.5,96.5ZM223.5,95.8 222.8,95.8 222.2,97.2 222.5,101.5 221.8,103.5 221.8,105.8 222.5,107.8 222.2,112.2 222.8,113.2 223.8,112.5 224.2,111.2 223.8,109.5 223.8,106.8 224.2,106.5 223.8,99.2 224.2,98.8 224.2,97.2ZM227.5,95.2 226.5,95.8 226.2,96.8 226.2,98.5 226.5,98.8 226.5,101.2 226.2,101.5 226.5,108.8 226.2,109.2 226.2,110.8 226.8,112.2 227.8,111.5 228.2,110.5 227.8,106.5 228.5,104.2 228.5,102.5 227.8,100.5 228.2,96.2ZM231.5,94.5 230.5,95.5 230.5,100.8 230.2,101.2 230.5,110.5 231.2,111.2 232.2,109.8 231.8,105.8 232.5,104.2 232.5,101.2 231.8,99.5 232.2,95.5ZM235.8,94.2 235.2,94.2 234.5,95.2 234.8,99.2 234.2,101.2 234.2,103.5 234.8,105.2 234.8,107.2 234.5,107.5 234.8,109.8 235.5,109.8 236.2,108.8 235.8,105.5 236.5,103.5 236.5,100.2 235.8,98.5 236.2,97.5ZM243.8,93.5 243.2,93.8 243.2,97.5 242.5,99.2 242.5,102.2 243.2,103.5 243.2,107.2 243.5,107.5 244.2,106.5 243.8,103.5 244.8,100.5 244.5,98.2 243.8,96.8 244.2,95.2ZM239.5,93.5 238.8,94.2 238.8,97.2 239.2,97.5 238.5,99.2 238.5,103.5 239.2,105.2 238.8,105.5 238.8,108.5 239.2,108.8 240.2,107.8 239.8,104.5 240.5,102.8 240.5,99.2 239.8,97.5 240.2,94.2Z" fill="#5a8f96" fill-opacity="0.500" fill-rule="evenodd"/>
<path d="M220.2,103.5 219.8,102.5 218.8,101.5 216.5,100.5 207.5,100.2 207.2,100.5 203.5,100.5 203.2,100.8 200.5,100.8 200.2,101.2 190.5,102.2 188.2,102.8 177.2,104.2 176.8,104.5 172.8,104.8 172.5,105.2 157.5,107.5 148.5,109.8 145.2,111.2 142.2,113.2 140.8,114.8 140.2,116.5 139.8,121.2 140.5,122.5 142.5,123.8 146.5,124.2 146.8,124.5 150.5,124.5 150.8,124.2 155.2,124.2 155.5,123.8 158.5,123.8 158.8,123.5 163.8,123.2 166.5,122.5 168.8,122.5 171.2,121.8 191.2,119.2 191.5,118.8 193.2,118.8 193.5,118.5 195.2,118.5 205.8,116.5 213.8,114.2 218.5,111.5 219.5,110.2 220.2,108.2Z" fill="#1f6466" fill-opacity="0.150" fill-rule="evenodd"/>
<path d="M214.8,104.2 213.8,102.8 210.5,101.8 203.5,101.8 203.2,102.2 196.8,102.5 196.5,102.8 182.8,104.5 182.5,104.8 174.2,105.8 173.8,106.2 159.2,108.5 151.2,110.8 147.5,112.8 145.8,114.8 145.2,116.8 145.2,120.5 145.8,121.5 148.2,122.5 155.5,122.8 155.8,122.5 159.5,122.5 159.8,122.2 162.5,122.2 162.8,121.8 165.2,121.8 165.5,121.5 176.8,120.2 177.2,119.8 192.2,117.8 202.8,115.8 209.5,113.8 213.2,111.8 214.8,109.5 214.8,107.5 215.2,107.2Z" fill="#1f6466" fill-opacity="0.235" fill-rule="evenodd"/>
<path d="M210.8,105.5 208.8,103.5 207.2,103.2 200.2,103.2 199.8,103.5 196.8,103.5 196.5,103.8 194.2,103.8 193.8,104.2 191.5,104.2 186.8,105.2 182.5,105.5 182.2,105.8 176.2,106.5 175.8,106.8 161.2,109.2 154.5,111.2 151.5,112.8 149.8,114.8 149.2,116.8 149.2,119.2 150.5,120.8 152.8,121.5 159.5,121.5 159.8,121.2 162.8,121.2 163.2,120.8 165.8,120.8 166.2,120.5 175.2,119.5 177.5,118.8 181.8,118.5 182.2,118.2 186.2,117.8 186.5,117.5 190.5,117.2 190.8,116.8 199.5,115.5 205.5,113.8 208.8,112.2 210.8,109.5Z" fill="#1f6466" fill-opacity="0.308" fill-rule="evenodd"/>
<path d="M206.5,106.2 206.2,105.5 203.5,104.5 197.2,104.5 196.8,104.8 191.5,105.2 191.2,105.5 186.8,105.8 178.2,107.5 176.2,107.5 175.8,107.8 174.2,107.8 163.5,109.8 158.2,111.5 154.8,113.5 153.5,116.2 153.5,118.5 154.2,119.5 156.2,120.2 162.8,120.2 163.2,119.8 165.8,119.8 166.2,119.5 177.8,118.2 178.2,117.8 186.5,116.8 186.8,116.5 197.5,114.8 202.2,113.5 204.8,112.2 206.5,110.2Z" fill="#1f6466" fill-opacity="0.444" fill-rule="evenodd"/>
<path d="M202.8,107.8 202.2,106.5 200.5,105.8 193.8,105.8 193.5,106.2 188.5,106.5 188.2,106.8 184.2,107.2 183.8,107.5 168.5,109.8 163.2,111.2 159.5,112.8 157.5,115.5 157.5,117.8 159.2,118.8 166.8,118.8 167.2,118.5 176.5,117.5 176.8,117.2 180.8,116.8 181.2,116.5 194.5,114.5 198.2,113.5 201.5,111.8 202.5,110.5Z" fill="#1f6466" fill-opacity="0.600" fill-rule="evenodd"/>
<path d="M142.2,113.2 140.8,113.5 140.2,114.5 140.2,121.5 141.2,122.5 142.2,122.2 142.5,121.5 142.5,113.8ZM146.5,111.8 144.8,111.8 143.8,112.8 143.5,114.2 143.5,120.8 143.8,122.2 144.8,122.8 145.5,122.8 146.8,121.8 146.8,112.2ZM171.5,107.5 170.8,107.2 168.8,107.5 168.2,108.2 167.8,109.5 166.8,107.8 165.2,107.8 163.5,109.5 162.8,108.5 161.2,108.5 159.8,109.5 159.8,111.5 159.5,111.8 159.2,111.5 159.2,109.5 158.8,109.2 156.8,109.2 155.8,110.2 155.8,112.8 155.5,113.2 155.2,112.8 155.2,110.5 154.5,109.8 152.5,110.2 151.5,111.8 150.2,110.5 148.2,111.2 147.5,112.5 147.5,121.2 148.2,122.5 150.2,122.5 151.2,120.8 151.8,121.2 152.2,122.2 154.2,122.2 155.2,121.2 155.2,118.8 155.5,118.5 155.8,118.8 155.8,121.2 156.5,121.8 157.8,121.8 159.2,120.8 159.2,118.8 159.5,118.5 160.2,121.2 162.5,121.2 163.5,119.8 164.8,120.8 166.8,120.5 167.8,118.5 168.5,120.2 170.8,119.8 171.5,119.2ZM183.5,105.5 181.5,105.5 180.5,106.2 180.2,107.2 179.5,106.2 178.5,105.8 177.2,106.2 175.8,107.8 175.5,106.8 174.8,106.5 172.8,106.8 172.2,107.5 172.2,119.2 172.5,119.5 174.5,119.5 175.5,118.8 175.8,117.8 176.5,118.8 177.5,119.2 178.8,118.8 180.2,117.2 180.5,118.2 181.2,118.5 183.2,118.2 183.8,117.5 183.8,105.8ZM214.8,102.5 213.8,102.8 213.5,103.5 213.5,111.2 213.8,111.8 215.2,111.5 215.8,110.5 215.8,103.5ZM207.8,102.5 205.8,102.5 204.8,104.2 204.2,103.8 203.8,102.8 201.8,102.8 200.8,103.8 200.8,106.2 200.5,106.5 200.2,106.2 200.2,103.8 199.5,103.2 198.2,103.2 196.8,104.2 196.8,106.2 196.5,106.5 195.8,103.8 193.5,103.8 192.5,105.2 191.2,104.2 189.2,104.5 188.2,106.5 187.5,104.8 185.2,105.2 184.5,105.8 184.5,117.5 185.2,117.8 187.2,117.5 187.8,116.8 188.2,115.5 189.2,117.2 190.8,117.2 192.5,115.5 193.2,116.5 194.8,116.5 196.2,115.5 196.2,113.5 196.5,113.2 196.8,113.5 196.8,115.5 197.2,115.8 199.2,115.8 200.2,114.8 200.2,112.2 200.5,111.8 200.8,112.2 200.8,114.5 201.5,115.2 203.5,114.8 204.5,113.2 205.8,114.5 207.8,113.8 208.5,112.5 208.5,103.8ZM211.2,102.2 210.5,102.2 209.2,103.2 209.2,112.8 209.5,113.2 211.2,113.2 212.2,112.2 212.5,110.8 212.5,104.2 212.2,102.8Z" fill="#26c9c6" fill-opacity="0.100" fill-rule="evenodd"/>
<path d="M145.2,113.5 144.5,114.8 144.5,119.8 145.2,120.8 145.8,120.8 146.5,119.2 146.5,114.8 146.2,113.8ZM149.2,111.8 148.2,112.8 147.8,114.5 147.8,119.2 148.2,120.8 148.8,121.5 149.8,121.5 150.8,120.2 150.8,112.8 150.2,111.8ZM153.2,110.8 152.5,111.2 151.8,112.5 151.8,120.2 152.5,121.2 154.2,121.2 154.8,120.5 155.2,118.8 155.2,112.5 154.5,110.8ZM157.8,109.8 156.8,110.2 155.8,111.8 155.8,119.8 156.5,120.8 158.2,120.8 159.2,119.5 159.2,110.8 158.8,110.2ZM162.2,109.2 160.8,109.5 159.8,111.2 159.8,118.8 160.8,120.5 161.8,120.5 163.2,119.5 163.2,109.8ZM166.2,108.5 164.5,109.2 163.8,111.5 163.8,117.5 164.5,119.8 166.8,119.5 167.5,117.8 167.5,110.2 167.2,109.2ZM170.8,108.2 169.2,108.2 168.2,109.2 168.2,118.5 168.5,119.2 169.5,119.5 170.5,119.2 171.5,117.8 171.5,109.2ZM174.8,107.5 172.8,107.8 172.2,109.2 172.2,117.5 172.5,118.5 173.2,118.8 174.8,118.5 175.5,117.5 175.5,108.2ZM177.5,106.8 176.5,107.8 176.2,109.2 176.2,116.5 177.2,118.2 178.5,118.2 179.5,117.2 179.8,115.8 179.8,108.5 178.8,106.8ZM182.8,106.2 181.2,106.5 180.5,107.5 180.5,116.8 181.2,117.5 183.2,117.2 183.8,115.8 183.8,107.5 183.5,106.5ZM186.5,105.5 185.5,105.8 184.5,107.2 184.5,115.8 185.2,116.8 186.8,116.8 187.8,115.8 187.8,106.5 187.5,105.8ZM191.5,105.2 189.2,105.5 188.5,107.2 188.5,114.8 188.8,115.8 189.8,116.5 191.5,115.8 192.2,113.5 192.2,107.5ZM195.2,104.5 194.2,104.5 192.8,105.5 192.8,115.2 193.8,115.8 195.2,115.5 196.2,113.8 196.2,106.2ZM210.2,104.2 209.5,105.8 209.5,110.2 209.8,111.2 210.8,111.5 211.5,110.2 211.5,105.2 210.8,104.2ZM199.5,104.2 197.8,104.2 196.8,105.5 196.8,114.2 197.2,114.8 198.2,115.2 199.2,114.8 200.2,113.2 200.2,105.2ZM201.8,103.8 201.2,104.5 200.8,106.2 200.8,112.5 201.5,114.2 202.8,114.2 203.5,113.8 204.2,112.5 204.2,104.8 203.5,103.8ZM206.2,103.5 205.2,104.8 205.2,112.2 205.8,113.2 206.8,113.2 207.8,112.2 208.2,110.5 208.2,105.8 207.8,104.2 207.2,103.5Z" fill="#26c9c6" fill-opacity="0.222" fill-rule="evenodd"/>
<path d="M149.8,112.8 148.5,114.2 148.5,119.2 148.8,120.2 149.5,120.5 150.5,118.8 150.5,114.2ZM154.2,111.5 152.8,111.8 152.2,113.2 152.2,119.5 152.8,120.5 153.8,120.5 154.8,119.2 154.8,112.8ZM157.8,110.5 156.8,110.8 156.2,111.8 156.2,119.5 156.8,120.2 158.5,119.8 159.2,117.2 158.8,111.2ZM162.2,109.8 160.8,110.2 160.2,111.2 160.2,118.8 160.8,119.8 162.2,119.8 163.2,118.2 163.2,111.2 162.8,110.2ZM166.5,109.2 164.8,109.5 164.2,110.8 164.2,118.2 165.5,119.5 166.5,119.2 167.2,118.2 167.2,110.2ZM170.5,108.5 169.2,108.8 168.2,110.5 168.2,117.2 169.2,118.8 169.8,118.8 171.2,117.8 171.5,116.2 171.5,110.8 171.2,109.2ZM173.2,108.2 172.5,109.2 172.5,111.2 172.2,111.5 172.2,115.5 172.5,115.8 172.5,117.5 173.2,118.2 174.2,118.2 175.2,117.5 175.5,116.5 175.5,109.2 174.8,108.2ZM177.5,107.5 176.5,108.8 176.5,116.8 177.2,117.5 178.5,117.5 179.5,116.2 179.5,108.2 178.8,107.5ZM181.8,106.8 180.8,107.5 180.5,108.5 180.5,115.8 181.2,116.8 182.8,116.8 183.5,115.8 183.5,113.8 183.8,113.5 183.8,109.5 183.5,109.2 183.5,107.5 182.8,106.8ZM186.8,106.2 186.2,106.2 184.8,107.2 184.5,108.8 184.5,114.2 184.8,115.8 185.5,116.5 186.8,116.2 187.8,114.5 187.8,107.8ZM190.5,105.5 189.5,105.8 188.8,106.8 188.8,114.8 189.5,115.8 191.2,115.5 191.8,114.2 191.8,106.8ZM195.2,105.2 193.8,105.2 192.8,106.8 192.8,113.8 193.2,114.8 193.8,115.2 195.2,114.8 195.8,113.8 195.8,106.2ZM199.2,104.8 197.5,105.2 196.8,107.8 197.2,113.8 198.2,114.5 199.2,114.2 199.8,113.2 199.8,105.5ZM206.5,104.5 205.5,106.2 205.5,110.8 206.2,112.2 207.5,110.8 207.5,105.8 207.2,104.8ZM203.2,104.5 202.2,104.5 201.2,105.8 201.2,112.2 201.8,113.5 203.2,113.2 203.8,111.8 203.8,105.5Z" fill="#26c9c6" fill-opacity="0.286" fill-rule="evenodd"/>
<path d="M154.2,112.5 153.2,112.5 152.5,113.8 152.5,118.5 153.2,119.8 154.5,118.5 154.5,113.2ZM158.2,111.2 156.8,111.5 156.5,112.2 156.5,119.2 157.5,119.8 158.5,119.2 158.8,117.8 158.8,112.5ZM161.2,110.5 160.5,111.5 160.2,113.2 160.2,117.2 160.5,118.8 162.2,119.2 162.8,118.2 162.8,111.2 162.5,110.5ZM165.2,109.8 164.5,110.8 164.5,118.2 165.2,118.8 166.2,118.8 166.8,118.2 167.2,116.8 167.2,111.5 166.5,109.8ZM169.5,109.2 168.5,110.5 168.5,117.5 169.2,118.2 170.2,118.2 171.2,116.8 171.2,110.2 170.5,109.2ZM174.5,108.5 173.5,108.5 172.5,110.2 172.5,116.5 173.5,117.8 174.5,117.5 175.2,116.5 175.2,109.2ZM178.5,107.8 177.2,108.2 176.5,110.2 176.5,115.2 176.8,116.5 177.5,117.2 178.8,116.8 179.5,114.8 179.5,109.8 179.2,108.5ZM182.5,107.2 181.5,107.5 180.8,108.5 180.8,115.8 181.5,116.5 182.5,116.5 183.5,114.8 183.5,108.5ZM185.8,106.8 184.8,108.2 184.8,114.8 185.5,115.8 186.5,115.8 187.5,114.5 187.5,107.5 186.8,106.8ZM189.8,106.2 189.2,106.8 188.8,108.2 188.8,113.5 189.5,115.2 190.8,115.2 191.5,114.2 191.5,106.8 190.8,106.2ZM193.8,105.8 193.2,106.8 193.2,113.8 193.5,114.5 194.8,114.5 195.5,113.5 195.8,111.8 195.8,107.8 195.5,106.2ZM202.8,105.2 201.5,106.5 201.5,111.8 201.8,112.5 202.8,112.5 203.5,111.2 203.5,106.5ZM198.5,105.2 197.5,105.8 197.2,107.2 197.2,112.5 197.8,113.8 199.2,113.5 199.5,112.8 199.5,105.8Z" fill="#26c9c6" fill-opacity="0.400" fill-rule="evenodd"/>
<path d="M153.2,113.5 153.2,118.5 153.8,118.8 154.2,114.2 153.8,113.2ZM157.2,111.8 156.5,113.5 156.5,117.8 156.8,118.8 157.8,119.2 158.5,118.2 158.5,112.5 158.2,111.8ZM162.2,110.8 161.5,110.8 160.5,112.2 160.5,117.8 161.2,118.8 161.8,118.8 162.8,117.2 162.8,112.2ZM166.2,110.2 165.5,110.2 164.5,111.5 164.5,117.2 165.2,118.5 165.8,118.5 166.8,117.2 166.8,110.8ZM169.5,109.5 168.8,110.2 168.5,111.5 168.5,116.2 168.8,117.5 170.2,117.8 170.8,117.2 171.2,111.8 170.5,109.5ZM174.5,108.8 173.2,109.2 172.8,109.8 172.8,116.8 173.2,117.2 174.5,117.2 175.2,115.5 175.2,110.2ZM177.8,108.2 176.8,109.5 176.8,115.8 177.2,116.5 178.2,116.8 179.2,115.5 179.2,109.2 178.8,108.5ZM182.8,107.8 181.5,107.8 180.8,109.5 180.8,114.8 181.5,116.2 182.8,115.8 183.2,115.2 183.2,108.2ZM185.8,107.2 185.2,107.8 184.8,113.2 185.5,115.5 186.5,115.5 187.2,114.8 187.5,113.5 187.5,108.8 187.2,107.5ZM190.8,106.5 190.2,106.5 189.2,107.8 189.2,114.2 189.8,114.8 190.5,114.8 191.5,113.5 191.5,107.8ZM202.2,106.2 201.8,110.8 202.2,111.8 202.8,111.5 202.8,106.5ZM194.8,106.2 194.2,106.2 193.2,107.8 193.2,112.8 193.8,114.2 194.5,114.2 195.5,112.8 195.5,107.2ZM198.2,105.8 197.5,106.8 197.5,112.5 197.8,113.2 198.8,113.2 199.5,111.5 199.5,107.2 199.2,106.2Z" fill="#26c9c6" fill-opacity="0.500" fill-rule="evenodd"/>
<path d="M157.5,112.2 156.8,113.2 156.8,118.2 157.8,118.8 158.5,114.5 158.2,114.2 158.2,112.5ZM162.2,111.2 161.5,111.2 160.8,111.8 160.8,113.8 160.5,114.2 160.8,118.2 161.2,118.5 161.8,118.5 162.5,117.8 162.5,111.8ZM166.2,110.5 165.5,110.5 164.8,111.2 164.8,113.2 164.5,113.5 165.2,118.2 165.8,118.2 166.8,116.5 166.8,111.5ZM169.5,109.8 168.8,110.8 168.8,116.8 169.2,117.5 170.2,117.5 170.8,116.5 170.8,110.5 170.5,109.8ZM174.5,109.2 173.5,109.2 172.8,110.5 172.8,116.2 173.8,117.2 174.8,116.2 174.8,109.8ZM178.5,108.5 177.8,108.5 176.8,110.2 176.8,115.2 177.5,116.5 178.2,116.5 179.2,114.8 179.2,109.8ZM182.2,107.8 181.2,108.8 181.2,115.2 181.5,115.8 182.5,115.8 183.2,114.5 183.2,108.8ZM185.8,107.5 185.2,108.5 185.2,114.5 185.5,115.2 186.5,115.2 187.2,114.2 187.2,108.2 186.8,107.5ZM190.8,106.8 190.2,106.8 189.2,108.5 189.2,113.5 189.8,114.5 190.5,114.5 191.2,113.8 191.2,111.8 191.5,111.5ZM194.8,106.5 194.2,106.5 193.5,107.2 193.5,113.2 193.8,113.8 194.5,113.8 195.2,113.2 195.2,111.2 195.5,110.8 195.2,106.8ZM198.2,106.2 197.5,110.5 197.8,110.8 197.8,112.5 198.5,112.8 199.2,111.8 199.2,106.8Z" fill="#26c9c6" fill-opacity="0.667" fill-rule="evenodd"/>
</g></g>
<line x1="53" y1="129.5" x2="316" y2="94" stroke="#e8c81c" stroke-width="0.85" stroke-dasharray="1.8 1.2"/>
<line x1="201.1" y1="188.3" x2="198.0" y2="180.2" stroke="#22c322" stroke-width="1.2"/>
<polygon points="196.2,176 195.8,181.3 200.8,180.2" fill="#22c322"/>
<polyline points="33.3,46 37.4,151.5 61.3,216.3 340,176.2" fill="none" stroke="#707070" stroke-width="0.7"/>
<line x1="29.16" y1="59.80" x2="36.16" y2="59.80" stroke="#555" stroke-width="0.65"/>
<text x="25.3" y="62.60" text-anchor="end" font-size="7.8">0.2</text>
<line x1="29.99" y1="80.20" x2="36.99" y2="80.20" stroke="#555" stroke-width="0.65"/>
<text x="25.3" y="83.00" text-anchor="end" font-size="7.8">0.1</text>
<line x1="30.85" y1="101.30" x2="37.85" y2="101.30" stroke="#555" stroke-width="0.65"/>
<text x="26.6" y="104.10" text-anchor="end" font-size="7.8">0</text>
<line x1="31.68" y1="121.50" x2="38.68" y2="121.50" stroke="#555" stroke-width="0.65"/>
<text x="26.6" y="124.30" text-anchor="end" font-size="7.8">−0.1</text>
<line x1="32.50" y1="141.80" x2="39.50" y2="141.80" stroke="#555" stroke-width="0.65"/>
<text x="26.6" y="144.60" text-anchor="end" font-size="7.8">−0.2</text>
<text transform="translate(6.7,100.7) rotate(-90)" text-anchor="middle" font-size="8.7"><tspan font-style="italic">y</tspan> (mm)</text>
<line x1="34.95" y1="160.10" x2="40.45" y2="159.50" stroke="#3a3a3a" stroke-width="0.65"/>
<line x1="39.44" y1="172.30" x2="44.94" y2="171.70" stroke="#3a3a3a" stroke-width="0.65"/>
<line x1="44.23" y1="185.30" x2="49.73" y2="184.70" stroke="#3a3a3a" stroke-width="0.65"/>
<line x1="48.61" y1="197.20" x2="54.11" y2="196.60" stroke="#3a3a3a" stroke-width="0.65"/>
<line x1="52.93" y1="208.90" x2="58.43" y2="208.30" stroke="#3a3a3a" stroke-width="0.65"/>
<text x="35.6" y="175.40" text-anchor="end" font-size="7.8">−0.2</text>
<text x="38.1" y="188.10" text-anchor="end" font-size="7.8">−0.1</text>
<text x="42.6" y="200.70" text-anchor="end" font-size="7.8">0</text>
<text x="48.7" y="212.50" text-anchor="end" font-size="7.8">0.1</text>
<text x="53.2" y="222.60" text-anchor="end" font-size="7.8">0.2</text>
<text transform="translate(18.2,194.2) rotate(-109.3)" text-anchor="middle" font-size="8.7"><tspan font-style="italic">x</tspan> (mm)</text>
<line x1="94.50" y1="209.94" x2="95.50" y2="212.94" stroke="#3a3a3a" stroke-width="0.65"/>
<line x1="149.40" y1="202.05" x2="150.40" y2="205.05" stroke="#3a3a3a" stroke-width="0.65"/>
<line x1="202.60" y1="194.40" x2="203.60" y2="197.40" stroke="#3a3a3a" stroke-width="0.65"/>
<line x1="255.50" y1="186.80" x2="256.50" y2="189.80" stroke="#3a3a3a" stroke-width="0.65"/>
<line x1="308.10" y1="179.24" x2="309.10" y2="182.24" stroke="#3a3a3a" stroke-width="0.65"/>
<text x="96.4" y="222.80" text-anchor="middle" font-size="7.8">80</text>
<text x="150.7" y="214.30" text-anchor="middle" font-size="7.8">40</text>
<text x="204.6" y="206.40" text-anchor="middle" font-size="7.8">0</text>
<text x="258.6" y="198.90" text-anchor="middle" font-size="7.8">−40</text>
<text x="309.9" y="192.90" text-anchor="middle" font-size="7.8">−80</text>
<text transform="translate(208.7,221.6) rotate(-5.5)" text-anchor="middle" font-size="8.7" textLength="34" lengthAdjust="spacingAndGlyphs">Time (fs)</text>
<line x1="65.2" y1="41.41" x2="65.2" y2="44.61" stroke="#9a9a9a" stroke-width="0.6"/>
<line x1="118.3" y1="34.91" x2="118.3" y2="38.11" stroke="#9a9a9a" stroke-width="0.6"/>
<line x1="171.5" y1="28.39" x2="171.5" y2="31.59" stroke="#9a9a9a" stroke-width="0.6"/>
<line x1="223.3" y1="22.04" x2="223.3" y2="25.24" stroke="#9a9a9a" stroke-width="0.6"/>
<line x1="274.3" y1="15.80" x2="274.3" y2="19.00" stroke="#9a9a9a" stroke-width="0.6"/>
<line x1="309.5" y1="19" x2="309.5" y2="27.3" stroke="#b8b8b8" stroke-width="0.6"/>
<line x1="317" y1="29.5" x2="317" y2="37" stroke="#b8b8b8" stroke-width="0.6"/>
<line x1="324.6" y1="40" x2="324.6" y2="48" stroke="#b8b8b8" stroke-width="0.6"/>
<line x1="332.2" y1="50.7" x2="332.2" y2="58.7" stroke="#b8b8b8" stroke-width="0.6"/>
<line x1="340.2" y1="61.3" x2="340.2" y2="69" stroke="#b8b8b8" stroke-width="0.6"/>
<line x1="340.02" y1="73" x2="344.42" y2="81.5" stroke="#b8b8b8" stroke-width="0.6"/>
<line x1="339.24" y1="95.7" x2="343.64" y2="104.2" stroke="#b8b8b8" stroke-width="0.6"/>
<line x1="338.49" y1="118" x2="342.88" y2="126.5" stroke="#b8b8b8" stroke-width="0.6"/>
<line x1="337.75" y1="139.5" x2="342.15" y2="148.0" stroke="#b8b8b8" stroke-width="0.6"/>
<line x1="337.06" y1="160" x2="341.46" y2="168.5" stroke="#b8b8b8" stroke-width="0.6"/>
</g>
<g id="pb">
<defs>
<radialGradient id="inf" cx="0.5" cy="0.5" r="0.5">
<stop offset="0" stop-color="#fcffa4"/><stop offset="0.14" stop-color="#f9d849"/><stop offset="0.3" stop-color="#f98e09"/>
<stop offset="0.44" stop-color="#e45a31"/><stop offset="0.56" stop-color="#a52c60"/><stop offset="0.68" stop-color="#5c126e"/>
<stop offset="0.8" stop-color="#1b0c41"/><stop offset="0.9" stop-color="#04020e"/><stop offset="1" stop-color="#000"/></radialGradient>
<linearGradient id="cbinf" x1="0" y1="0" x2="0" y2="1">
<stop offset="0" stop-color="#fcffa4"/><stop offset="0.095" stop-color="#f6d746"/><stop offset="0.189" stop-color="#fca50a"/>
<stop offset="0.284" stop-color="#f37819"/><stop offset="0.378" stop-color="#dd513a"/><stop offset="0.473" stop-color="#bc3754"/>
<stop offset="0.568" stop-color="#932667"/><stop offset="0.662" stop-color="#6a176e"/><stop offset="0.757" stop-color="#420a68"/>
<stop offset="0.851" stop-color="#160b39"/><stop offset="0.935" stop-color="#000004"/><stop offset="0.96" stop-color="#404040"/><stop offset="1" stop-color="#d8d8d8"/></linearGradient>
<filter id="bl1" x="-50%" y="-50%" width="200%" height="200%"><feGaussianBlur stdDeviation="0.9"/></filter>
<filter id="bl05" x="-50%" y="-50%" width="200%" height="200%"><feGaussianBlur stdDeviation="0.5"/></filter>
</defs>
<circle cx="439.3" cy="60.9" r="17.3" fill="none" stroke="#dcdcdc" stroke-width="2.4" stroke-dasharray="9 3 7 4 10 3 8 5 9 4 6 3" filter="url(#bl1)"/>
<ellipse cx="439.3" cy="61.199999999999996" rx="10.9" ry="11.6" fill="none" stroke="#a0a0a0" stroke-width="3.4" filter="url(#bl1)"/>
<path d="M432.88,51.73 A11.2,11.2 0 0 1 445.72,51.73" fill="none" stroke="#4a4a4a" stroke-width="2.6" stroke-linecap="round" filter="url(#bl1)"/>
<path d="M438.29,72.46 A11.6,11.6 0 0 1 429.25,66.70" fill="none" stroke="#505050" stroke-width="2.6" stroke-linecap="round" filter="url(#bl1)"/>
<path d="M450.13,62.81 A11.0,11.0 0 0 1 445.61,69.91" fill="none" stroke="#5a5a5a" stroke-width="2.4" stroke-linecap="round" filter="url(#bl1)"/>
<path d="M428.68,64.76 A11.3,11.3 0 0 1 428.68,57.04" fill="none" stroke="#6a6a6a" stroke-width="2.2" stroke-linecap="round" filter="url(#bl1)"/>
<circle cx="439.3" cy="60.9" r="7.2" fill="url(#inf)"/>
<path d="M396.70,17.00 C397.18,17.33 399.38,18.12 399.60,19.00 C399.82,19.88 398.60,21.33 398.00,22.30 C397.40,23.27 396.00,23.83 396.00,24.80 C396.00,25.77 397.25,26.85 398.00,28.10 C398.75,29.35 400.28,31.05 400.50,32.30 C400.72,33.55 399.17,34.50 399.30,35.60 C399.43,36.70 400.42,38.07 401.30,38.90 C402.18,39.73 403.90,39.90 404.60,40.60 C405.30,41.30 405.92,42.42 405.50,43.10 C405.08,43.78 402.38,44.02 402.10,44.70 C401.82,45.38 402.82,46.50 403.80,47.20 C404.78,47.90 407.17,48.35 408.00,48.90 C408.83,49.45 409.08,49.95 408.80,50.50 C408.52,51.05 406.17,51.70 406.30,52.20 C406.43,52.70 408.22,52.80 409.60,53.50 C410.98,54.20 413.22,55.48 414.60,56.40 C415.98,57.32 417.58,58.15 417.90,59.00 C418.22,59.85 417.32,60.58 416.50,61.50 C415.68,62.42 414.92,63.53 413.00,64.50 C411.08,65.47 407.75,66.60 405.00,67.30 C402.25,68.00 396.77,68.23 396.50,68.70 C396.23,69.17 401.38,69.57 403.40,70.10 C405.42,70.63 408.60,71.17 408.60,71.90 C408.60,72.63 405.42,73.78 403.40,74.50 C401.38,75.22 396.93,75.63 396.50,76.20 C396.07,76.77 399.22,77.32 400.80,77.90 C402.38,78.48 405.72,78.97 406.00,79.70 C406.28,80.43 403.52,81.58 402.50,82.30 C401.48,83.02 400.18,83.28 399.90,84.00 C399.62,84.72 400.93,85.73 400.80,86.60 C400.67,87.47 399.10,88.18 399.10,89.20 C399.10,90.22 401.10,91.68 400.80,92.70 C400.50,93.72 397.73,94.30 397.30,95.30 C396.87,96.30 398.33,97.55 398.20,98.70 C398.07,99.85 396.87,101.37 396.50,102.20 C396.13,103.03 396.08,103.45 396.00,103.70" fill="none" stroke="#f7b13c" stroke-width="0.9"/>
<path d="M397,86 C401,90 401,96 398,101 C397,103 396,103 396,103" fill="none" stroke="#f7b13c" stroke-width="2"/>
<path d="M396.5,17 C398,18 399,21 397,24" fill="none" stroke="#f7b13c" stroke-width="1.8"/>
<path d="M395.60,100.00 C395.82,99.55 396.35,98.03 396.90,97.30 C397.45,96.57 398.23,95.70 398.90,95.60 C399.57,95.50 400.35,96.08 400.90,96.70 C401.45,97.32 401.77,98.20 402.20,99.30 C402.63,100.40 403.28,102.63 403.50,103.30 C403.72,102.53 404.25,99.92 404.80,98.70 C405.35,97.48 406.13,96.12 406.80,96.00 C407.47,95.88 408.25,96.90 408.80,98.00 C409.35,99.10 409.88,101.83 410.10,102.60 C410.32,101.95 410.75,100.07 411.40,98.70 C412.05,97.33 413.27,94.93 414.00,94.40 C414.73,93.87 415.35,95.12 415.80,95.50 C416.25,95.88 416.55,96.50 416.70,96.70 C417.02,96.15 417.83,94.22 418.60,93.40 C419.37,92.58 420.42,91.47 421.30,91.80 C422.18,92.13 423.47,94.80 423.90,95.40 C424.23,94.85 425.13,92.92 425.90,92.10 C426.67,91.28 427.73,90.17 428.50,90.50 C429.27,90.83 430.17,93.50 430.50,94.10 C430.82,93.00 431.63,89.33 432.40,87.50 C433.17,85.67 434.12,84.20 435.10,83.10 C436.08,82.00 437.22,81.05 438.30,80.90 C439.38,80.75 440.62,81.43 441.60,82.20 C442.58,82.97 443.43,84.07 444.20,85.50 C444.97,86.93 445.65,89.15 446.20,90.80 C446.75,92.45 447.28,94.63 447.50,95.40 C447.83,94.42 448.83,90.60 449.50,89.50 C450.17,88.40 450.85,88.15 451.50,88.80 C452.15,89.45 452.85,91.75 453.40,93.40 C453.95,95.05 454.57,97.82 454.80,98.70 C455.12,97.70 456.05,93.80 456.70,92.70 C457.35,91.60 458.03,91.10 458.70,92.10 C459.37,93.10 460.27,96.83 460.70,98.70 C461.13,100.57 461.20,102.53 461.30,103.30 C461.52,102.08 461.93,97.53 462.60,96.00 C463.27,94.47 464.42,93.98 465.30,94.10 C466.18,94.22 467.13,95.72 467.90,96.70 C468.67,97.68 469.57,99.45 469.90,100.00 C470.22,99.33 471.25,96.77 471.80,96.00 C472.35,95.23 472.65,94.18 473.20,95.40 C473.75,96.62 474.78,101.98 475.10,103.30 C475.43,102.20 476.43,98.02 477.10,96.70 C477.77,95.38 478.33,95.18 479.10,95.40 C479.87,95.62 481.13,97.32 481.70,98.00 C482.27,98.68 482.37,99.25 482.50,99.50" fill="none" stroke="#5a6ef0" stroke-width="0.85"/>
<rect x="395" y="16.4" width="87.50" height="87.30" fill="none" stroke="#8c8c8c" stroke-width="0.9"/>
<line x1="392.00" y1="16.40" x2="395" y2="16.40" stroke="#8c8c8c" stroke-width="0.6"/>
<text x="388.6" y="19.10" text-anchor="end" font-size="7.6">0.2</text>
<line x1="392.00" y1="38.23" x2="395" y2="38.23" stroke="#8c8c8c" stroke-width="0.6"/>
<text x="388.6" y="40.93" text-anchor="end" font-size="7.6">0.1</text>
<line x1="392.00" y1="60.05" x2="395" y2="60.05" stroke="#8c8c8c" stroke-width="0.6"/>
<text x="388.6" y="62.75" text-anchor="end" font-size="7.6">0</text>
<line x1="392.00" y1="81.88" x2="395" y2="81.88" stroke="#8c8c8c" stroke-width="0.6"/>
<text x="388.6" y="84.58" text-anchor="end" font-size="7.6">−0.1</text>
<line x1="392.00" y1="103.70" x2="395" y2="103.70" stroke="#8c8c8c" stroke-width="0.6"/>
<text x="388.6" y="106.40" text-anchor="end" font-size="7.6">−0.2</text>
<line x1="395.00" y1="103.7" x2="395.00" y2="106.7" stroke="#8c8c8c" stroke-width="0.6"/>
<text x="395.00" y="116.7" text-anchor="middle" font-size="7.6">−0.2</text>
<line x1="416.88" y1="103.7" x2="416.88" y2="106.7" stroke="#8c8c8c" stroke-width="0.6"/>
<text x="416.88" y="116.7" text-anchor="middle" font-size="7.6">−0.1</text>
<line x1="438.75" y1="103.7" x2="438.75" y2="106.7" stroke="#8c8c8c" stroke-width="0.6"/>
<text x="438.75" y="116.7" text-anchor="middle" font-size="7.6">0</text>
<line x1="460.62" y1="103.7" x2="460.62" y2="106.7" stroke="#8c8c8c" stroke-width="0.6"/>
<text x="460.62" y="116.7" text-anchor="middle" font-size="7.6">0.1</text>
<line x1="482.50" y1="103.7" x2="482.50" y2="106.7" stroke="#8c8c8c" stroke-width="0.6"/>
<text x="482.50" y="116.7" text-anchor="middle" font-size="7.6">0.2</text>
<text x="438.7" y="12.9" text-anchor="middle" font-size="9" textLength="90" lengthAdjust="spacingAndGlyphs">Intensity cross-section</text>
<text x="438.75" y="128.9" text-anchor="middle" font-size="8.9"><tspan font-style="italic">x</tspan> (mm)</text>
<text transform="translate(366.6,59.8) rotate(-90)" text-anchor="middle" font-size="8.9"><tspan font-style="italic">y</tspan> (mm)</text>
<rect x="485.3" y="16.9" width="4.5" height="86.6" fill="url(#cbinf)" stroke="#666" stroke-width="0.4"/>
<line x1="489.8" y1="88.80" x2="491.8" y2="88.80" stroke="#555" stroke-width="0.5"/>
<text x="494.8" y="90.80" font-size="6.2">1.0 × 10<tspan font-size="4" dy="-2.6">19</tspan></text>
<line x1="489.8" y1="74.00" x2="491.8" y2="74.00" stroke="#555" stroke-width="0.5"/>
<text x="494.8" y="76.00" font-size="6.2">2.0 × 10<tspan font-size="4" dy="-2.6">19</tspan></text>
<line x1="489.8" y1="59.20" x2="491.8" y2="59.20" stroke="#555" stroke-width="0.5"/>
<text x="494.8" y="61.20" font-size="6.2">3.0 × 10<tspan font-size="4" dy="-2.6">19</tspan></text>
<line x1="489.8" y1="44.40" x2="491.8" y2="44.40" stroke="#555" stroke-width="0.5"/>
<text x="494.8" y="46.40" font-size="6.2">4.0 × 10<tspan font-size="4" dy="-2.6">19</tspan></text>
<line x1="489.8" y1="29.60" x2="491.8" y2="29.60" stroke="#555" stroke-width="0.5"/>
<text x="494.8" y="31.60" font-size="6.2">5.0 × 10<tspan font-size="4" dy="-2.6">19</tspan></text>
<g id="um">
<defs><filter id="usm" x="-5%" y="-5%" width="110%" height="110%"><feGaussianBlur stdDeviation="0.4"/></filter>
<clipPath id="ucp"><rect x="557.0" y="16.4" width="88.5" height="87.5"/></clipPath></defs>
<g clip-path="url(#ucp)"><rect x="557.0" y="16.4" width="88.5" height="87.5" fill="#eaf1f5"/>
<g filter="url(#usm)">
<path d="M575.9,101.5 576.9,102.3 580.4,103.8ZM634.4,100.8 632.4,101.0 627.4,103.8 631.6,103.8 633.6,102.3ZM609.4,94.5 609.1,94.8 599.4,95.0 598.9,95.3 598.9,95.5 600.1,96.5 601.9,97.0 602.9,97.0 603.1,97.3 604.1,97.3 607.9,96.0 608.6,95.5ZM585.6,86.8 585.6,87.0 588.9,89.3 591.4,90.0 590.4,89.0 588.9,88.3 588.4,88.3ZM564.1,86.8 566.4,90.0 569.4,93.0 571.9,94.5 571.9,94.3 568.4,91.3ZM621.4,83.0 620.1,83.3 616.6,86.5 613.1,88.3 609.6,89.3 608.6,89.3 608.4,89.5 603.6,90.0 601.6,90.8 603.4,91.0 603.6,91.3 605.1,91.3 605.4,91.5 610.1,91.5 610.4,91.3 612.6,91.3 612.9,91.0 614.4,91.0 614.6,90.8 616.4,90.5 618.4,88.8 618.9,88.0 618.6,87.3 618.9,86.5 620.9,84.3ZM633.4,86.8 631.9,87.0 628.9,89.5 627.9,90.0 627.1,89.5 627.1,88.8 629.4,85.8 630.6,83.3 630.6,82.5 630.4,82.3 630.1,82.5 629.4,82.5 625.9,84.5 621.4,88.8 621.4,89.0 622.1,89.0 623.4,88.5 624.6,88.5 624.9,88.8 624.6,89.3 623.6,90.3 622.1,91.3 619.4,92.5 618.9,92.5 617.6,93.5 612.4,96.0 611.9,96.0 609.6,97.3 609.9,97.0 611.9,97.0 612.1,96.8 613.6,96.8 613.9,96.5 615.1,96.5 615.4,96.3 618.9,95.8 624.9,93.8 627.4,92.5 630.6,90.3 633.1,87.8ZM602.6,81.5 602.9,81.3 603.4,81.5 603.1,81.8ZM604.4,81.3 604.6,81.0 605.1,81.3 604.9,81.5ZM642.9,80.3 640.6,83.8 640.4,84.8 641.4,83.8ZM557.1,78.5 557.1,85.5 558.6,88.5 560.9,91.8 562.9,93.5 563.6,93.5 563.6,92.8 562.4,91.0 559.6,85.8 558.4,82.0 557.9,81.3ZM587.1,77.0 587.4,76.8 589.1,77.0 595.4,80.5 595.6,81.0 595.4,81.3 593.4,81.3 590.4,79.8ZM582.1,72.0 582.4,71.8 582.6,72.0 582.4,72.3ZM619.4,71.5 619.6,72.0 618.6,73.8 616.9,75.5 614.1,77.3 613.9,77.0 614.1,76.5ZM581.9,71.8 582.1,71.5 582.4,71.8 582.1,72.0ZM619.4,71.5 619.6,71.3 619.9,71.5 619.6,71.8ZM619.6,71.3 619.9,71.0 620.1,71.3 619.9,71.5ZM581.6,71.3 581.9,71.0 582.1,71.5 581.9,71.8ZM634.6,71.0 634.4,71.8 630.6,77.0 631.4,76.8 632.9,75.3 634.4,72.5ZM581.1,70.5 581.4,70.3 581.9,71.0 581.6,71.3ZM580.9,70.0 581.1,69.8 581.4,70.3 581.1,70.5ZM580.6,69.8 580.9,69.5 581.1,69.8 580.9,70.0ZM644.1,65.3 643.6,65.5 643.1,67.3 640.9,71.5 637.4,77.0 635.6,79.3 634.4,81.5 634.4,82.0 635.1,81.8 637.9,79.0 643.1,71.3 643.6,70.3 643.6,69.5 644.4,67.3 644.4,65.8ZM559.4,64.3 558.9,65.8 558.9,71.5 559.1,71.8 559.1,73.0 559.4,73.3 559.4,74.3 559.6,74.5 560.1,77.0 560.1,66.8 560.4,66.5 560.4,65.0 559.9,64.3ZM623.6,61.8 624.1,62.3 623.6,65.0 622.6,67.3 621.1,69.5 620.9,69.3 621.1,67.0ZM569.1,53.0 567.9,56.3 567.6,61.3 566.9,61.5 566.1,60.8 565.6,60.8 564.6,63.3 564.6,68.0 564.9,68.3 565.1,71.8 565.4,72.0 565.4,73.0 567.1,79.3 569.1,83.5 572.6,88.8 572.1,89.8 572.4,90.3 576.1,93.8 576.9,94.0 574.9,91.3 574.6,90.5 572.9,88.0 570.9,83.8 570.9,83.0 571.1,82.8 571.9,83.0 573.1,82.8 576.9,87.3 581.6,92.0 586.9,95.8 592.1,98.8 592.9,98.8 596.9,100.3 597.6,100.3 599.9,101.0 600.9,101.0 602.1,101.5 603.1,101.5 604.4,102.0 605.6,102.0 605.9,102.3 608.6,102.5 608.9,102.8 610.6,102.8 610.9,103.0 615.9,103.3 617.1,103.8 619.1,103.8 621.4,103.0 622.6,102.3 623.1,102.3 626.4,100.5 628.1,99.3 631.6,96.0 631.9,96.8 631.4,98.0 634.4,95.8 638.6,91.3 638.9,90.8 638.6,90.0 637.1,90.3 635.1,91.5 633.6,93.0 631.4,94.0 630.9,94.5 626.9,96.5 622.1,98.3 621.4,98.3 618.1,99.3 617.1,99.3 616.9,99.5 613.9,99.8 613.6,100.0 611.4,100.0 611.1,100.3 602.6,100.3 602.4,100.0 600.6,100.0 599.1,99.5 598.4,98.8 597.6,98.8 593.9,97.5 589.9,95.5 589.4,95.0 588.9,95.0 585.6,93.0 580.9,89.3 577.6,85.8 577.9,85.0 579.4,85.3 579.1,84.0 577.9,81.8 577.6,80.8 574.9,77.0 571.1,69.0 570.1,67.8 569.9,67.0 569.6,67.5 569.1,66.8 569.1,65.8 568.9,65.5 568.9,60.0 568.6,59.8 568.9,59.5ZM600.9,52.0 596.6,53.3 593.9,55.3 592.9,57.0 592.9,57.8 592.6,58.0 592.6,61.3 593.6,64.0 596.1,66.8 599.4,68.3 603.1,68.3 605.6,67.3 608.4,64.8 609.9,61.5 609.9,58.3 608.6,55.3 607.1,53.5 605.6,52.5 604.1,52.0ZM600.9,51.0 604.1,51.0 604.4,51.3 605.1,51.3 607.4,52.5 608.9,54.0 609.9,55.5 610.9,58.3 610.9,61.5 609.6,64.5 608.9,65.5 606.1,68.0 603.1,69.3 599.6,69.3 597.9,68.8 595.6,67.5 592.9,64.5 591.6,61.3 591.6,57.8 591.9,57.5 591.9,56.8 592.9,55.0 595.1,53.0 597.1,52.0 599.6,51.3 600.6,51.3ZM579.4,50.8 579.6,51.0 579.6,52.8 578.4,57.3 578.4,58.3 577.9,59.3 577.4,57.8 577.6,54.8 578.4,52.5ZM563.9,51.0 563.1,51.5 562.4,53.5 562.1,56.5 562.4,55.3 563.1,53.5 563.6,53.0 564.1,51.5ZM621.9,50.8 622.1,50.5 622.4,51.0 622.1,51.3ZM579.4,50.5 579.6,50.3 579.9,50.5 579.6,50.8ZM621.6,50.3 621.9,50.0 622.1,50.5 621.9,50.8ZM621.4,49.8 621.6,49.5 621.9,50.0 621.6,50.3ZM621.1,49.3 621.4,49.0 621.6,49.5 621.4,49.8ZM620.9,48.8 621.1,48.5 621.4,48.8 621.1,49.0ZM580.4,48.5 580.6,48.3 580.9,48.5 580.6,48.8ZM580.9,47.8 581.1,47.5 581.4,47.8 581.1,48.0ZM588.4,42.3 587.4,43.5 583.1,46.0 581.4,47.8 581.1,47.5 582.1,45.5 583.9,43.8 586.1,42.5 587.6,42.0ZM597.9,38.8 598.1,38.5 598.9,38.8 598.6,39.0ZM607.9,38.5 608.1,38.3 609.9,38.3 611.6,38.8 613.9,40.0 616.6,42.8 616.4,43.0 615.6,43.0 614.1,42.3 610.6,39.8ZM599.1,38.5 599.4,38.3 600.1,38.5 599.9,38.8ZM605.4,32.0 600.6,32.0 600.4,32.3 599.4,32.3 597.9,32.8 592.4,33.5 587.9,34.8 585.9,35.8 583.9,37.3 581.9,39.5 577.9,42.5 576.1,44.3 574.4,46.8 573.6,48.5 573.6,51.5 573.4,51.8 573.1,54.0 572.9,54.3 572.4,57.3 572.1,57.5 572.1,58.8 571.9,59.0 571.9,64.8 572.1,65.0 572.1,66.3 572.6,67.8 574.1,70.3 574.4,70.3 574.4,69.5 574.6,69.3 575.1,69.5 578.1,75.5 580.9,79.0 584.9,82.0 592.6,86.0 595.4,87.0 598.4,87.5 598.6,87.8 602.9,87.8 604.4,87.3 606.1,87.3 606.4,87.0 610.1,86.5 611.1,86.0 613.4,85.5 616.4,84.0 618.1,82.3 619.1,80.3 624.9,74.8 626.9,71.8 626.9,71.3 627.4,70.5 627.4,68.0 629.1,64.0 630.1,60.5 630.4,55.8 630.1,55.5 630.1,53.5 629.9,53.3 629.9,52.3 629.4,50.8 627.1,47.3 624.6,42.3 622.9,40.0 621.6,38.8 620.4,38.0 620.1,38.8 619.1,38.8 617.6,38.0 614.1,35.5 610.1,33.5ZM612.4,29.5 613.4,30.3 618.9,33.0 616.4,30.8 614.4,29.8ZM576.6,29.5 571.6,32.5 569.1,34.5 566.9,36.8 564.1,40.5 563.4,42.3 563.4,43.0 564.4,42.5 568.4,38.5 573.1,34.8 576.1,32.0 577.1,30.5ZM633.9,28.3 633.6,28.5 636.6,32.8 639.1,37.5 639.6,38.0 642.4,44.0 642.9,44.5 644.1,44.3 644.6,44.8 645.1,47.3 645.4,47.5 645.4,48.5 645.4,40.0 645.1,40.0 644.4,41.0 643.9,41.0 643.4,40.5 641.6,36.8 641.6,36.3 639.4,32.3 636.4,29.3 635.1,28.5ZM585.1,24.3 579.9,26.5 578.9,27.8 582.1,26.3ZM567.4,23.5 565.4,25.0 563.6,27.0ZM597.9,23.0 597.6,22.8 592.1,22.8 589.1,24.0 587.4,25.8 587.4,26.3 586.9,27.0 581.9,30.0 580.1,31.8 580.1,32.3 582.9,30.8 584.4,30.3 585.9,29.3 586.6,28.5 586.9,27.3 587.4,26.8 588.9,26.0 597.1,23.5ZM638.1,21.5 640.4,25.3 642.4,30.0 643.6,31.8 644.9,32.8 645.1,32.5 644.6,30.8 643.1,27.8 640.1,23.3ZM629.1,21.3 629.1,21.8 630.1,22.8 632.4,24.3 634.4,25.0 631.1,22.0 629.9,21.3ZM613.9,16.5 614.4,16.5 620.6,19.8 621.6,20.0 621.6,19.8 620.1,18.5 616.1,16.5ZM557.1,40.0 557.1,41.3 562.4,34.5 567.4,30.0 572.4,26.8 574.1,26.0 578.4,23.0 580.4,22.0 582.6,21.5 584.4,20.8 585.1,20.8 587.4,20.0 590.1,19.8 590.4,19.5 592.9,19.5 593.1,19.3 599.6,19.5 599.9,19.8 601.4,19.8 601.6,20.0 605.9,20.8 610.4,22.3 614.9,24.5 618.9,27.8 620.9,30.0 624.1,34.8 625.6,37.8 625.9,39.0 628.4,43.5 630.1,48.3 631.6,51.3 632.1,51.5 631.9,52.0 632.1,51.8 632.1,50.3 631.9,50.0 631.9,47.8 631.6,47.5 631.6,46.0 631.4,45.8 631.4,43.8 630.6,42.3 630.6,41.8 628.6,38.0 628.6,37.0 629.9,36.3 631.6,38.8 634.4,44.3 634.4,44.8 636.6,49.8 636.6,50.3 637.1,51.0 637.9,51.5 637.9,48.8 637.6,48.5 637.6,47.0 637.4,46.8 637.1,44.5 634.9,37.8 631.6,32.3 628.6,29.0 627.6,28.5 627.1,28.8 628.1,30.8 629.1,33.8 629.1,34.5 628.9,34.8 626.1,31.3 621.4,26.5 617.6,23.8 615.1,22.3 608.1,19.0 605.1,18.0 604.4,18.0 603.4,17.5 598.9,16.8 598.6,16.5 582.4,16.5 582.1,16.8 581.1,16.8 576.1,19.0 573.6,20.8 570.6,23.8 570.4,24.3 570.6,25.3 570.1,26.0 566.1,29.3 560.6,34.8 558.4,37.8ZM571.1,16.8 572.1,16.5 571.1,16.5Z" fill="#deebf2" fill-rule="evenodd"/>
<path d="M630.6,96.0 630.4,95.8 625.9,97.8 618.4,100.0 614.6,100.5 614.4,100.8 612.6,100.8 612.4,101.0 607.6,101.3 607.4,101.5 608.6,102.0 611.1,102.3 611.4,102.5 619.1,102.8 619.4,102.5 621.9,102.0 625.4,100.5 628.1,98.8ZM607.1,95.3 606.6,95.5 603.1,95.5 602.6,95.8 602.9,96.3 605.9,96.3 606.6,96.0ZM635.6,93.5 634.4,93.8 632.9,95.8 632.9,96.3 633.4,96.0ZM629.6,90.0 629.1,90.0 627.4,91.0 625.9,91.0 623.1,92.3 618.9,93.5 612.1,96.5 615.9,96.0 616.1,95.8 618.4,95.5 621.4,94.5 622.1,94.5 626.6,92.5 628.9,91.0ZM617.6,88.0 614.6,88.5 614.4,88.8 611.1,89.0 608.9,89.8 604.1,90.5 606.4,90.8 606.6,91.0 611.6,91.0 611.9,90.8 615.6,90.5 617.1,89.5ZM629.1,84.3 628.4,84.3 626.1,85.3 623.6,87.0 622.6,88.3 623.4,88.3 624.9,87.5 626.6,87.5 628.4,86.0 629.1,84.8ZM557.1,81.0 557.1,83.0 558.6,86.5 559.9,88.3 557.9,83.8ZM602.9,74.8 603.1,74.5 603.9,74.5 604.1,74.8 603.9,75.0 603.1,75.0ZM604.4,74.5 604.6,74.3 605.1,74.5 604.9,74.8ZM605.4,74.3 605.6,74.0 605.9,74.3 605.6,74.5ZM606.1,74.0 606.4,73.8 606.6,74.0 606.4,74.3ZM595.1,73.8 595.4,73.5 595.6,73.8 595.4,74.0ZM594.4,73.5 594.6,73.3 594.9,73.5 594.6,73.8ZM593.9,73.3 594.1,73.0 594.4,73.3 594.1,73.5ZM608.1,73.0 608.4,72.8 608.6,73.0 608.4,73.3ZM593.4,73.0 593.6,72.8 593.9,73.0 593.6,73.3ZM608.6,72.8 608.9,72.5 609.1,72.8 608.9,73.0ZM592.9,72.8 593.1,72.5 593.6,72.8 593.4,73.0ZM609.1,72.5 609.4,72.3 609.6,72.5 609.4,72.8ZM592.4,72.5 592.6,72.3 593.1,72.5 592.9,72.8ZM609.4,72.3 609.6,72.0 609.9,72.3 609.6,72.5ZM592.1,72.3 592.4,72.0 592.6,72.3 592.4,72.5ZM609.6,72.0 609.9,71.8 610.4,72.0 610.1,72.3ZM591.9,72.0 592.1,71.8 592.4,72.0 592.1,72.3ZM610.1,71.8 610.4,71.5 610.6,71.8 610.4,72.0ZM591.4,71.8 591.6,71.5 591.9,71.8 591.6,72.0ZM591.1,71.5 591.4,71.3 591.6,71.5 591.4,71.8ZM590.9,71.3 591.1,71.0 591.4,71.3 591.1,71.5ZM571.4,71.0 571.6,75.0 573.1,79.8 575.6,84.0 576.1,84.3 577.6,84.0 577.4,82.5 576.4,80.8 575.9,79.0 574.1,76.3 572.4,72.5ZM613.1,68.8 613.4,69.3 610.6,71.8 610.4,71.5ZM613.1,68.8 613.4,68.5 613.6,68.8 613.4,69.0ZM588.4,68.8 588.6,68.5 588.9,68.8 588.6,69.0ZM613.4,68.5 613.6,68.3 613.9,68.5 613.6,68.8ZM613.6,68.3 613.9,68.0 614.1,68.3 613.9,68.5ZM587.9,68.0 588.1,67.8 588.4,68.0 588.1,68.3ZM613.9,67.8 614.1,67.5 614.4,67.8 614.1,68.0ZM587.6,67.8 587.9,67.5 588.1,67.8 587.9,68.0ZM614.1,67.5 614.4,67.3 614.6,67.5 614.4,67.8ZM587.4,67.3 587.6,67.0 587.9,67.3 587.6,67.5ZM614.4,67.0 614.6,66.8 614.9,67.0 614.6,67.3ZM587.1,66.8 587.4,66.5 587.6,67.0 587.4,67.3ZM579.4,66.8 579.6,66.5 581.1,68.0 583.4,72.5 584.9,74.5 585.9,75.3 587.4,75.5 589.9,76.8 592.1,78.3 596.6,80.5 598.4,80.8 598.6,81.0 599.1,80.8 602.4,80.8 602.6,80.5 606.9,80.5 607.1,80.3 607.9,80.3 608.1,80.5 606.4,81.5 603.9,81.8 603.6,82.0 601.1,82.0 600.9,81.8 596.4,81.8 595.6,82.0 599.9,85.5 599.4,86.0 598.1,85.8 595.6,84.5 593.6,83.0 591.6,80.8 589.1,79.3 581.6,72.5 579.9,68.8ZM614.9,66.3 615.1,66.0 615.4,66.3 615.1,66.5ZM586.9,66.3 587.1,66.0 587.4,66.5 587.1,66.8ZM615.1,65.8 615.4,65.5 615.6,65.8 615.4,66.0ZM615.4,65.3 615.6,65.0 615.9,65.3 615.6,65.5ZM615.6,64.5 615.9,64.3 616.1,64.8 615.9,65.0ZM615.9,63.8 616.1,63.5 616.4,64.0 616.1,64.3ZM616.1,63.0 616.4,62.8 616.6,63.3 616.4,63.5ZM585.9,62.5 587.1,65.5 586.9,66.3 585.6,63.5 585.6,62.8ZM566.4,62.5 565.9,63.5 565.6,66.0 565.4,66.3 565.4,67.3 565.6,67.5 565.6,71.0 565.9,71.3 566.1,74.0 568.4,81.3 570.1,84.5 571.6,86.5 569.9,82.5 570.1,79.0 569.4,77.0 568.6,72.8 568.4,72.5 568.1,69.0 567.9,68.8 567.9,63.8ZM616.6,61.5 616.9,61.8 616.6,62.5 616.4,62.3ZM585.6,61.5 585.9,61.8 585.9,62.5 585.6,62.8 585.4,62.5 585.4,61.8ZM585.4,60.0 585.6,60.3 585.4,61.0 585.1,60.8ZM623.9,59.0 624.6,61.3 624.1,64.5 623.1,66.5 623.1,67.0 621.4,69.8 620.1,72.5 617.4,75.5 614.9,77.3 612.4,78.5 612.1,78.3 612.4,77.5 614.6,75.3 617.1,73.3 618.6,71.5 619.4,69.3 622.6,63.0ZM616.9,59.0 617.1,59.3 617.1,60.5 616.9,60.8 616.6,60.5 616.6,59.3ZM585.4,56.3 585.6,56.5 585.6,57.3 585.4,57.5 585.1,57.3 585.1,56.5ZM585.6,55.0 585.9,55.3 585.9,56.0 585.6,56.3 585.4,56.0 585.4,55.3ZM585.9,54.3 586.1,54.5 585.9,55.3 585.6,55.0ZM585.9,54.0 586.1,53.8 586.4,54.3 586.1,54.5ZM615.4,53.8 615.6,53.5 615.9,53.8 615.6,54.0ZM586.1,53.5 586.4,53.3 586.6,53.5 586.4,53.8ZM615.1,53.3 615.4,53.0 615.6,53.3 615.4,53.5ZM586.4,53.0 586.6,52.8 586.9,53.0 586.6,53.3ZM614.9,52.8 615.1,52.5 615.4,52.8 615.1,53.0ZM586.6,52.5 586.9,52.3 587.1,52.5 586.9,52.8ZM614.6,52.3 614.9,52.0 615.1,52.3 614.9,52.5ZM586.9,52.3 587.1,52.0 587.4,52.3 587.1,52.5ZM601.1,52.0 600.9,52.3 599.9,52.3 597.4,53.0 595.4,54.0 593.6,55.8 592.6,58.3 592.6,61.0 593.9,64.3 595.9,66.5 598.6,68.0 599.4,68.0 599.6,68.3 603.1,68.3 605.1,67.5 606.6,66.5 608.1,65.0 609.6,62.3 609.6,61.5 609.9,61.3 609.9,58.5 609.1,56.3 608.4,55.0 606.4,53.0 603.9,52.0ZM614.4,51.8 614.6,51.5 614.9,51.8 614.6,52.0ZM587.1,51.8 587.4,51.5 587.6,51.8 587.4,52.0ZM587.4,51.5 587.6,51.3 587.9,51.5 587.6,51.8ZM614.1,51.3 614.4,51.0 614.6,51.5 614.4,51.8ZM604.4,51.0 604.6,51.3 605.4,51.3 607.1,52.3 609.1,54.3 610.6,57.0 611.1,60.3 610.9,60.5 610.9,61.8 610.4,63.3 609.4,65.0 606.6,67.8 604.9,68.8 603.4,69.3 601.9,69.3 601.6,69.5 597.6,68.8 595.1,67.3 593.6,65.8 592.1,63.3 591.6,61.8 591.6,60.5 591.4,60.3 591.4,58.8 591.6,58.5 591.9,56.5 592.6,55.3 594.6,53.3 596.4,52.3 600.6,51.0ZM613.9,51.0 614.1,50.8 614.4,51.0 614.1,51.3ZM613.6,50.5 613.9,50.3 614.1,50.8 613.9,51.0ZM613.4,50.3 613.6,50.0 613.9,50.3 613.6,50.5ZM613.1,50.0 613.4,49.8 613.6,50.0 613.4,50.3ZM612.9,49.8 613.1,49.5 613.4,49.8 613.1,50.0ZM612.4,49.0 612.6,48.8 612.9,49.0 612.6,49.3ZM612.1,48.8 612.4,48.5 612.6,48.8 612.4,49.0ZM590.4,48.8 590.6,48.5 590.9,48.8 590.6,49.0ZM611.9,48.5 612.1,48.3 612.4,48.5 612.1,48.8ZM611.6,48.3 611.9,48.0 612.1,48.3 611.9,48.5ZM591.6,48.0 591.9,47.8 592.1,48.0 591.9,48.3ZM610.9,47.8 611.1,47.5 611.4,47.8 611.1,48.0ZM592.1,47.8 592.4,47.5 592.6,47.8 592.4,48.0ZM610.6,47.5 610.9,47.3 611.1,47.5 610.9,47.8ZM592.6,47.5 592.9,47.3 593.1,47.5 592.9,47.8ZM610.4,47.3 610.6,47.0 610.9,47.3 610.6,47.5ZM593.1,47.3 593.4,47.0 593.9,47.3 593.6,47.5ZM609.9,47.0 610.1,46.8 610.4,47.0 610.1,47.3ZM593.9,47.0 594.1,46.8 594.4,47.0 594.1,47.3ZM609.6,46.8 609.9,46.5 610.1,46.8 609.9,47.0ZM594.6,46.8 594.9,46.5 595.1,46.8 594.9,47.0ZM609.1,46.5 609.4,46.3 609.6,46.5 609.4,46.8ZM595.1,46.5 595.4,46.3 595.9,46.5 595.6,46.8ZM608.4,46.3 608.6,46.0 609.1,46.3 608.9,46.5ZM596.1,46.3 596.4,46.0 596.6,46.3 596.4,46.5ZM607.9,46.0 608.1,45.8 608.6,46.0 608.4,46.3ZM596.9,46.0 597.1,45.8 597.6,46.0 597.4,46.3ZM607.1,45.8 607.4,45.5 608.1,45.8 607.9,46.0ZM597.9,45.8 598.1,45.5 598.6,45.8 598.4,46.0ZM599.1,45.5 599.4,45.3 599.6,45.5 599.4,45.8ZM600.4,45.3 600.6,45.0 601.4,45.0 601.6,45.3 601.4,45.5 600.6,45.5ZM602.6,45.0 602.9,44.8 604.6,44.8 604.9,45.0 606.1,45.0 607.4,45.5 607.1,45.8 606.1,45.8 605.9,45.5 604.4,45.5ZM594.6,39.5 596.4,38.5 597.1,38.5 598.4,38.0 600.6,38.0 600.9,37.8 609.4,37.8 609.6,38.0 611.4,38.3 613.4,39.3 617.9,43.5 619.1,45.3 620.6,46.8 622.4,49.8 623.1,52.3 623.4,54.3 622.9,54.5 622.1,53.8 620.6,49.0 618.6,45.5 618.1,45.0 616.1,44.3 610.6,40.3 608.6,39.3 606.9,38.8 605.9,38.8 605.6,38.5 604.6,38.5 602.4,39.5 596.6,39.5 596.4,39.8 594.9,39.8ZM574.1,32.8 572.6,33.0 570.9,34.3 568.1,36.8 567.6,37.8 568.4,37.5 569.4,36.5 571.4,35.3ZM630.4,32.5 630.9,33.8 631.1,35.5 632.1,37.5 632.4,38.8 633.9,42.0 634.1,43.3 634.6,44.0 635.6,47.0 636.4,48.5 637.1,48.8 637.1,47.3 636.9,47.0 636.6,44.5 634.6,38.3 631.9,33.5 630.9,32.5ZM606.1,32.5 602.1,32.5 601.9,32.8 599.6,33.0 599.4,33.3 592.6,33.8 588.1,35.0 585.4,36.5 584.6,37.8 583.1,39.3 581.1,40.5 577.4,43.8 575.6,46.3 575.4,48.5 575.6,48.0 577.9,46.0 580.9,44.3 583.1,43.8 584.6,42.8 589.9,41.0 590.4,41.3 590.4,42.0 589.1,43.3 586.4,44.5 583.6,46.3 581.6,48.3 580.6,50.8 580.4,52.5 579.4,55.3 579.4,56.0 578.6,58.3 578.6,59.5 578.4,59.8 578.4,61.5 578.1,61.8 577.1,59.3 577.1,55.5 578.1,52.3 581.4,45.5 578.1,47.8 575.9,50.0 574.4,52.0 573.6,53.5 573.6,54.3 573.1,55.3 573.1,56.3 572.6,57.5 572.1,63.0 572.4,63.3 572.4,65.0 573.1,67.5 573.6,67.8 573.6,67.3 574.1,66.8 575.6,69.8 575.6,70.3 577.9,74.8 579.4,77.0 583.1,80.5 586.1,81.8 588.6,83.5 592.4,85.5 596.9,87.0 598.6,87.0 599.6,86.3 602.1,86.3 602.4,86.5 608.1,86.5 608.4,86.3 609.9,86.3 613.6,85.0 615.4,84.0 616.6,82.8 616.6,81.8 618.6,79.8 621.1,78.0 624.4,74.8 625.4,73.3 625.9,72.0 625.9,70.8 625.6,70.5 624.4,71.5 623.4,71.8 623.1,71.3 627.4,66.8 628.9,63.5 629.9,60.0 630.1,56.5 629.9,56.3 629.9,54.3 628.9,51.3 627.6,50.3 625.6,45.5 625.6,45.0 623.6,41.5 621.9,40.0 620.9,40.0 619.9,39.5 619.6,39.8 618.4,39.5 615.6,37.0 613.1,35.3 608.9,33.3 607.4,32.8 606.4,32.8ZM635.4,29.5 635.1,29.8 637.6,33.5 641.1,40.0 641.6,39.8 641.4,37.8 639.9,34.5 639.9,34.0 638.1,31.5 636.9,30.3ZM622.4,29.5 626.4,37.0 627.6,40.5 627.9,42.0 628.9,43.8 628.9,44.3 630.6,47.8 630.6,48.3 631.1,49.3 631.4,49.3 631.4,48.5 631.1,48.3 631.1,45.8 630.6,44.5 630.6,43.5 629.6,40.8 627.4,36.8 627.1,34.8 624.9,31.8ZM584.4,29.0 582.9,29.8 581.6,31.0 584.1,29.8ZM594.6,23.3 592.1,23.3 591.9,23.5 591.1,23.5 589.9,24.0 589.1,25.0 591.4,24.8 594.6,23.5ZM573.1,22.5 573.6,22.8 574.1,22.5 574.4,22.8 578.9,21.3 580.6,21.0 581.6,20.5 582.6,20.5 584.9,19.8 588.6,19.3 588.9,19.0 592.6,18.8 592.9,18.5 599.4,18.3 598.1,17.8 597.1,17.8 595.6,17.3 593.4,17.3 593.1,17.0 585.1,17.0 584.9,17.3 583.4,17.3 583.1,17.5 580.9,17.8 578.4,18.5 575.4,20.0 573.1,22.0Z" fill="#d3e6f0" fill-rule="evenodd"/>
<path d="M625.1,99.3 620.6,100.8 621.9,100.8ZM583.1,75.0 585.4,78.8 588.9,82.8 591.4,84.5 594.1,85.5 595.1,85.5 592.4,83.3 589.6,79.8ZM624.4,72.8 621.4,74.3 619.4,74.5 618.1,75.0 616.1,76.8 607.1,81.8 604.6,82.0 604.4,82.3 598.6,82.0 598.4,82.3 597.6,82.3 597.6,82.5 600.9,84.8 603.6,86.0 608.6,86.0 608.9,85.8 610.1,85.8 611.1,85.3 611.9,85.3 613.9,84.3 614.6,83.3 614.6,82.3 613.6,82.3 613.4,81.8 614.4,81.0 614.9,81.0 618.4,79.5 621.1,77.5 623.4,75.3 624.4,73.5ZM604.6,52.3 601.6,52.0 601.4,52.3 600.1,52.3 599.9,52.5 598.1,52.8 595.1,54.3 593.9,55.5 593.1,56.8 592.6,58.5 592.6,60.5 592.9,60.8 592.9,61.8 593.4,63.3 594.6,65.3 595.6,66.3 598.1,67.8 599.9,68.3 602.9,68.3 603.1,68.0 603.9,68.0 605.9,67.0 607.1,66.0 609.4,62.8 609.9,61.0 609.9,58.8 609.4,57.0 608.1,54.8 606.6,53.3ZM603.4,50.8 603.6,51.0 604.6,51.0 606.1,51.5 607.6,52.5 609.6,54.8 610.4,56.3 611.1,58.8 610.9,62.0 609.6,64.8 608.9,65.8 606.4,68.0 604.4,69.0 602.6,69.3 602.4,69.5 600.4,69.5 600.1,69.3 598.1,69.0 595.6,67.8 593.1,65.3 592.4,64.0 591.4,60.8 591.4,58.0 591.6,57.8 591.6,57.0 592.6,55.0 594.1,53.5 595.6,52.5 600.1,51.0ZM579.6,47.8 576.4,51.0 574.9,53.3 573.4,56.5 573.1,58.8 572.9,59.0 572.9,61.3 573.1,61.5 573.1,62.8 574.6,66.0 575.9,70.3 577.6,74.0 579.6,77.0 581.6,79.0 582.4,79.5 582.9,79.5 581.9,77.0 581.9,75.8 581.6,75.5 581.6,74.3 582.1,73.8 581.1,72.5 580.9,71.5 580.1,70.3 579.1,67.3 578.9,65.5 578.4,64.5 578.4,63.8 576.6,59.5 576.6,56.5 576.9,56.3 577.1,54.3ZM607.6,46.3 605.4,46.0 605.1,45.8 601.6,45.5 601.4,45.8 599.6,45.8 599.4,46.0 597.6,46.3 593.1,47.8 589.6,49.8 588.4,51.0 586.6,54.0 585.9,56.3 585.6,59.8 585.9,60.0 586.1,62.3 587.1,64.5 587.4,65.8 588.9,68.5 590.6,70.5 595.4,73.5 598.9,74.5 602.6,74.5 602.9,74.3 605.4,74.0 606.9,73.3 607.4,73.3 609.4,72.0 613.1,68.5 614.6,66.5 615.4,65.0 616.4,61.5 616.4,57.0 615.6,54.5 613.1,50.3 610.6,47.8ZM605.6,44.5 608.1,45.3 611.4,47.3 614.1,50.0 615.4,52.0 615.4,52.5 616.6,55.3 616.9,57.3 617.1,57.5 617.1,59.0 617.4,59.3 617.4,61.0 617.1,61.3 617.1,62.5 616.6,64.3 613.6,69.5 611.4,71.8 606.4,74.5 603.9,75.3 599.4,75.3 599.1,75.0 598.1,75.0 593.9,73.8 591.1,72.0 588.6,69.5 585.9,65.5 585.4,63.0 585.1,62.8 585.1,61.3 584.9,61.0 584.9,56.3 585.1,56.0 585.4,54.3 586.6,52.0 588.4,50.0 591.4,47.8 593.9,46.5 598.1,45.3 600.4,45.0 600.6,44.8ZM634.1,40.0 634.6,42.3 635.6,44.3 634.9,41.3ZM608.6,39.8 605.4,39.5 604.1,40.0 597.1,40.0 596.9,40.3 594.6,40.3 592.9,40.8 591.1,42.8 585.4,45.5 583.1,47.3 581.9,49.0 579.9,55.0 579.9,55.8 579.1,58.0 579.1,59.5 578.9,59.8 578.9,62.8 579.6,64.8 580.9,66.3 582.9,70.5 584.1,72.5 585.6,74.0 588.6,75.5 592.1,77.8 596.6,79.8 600.1,80.0 600.4,80.3 604.6,80.3 604.9,80.0 608.1,79.8 609.9,79.0 611.6,77.3 614.4,75.3 617.1,72.5 617.9,71.3 618.4,69.5 620.4,66.8 621.9,63.8 622.6,61.5 622.9,58.3 621.9,55.8 621.1,51.8 619.6,48.0 617.6,45.8 615.4,44.5 612.4,41.8 610.9,40.8ZM579.1,43.3 580.1,43.3 581.1,42.8 582.1,42.8 583.6,42.3 585.4,42.3 587.6,41.3 588.4,41.3 589.4,40.8 590.1,40.8 592.4,40.0 595.6,38.3 596.4,38.3 597.6,37.8 599.4,37.8 599.6,37.5 606.9,37.5 607.1,37.3 609.6,37.5 609.1,36.8 609.6,36.5 611.1,37.3 612.9,38.8 614.6,39.8 619.4,44.5 621.9,47.8 622.9,50.0 622.9,50.8 623.6,52.8 624.1,57.3 624.9,59.0 625.1,61.3 624.9,61.5 624.9,63.0 624.1,65.5 621.6,70.8 624.1,68.8 626.9,66.0 628.1,64.3 629.4,60.3 629.6,55.8 628.9,53.8 627.9,53.3 627.1,54.8 626.9,54.5 626.9,53.5 626.6,53.3 626.6,49.8 625.6,46.3 624.9,45.0 624.6,44.0 623.9,42.8 622.6,41.5 621.1,40.8 621.1,42.5 621.4,43.0 621.1,43.8 620.6,44.0 617.1,39.8 613.4,36.0 610.6,34.3 607.6,33.3 604.4,33.0 604.1,33.3 601.1,33.5 600.9,33.8 597.1,33.8 596.9,34.0 593.9,34.0 593.6,34.3 590.9,34.5 587.6,35.8 585.4,38.3 585.1,39.0 580.6,41.8ZM584.6,18.5 582.1,18.5 581.9,18.8 580.1,19.0 577.9,19.8 576.9,20.5 580.9,19.8Z" fill="#c1ddec" fill-rule="evenodd"/>
<path d="M599.1,82.5 599.4,83.0 602.6,84.8 605.9,85.8 609.9,85.3 611.4,84.8 612.1,84.3 612.6,83.5 609.6,83.3 607.9,82.8 607.1,82.3ZM585.6,77.3 586.1,78.0 588.1,79.8 588.1,79.3ZM622.6,75.0 617.1,76.3 609.6,81.0 613.9,80.3 618.6,78.5 621.1,77.0ZM576.9,61.5 576.1,65.0 575.9,65.3 575.9,69.0 576.6,71.5 577.9,74.0 579.4,76.3 580.9,77.8 580.6,74.8 580.4,74.5 580.4,71.3 578.9,67.3 578.9,66.5 577.9,63.5ZM628.4,56.0 628.4,56.8 627.1,60.5 624.6,66.3 625.4,66.0 627.4,64.0 628.4,62.5 628.6,60.8 628.9,60.5 628.9,59.0 629.1,58.8 628.9,56.8ZM604.4,52.3 602.1,52.0 601.9,52.3 600.4,52.3 600.1,52.5 597.6,53.0 594.9,54.5 594.1,55.3 592.9,57.5 592.6,60.0 592.9,60.3 593.1,62.5 594.1,64.5 595.1,65.8 597.6,67.5 600.1,68.3 602.6,68.3 604.4,67.8 606.1,66.8 608.4,64.5 609.1,63.3 609.9,60.8 609.9,59.3 609.6,59.0 609.6,58.0 609.1,56.5 607.9,54.5 606.9,53.5ZM601.1,50.8 605.1,51.0 607.1,52.0 609.4,54.3 610.4,56.0 611.1,58.5 611.1,61.5 610.6,63.0 609.4,65.3 606.1,68.3 602.9,69.5 599.9,69.5 599.6,69.3 598.6,69.3 595.9,68.0 594.9,67.3 592.9,65.0 591.9,63.0 591.4,61.3 591.4,57.8 592.4,55.3 594.6,53.0 597.1,51.8 599.6,51.3 599.9,51.0 600.9,51.0ZM578.4,50.3 576.9,52.0 575.6,54.5 575.4,55.8 576.1,54.5 577.1,53.5ZM608.9,47.0 607.1,46.5 606.1,46.5 605.9,46.3 604.9,46.3 604.6,46.0 603.1,46.0 602.9,45.8 599.6,46.0 593.1,48.0 590.6,49.3 587.9,52.3 586.1,56.5 586.1,57.8 585.9,58.0 586.1,61.0 587.9,66.3 589.1,68.5 591.4,70.8 594.4,72.8 596.6,73.8 598.4,74.0 598.6,74.3 602.4,74.3 602.6,74.0 605.4,73.8 606.9,73.0 607.4,73.0 608.9,72.0 611.4,69.8 614.4,66.5 615.1,65.0 615.9,62.5 615.9,61.5 616.1,61.3 616.1,56.8 615.9,56.5 615.9,55.8 614.9,53.5 612.4,49.8 610.9,48.3ZM622.6,42.5 622.6,44.3 622.9,44.5 622.9,49.5 623.6,51.3 624.6,56.5 624.9,57.0 625.1,57.0 625.4,53.8 625.6,53.5 625.4,47.8 625.1,47.5 624.9,45.8 624.1,44.3ZM608.9,40.3 606.9,40.0 605.1,40.5 605.9,41.5 605.4,42.3 604.4,42.3 601.4,40.5 596.4,40.5 593.9,41.3 592.4,42.5 591.4,43.8 590.1,44.3 589.1,44.3 586.1,45.5 584.6,46.5 583.1,48.0 582.1,49.8 581.6,51.8 581.1,52.5 580.1,55.5 580.1,56.3 579.6,57.5 579.6,58.8 579.4,59.0 579.6,62.8 584.1,71.5 585.9,73.3 588.4,75.0 589.4,75.3 592.6,77.5 596.1,79.0 596.9,79.0 598.1,79.5 599.4,79.5 599.6,79.8 605.9,79.8 608.4,79.0 614.1,75.0 616.1,73.0 616.6,71.8 615.9,72.0 613.4,72.0 612.4,71.3 610.4,72.8 606.4,74.8 604.1,75.5 599.9,75.5 599.6,75.3 597.1,75.0 593.6,74.0 591.6,72.8 587.6,68.8 586.1,66.8 585.1,64.3 584.9,61.5 584.6,61.3 584.6,55.8 585.1,54.0 586.6,51.5 588.9,49.3 591.4,47.5 595.1,45.8 595.9,45.8 598.1,45.0 599.1,45.0 600.4,44.5 604.6,44.0 604.9,44.3 607.1,44.5 610.1,46.0 612.1,47.5 613.9,49.3 615.1,51.0 616.6,54.5 616.6,55.3 617.4,57.5 617.4,59.0 617.6,59.3 617.6,61.8 616.9,64.3 615.1,67.8 613.4,70.3 617.6,68.3 619.9,66.8 621.4,64.0 621.9,62.5 622.1,59.8 621.4,57.3 621.1,53.3 620.9,53.0 620.4,50.5 619.4,48.5 617.9,46.8 616.4,46.0 612.1,42.0ZM594.1,38.5 590.9,38.5 590.6,38.8 588.6,39.0 586.1,40.0 585.4,40.5 585.4,41.0 587.1,41.3 588.9,40.5 590.4,40.3ZM588.4,36.8 589.4,36.8 589.6,37.0 592.9,37.0 593.1,37.3 597.9,37.3 598.1,37.5 598.6,37.3 606.6,37.0 603.1,35.5 602.4,35.5 600.1,34.8 599.1,34.8 598.9,34.5 597.6,34.5 597.4,34.3 593.6,34.5 593.4,34.8 591.1,35.0 589.4,35.8Z" fill="#aed3e6" fill-rule="evenodd"/>
<path d="M601.4,82.8 601.9,83.3 604.6,84.5 605.4,84.5 605.6,84.8 609.1,84.8 609.1,84.5 605.4,83.5 604.4,83.0ZM617.1,77.8 616.9,77.5 615.1,77.8 612.4,79.8 616.1,78.5ZM615.1,73.3 612.6,73.3 612.4,73.0 610.6,72.8 605.9,75.3 604.1,75.8 600.1,75.8 599.9,75.5 598.6,75.5 598.4,75.3 597.4,75.3 597.1,75.0 596.1,75.0 594.4,74.5 595.4,75.8 599.1,79.3 600.1,79.3 600.4,79.5 604.9,79.5 605.1,79.3 606.9,79.0 610.6,77.0 613.9,74.8ZM587.4,68.8 587.6,70.8 588.4,72.3 589.6,73.5 590.6,73.8 591.4,72.8 590.9,72.5ZM577.1,63.5 577.1,64.5 576.9,64.8 576.9,69.8 577.9,73.0 578.6,74.3 579.1,74.5 579.4,74.0 579.4,71.0 579.6,70.8 579.6,70.0 578.9,68.3 578.9,67.5 577.4,63.5ZM621.4,61.5 619.1,63.5 617.9,63.5 617.4,63.3 616.9,65.0 615.1,68.0 615.6,68.0 618.1,66.8 620.9,64.3 621.4,62.5ZM604.1,52.3 600.6,52.3 597.1,53.3 595.4,54.3 593.6,56.0 592.9,57.8 592.9,61.3 593.4,63.0 594.4,64.8 596.1,66.5 598.4,67.8 600.4,68.0 600.6,68.3 602.1,68.3 602.4,68.0 604.1,67.8 606.4,66.5 608.1,64.8 609.6,61.8 609.6,58.3 608.4,55.3 606.4,53.3ZM600.6,50.8 604.4,50.8 606.9,51.8 607.9,52.5 609.6,54.5 611.1,58.0 611.1,61.8 609.6,65.0 608.6,66.3 606.6,68.0 604.9,69.0 603.1,69.5 599.4,69.5 597.1,68.8 595.4,67.8 592.6,64.8 591.6,62.5 591.4,60.3 591.1,60.0 591.1,58.8 591.4,58.5 591.6,56.5 592.6,54.8 593.9,53.5 596.4,52.0ZM609.1,47.5 607.4,47.3 606.1,46.8 605.1,46.8 604.9,46.5 603.9,46.5 603.6,46.3 602.6,46.3 602.4,46.0 599.4,46.3 591.9,48.8 590.4,49.8 588.9,51.3 586.9,55.3 586.4,56.8 586.4,57.8 586.1,58.0 586.1,59.3 586.4,59.5 586.6,61.3 587.1,62.0 588.1,65.0 588.6,67.3 589.4,68.5 591.1,70.3 595.9,73.3 598.4,74.0 601.6,74.0 601.9,73.8 605.1,73.5 607.6,72.5 608.4,72.0 609.6,70.5 613.4,67.5 614.1,66.5 615.4,63.5 615.4,62.5 615.9,61.3 615.9,59.8 616.1,59.5 615.9,56.5 615.1,55.0 615.1,54.5 612.6,51.0 612.4,50.3 611.4,49.0ZM600.1,41.3 599.6,41.0 596.4,41.0 596.1,41.3 595.4,41.3 594.1,42.0 594.1,42.3 595.4,42.8 595.9,43.5 595.6,44.0 594.6,44.8 592.6,45.5 588.1,45.5 587.9,45.8 586.6,45.8 585.4,46.5 583.4,48.5 582.9,49.5 583.6,50.0 583.4,51.5 582.1,54.0 580.6,55.8 580.1,57.3 580.1,58.3 579.9,58.5 579.9,61.3 580.1,61.5 580.1,62.3 581.9,66.3 583.1,66.8 584.6,63.5 584.6,61.5 584.4,61.3 584.4,55.5 584.6,55.3 584.6,54.5 586.1,51.8 589.1,48.8 591.6,47.0 593.6,46.0 596.9,45.0 601.4,44.3 601.6,44.0 601.4,43.8 601.4,43.0ZM607.4,40.8 608.9,43.0 608.9,44.5 608.6,45.0 611.6,46.8 615.1,50.5 616.1,52.5 617.1,55.5 617.1,56.3 617.6,57.5 617.6,58.8 617.9,59.0 617.9,61.0 619.4,58.5 620.9,55.0 620.6,52.5 619.4,49.3 618.9,48.5 617.4,47.3 617.4,48.0 616.9,49.0 615.9,49.5 614.9,48.5 614.4,47.5 613.9,45.5 612.9,43.3 611.9,42.3 609.6,41.0ZM592.1,35.5 595.6,35.5 594.9,35.3 592.9,35.3Z" fill="#9bcae1" fill-rule="evenodd"/>
<path d="M596.4,75.3 598.6,77.5 600.9,78.8 602.6,79.3 605.6,78.8 605.1,78.8 603.1,77.8 601.1,76.0ZM607.6,74.5 608.9,75.3 610.4,75.3 611.1,74.8 611.1,74.5 610.6,74.3 609.6,74.3 609.4,74.0 608.6,74.0ZM577.9,65.5 577.6,66.0 577.6,67.3 577.9,67.5 577.9,68.8 578.1,69.3 578.4,69.3 578.6,67.8ZM580.4,59.0 580.6,62.0 580.6,59.3ZM603.9,52.3 600.9,52.3 600.6,52.5 599.6,52.5 597.9,53.0 595.4,54.3 593.9,55.8 592.9,58.0 592.9,61.0 593.4,62.8 594.6,65.0 595.9,66.3 597.9,67.5 599.4,68.0 601.1,68.0 601.4,68.3 601.6,68.0 604.1,67.8 606.6,66.3 607.9,65.0 609.1,63.0 609.6,61.5 609.6,58.5 609.1,56.8 608.1,55.0 606.4,53.3ZM604.6,50.8 607.4,52.0 609.9,54.8 611.1,57.8 611.1,58.8 611.4,59.0 611.4,60.8 611.1,61.0 610.9,62.8 609.4,65.5 606.4,68.3 604.4,69.3 602.4,69.5 602.1,69.8 600.6,69.8 600.4,69.5 598.1,69.3 595.6,68.0 594.4,67.0 592.1,64.0 591.1,60.8 591.1,58.0 591.6,56.3 592.4,55.0 594.4,53.0 596.1,52.0 600.4,50.8 601.9,50.8 602.1,50.5ZM618.6,49.0 618.4,49.0 618.4,49.8 617.6,51.5 616.4,52.8 617.4,55.5 617.9,58.3 618.9,57.0 620.1,54.0 620.1,52.0ZM590.1,47.8 588.6,48.0 587.6,48.5 586.6,49.5 586.4,50.8 586.6,51.0 587.9,49.5ZM606.1,46.8 605.1,46.8 604.9,46.5 599.6,46.5 595.6,48.0 592.4,48.8 589.9,50.5 588.1,53.3 587.1,55.5 587.1,56.3 586.6,57.5 586.9,61.3 587.9,64.8 588.9,66.5 589.1,67.5 591.4,70.0 596.4,73.3 598.1,73.8 600.6,73.8 600.9,73.5 603.4,73.5 603.6,73.3 604.6,73.3 606.4,72.8 609.9,70.5 613.4,67.0 614.6,64.8 614.9,63.0 615.6,60.8 615.6,59.5 615.9,59.3 615.9,57.8 615.6,57.5 615.4,55.8 612.6,51.3 610.1,48.5Z" fill="#86beda" fill-rule="evenodd"/>
<path d="M601.1,52.3 600.9,52.5 599.9,52.5 597.4,53.3 595.1,54.5 594.1,55.5 593.1,57.3 593.1,58.0 592.9,58.3 592.9,60.8 593.9,63.8 594.9,65.3 596.6,66.8 599.6,68.0 603.1,68.0 605.9,66.8 608.4,64.3 609.6,61.3 609.6,58.8 608.4,55.5 606.6,53.5 605.4,52.8 603.6,52.3ZM601.4,50.5 603.9,50.5 604.1,50.8 604.9,50.8 607.1,51.8 608.1,52.5 610.1,55.0 611.4,58.5 611.4,61.3 611.1,61.5 611.1,62.3 609.6,65.3 606.1,68.5 604.6,69.3 602.9,69.5 602.6,69.8 598.9,69.5 597.4,69.0 595.1,67.8 592.6,65.0 591.6,63.0 591.1,61.3 591.1,57.8 591.4,57.5 591.4,56.8 592.6,54.5 594.6,52.8 596.6,51.8 599.9,50.8 601.1,50.8ZM606.1,46.8 605.1,46.8 604.9,46.5 601.4,46.5 601.1,46.8 599.9,46.8 599.6,47.0 597.6,47.3 596.6,47.8 595.9,47.8 593.9,48.8 592.6,49.0 590.9,50.0 588.6,52.5 587.1,55.5 587.1,56.5 586.9,56.8 586.9,61.3 587.9,64.8 588.9,66.8 590.1,68.5 591.9,70.3 593.6,71.5 596.6,73.0 598.4,73.5 603.4,73.5 603.6,73.3 604.6,73.3 606.1,72.8 609.9,70.5 612.4,68.0 614.6,64.3 615.1,62.8 615.1,61.8 615.4,61.5 615.4,56.8 614.4,54.8 614.4,54.3 612.6,51.3 610.9,49.3 609.1,48.0Z" fill="#6eaed2" fill-rule="evenodd"/>
<path d="M604.4,52.5 601.6,52.3 601.4,52.5 599.1,52.8 596.4,53.8 594.6,55.0 593.1,57.5 592.9,60.5 593.1,60.8 593.4,62.5 594.4,64.5 596.4,66.5 598.1,67.5 599.9,68.0 602.9,68.0 604.4,67.5 606.1,66.5 608.1,64.5 609.1,62.8 609.6,61.0 609.6,59.0 608.9,56.5 607.1,54.0 606.1,53.3ZM600.9,50.5 604.4,50.5 604.6,50.8 605.4,50.8 607.6,52.0 609.9,54.5 611.4,58.0 611.4,61.8 609.9,65.0 609.1,66.0 606.6,68.3 605.4,69.0 603.1,69.8 599.6,69.8 597.1,69.0 595.4,68.0 592.4,64.8 591.4,62.5 591.1,60.0 590.9,59.8 591.4,56.5 592.1,55.0 594.1,53.0 596.4,51.8ZM605.6,46.8 603.9,46.8 603.6,46.5 600.4,46.8 600.1,47.0 597.1,47.5 593.6,48.8 590.4,50.8 588.6,52.8 587.6,54.5 587.1,56.0 587.1,57.0 586.9,57.3 586.9,60.5 587.1,60.8 587.1,62.0 587.9,64.5 589.9,68.0 592.4,70.5 595.9,72.5 598.4,73.3 599.6,73.3 599.9,73.5 602.6,73.5 602.9,73.3 604.1,73.3 605.9,72.8 608.4,71.5 610.6,69.8 613.4,66.5 614.6,64.0 615.1,62.3 615.1,61.3 615.4,61.0 615.4,58.5 615.1,58.3 614.9,56.0 613.4,52.5 612.1,50.8 609.4,48.3 607.4,47.3Z" fill="#57a0ca" fill-rule="evenodd"/>
<path d="M604.4,52.5 602.9,52.5 602.4,52.3 602.1,52.5 600.4,52.5 600.1,52.8 597.6,53.3 595.4,54.5 593.9,56.0 593.4,57.0 592.9,59.8 593.1,60.0 593.1,61.5 593.6,63.0 594.6,64.8 596.1,66.3 598.4,67.5 600.1,68.0 602.6,68.0 604.9,67.3 606.4,66.3 607.9,64.8 609.1,62.5 609.4,60.8 609.6,60.5 609.6,59.3 609.4,59.0 609.1,57.3 607.9,55.0 606.4,53.5ZM604.6,50.5 607.4,51.8 610.1,54.8 611.4,57.8 611.4,59.0 611.6,59.3 611.4,62.0 609.6,65.5 606.4,68.5 603.4,69.8 601.9,69.8 601.6,70.0 599.1,69.8 595.6,68.3 593.1,66.0 592.1,64.5 591.4,62.8 591.1,60.8 590.9,60.5 590.9,58.0 591.1,57.8 591.1,57.0 591.9,55.3 592.6,54.3 595.6,52.0 600.4,50.5ZM605.4,47.0 600.6,47.0 600.4,47.3 598.1,47.5 594.4,48.8 590.9,50.8 589.4,52.3 587.9,54.8 587.4,56.3 587.1,60.0 587.4,60.3 587.4,61.8 588.1,64.3 589.4,66.8 590.6,68.5 592.9,70.5 596.1,72.3 598.6,73.0 600.1,73.0 600.4,73.3 602.4,73.3 602.6,73.0 603.9,73.0 606.4,72.3 609.6,70.3 612.1,67.8 614.1,64.5 614.9,62.0 614.9,60.5 615.1,60.3 614.9,57.3 614.1,54.8 612.1,51.3 609.9,49.0 607.1,47.5Z" fill="#4191c2" fill-rule="evenodd"/>
<path d="M604.1,52.5 600.6,52.5 596.6,53.8 595.4,54.5 594.1,55.8 593.1,58.0 593.1,61.3 593.4,61.5 593.4,62.3 594.9,65.0 595.9,66.0 597.9,67.3 599.4,67.8 600.4,67.8 600.6,68.0 602.1,68.0 602.4,67.8 604.1,67.5 606.6,66.0 608.1,64.3 609.4,61.8 609.4,58.3 608.4,55.8 606.6,53.8Z" fill="#3783bb" fill-rule="evenodd"/>
<path d="M603.9,52.5 600.9,52.5 597.4,53.5 594.9,55.0 593.4,57.3 593.4,58.0 593.1,58.3 593.1,61.0 594.1,63.8 595.4,65.5 596.6,66.5 599.4,67.8 601.6,68.0 605.1,67.0 608.1,64.3 609.4,61.5 609.4,58.5 608.1,55.5 607.4,54.5 605.9,53.3Z" fill="#2d76b4" fill-rule="evenodd"/>
<path d="M604.4,53.0 601.9,52.8 601.6,53.0 600.1,53.0 597.6,53.8 595.9,54.8 594.4,56.3 593.6,57.8 593.4,59.8 593.6,60.0 593.6,61.5 594.4,63.5 596.9,66.3 599.9,67.5 602.9,67.5 604.4,67.0 605.6,66.3 607.9,64.0 608.9,62.0 609.1,59.3 608.9,59.0 608.6,57.3 607.6,55.5 605.9,53.8Z" fill="#2368ad" fill-rule="evenodd"/>
<path d="M604.6,54.5 602.9,54.3 602.6,54.0 600.4,54.3 598.6,54.8 596.6,55.8 595.6,56.8 594.9,58.5 594.9,61.0 595.9,63.5 597.6,65.3 599.9,66.3 602.9,66.3 604.6,65.5 605.6,64.8 606.9,63.3 607.9,60.8 607.6,58.3 606.6,56.3Z" fill="#1a5899" fill-rule="evenodd"/>
<path d="M598.1,57.0 597.1,58.0 596.6,60.0 597.4,62.5 598.9,64.0 600.1,64.5 602.9,64.5 604.1,63.8 605.1,62.8 605.9,61.5 605.9,58.8 605.4,57.8 603.9,56.3 603.4,56.0 600.6,56.0Z" fill="#124883" fill-rule="evenodd"/>
<path d="M602.1,58.8 601.1,58.8 599.9,59.5 599.9,61.0 600.6,61.8 601.4,62.0 602.9,61.3 603.1,59.8 602.6,59.0Z" fill="#09386c" fill-rule="evenodd"/>
<path d="M630.4,98.0 629.1,98.8 625.9,101.5 622.1,103.8 626.1,103.8 629.4,101.0 630.4,98.8ZM567.9,96.8 568.1,96.5 568.4,96.8 568.1,97.0ZM567.6,96.5 567.9,96.3 568.1,96.5 567.9,96.8ZM623.6,80.8 622.4,82.5 622.4,83.3 621.9,84.3 620.6,85.5 619.4,88.3 616.4,91.0 614.1,91.3 613.9,91.5 612.4,91.5 612.1,91.8 610.1,91.8 609.9,92.0 602.6,92.0 602.4,91.8 599.9,91.5 597.4,90.5 597.6,90.3 599.9,90.3 601.6,89.5 602.9,89.5 603.1,89.3 608.1,89.0 608.4,88.8 609.4,88.8 609.6,88.5 612.1,88.0 614.4,87.0 615.9,86.0 617.4,84.3 620.1,82.3 623.1,80.5ZM589.6,78.5 592.1,80.0 593.4,80.3 590.9,78.8ZM643.6,61.3 644.1,61.8 645.4,64.5 645.1,68.0 644.1,71.5 640.6,77.3 637.4,81.5 635.9,85.3 634.1,87.5 631.9,89.8 629.6,91.5 626.4,93.5 622.9,95.0 620.6,95.5 619.6,96.0 617.6,96.3 617.4,96.5 616.1,96.5 615.9,96.8 613.4,97.0 613.1,97.3 611.6,97.3 611.4,97.5 608.1,97.8 607.9,97.5 615.9,93.8 617.9,92.3 621.4,90.8 623.1,89.5 622.9,89.3 622.6,89.5 620.6,89.8 620.4,89.3 626.4,83.0 626.9,82.3 627.1,79.8 632.4,73.3 635.6,67.5 636.1,67.8 636.4,68.5 636.1,68.8 636.1,70.3 634.4,74.5 630.9,79.5 630.9,80.3 631.1,80.3 631.9,81.3 631.4,83.0 628.6,88.0 628.6,88.5 629.6,88.0 631.4,85.8 632.9,82.5 637.6,75.0 640.6,69.0 641.1,68.5 642.4,65.8ZM633.1,58.8 633.4,59.0 633.4,62.8 633.1,63.0 632.9,65.0 632.1,66.5 631.6,65.5 632.1,65.0 631.9,64.0 632.4,63.8 632.1,63.5 632.1,62.8 632.6,62.5 632.4,61.0 632.9,60.8 632.9,59.0ZM632.4,56.3 632.6,56.0 632.9,56.3 632.6,56.5ZM635.4,53.0 635.6,53.3 635.6,54.0 636.1,55.3 636.1,56.5 636.4,56.8 636.4,59.0 636.1,59.3 635.9,59.0 635.9,57.8 635.6,57.5 635.6,56.3 635.1,54.5 635.1,53.3ZM635.1,52.3 635.4,52.5 635.1,53.3 634.9,53.0ZM604.4,51.8 606.9,53.0 608.9,55.3 609.9,57.3 610.1,59.5 610.4,59.8 609.9,62.5 608.9,64.5 606.1,67.3 604.9,68.0 603.4,68.5 602.4,68.5 602.1,68.8 600.6,68.8 600.4,68.5 598.4,68.3 595.4,66.5 593.6,64.5 592.4,61.5 592.4,57.8 593.4,55.5 594.9,54.0 597.1,52.8 600.6,51.8ZM604.9,51.5 601.6,51.3 601.4,51.5 600.1,51.5 599.9,51.8 598.1,52.0 596.6,52.8 596.1,52.8 593.6,54.5 592.1,57.0 592.1,57.8 591.9,58.0 591.9,60.8 592.9,64.0 593.9,65.5 595.4,67.0 596.9,68.0 600.1,69.0 602.6,69.0 605.1,68.3 607.6,66.5 609.9,63.5 610.6,61.0 610.6,58.8 610.4,58.5 610.1,56.8 608.9,54.5 606.9,52.5ZM640.9,47.0 642.4,50.5 642.9,53.8 643.1,54.0 643.1,55.3 643.4,55.5 643.4,58.8 643.1,59.0 642.6,58.5 642.4,56.8 642.1,56.5 641.6,52.0 641.4,51.8 641.4,50.8 641.1,50.5 641.1,49.5 640.6,48.0 640.6,47.3ZM610.6,39.3 614.1,41.0 612.9,40.0ZM577.9,37.8 578.1,37.5 578.4,37.8 578.1,38.0ZM578.9,37.0 579.1,37.3 578.4,37.8 578.1,37.5ZM581.6,35.5 579.4,37.3 578.9,37.0 581.1,35.3ZM581.4,35.3 581.6,35.0 581.9,35.3 581.6,35.5ZM581.6,35.0 581.9,34.8 582.1,35.0 581.9,35.3ZM601.9,31.3 605.1,31.5 609.4,32.8 613.6,34.8 618.1,37.5 618.6,37.5 618.6,36.8 618.4,36.5 618.6,36.3 619.6,36.5 621.1,37.5 624.4,41.0 629.6,49.3 630.4,51.8 630.4,52.8 630.6,53.0 630.9,58.3 630.6,58.5 630.4,62.0 629.4,65.0 628.6,69.0 627.4,72.0 624.9,75.5 620.1,80.5 619.4,82.3 617.6,84.0 614.9,85.5 610.4,87.0 606.1,87.8 603.4,88.8 599.9,88.8 596.1,87.5 595.4,87.5 592.6,86.5 591.4,85.8 590.9,85.8 585.1,82.8 581.4,80.0 578.4,76.5 575.9,72.0 575.4,71.5 575.4,72.0 574.9,72.3 572.6,69.8 571.4,66.0 571.1,60.8 571.4,60.5 571.4,57.8 571.6,57.5 571.6,55.5 571.9,55.3 571.9,53.5 572.1,53.3 572.1,51.0 572.4,50.8 572.6,49.0 573.6,46.8 574.6,45.3 578.1,41.5 579.6,40.5 583.6,36.8 587.1,34.5 592.1,33.0 596.9,32.3 599.4,31.5 601.6,31.5ZM595.9,30.3 595.1,30.8 594.4,30.8 593.1,31.3 592.1,31.3 591.9,31.5 591.1,31.5 590.9,31.3 591.1,30.8 592.6,30.0 594.6,30.0 595.1,29.8ZM607.1,28.5 607.4,28.3 607.9,28.5 607.6,28.8ZM586.6,23.8 579.9,28.3 578.1,30.5 567.1,41.0 564.6,44.5 562.9,46.3 562.4,46.5 561.9,46.3 561.6,45.8 561.9,44.3 563.9,39.8 567.1,35.5 572.1,30.5 575.1,28.3 579.9,25.8 580.4,25.8 581.6,25.0 582.9,24.8 585.1,23.8 585.9,23.8 586.1,23.5ZM602.1,23.0 601.1,23.5 599.9,23.5 599.6,23.8 595.4,24.5 591.1,26.0 588.9,27.3 587.4,28.8 584.9,30.5 582.9,31.5 582.4,31.5 578.9,33.5 578.4,33.3 581.9,29.5 585.4,27.0 588.4,24.0 591.1,22.5 593.1,22.3 593.4,22.0 598.9,22.0 599.1,22.3 600.6,22.3ZM569.4,22.0 561.9,29.8 561.1,30.3 560.4,30.0 561.1,28.5 565.4,24.3 568.9,21.8ZM569.1,21.8 569.4,21.5 569.6,21.8 569.4,22.0ZM645.4,16.5 618.1,16.5 618.6,16.5 624.9,19.8 625.4,19.8 626.1,18.8 627.1,18.8 629.1,19.8 631.6,21.5 636.1,26.0 635.9,26.3 634.6,26.0 631.6,24.5 626.4,21.3 625.6,21.5 623.1,21.5 622.9,21.3 622.1,21.3 612.1,16.5 605.1,16.5 607.9,17.5 609.1,18.3 609.6,18.3 614.6,20.8 623.4,26.3 625.4,26.3 626.9,27.0 628.9,28.5 632.4,32.5 634.1,35.3 636.1,39.5 638.1,46.3 638.6,50.3 638.9,50.5 639.1,54.0 640.4,58.3 640.4,64.0 640.1,64.3 640.1,65.3 639.4,66.3 638.9,65.0 639.1,60.0 638.9,59.8 638.9,56.5 638.6,56.3 638.6,55.3 637.1,52.8 637.1,52.3 636.6,51.5 634.6,46.0 633.9,44.8 633.9,44.3 631.1,39.5 629.9,38.5 629.9,39.0 632.4,44.5 632.1,44.8 632.1,46.8 632.4,47.0 632.4,49.0 632.6,49.3 632.6,51.0 632.9,51.3 632.9,54.5 632.4,55.0 632.1,54.8 632.4,54.0 631.9,53.8 631.6,52.8 630.1,50.0 627.6,43.3 624.6,38.3 622.1,35.8 617.6,33.0 613.9,31.0 613.4,31.0 612.1,30.3 610.1,29.8 607.9,28.8 608.6,28.5 608.9,28.0 611.9,28.0 612.1,28.3 613.1,28.3 614.9,28.8 617.6,30.0 618.4,29.8 618.1,28.5 616.6,27.0 614.4,25.5 610.9,23.8 607.1,22.5 605.4,22.3 602.4,21.0 601.6,21.0 600.4,20.5 599.1,20.5 598.9,20.3 593.4,20.0 593.1,20.3 589.4,20.5 589.1,20.8 588.1,20.8 584.6,21.8 579.9,24.0 578.1,24.5 571.4,28.0 566.4,31.5 562.1,36.0 557.1,43.8 557.1,77.5 557.6,78.3 557.9,79.5 558.4,80.3 559.9,84.5 561.9,88.5 565.1,93.3 567.9,96.3 567.6,96.5 567.1,96.3 565.6,96.3 563.4,95.0 561.6,93.5 559.6,91.3 557.1,87.0 557.1,103.8 578.1,103.8 572.1,100.0 569.1,97.5 569.4,97.3 570.1,97.3 571.4,97.8 575.4,100.3 582.1,103.8 613.6,103.8 610.4,103.5 610.1,103.3 608.6,103.3 608.4,103.0 606.9,103.0 606.6,102.8 605.1,102.8 603.6,102.3 602.4,102.3 602.1,102.0 598.6,101.5 591.4,99.3 587.4,97.3 582.1,93.8 572.4,84.8 572.1,84.8 572.1,85.3 573.6,88.3 577.4,93.8 581.4,97.8 586.1,100.8 586.6,100.8 588.4,101.8 592.1,103.0 592.4,103.3 592.1,103.5 589.9,103.3 584.9,101.8 580.1,99.5 576.9,97.5 574.4,96.8 571.9,95.5 569.9,94.0 565.9,90.0 564.4,88.0 561.9,83.5 561.9,83.0 560.4,79.8 559.9,77.5 559.4,76.5 559.4,75.8 558.9,74.8 558.4,71.8 557.9,70.5 557.9,69.5 557.6,69.3 557.6,66.0 557.9,65.8 557.9,64.0 558.1,63.8 558.1,62.5 558.6,61.0 559.9,62.0 560.9,64.8 560.9,68.0 560.6,68.3 560.6,74.8 560.9,75.0 560.9,77.3 561.1,77.5 561.4,79.8 562.4,82.8 563.4,84.8 566.6,89.0 570.9,92.8 575.6,95.8 576.9,95.8 576.9,95.3 574.6,93.0 572.1,91.0 566.1,84.8 564.1,81.5 563.1,78.5 562.9,75.5 562.6,75.3 562.6,74.3 562.9,74.0 563.1,74.3 563.1,75.0 564.4,78.8 565.9,82.0 568.4,85.8 569.9,87.3 570.6,87.8 571.1,87.8 570.6,86.5 568.6,83.5 566.6,79.3 564.4,71.3 564.1,68.8 563.9,68.5 563.6,66.0 563.4,65.8 563.6,61.8 564.1,60.0 564.1,55.3 563.9,54.8 563.4,55.0 562.6,56.8 562.1,59.0 561.9,59.3 561.4,58.5 561.4,54.0 561.6,53.8 562.1,50.8 563.1,48.5 564.4,47.5 565.1,48.0 564.9,57.5 565.4,58.5 566.9,60.3 567.1,59.8 567.1,56.0 567.4,55.8 567.4,54.5 568.9,51.3 569.9,50.0 570.1,50.3 569.6,56.3 569.4,56.5 569.4,62.0 569.6,62.3 569.6,63.5 570.1,65.3 572.1,69.0 573.6,73.5 576.9,79.3 580.9,83.5 582.4,84.5 589.6,88.3 590.1,88.3 592.9,89.5 595.1,90.0 596.6,91.3 596.1,92.0 594.4,92.0 594.1,91.8 593.1,91.8 590.6,91.0 586.1,88.8 582.1,85.8 581.6,85.8 581.4,86.5 578.9,86.3 579.1,86.8 582.4,89.8 589.1,94.0 589.6,94.0 591.4,95.0 594.9,96.0 595.6,96.0 595.6,95.0 596.4,94.5 607.4,94.3 607.6,94.0 611.1,93.8 611.4,94.0 608.9,96.0 606.4,97.3 604.1,98.0 600.9,98.3 600.1,98.8 600.1,99.0 600.6,99.3 601.6,99.3 601.9,99.5 609.4,99.5 609.6,99.3 612.1,99.3 612.4,99.0 617.4,98.5 617.6,98.3 618.6,98.3 618.9,98.0 621.6,97.5 625.4,96.3 629.4,94.3 632.6,92.0 636.4,88.3 638.6,85.5 643.9,77.8 644.1,78.3 643.1,81.8 640.9,86.3 640.4,90.0 638.1,92.8 632.9,97.8 632.9,98.3 633.4,98.0 634.4,98.0 636.1,97.5 636.6,98.5 636.6,99.5 635.4,101.5 632.9,103.8 645.4,103.8 645.4,95.5 642.9,98.0 641.9,98.5 641.4,98.3 641.4,97.5 642.1,96.3 645.4,92.8 645.4,52.3 644.6,50.0 643.6,48.8 643.6,48.3 642.6,46.5 640.9,41.8 637.9,35.8 634.1,30.3 631.4,27.3 631.6,27.0 633.6,27.3 637.4,29.5 640.1,32.3 641.9,35.0 643.4,38.3 644.1,38.8 644.6,37.5 645.4,38.5 645.4,34.8 642.4,31.3 639.1,25.0 636.1,20.8 635.1,19.8 635.4,19.3 636.1,19.3 638.9,20.8 642.6,24.8 644.4,27.5 645.4,29.8ZM557.1,37.8 560.6,32.8 566.4,27.8 569.1,24.5 572.1,21.5 575.9,18.5 579.4,16.5 573.9,16.5 572.4,17.8 569.9,19.3 568.9,20.5 568.6,20.0 567.9,19.8 567.6,18.3 569.4,16.5 557.1,16.5Z" fill="#f7f7f7" fill-rule="evenodd"/>
<path d="M638.6,102.5 638.9,102.3 639.1,102.5 638.9,102.8ZM645.4,101.8 643.6,103.8 645.4,103.8ZM629.4,99.3 628.4,99.8 627.4,100.8 623.1,103.8 625.6,103.8 627.6,102.0 629.1,100.0ZM612.6,93.3 612.9,93.0 613.1,93.3 612.9,93.5ZM557.1,88.0 557.1,97.5 560.4,102.0 559.9,102.3 558.4,100.8 557.1,99.0 557.1,103.8 566.4,103.8 561.6,98.5 561.9,98.3 563.9,99.3 569.9,103.8 577.4,103.8 573.6,101.8 570.4,99.5 567.1,98.0 563.4,95.5 559.4,91.5ZM573.6,87.0 573.6,87.5 574.9,89.8 578.6,94.8 582.6,98.3 587.6,101.0 591.9,102.5 592.6,102.5 594.9,103.3 595.9,103.3 596.9,103.8 610.6,103.8 596.6,101.5 593.6,100.5 592.9,100.5 589.4,99.3 588.1,98.5 587.6,98.5 583.9,96.5 581.1,94.5 575.1,88.3ZM642.4,86.8 642.6,86.5 642.9,87.0 642.6,87.3ZM642.6,86.5 642.9,86.3 643.1,86.5 642.9,86.8ZM642.9,86.3 643.1,86.0 643.4,86.3 643.1,86.5ZM613.9,86.3 611.1,87.3 608.6,87.8 606.1,88.8 610.6,88.0 613.4,86.8ZM643.1,85.8 643.4,85.5 643.6,85.8 643.4,86.0ZM643.4,85.5 643.6,85.3 643.9,85.5 643.6,85.8ZM643.6,85.0 643.9,84.8 644.1,85.0 643.9,85.3ZM643.9,84.5 644.1,84.3 644.4,84.5 644.1,84.8ZM644.4,83.8 644.6,83.5 644.9,83.8 644.6,84.0ZM644.6,83.0 644.9,82.8 645.1,83.3 644.9,83.5ZM644.9,82.5 645.1,82.3 645.4,82.8 645.1,83.0ZM573.6,72.3 575.6,76.8 577.1,79.0 579.6,81.8 581.6,83.3 582.4,83.5 587.4,86.8 591.1,88.5 595.4,89.8 598.1,89.8 599.6,89.3 597.6,88.8 596.9,88.3 591.4,86.3 584.1,82.5 580.9,80.0 578.9,77.8 577.6,75.8 576.4,75.0ZM557.1,68.3 557.1,76.3 558.6,79.8 559.9,83.8 561.9,87.8 565.4,92.5 568.6,95.5 573.4,98.8 575.9,100.0 576.4,100.5 582.1,103.3 583.6,103.8 592.1,103.8 589.6,103.5 583.9,101.8 574.6,97.5 570.1,94.5 565.9,90.3 562.4,85.0 560.6,81.0 558.4,74.0 557.9,71.3 557.4,70.3ZM645.4,67.8 645.1,70.5 644.1,73.5 641.9,77.3 637.9,83.3 635.1,86.8 631.9,90.0 629.6,91.8 624.6,94.5 621.1,95.8 620.4,95.8 618.1,96.5 617.1,96.5 616.9,96.8 615.9,96.8 615.6,97.0 612.9,97.3 612.6,97.5 603.4,98.5 603.1,98.8 602.4,98.8 602.4,99.0 603.1,99.0 603.4,99.3 607.6,99.3 607.9,99.0 610.9,99.0 611.1,98.8 613.1,98.8 613.4,98.5 615.1,98.5 615.4,98.3 618.1,98.0 624.4,96.3 628.6,94.3 632.9,91.3 636.6,87.5 640.9,82.0 644.4,76.3 644.6,76.5 644.6,77.5 644.4,77.8 643.9,80.8 641.9,85.8 641.9,87.3 642.1,87.0 642.6,87.3 640.4,90.5 635.1,96.3 635.6,96.3 637.9,94.8 641.4,91.5 641.6,92.0 639.4,95.0 638.1,97.5 638.1,98.0 636.6,100.5 633.6,103.8 641.9,103.8 645.1,100.5 645.4,100.0 645.4,97.0 642.6,99.8 639.1,102.5 638.9,102.3 638.9,100.8 639.4,99.5 642.1,95.3 645.4,91.3 645.4,82.5 645.1,82.3 645.4,81.8ZM567.9,47.5 568.1,47.3 568.4,47.5 568.1,47.8ZM633.1,47.3 632.9,47.0 632.6,48.0 632.9,48.3 632.9,50.3 633.1,50.5 633.1,52.5 633.4,52.8 633.4,54.8 633.6,55.0 633.9,61.5 633.6,61.8 633.4,64.5 632.6,66.8 631.1,69.8 630.9,69.5 631.1,66.3 631.4,66.0 631.4,64.8 631.6,64.5 631.6,63.3 632.1,61.5 632.1,56.3 630.9,52.8 630.9,53.5 631.1,53.8 631.1,59.5 630.9,59.8 630.6,62.8 629.9,65.3 629.9,66.5 628.9,70.0 626.9,73.5 622.1,79.0 621.4,80.3 621.1,81.3 624.1,79.0 625.1,78.5 625.4,78.8 625.1,79.5 623.4,82.0 623.6,82.3 623.4,83.0 621.9,84.8 619.9,88.0 617.1,90.8 614.9,91.5 611.6,91.8 611.4,92.0 609.4,92.0 609.1,92.3 606.1,92.3 605.9,92.5 595.6,92.5 595.4,92.3 593.9,92.3 593.6,92.0 591.9,91.8 588.9,90.8 583.9,88.3 580.1,87.0 580.1,87.3 581.9,89.0 584.4,90.8 588.1,92.8 590.9,93.8 592.1,93.8 592.4,94.0 597.6,94.0 597.9,94.3 603.1,94.3 603.4,94.0 607.1,94.0 607.4,93.8 609.4,93.8 609.6,93.5 612.6,93.3 612.9,93.5 609.1,96.3 612.4,95.3 615.4,93.8 617.6,92.0 621.1,90.3 619.9,90.3 619.6,90.0 619.9,89.5 624.4,84.5 625.4,83.0 626.9,79.5 630.1,75.8 632.4,72.5 634.4,68.8 635.4,66.0 635.4,65.0 635.6,64.8 635.6,58.0 635.4,57.8 635.4,56.0 635.1,55.8 634.6,52.0ZM571.4,45.8 571.6,45.5 571.9,45.8 571.6,46.0ZM571.6,45.3 571.9,45.0 572.1,45.3 571.9,45.5ZM572.6,43.5 572.9,43.3 573.1,43.5 572.9,43.8ZM572.9,43.0 573.1,42.8 573.4,43.3 573.1,43.5ZM573.1,42.8 573.4,42.5 573.6,42.8 573.4,43.0ZM639.1,42.5 639.4,42.3 639.6,42.8 639.4,43.0ZM631.4,40.8 631.1,40.8 631.6,42.3 633.4,46.0 636.1,54.3 636.4,56.8 636.6,57.0 636.6,59.8 636.9,60.0 636.9,68.3 636.6,68.5 636.1,71.5 633.1,78.0 632.4,81.3 630.4,86.0 633.6,81.0 636.9,75.3 636.9,74.8 637.9,73.0 638.4,71.3 638.4,68.3 638.6,68.0 638.6,58.8 638.4,58.5 638.1,56.3 634.4,46.0 632.6,42.5ZM584.1,33.5 580.9,36.8 576.1,40.3 573.6,42.8 573.4,42.5 574.4,40.8 578.1,37.0 583.6,33.3ZM583.9,33.3 584.1,33.0 584.4,33.3 584.1,33.5ZM584.1,33.0 584.4,32.8 584.6,33.0 584.4,33.3ZM589.9,32.5 590.1,32.3 590.4,32.5 590.1,32.8ZM598.4,30.3 596.9,31.0 594.6,31.3 593.9,31.8 592.9,31.8 590.9,32.5 589.4,32.0 590.6,30.8 592.4,29.8 596.6,29.5ZM590.4,28.8 590.6,28.5 590.9,28.8 590.6,29.0ZM599.4,25.5 599.6,25.3 599.9,25.5 599.6,25.8ZM600.9,25.3 601.1,25.0 601.9,25.0 602.1,25.3 601.9,25.5 601.1,25.5ZM627.1,24.8 627.4,24.5 627.9,24.8 627.6,25.0ZM626.9,24.5 627.1,24.3 627.4,24.5 627.1,24.8ZM626.4,24.3 626.6,24.0 626.9,24.3 626.6,24.5ZM625.9,24.0 626.1,23.8 626.4,24.0 626.1,24.3ZM625.4,23.8 625.6,23.5 625.9,23.8 625.6,24.0ZM565.6,23.5 565.1,23.5 561.6,25.5 557.1,29.8 557.1,35.5 557.9,32.5 559.4,30.0ZM615.6,27.3 612.1,25.8 609.6,25.5 608.6,25.0 606.6,24.8 605.4,24.3 604.1,24.3 603.9,24.0 599.4,24.0 599.1,24.3 597.6,24.3 592.6,25.8 590.1,27.0 587.6,29.0 584.1,31.3 583.6,31.3 581.6,32.3 576.9,35.8 572.6,40.3 570.9,42.8 568.9,46.8 568.4,47.3 568.1,46.5 568.6,45.0 570.1,42.3 572.4,39.3 581.9,29.3 585.1,26.8 588.4,23.5 591.4,22.0 595.9,21.8 596.1,21.5 598.9,21.5 599.1,21.8 600.6,21.8 601.1,21.5 599.9,21.0 597.4,20.8 597.1,20.5 592.4,20.5 592.1,20.8 590.4,20.8 590.1,21.0 587.9,21.3 582.6,23.0 578.4,25.0 577.9,25.0 575.1,26.5 574.6,26.5 568.4,30.3 564.6,33.5 561.6,37.3 560.1,39.8 558.4,43.5 557.1,47.5 557.1,61.8 557.1,59.5 557.4,59.3 557.9,54.3 558.1,54.0 558.1,53.0 558.4,52.8 558.6,53.0 558.9,57.8 561.1,65.0 560.9,74.5 561.1,74.8 561.1,76.8 561.4,77.0 561.4,78.3 561.6,78.5 561.6,79.5 562.1,80.5 562.1,81.3 563.9,85.0 565.6,87.5 568.9,90.8 572.6,93.5 574.6,94.5 575.1,94.5 575.1,94.3 569.1,88.8 565.4,84.5 563.4,80.5 562.9,78.8 562.9,77.8 562.6,77.5 562.6,76.3 562.4,76.0 562.4,72.8 562.1,72.5 562.1,71.5 562.4,71.3 562.6,71.5 563.1,74.3 564.9,79.3 567.1,83.5 567.9,84.5 569.9,86.3 567.1,81.0 567.1,80.5 566.1,78.5 563.9,70.5 563.4,67.3 562.6,65.0 562.9,61.3 563.1,61.0 563.1,58.3 563.4,57.8 563.1,57.3 562.9,57.5 562.4,59.8 561.9,60.8 561.4,60.0 561.4,58.8 561.1,58.5 561.1,56.5 560.9,56.3 561.1,49.3 560.9,49.0 560.9,47.3 561.1,47.0 561.1,45.8 561.4,45.5 561.6,43.8 563.9,39.3 568.6,32.8 572.6,29.3 575.1,28.0 575.6,27.5 581.6,24.8 587.9,22.8 588.4,23.0 586.4,24.5 585.1,25.0 581.4,27.5 569.4,39.5 567.9,41.5 566.6,44.0 565.9,46.5 565.6,49.0 565.4,49.3 565.4,56.0 566.4,58.8 566.6,58.8 566.9,58.3 567.1,53.0 570.9,46.5 571.4,46.0 571.6,46.3 571.4,47.0 571.4,49.0 571.1,49.3 571.1,50.3 570.9,50.5 570.9,51.5 570.6,51.8 570.6,52.8 570.1,54.3 570.1,55.8 569.9,56.0 569.9,61.5 570.9,64.5 570.6,63.8 570.6,60.8 570.9,60.5 570.9,56.8 571.1,56.5 571.1,52.5 571.4,52.3 571.6,50.0 572.6,47.5 574.4,44.8 577.1,41.8 579.6,40.0 584.4,35.8 588.1,33.8 590.4,33.0 597.1,31.5 597.4,31.3 603.6,31.0 603.9,31.3 605.1,31.3 608.6,32.3 611.1,33.5 611.6,33.5 615.9,35.8 616.4,35.8 615.6,34.8 615.9,34.5 617.4,34.5 619.1,35.3 621.1,36.8 624.1,40.0 627.9,45.0 626.9,43.3 626.9,42.8 624.9,39.5 622.1,36.8 616.1,32.8 612.1,30.8 609.1,29.8 606.9,29.5 606.6,29.3 604.9,29.3 602.4,28.5 599.1,28.3 598.9,28.0 599.1,27.8 609.1,27.3 609.4,27.5 612.9,27.8 615.1,28.5 616.9,28.5 616.6,28.0ZM643.9,16.5 645.4,18.5 645.4,16.5ZM608.6,16.5 627.1,26.8 631.1,30.5 633.6,34.0 635.6,37.8 635.6,38.3 636.6,40.3 637.6,43.3 637.6,44.0 638.6,47.3 638.6,48.3 639.1,49.5 639.4,52.0 639.6,52.3 639.6,53.3 639.9,53.5 639.9,54.5 640.4,56.0 640.4,57.5 640.6,57.8 640.6,64.8 640.4,65.0 640.4,67.3 641.1,66.3 641.9,63.8 642.1,58.5 641.9,58.3 641.6,53.3 641.4,53.0 641.4,51.8 641.1,51.5 641.1,50.5 640.9,50.3 640.9,49.3 640.6,49.0 640.6,48.0 640.4,47.8 639.9,45.0 640.1,44.8 640.4,45.0 642.6,50.5 643.4,54.8 643.6,55.0 643.6,56.0 643.9,56.3 644.1,58.8 644.6,60.5 645.4,61.5 645.4,62.3 645.4,54.0 644.6,51.8 643.4,49.5 640.9,42.3 638.6,37.5 638.1,37.0 636.9,34.5 633.6,30.3 630.1,26.8 627.6,25.0 628.4,24.8 631.1,26.3 633.1,26.8 636.1,28.3 640.6,32.3 642.9,36.3 643.6,36.8 643.9,36.0 645.4,38.0 645.4,35.5 642.1,31.5 639.6,26.5 636.4,22.0 632.6,18.3 632.9,18.0 633.9,18.0 636.4,18.8 639.9,20.8 643.4,23.5 645.4,24.0 645.4,23.0 638.9,16.5 621.1,16.5 622.4,16.5 622.6,16.8 623.6,16.8 625.1,17.3 628.6,19.0 630.9,20.5 636.4,25.8 637.4,27.0 637.1,27.5 629.9,23.8 626.4,22.5 625.4,22.5 621.1,21.3 615.4,18.3 614.9,18.3 611.1,16.5ZM578.1,16.5 574.9,16.5 574.1,17.0 572.1,19.0 568.1,24.0 564.6,27.5 563.4,29.3 564.6,28.5 572.4,21.0ZM568.6,16.5 557.1,16.5 557.1,21.5 559.4,19.5 561.6,18.0 563.1,17.8 563.4,18.0 562.9,19.0 557.1,24.8 557.1,29.0 563.4,22.5 565.6,19.5Z" fill="#f9ece4" fill-rule="evenodd"/>
<path d="M645.4,102.8 644.4,103.8 645.4,103.8ZM570.4,102.8 570.6,102.5 571.1,102.8 570.9,103.0ZM628.1,100.5 623.6,103.8 625.1,103.8 625.9,103.3 627.6,101.5ZM557.1,100.0 557.1,101.8 557.9,102.5 559.1,103.0 558.9,102.3ZM645.4,98.5 641.9,101.8 639.1,103.8 641.1,103.8 644.6,100.3 645.4,99.3ZM557.1,93.5 557.1,96.5 560.1,101.0 562.4,103.8 564.6,103.8 559.4,97.0ZM642.9,89.5 643.1,89.3 643.4,89.5 643.1,89.8ZM643.1,89.3 643.4,89.0 643.6,89.3 643.4,89.5ZM575.1,89.3 577.6,93.3 581.4,97.0 584.6,99.3 587.6,100.8 591.1,102.0 591.9,102.0 594.1,102.8 595.1,102.8 595.4,103.0 596.6,103.0 596.9,103.3 600.4,103.5 600.6,103.8 608.1,103.8 606.4,103.3 603.9,103.0 603.6,102.8 602.4,102.8 602.1,102.5 600.9,102.5 600.6,102.3 599.4,102.3 599.1,102.0 595.4,101.5 587.9,99.3 584.4,97.5 581.9,95.8ZM557.1,88.5 557.1,91.5 559.1,94.3 562.1,97.0 570.1,102.0 570.6,102.5 570.4,102.8 568.9,102.0 568.4,102.0 570.4,103.8 576.6,103.8 570.4,100.3 569.9,99.8 568.1,99.0 563.6,96.0 559.9,92.5ZM645.4,83.5 642.9,87.5 637.4,94.3 637.4,94.5 639.1,93.3 642.9,89.5 643.1,90.0 639.6,95.5 638.4,98.3 636.1,101.5 634.1,103.8 636.4,103.8 637.1,103.0 639.6,98.5 644.9,90.8 645.4,89.8ZM583.6,83.8 586.4,85.8 590.6,88.0 593.9,89.0 595.1,89.0 595.4,89.3 597.4,89.0 595.1,88.3 584.6,83.3 584.9,83.5 584.6,84.3ZM575.1,75.0 577.6,79.0 579.9,81.3 583.1,83.5 579.1,79.8 576.9,76.8ZM630.1,71.3 630.4,71.0 630.6,71.3 630.4,71.5ZM645.4,70.3 645.4,71.3 643.9,74.8 639.6,81.3 635.1,87.0 632.4,89.8 629.1,92.3 624.4,94.8 620.6,96.0 619.9,96.0 617.6,96.8 615.1,97.0 614.9,97.3 613.6,97.3 611.9,97.8 610.4,97.8 610.1,98.0 608.6,98.0 608.4,98.3 606.9,98.3 606.6,98.5 604.4,98.8 604.9,99.0 607.9,99.0 608.1,98.8 611.1,98.8 611.4,98.5 613.6,98.5 613.9,98.3 617.1,98.0 617.4,97.8 618.4,97.8 618.6,97.5 621.4,97.0 625.1,95.8 628.6,94.0 632.9,91.0 636.6,87.3 639.6,83.5 644.9,75.0 645.1,75.3 644.9,75.8 644.9,77.5 644.6,77.8 644.1,80.8 643.1,83.3 642.9,85.0 644.4,82.8 645.4,79.5ZM557.1,69.5 557.1,73.5 557.4,73.8 557.6,75.8 559.4,82.0 562.1,87.8 564.6,91.3 568.1,94.8 571.4,97.3 575.4,99.8 580.9,102.5 584.6,103.8 590.6,103.8 589.9,103.8 584.6,102.3 583.9,101.8 580.9,100.8 579.1,99.8 578.6,99.8 574.6,97.8 569.6,94.3 565.9,90.5 563.4,87.0 561.4,83.3 561.4,82.8 560.9,82.0 559.1,77.3 558.1,73.0 557.4,71.3ZM633.4,49.0 633.1,49.0 633.1,50.3 633.4,50.5 633.4,52.5 633.6,52.8 633.6,54.8 633.9,55.0 634.1,61.0 633.9,61.3 633.6,64.3 633.1,65.3 632.9,66.8 631.1,70.5 630.6,71.0 630.4,70.8 630.6,67.3 630.9,67.0 630.9,65.5 631.1,65.3 631.1,64.0 631.6,62.3 631.6,60.5 631.9,60.3 631.9,58.3 631.6,58.0 631.4,55.8 631.4,61.0 631.1,61.3 631.1,62.8 630.4,65.3 630.1,67.5 629.4,69.8 626.4,74.8 624.4,77.0 622.9,79.3 622.9,79.5 626.1,77.0 626.4,77.3 626.4,78.0 624.9,80.0 624.4,81.0 624.4,81.8 620.1,88.0 617.4,90.8 616.6,91.3 614.6,91.5 614.4,91.8 608.4,92.3 608.1,92.5 604.9,92.5 604.6,92.8 596.1,92.8 595.9,92.5 594.4,92.5 594.1,92.3 593.1,92.3 591.1,91.5 590.4,91.5 588.9,90.8 587.6,90.5 586.4,89.8 585.9,89.8 584.6,89.0 584.1,89.0 582.9,88.3 581.4,87.8 581.4,88.0 582.9,89.5 586.6,91.8 587.1,91.8 588.4,92.5 590.6,93.3 593.1,93.5 593.4,93.8 595.9,93.8 596.1,94.0 605.1,94.0 605.4,93.8 607.9,93.8 608.1,93.5 609.9,93.5 610.1,93.3 611.6,93.3 611.9,93.0 613.9,92.8 614.1,93.0 612.1,94.3 611.1,95.3 612.4,95.0 615.4,93.5 617.6,91.8 619.4,91.0 619.6,90.5 619.1,90.3 623.9,84.8 624.9,83.3 626.6,79.5 630.1,75.5 632.1,72.5 634.1,68.5 635.1,65.3 635.1,64.0 635.4,63.8 635.4,57.0 635.1,56.8 635.1,55.3 634.9,55.0 634.6,52.8ZM632.6,43.5 635.6,51.8 635.6,52.5 636.4,54.8 636.4,55.8 636.6,56.0 636.9,60.0 637.1,60.3 637.1,68.3 635.6,73.5 633.4,78.5 632.4,81.5 632.4,82.3 634.9,78.5 636.6,75.0 637.6,72.3 637.6,71.3 638.1,69.8 638.1,67.8 638.4,67.5 638.4,59.0 638.1,58.8 638.1,57.5 635.9,50.3 634.1,46.5 634.1,46.0ZM638.4,40.5 638.6,40.3 638.9,40.8 638.6,41.0ZM638.1,40.0 638.4,39.8 638.6,40.0 638.4,40.3ZM587.4,30.8 587.6,30.5 587.9,30.8 587.6,31.0ZM588.4,29.5 588.6,29.3 589.1,29.5 588.9,29.8ZM592.9,27.8 590.6,29.3 589.1,29.5 588.9,29.3 592.1,27.5ZM592.6,27.5 592.9,27.3 593.4,27.5 593.1,27.8ZM593.1,27.3 593.4,27.0 594.1,27.3 593.9,27.5ZM593.9,27.0 594.1,26.8 594.6,27.0 594.4,27.3ZM594.4,26.8 594.6,26.5 595.4,26.8 595.1,27.0ZM595.1,26.5 595.4,26.3 596.1,26.5 595.9,26.8ZM595.9,26.3 596.1,26.0 596.9,26.3 596.6,26.5ZM562.9,25.5 560.9,26.8 557.1,30.5 557.1,33.3 558.9,30.3ZM586.6,24.5 584.6,25.5 581.4,27.8 570.4,38.8 568.4,41.5 566.6,45.0 565.9,47.5 565.9,48.8 565.6,49.0 565.4,53.5 565.6,53.8 565.6,55.8 566.4,57.5 566.6,57.3 566.6,54.5 566.9,54.3 566.9,51.5 567.1,51.3 567.4,48.3 568.6,44.5 569.9,42.3 572.1,39.3 576.9,34.0 581.6,29.3 583.4,28.0ZM614.9,27.5 612.9,26.5 609.9,26.0 609.6,25.8 608.1,25.8 607.9,25.5 601.4,25.5 601.1,25.8 599.4,25.8 599.1,26.0 596.9,26.3 596.6,26.0 596.9,25.8 599.1,25.0 603.1,24.5 601.9,24.5 601.6,24.3 597.6,24.5 592.6,26.0 589.9,27.5 586.6,30.0 581.6,32.8 577.1,36.0 573.6,39.5 572.1,41.5 569.9,45.3 569.9,45.8 569.1,47.3 569.1,48.0 571.1,44.5 573.6,41.0 578.4,36.5 584.1,32.8 586.1,31.0 586.9,30.8 587.6,31.0 585.4,32.5 580.9,37.0 575.9,41.3 574.1,43.5 573.1,46.0 574.4,44.0 576.9,41.3 579.1,40.0 584.4,35.5 586.4,34.3 587.4,34.0 587.1,33.8 588.1,32.5 591.9,29.8 592.6,29.5 598.1,29.5 599.6,30.0 599.9,30.5 599.4,30.8 603.4,30.8 603.6,31.0 605.9,31.3 606.9,31.8 607.6,31.8 609.9,32.5 611.9,33.5 612.6,33.5 612.4,33.3 612.6,32.8 615.1,32.8 611.6,31.0 608.4,30.0 606.1,29.8 605.9,29.5 603.1,29.3 602.9,29.0 601.9,29.0 600.4,28.5 598.1,28.5 597.4,28.0 599.1,27.5 604.9,27.3 605.1,27.0 609.4,27.0 609.6,27.3 611.6,27.3 613.4,27.8 614.9,27.8ZM597.1,21.0 592.6,20.8 592.4,21.0 590.6,21.0 590.4,21.3 589.1,21.3 588.9,21.5 586.1,22.0 581.4,23.8 580.6,24.3 580.1,24.3 578.9,25.0 578.4,25.0 571.4,28.5 567.4,31.3 563.4,35.3 560.9,39.0 559.6,41.5 558.4,45.0 557.9,48.3 557.1,50.5 557.1,58.3 557.1,56.8 557.4,56.5 557.9,52.5 558.4,51.3 558.4,50.3 558.6,50.0 558.9,50.3 558.9,55.5 559.1,55.8 559.1,57.0 559.4,57.3 559.9,60.3 560.4,61.3 560.4,62.0 561.4,65.3 561.4,67.0 561.1,67.3 561.1,75.0 561.4,75.3 561.4,77.0 561.6,77.3 561.9,79.5 562.9,82.5 563.9,84.5 566.1,87.8 569.9,91.3 573.1,93.3 573.4,93.3 573.4,93.0 571.4,91.3 565.4,85.0 563.6,81.8 562.6,78.8 562.4,76.3 562.1,76.0 562.1,70.8 562.4,70.5 562.6,70.8 563.4,74.5 564.9,78.8 567.6,83.8 568.6,84.8 568.6,84.3 566.1,79.0 563.6,70.3 563.6,69.3 562.4,65.0 562.6,59.8 561.9,61.8 561.1,59.5 560.9,56.0 560.6,55.8 560.6,47.0 560.9,46.8 561.1,44.8 562.9,40.5 566.1,35.8 566.6,34.5 570.4,30.5 572.1,29.3 577.6,26.3 578.1,26.3 579.9,25.3 584.6,23.5 585.4,23.5 589.1,22.3 592.9,21.8 593.1,21.5 597.1,21.3ZM610.9,17.0 613.9,19.0 615.1,19.5 622.6,24.0 624.4,24.8 628.1,27.3 631.1,30.3 634.1,34.5 636.6,39.8 639.1,48.5 639.1,49.5 639.4,49.8 639.4,50.8 639.6,51.0 639.6,52.0 639.9,52.3 639.9,53.3 640.4,54.8 640.4,56.0 640.6,56.3 640.6,57.8 640.9,58.0 640.9,63.8 641.1,64.3 641.6,62.5 641.6,60.3 641.9,60.0 641.6,54.8 641.4,54.5 641.4,52.8 641.1,52.5 641.1,51.3 640.9,51.0 640.4,47.5 640.1,47.3 639.4,43.5 638.6,41.8 638.6,41.0 638.9,40.8 641.6,46.8 643.6,53.8 644.4,58.0 645.4,59.8 645.4,60.8 645.4,55.0 644.6,52.5 643.1,49.8 640.9,42.8 637.1,35.3 634.6,31.8 632.4,29.3 629.4,26.5 618.9,20.3 613.6,17.8ZM629.4,16.8 629.6,16.5 630.1,16.8 629.9,17.0ZM645.1,16.5 645.4,17.0 645.4,16.5ZM623.6,16.5 624.1,16.5 627.4,18.0 630.9,20.3 637.1,26.3 638.4,28.0 637.9,28.3 636.9,27.5 627.9,23.3 624.9,22.8 624.6,22.5 624.1,22.5 630.6,25.8 632.6,26.3 637.1,28.8 641.1,32.5 642.4,34.8 642.9,35.3 643.1,34.8 644.4,36.0 645.4,37.5 645.4,35.8 641.9,31.5 639.6,27.0 637.6,24.0 633.4,19.5 629.9,17.0 630.6,16.8 631.6,17.3 633.6,17.5 635.9,18.3 639.4,20.0 641.9,21.8 644.1,22.8 643.9,22.0 642.6,20.8 639.9,18.8 634.1,16.5ZM577.9,16.5 575.1,16.5 571.9,19.8 567.4,25.3 572.1,21.0ZM568.4,16.5 565.6,16.5 557.1,25.3 557.1,28.3ZM557.1,20.3 561.4,16.5 557.4,16.5 557.1,16.8Z" fill="#fce1d1" fill-rule="evenodd"/>
<path d="M645.4,103.3 644.6,103.8 645.4,103.8ZM641.1,103.0 639.9,103.8 640.6,103.8ZM626.4,102.3 624.1,103.8 624.9,103.8ZM557.1,94.0 557.1,96.3 559.9,100.3 562.6,103.8 564.1,103.8 559.9,98.3ZM614.6,92.5 614.9,92.3 615.1,92.5 614.9,92.8ZM576.9,91.5 578.1,93.5 581.4,96.8 584.6,99.0 588.1,100.8 591.9,102.0 595.1,102.5 595.4,102.8 596.6,102.8 596.9,103.0 600.4,103.3 600.6,103.5 605.4,103.5 603.6,103.0 602.6,103.0 602.4,102.8 601.4,102.8 601.1,102.5 599.9,102.5 599.6,102.3 598.4,102.3 598.1,102.0 594.4,101.5 587.1,99.3 582.4,96.5ZM557.1,89.3 557.1,90.8 558.4,92.8 559.6,94.3 562.4,96.8 573.1,103.8 576.1,103.8 567.6,99.0 563.6,96.3 559.1,92.0ZM644.1,87.8 644.4,87.5 644.6,87.8 644.4,88.0ZM644.4,87.3 644.6,87.0 644.9,87.3 644.6,87.5ZM644.6,87.0 644.9,86.8 645.1,87.0 644.9,87.3ZM587.4,86.0 590.9,87.8 593.4,88.5 594.9,88.5 593.4,88.0 588.9,85.5 587.9,85.3 587.9,85.8ZM645.4,83.8 644.1,86.0 639.4,92.5 640.4,91.8 644.1,87.8 644.4,88.0 644.1,88.8 640.6,94.3 638.6,98.3 636.4,101.5 634.4,103.8 636.1,103.8 644.6,90.5 645.4,89.0ZM645.4,72.3 644.4,74.8 643.6,75.5 638.4,83.3 634.9,87.5 630.4,91.5 628.1,93.0 624.6,94.8 621.1,96.0 620.4,96.0 618.1,96.8 617.1,96.8 616.9,97.0 615.9,97.0 615.6,97.3 614.4,97.3 614.1,97.5 612.9,97.5 612.6,97.8 607.1,98.5 607.4,98.8 612.1,98.5 612.4,98.3 616.1,98.0 616.4,97.8 617.6,97.8 617.9,97.5 620.9,97.0 625.9,95.3 628.4,94.0 631.4,92.0 636.9,86.8 639.6,83.3 642.4,79.0 645.1,73.5 645.4,73.8 645.1,77.8 644.9,78.0 644.9,79.0 644.6,79.3 644.6,80.3 644.1,81.3 644.1,82.0 645.4,78.0ZM557.1,71.0 557.6,75.0 559.6,82.3 561.9,87.0 564.9,91.3 569.6,95.8 576.1,100.0 580.1,102.0 584.4,103.5 585.1,103.5 585.4,103.8 589.9,103.8 589.1,103.8 584.9,102.5 584.1,102.0 582.9,101.8 580.4,100.5 579.9,100.5 577.6,99.3 577.1,99.3 573.1,97.0 569.1,94.0 565.1,89.8 562.6,86.0 561.1,83.0 559.9,79.3 559.4,78.5 559.1,77.0ZM633.6,50.5 633.9,55.5 634.1,55.8 634.1,62.3 633.9,62.5 633.9,63.8 632.6,67.8 630.6,71.8 629.9,72.8 629.6,72.0 630.1,70.5 630.1,68.0 629.6,69.8 628.4,72.3 624.9,77.3 626.9,75.3 627.1,75.5 627.1,76.5 626.6,78.0 625.4,79.8 625.4,80.3 624.6,81.8 622.9,84.0 620.4,88.0 617.4,91.0 615.1,91.8 609.6,92.3 609.4,92.5 602.4,92.8 602.1,93.0 597.6,93.0 597.4,92.8 595.1,92.8 594.9,92.5 593.6,92.5 593.4,92.3 591.6,92.0 587.9,90.8 582.6,88.5 582.4,88.5 582.4,88.8 585.1,90.8 587.6,92.0 591.6,93.3 594.6,93.5 594.9,93.8 602.9,94.0 603.1,93.8 606.6,93.8 606.9,93.5 610.9,93.3 611.1,93.0 614.4,92.5 614.6,92.8 612.4,94.5 612.9,94.5 615.9,93.0 616.9,92.0 618.6,91.0 618.4,90.8 623.1,85.5 624.6,83.3 627.1,78.5 630.1,75.3 632.4,71.8 634.4,67.3 634.9,64.3 635.1,64.0 635.4,59.3 635.1,59.0 634.9,54.8ZM634.9,48.8 636.4,53.8 636.6,56.3 636.9,56.5 636.9,58.0 637.1,58.3 637.1,60.8 637.4,61.0 637.4,67.8 637.1,68.0 636.9,70.3 635.9,73.3 634.4,76.5 634.1,77.8 633.6,78.5 633.1,80.5 634.4,79.0 636.6,74.5 637.6,71.0 637.6,70.0 637.9,69.8 638.1,65.3 638.4,65.0 638.4,60.8 638.1,60.5 637.9,57.3 636.1,51.5ZM558.9,47.8 559.1,47.5 559.4,47.8 559.1,48.0ZM637.4,38.3 637.6,38.0 637.9,38.5 637.6,38.8ZM586.6,30.3 581.6,33.0 578.1,35.5 574.9,38.5 573.1,41.0 577.4,37.0 584.4,32.3ZM594.9,28.5 595.1,28.3 595.4,28.5 595.1,28.8ZM560.1,28.0 559.1,28.8 557.1,31.0 557.1,32.8ZM612.6,27.0 609.6,26.0 603.9,25.5 603.6,25.8 598.9,26.0 594.4,27.3 589.6,29.8 585.6,32.5 578.4,39.5 579.1,39.5 580.9,38.3 582.1,37.0 587.4,33.0 588.9,31.5 591.1,30.0 592.9,29.3 598.1,29.3 598.4,29.5 599.4,29.5 600.9,30.0 601.4,30.5 604.4,30.8 604.6,31.0 609.9,32.3 609.9,31.5 610.1,31.3 610.9,31.3 608.6,30.5 607.9,30.5 604.6,29.5 603.6,29.5 603.4,29.3 600.6,29.0 600.4,28.8 596.1,28.5 595.9,28.3 596.1,28.0 596.9,28.0 598.1,27.5 599.4,27.5 599.6,27.3 601.4,27.3 601.6,27.0 605.6,27.0 605.9,26.8ZM585.6,25.5 584.1,26.0 581.6,27.8 572.4,36.8 569.6,40.0 568.1,42.3 566.6,45.5 566.1,47.3 566.1,48.3 565.9,48.5 565.6,54.3 565.9,54.5 566.1,56.3 566.4,56.3 566.4,55.0 566.6,54.8 566.6,51.5 566.9,51.3 566.9,49.5 567.1,49.3 567.4,47.5 568.1,45.3 569.9,42.0 572.4,38.8 577.1,33.5ZM598.4,24.8 595.4,25.3 592.6,26.3 590.4,27.5 588.6,29.0 593.4,26.8 598.4,25.0ZM593.4,21.3 589.1,21.5 584.6,22.8 583.9,23.3 582.6,23.5 578.9,25.3 578.4,25.3 577.1,26.0 576.6,26.0 570.1,29.5 567.4,31.5 563.4,35.5 561.1,39.0 559.1,43.8 558.9,45.8 558.4,46.8 558.4,47.5 557.9,48.5 557.4,51.5 557.1,51.8 557.1,56.5 557.6,52.5 557.9,52.3 558.6,48.5 558.9,48.3 559.1,48.5 559.1,50.8 558.9,51.0 559.1,56.0 559.4,56.3 559.6,58.5 561.6,65.8 561.4,66.5 561.4,75.3 561.6,75.5 561.6,77.0 561.9,77.3 562.1,79.5 563.4,83.0 565.6,86.8 567.9,89.3 570.9,91.5 571.1,91.5 567.1,87.5 564.9,84.8 563.6,82.5 562.4,78.8 562.1,76.3 561.9,76.0 561.9,69.3 562.1,69.0 562.4,69.3 562.4,70.0 562.6,70.3 562.6,71.0 562.9,71.3 564.1,76.5 566.1,81.0 566.9,82.3 567.6,83.0 565.4,77.3 565.4,76.5 564.4,73.8 564.4,73.0 562.6,66.8 562.6,65.8 562.1,64.5 562.1,62.5 561.9,62.8 561.6,62.5 561.4,60.5 561.1,60.3 560.9,57.3 560.6,57.0 560.6,54.8 560.4,54.5 560.4,47.8 560.6,47.5 560.6,46.0 560.9,45.8 561.1,44.0 562.4,41.5 562.4,41.0 564.1,38.3 565.1,36.0 568.6,31.8 570.6,30.0 575.1,27.3 581.9,24.3 584.9,23.3 585.6,23.3 587.4,22.5ZM613.6,18.3 628.1,27.0 631.1,30.0 633.4,33.0 635.6,37.0 635.6,37.5 636.4,38.8 637.9,43.0 637.9,43.8 638.4,44.8 638.4,45.5 639.1,47.8 639.1,48.8 639.6,50.0 639.6,51.0 639.9,51.3 639.9,52.5 640.1,52.8 640.1,53.8 640.6,55.3 640.9,58.3 641.1,58.5 641.1,60.5 641.4,61.0 641.6,56.8 641.4,56.5 641.1,52.0 640.9,51.8 640.9,50.8 640.6,50.5 640.6,49.5 640.4,49.3 639.6,45.0 639.1,44.0 639.1,43.3 638.6,42.3 638.1,40.0 637.6,39.3 637.6,38.8 637.9,38.5 639.6,41.5 639.6,42.0 640.6,43.8 641.1,45.5 642.4,48.0 644.1,55.5 644.9,57.0 645.4,59.5 645.4,55.8 645.1,55.5 645.1,54.8 644.4,52.5 642.6,49.3 641.4,44.5 638.4,37.8 635.4,33.0 632.1,29.3 629.6,27.0 619.9,21.0 616.4,19.3ZM630.4,16.5 636.1,18.0 642.1,21.3 641.4,20.3 639.9,19.3 635.9,17.5 635.4,17.5 633.6,16.5ZM624.1,16.5 624.6,16.5 628.1,18.3 632.4,21.3 637.1,26.0 639.1,28.8 638.6,29.0 638.1,28.5 629.9,24.3 626.4,23.3 626.9,23.8 630.6,25.5 633.9,26.5 637.1,28.5 643.9,35.0 645.4,37.3 645.4,36.3 643.6,33.8 641.6,31.5 638.1,25.0 636.4,22.8 634.1,20.5 631.6,18.5 628.4,16.5ZM577.6,16.5 575.4,16.5 572.1,19.8 570.1,22.5ZM568.1,16.5 565.9,16.5 557.1,25.5 557.1,28.0 561.4,23.3ZM560.1,16.5 557.9,16.5 557.1,17.0 557.1,19.3Z" fill="#fbd0b9" fill-rule="evenodd"/>
<path d="M645.4,103.3 644.9,103.8 645.4,103.8ZM557.1,94.5 557.1,95.8 559.6,99.5 562.9,103.8 563.9,103.8 559.4,98.0ZM579.1,94.0 580.4,95.5 583.1,97.8 586.4,99.8 586.9,99.8 588.6,100.8 590.9,101.5 591.6,101.5 592.6,102.0 594.9,102.3 595.1,102.5 600.1,103.0 600.4,103.3 602.9,103.3 601.4,102.8 600.1,102.8 599.9,102.5 598.6,102.5 598.4,102.3 594.6,101.8 588.4,100.0 584.1,98.0 581.9,96.5ZM557.9,91.0 559.4,93.5 563.1,97.0 573.4,103.8 575.9,103.8 568.9,100.0 564.9,97.5 562.6,95.8ZM583.6,89.3 583.6,89.5 584.6,90.3 588.6,92.3 591.1,93.0 592.1,93.0 592.4,93.3 596.1,93.5 596.4,93.8 605.4,93.8 605.6,93.5 607.9,93.5 608.1,93.3 611.6,93.0 615.1,92.0 615.6,92.3 613.9,93.8 615.9,92.8 617.4,91.5 617.9,90.8 617.4,91.3 616.1,91.8 610.4,92.3 610.1,92.5 608.1,92.5 607.9,92.8 604.9,92.8 604.6,93.0 596.1,93.0 595.9,92.8 594.4,92.8 594.1,92.5 591.1,92.0ZM645.4,84.0 645.1,84.8 641.1,90.5 645.1,86.3 645.4,86.8 644.6,88.3 641.9,92.5 638.4,99.0 634.6,103.8 635.9,103.8 644.4,90.5 645.4,88.5 645.4,86.5 645.1,86.3 645.4,86.0ZM642.6,77.8 636.4,86.0 631.9,90.5 628.4,93.0 624.4,95.0 620.6,96.3 616.4,97.0 616.1,97.3 615.1,97.3 614.9,97.5 613.6,97.5 613.4,97.8 609.9,98.3 615.4,98.0 615.6,97.8 616.9,97.8 617.1,97.5 620.4,97.0 626.1,95.0 630.1,92.8 632.4,91.0 637.1,86.3 640.6,81.5ZM557.9,74.0 557.9,75.3 558.1,75.5 558.1,76.5 558.4,76.8 558.9,79.5 559.9,82.5 561.6,86.3 564.6,90.8 568.6,94.8 574.6,99.0 579.9,101.8 584.9,103.5 588.9,103.8 583.1,102.0 575.4,98.5 572.1,96.5 568.1,93.3 565.4,90.3 562.6,86.3 559.9,80.3ZM636.6,54.0 636.9,56.8 637.1,57.0 637.1,58.8 637.4,59.0 637.4,61.8 637.6,62.0 637.6,67.3 637.4,67.5 637.4,68.8 637.1,69.0 636.9,70.8 635.9,73.8 634.4,77.0 633.9,79.3 634.9,77.8 636.6,74.0 637.1,71.5 637.4,71.3 637.4,70.3 637.6,70.0 637.6,68.8 637.9,68.5 637.9,66.3 638.1,66.0 638.1,59.8 637.9,59.5 637.6,57.0ZM634.1,52.5 633.9,52.5 633.9,53.3 634.1,53.5 634.1,57.0 634.4,57.3 634.4,61.3 634.1,61.5 633.9,64.3 632.9,67.5 629.6,73.8 629.1,74.3 628.9,74.0 629.4,72.8 629.4,71.8 627.9,74.8 627.4,76.8 625.1,81.3 620.9,87.5 621.6,87.0 624.1,83.8 626.6,78.8 627.1,78.5 629.4,76.0 631.6,72.8 634.1,67.5 634.1,66.8 634.9,64.5 634.9,63.0 635.1,62.8 635.1,57.3 634.9,57.0 634.9,55.5 634.6,55.3 634.6,54.3ZM643.6,51.8 643.6,52.5 645.4,57.8 645.4,58.5 645.1,55.5 644.6,54.5 644.6,53.8ZM559.4,45.8 559.6,45.5 559.9,46.0 559.6,46.3ZM559.6,45.0 559.9,44.8 560.1,45.3 559.9,45.5ZM562.1,40.0 562.4,39.8 562.6,40.0 562.4,40.3ZM636.4,36.3 636.6,36.0 636.9,36.5 636.6,36.8ZM636.1,36.0 636.4,35.8 636.6,36.0 636.4,36.3ZM583.6,32.3 580.6,34.0 577.9,36.3ZM558.1,30.5 557.1,31.5 557.1,32.3ZM639.6,30.0 639.9,29.8 640.1,30.0 639.9,30.3ZM594.6,29.0 598.1,29.0 598.4,29.3 599.4,29.3 600.4,29.8 601.1,29.8 602.6,30.5 603.9,30.5 607.4,31.5 608.4,31.5 608.1,30.8 603.6,29.5 602.6,29.5 602.4,29.3 598.6,29.0 598.4,28.8ZM572.9,28.3 567.4,31.8 563.6,35.5 562.4,37.3 561.6,39.0 560.9,40.0 560.9,40.5 560.1,42.0 560.4,42.5 558.9,46.0 558.9,46.8 558.4,47.8 557.9,50.8 557.4,52.0 557.4,53.0 557.1,53.3 557.1,54.5 557.4,52.3 559.1,46.3 559.4,46.0 559.6,46.3 559.4,49.0 559.1,49.3 559.1,54.8 559.4,55.0 559.4,56.5 559.6,56.8 559.9,59.0 561.6,65.3 561.6,69.8 561.6,67.5 561.9,67.3 562.1,67.5 562.1,68.5 562.4,68.8 563.6,74.5 564.9,78.0 566.6,81.3 564.4,74.3 564.4,73.5 564.1,73.3 564.1,72.5 563.9,72.3 563.9,71.5 561.9,64.3 561.1,59.8 560.9,59.5 560.6,56.3 560.4,56.0 560.4,52.8 560.1,52.5 560.4,46.5 560.6,46.3 560.6,45.3 561.4,42.8 562.6,40.3 562.4,39.5 566.4,34.0 566.1,33.8 568.6,31.3ZM584.6,26.0 582.9,27.0 580.4,29.0 579.1,30.5 571.9,37.5 568.6,41.8 567.1,44.8 566.1,48.0 566.1,49.3 565.9,49.5 565.9,54.3 566.1,55.0 566.4,54.5 566.6,50.0 566.9,49.8 567.1,47.8 567.9,45.5 569.9,41.8 572.6,38.3 577.6,32.8 582.6,28.3ZM610.1,26.5 608.4,26.3 608.1,26.0 606.6,26.0 606.4,25.8 601.9,25.8 601.6,26.0 599.6,26.0 599.4,26.3 597.1,26.5 594.9,27.3 592.1,28.5 587.1,31.5 579.9,38.3 582.1,37.0 589.4,31.0 590.9,30.0 594.6,28.3 595.4,28.3 597.6,27.5 598.6,27.5 598.9,27.3 600.1,27.3 600.4,27.0 602.4,27.0 602.6,26.8 609.6,26.8ZM595.4,25.8 593.4,26.3 591.6,27.3ZM628.6,24.3 631.6,25.5 629.9,24.5ZM587.9,22.3 587.1,22.3 584.9,23.0ZM617.1,20.0 628.1,26.8 631.1,29.8 634.1,34.0 635.9,37.3 635.9,37.8 636.6,39.0 636.9,40.3 637.9,42.5 637.9,43.3 638.4,44.3 638.4,45.0 639.4,48.3 639.4,49.3 639.9,50.5 641.1,58.0 641.4,58.0 641.1,52.8 640.9,52.5 639.9,46.5 637.6,39.0 636.6,37.0 636.9,36.5 637.4,37.0 639.6,41.0 636.9,35.5 634.1,31.8 631.9,29.3 629.9,27.5 628.4,26.5 627.9,26.5 622.6,22.8ZM631.1,16.5 633.4,16.8 632.9,16.5ZM624.6,16.5 625.6,16.8 629.6,19.0 632.9,21.5 637.1,25.8 639.1,28.3 639.9,29.5 639.6,30.0 637.9,28.8 643.4,34.0 641.1,31.3 639.6,27.8 637.4,24.3 634.1,20.8 631.6,18.8 627.9,16.5ZM577.4,16.5 575.6,16.5 572.4,19.8 571.6,21.0ZM567.9,16.5 566.1,16.5 565.6,17.3 557.4,25.3 557.1,25.8 557.1,27.8 561.4,23.0ZM559.6,16.5 558.1,16.5 557.1,17.3 557.1,18.8Z" fill="#f8bb9e" fill-rule="evenodd"/>
<path d="M637.9,100.3 634.6,103.8 635.6,103.8ZM588.4,100.3 593.6,102.0 599.4,102.8 593.6,101.8ZM567.4,99.5 572.9,103.3 573.9,103.8 575.4,103.8 570.6,101.3 570.1,100.8ZM559.4,98.5 561.6,101.8 563.4,103.8ZM584.9,90.0 585.4,90.5 588.4,92.0 590.6,92.8 591.6,92.8 593.1,93.3 594.9,93.3 595.1,93.5 603.6,93.8 603.9,93.5 606.9,93.5 607.1,93.3 610.9,93.0 611.1,92.8 612.1,92.8 613.9,92.3 611.4,92.3 611.1,92.5 606.6,92.8 606.4,93.0 597.4,93.3 597.1,93.0 595.1,93.0 594.9,92.8 593.6,92.8 593.4,92.5 591.6,92.3ZM645.4,87.0 638.9,98.5 640.1,97.0 643.9,91.0 645.4,88.0ZM645.4,84.3 642.9,88.5 645.4,85.8ZM624.6,82.3 622.4,85.8 623.9,83.8ZM640.9,80.5 636.1,86.5 632.4,90.3 628.6,93.0 624.6,95.0 621.1,96.3 612.4,98.0 616.1,97.8 616.4,97.5 617.6,97.5 618.9,97.0 620.9,96.8 624.6,95.5 628.6,93.5 631.9,91.3 635.1,88.3 638.4,84.5ZM558.6,76.8 558.6,77.8 559.6,80.8 559.6,81.5 561.6,86.0 563.1,88.5 566.9,93.0 571.1,96.5 576.6,100.0 581.4,102.3 585.6,103.5 587.1,103.5 587.6,103.8 586.1,103.0 581.6,101.5 580.9,101.0 580.4,101.0 579.1,100.3 578.6,100.3 574.6,98.3 569.9,95.0 565.6,90.8 562.6,86.5 560.1,81.3ZM637.4,69.3 637.1,70.8 635.1,75.5 634.6,77.5 635.4,76.5 636.1,74.8 637.1,71.5ZM637.4,57.3 637.9,64.5 637.9,59.5 637.6,59.3ZM634.4,54.5 634.4,62.5 634.1,62.8 633.6,65.8 631.1,71.5 628.1,76.3 627.9,76.0 627.1,77.5 627.1,78.0 629.6,75.5 630.9,73.8 633.4,69.0 633.4,68.5 634.1,67.0 634.1,66.3 634.6,65.0 634.6,63.8 634.9,63.5 634.9,56.5 634.6,56.3ZM560.6,44.3 559.4,48.5 559.4,51.0 559.1,51.3 559.4,55.8 559.6,56.0 559.6,57.3 559.9,57.5 559.9,58.3 561.1,62.5 561.1,63.5 561.9,65.8 561.9,66.8 562.4,68.0 563.1,72.3 563.6,73.3 564.1,75.8 565.6,79.0 564.6,74.8 564.1,73.8 561.6,63.0 561.4,62.8 560.9,59.0 560.6,58.8 560.4,54.8 560.1,54.5 560.1,47.0 560.4,46.8ZM565.6,33.8 564.1,35.3 563.1,36.8ZM600.6,29.5 601.9,29.8 603.4,30.5 607.1,31.0 606.6,30.5 603.1,29.8 602.9,29.5ZM629.9,28.0 632.1,30.8 634.6,34.5 636.9,39.3 638.4,43.8 638.4,44.5 639.6,48.8 639.6,49.8 640.1,51.0 640.4,53.5 641.1,55.8 640.9,52.3 640.6,52.0 640.6,50.8 640.4,50.5 640.1,48.3 639.6,47.0 639.6,46.0 636.9,37.5 634.9,33.5 633.4,31.3ZM583.6,27.0 582.9,27.3 580.9,28.8 571.4,38.3 569.6,40.5 568.4,42.5 566.6,46.5 566.4,48.8 566.1,49.0 566.1,53.0 566.6,49.0 567.6,45.8 569.1,42.8 570.6,40.5 578.1,32.0ZM607.9,26.3 607.1,26.3 606.9,26.0 600.6,26.0 600.4,26.3 598.9,26.3 594.6,27.5 591.1,29.3 586.6,32.0 581.6,37.0 582.9,36.3 584.6,34.5 590.1,30.3 592.4,29.0 595.9,27.8 599.1,27.3 599.4,27.0 603.9,26.8 604.1,26.5 607.4,26.5ZM625.1,16.5 627.9,17.8 631.9,20.5 633.4,21.8 637.4,25.8 638.9,27.8 639.4,28.0 638.4,26.0 636.4,23.3 632.4,19.5 627.4,16.5ZM577.1,16.5 575.9,16.5 572.6,20.0ZM567.9,16.5 566.4,16.5 557.1,25.8 557.1,27.5 562.4,21.8ZM559.4,16.5 558.4,16.5 557.1,17.8 557.1,18.5Z" fill="#f4a582" fill-rule="evenodd"/>
<path d="M572.1,102.3 573.4,103.3 574.9,103.8ZM586.1,90.5 588.1,91.8 590.4,92.5 592.4,92.8 592.6,93.0 593.9,93.0 594.1,93.3 596.4,93.3 596.6,93.5 605.6,93.5 605.9,93.3 608.1,93.3 608.4,93.0 609.9,93.0 610.1,92.8 612.4,92.5 607.9,92.8 607.6,93.0 604.6,93.0 604.4,93.3 595.9,93.3 595.6,93.0 594.4,93.0 594.1,92.8 592.1,92.5ZM643.9,90.3 641.6,93.8 641.1,95.0ZM633.4,89.5 630.1,92.3 625.1,95.0 621.6,96.3 615.6,97.5 616.6,97.5 616.9,97.3 621.1,96.5 625.4,95.0 629.9,92.5ZM645.4,84.8 644.1,86.8 645.4,85.5ZM559.4,79.5 559.9,81.8 562.4,87.0 564.6,90.3 566.6,92.5 571.1,96.3 577.4,100.3 581.1,102.0 585.6,103.3 584.9,102.8 580.6,101.3 579.4,100.5 578.9,100.5 573.9,98.0 569.9,95.3 564.6,89.8 562.6,86.8 560.6,82.8 560.6,82.3ZM634.6,56.8 634.6,61.8 634.4,62.0 634.1,64.5 632.6,68.8 628.1,76.8 629.9,75.0 631.6,72.3 633.4,68.8 634.1,66.5 634.4,64.5 634.6,64.3 634.6,62.3 634.9,62.0ZM559.9,47.5 559.6,49.3 559.4,49.5 559.4,54.8 559.6,55.0 559.6,56.5 559.9,56.8 559.9,57.8 560.1,58.0 560.6,60.8 561.4,62.8 561.4,63.8 561.9,65.0 562.1,67.3 562.6,68.5 562.6,69.5 562.9,69.8 563.9,74.5 564.9,77.0 563.9,72.5 562.9,69.5 562.6,67.5 562.1,66.5 562.1,65.8 561.4,63.5 561.1,61.5 560.9,61.3 560.4,56.3 560.1,56.0 560.1,53.3 559.9,53.0ZM577.1,32.8 573.1,36.5 569.1,41.5 567.1,45.5 566.4,49.5 567.6,45.3 568.6,43.3 571.9,38.8 575.9,34.5ZM589.6,30.5 586.9,32.0 584.4,34.5ZM631.9,30.0 632.6,31.5 634.6,34.3 637.1,39.5 638.9,45.0 640.6,53.5 640.6,51.8 640.4,51.5 639.9,47.8 637.4,39.3 635.4,34.8 633.1,31.3ZM603.1,30.0 604.4,30.5 605.9,30.5 604.1,30.0ZM581.9,28.3 580.9,29.0 580.1,30.0ZM605.9,26.3 605.1,26.0 602.4,26.0 602.1,26.3 598.4,26.5 598.1,26.8 596.4,27.0 593.1,28.5 597.4,27.3 599.6,27.0 599.9,26.8ZM625.4,16.5 628.1,17.8 632.1,20.5 638.1,26.3 636.4,23.5 633.4,20.5 628.6,17.3 627.1,16.5ZM576.9,16.5 575.6,16.8 573.9,18.8ZM567.6,16.5 566.6,16.5 557.1,26.0 557.1,27.3 563.6,20.3Z" fill="#e8896d" fill-rule="evenodd"/>
<path d="M577.6,100.0 580.9,101.8 582.9,102.3ZM588.1,91.5 589.9,92.3 592.9,92.8 590.6,92.0 589.9,92.0 588.9,91.5ZM634.4,63.8 632.9,68.5 629.1,75.5 630.9,73.3 632.9,69.5 633.9,66.8ZM559.6,49.5 559.6,55.5 559.9,55.8 559.9,57.0 560.4,58.8 560.1,55.0 559.9,54.8ZM574.9,35.3 574.1,35.8 571.4,38.8 569.4,41.5 568.6,43.0 571.9,38.5ZM601.6,26.5 599.6,26.5 599.4,26.8 598.1,26.8 596.6,27.3 599.9,26.8 600.1,26.5ZM625.9,16.5 626.4,16.5 631.1,19.5 636.4,24.3 635.9,23.3 632.1,19.8 628.6,17.5 626.6,16.5ZM576.6,16.5 575.9,16.8 575.4,17.5ZM567.4,16.5 566.9,16.5 557.1,26.3 557.1,27.0 563.4,20.3Z" fill="#dc6e58" fill-rule="evenodd"/>
</g></g></g>
<rect x="557.0" y="16.4" width="88.50" height="87.50" fill="none" stroke="#8c8c8c" stroke-width="0.9"/>
<line x1="554.00" y1="16.40" x2="557.0" y2="16.40" stroke="#8c8c8c" stroke-width="0.6"/>
<text x="551.3" y="19.10" text-anchor="end" font-size="7.6">0.2</text>
<line x1="554.00" y1="38.27" x2="557.0" y2="38.27" stroke="#8c8c8c" stroke-width="0.6"/>
<text x="551.3" y="40.98" text-anchor="end" font-size="7.6">0.1</text>
<line x1="554.00" y1="60.15" x2="557.0" y2="60.15" stroke="#8c8c8c" stroke-width="0.6"/>
<text x="551.3" y="62.85" text-anchor="end" font-size="7.6">0</text>
<line x1="554.00" y1="82.03" x2="557.0" y2="82.03" stroke="#8c8c8c" stroke-width="0.6"/>
<text x="551.3" y="84.73" text-anchor="end" font-size="7.6">−0.1</text>
<line x1="554.00" y1="103.90" x2="557.0" y2="103.90" stroke="#8c8c8c" stroke-width="0.6"/>
<text x="551.3" y="106.60" text-anchor="end" font-size="7.6">−0.2</text>
<line x1="557.00" y1="103.9" x2="557.00" y2="106.9" stroke="#8c8c8c" stroke-width="0.6"/>
<text x="557.00" y="116.7" text-anchor="middle" font-size="7.6">−0.2</text>
<line x1="579.12" y1="103.9" x2="579.12" y2="106.9" stroke="#8c8c8c" stroke-width="0.6"/>
<text x="579.12" y="116.7" text-anchor="middle" font-size="7.6">−0.1</text>
<line x1="601.25" y1="103.9" x2="601.25" y2="106.9" stroke="#8c8c8c" stroke-width="0.6"/>
<text x="601.25" y="116.7" text-anchor="middle" font-size="7.6">0</text>
<line x1="623.38" y1="103.9" x2="623.38" y2="106.9" stroke="#8c8c8c" stroke-width="0.6"/>
<text x="623.38" y="116.7" text-anchor="middle" font-size="7.6">0.1</text>
<line x1="645.50" y1="103.9" x2="645.50" y2="106.9" stroke="#8c8c8c" stroke-width="0.6"/>
<text x="645.50" y="116.7" text-anchor="middle" font-size="7.6">0.2</text>
<text x="601.2" y="12.9" text-anchor="middle" font-size="9" textLength="66" lengthAdjust="spacingAndGlyphs">Uncertainty map</text>
<text x="601.2" y="128.9" text-anchor="middle" font-size="8.9"><tspan font-style="italic">x</tspan> (mm)</text>
<text transform="translate(534,60.3) rotate(-90)" text-anchor="middle" font-size="8.9"><tspan font-style="italic">y</tspan> (mm)</text>
<linearGradient id="cbrdbu" x1="0" y1="0" x2="0" y2="1">
<stop offset="0" stop-color="#053061"/><stop offset="0.1" stop-color="#2166ac"/><stop offset="0.2" stop-color="#4393c3"/>
<stop offset="0.3" stop-color="#92c5de"/><stop offset="0.4" stop-color="#d1e5f0"/><stop offset="0.5" stop-color="#f7f7f7"/>
<stop offset="0.6" stop-color="#fddbc7"/><stop offset="0.7" stop-color="#f4a582"/><stop offset="0.8" stop-color="#d6604d"/>
<stop offset="0.9" stop-color="#b2182b"/><stop offset="1" stop-color="#67001f"/></linearGradient>
<rect x="648.4" y="16.4" width="4.6" height="87.5" fill="url(#cbrdbu)" stroke="#666" stroke-width="0.4"/>
<line x1="653" y1="22.3" x2="655" y2="22.3" stroke="#555" stroke-width="0.5"/>
<text x="658.4" y="24.6" font-size="6.5">10<tspan font-size="4.2" dy="-2.8">17</tspan></text>
<line x1="653" y1="47.8" x2="655" y2="47.8" stroke="#555" stroke-width="0.5"/>
<text x="658.4" y="50.1" font-size="6.5">10<tspan font-size="4.2" dy="-2.8">16</tspan></text>
<line x1="653" y1="40.12" x2="654.2" y2="40.12" stroke="#555" stroke-width="0.4"/>
<line x1="653" y1="35.63" x2="654.2" y2="35.63" stroke="#555" stroke-width="0.4"/>
<line x1="653" y1="32.45" x2="654.2" y2="32.45" stroke="#555" stroke-width="0.4"/>
<line x1="653" y1="29.98" x2="654.2" y2="29.98" stroke="#555" stroke-width="0.4"/>
<line x1="653" y1="27.96" x2="654.2" y2="27.96" stroke="#555" stroke-width="0.4"/>
<line x1="653" y1="26.25" x2="654.2" y2="26.25" stroke="#555" stroke-width="0.4"/>
<line x1="653" y1="24.77" x2="654.2" y2="24.77" stroke="#555" stroke-width="0.4"/>
<line x1="653" y1="23.47" x2="654.2" y2="23.47" stroke="#555" stroke-width="0.4"/>
<line x1="653" y1="73.3" x2="655" y2="73.3" stroke="#555" stroke-width="0.5"/>
<text x="658.4" y="75.6" font-size="6.5">10<tspan font-size="4.2" dy="-2.8">15</tspan></text>
<line x1="653" y1="65.62" x2="654.2" y2="65.62" stroke="#555" stroke-width="0.4"/>
<line x1="653" y1="61.13" x2="654.2" y2="61.13" stroke="#555" stroke-width="0.4"/>
<line x1="653" y1="57.95" x2="654.2" y2="57.95" stroke="#555" stroke-width="0.4"/>
<line x1="653" y1="55.48" x2="654.2" y2="55.48" stroke="#555" stroke-width="0.4"/>
<line x1="653" y1="53.46" x2="654.2" y2="53.46" stroke="#555" stroke-width="0.4"/>
<line x1="653" y1="51.75" x2="654.2" y2="51.75" stroke="#555" stroke-width="0.4"/>
<line x1="653" y1="50.27" x2="654.2" y2="50.27" stroke="#555" stroke-width="0.4"/>
<line x1="653" y1="48.97" x2="654.2" y2="48.97" stroke="#555" stroke-width="0.4"/>
<line x1="653" y1="98.8" x2="655" y2="98.8" stroke="#555" stroke-width="0.5"/>
<text x="658.4" y="101.1" font-size="6.5">10<tspan font-size="4.2" dy="-2.8">14</tspan></text>
<line x1="653" y1="91.12" x2="654.2" y2="91.12" stroke="#555" stroke-width="0.4"/>
<line x1="653" y1="86.63" x2="654.2" y2="86.63" stroke="#555" stroke-width="0.4"/>
<line x1="653" y1="83.45" x2="654.2" y2="83.45" stroke="#555" stroke-width="0.4"/>
<line x1="653" y1="80.98" x2="654.2" y2="80.98" stroke="#555" stroke-width="0.4"/>
<line x1="653" y1="78.96" x2="654.2" y2="78.96" stroke="#555" stroke-width="0.4"/>
<line x1="653" y1="77.25" x2="654.2" y2="77.25" stroke="#555" stroke-width="0.4"/>
<line x1="653" y1="75.77" x2="654.2" y2="75.77" stroke="#555" stroke-width="0.4"/>
<line x1="653" y1="74.47" x2="654.2" y2="74.47" stroke="#555" stroke-width="0.4"/>
<line x1="653" y1="102.75" x2="654.2" y2="102.75" stroke="#555" stroke-width="0.4"/>
<line x1="653" y1="101.27" x2="654.2" y2="101.27" stroke="#555" stroke-width="0.4"/>
<line x1="653" y1="99.97" x2="654.2" y2="99.97" stroke="#555" stroke-width="0.4"/>
<text transform="translate(675.9,57) rotate(90)" text-anchor="middle" font-size="8.9">Intensity (W cm<tspan font-size="5.6" dy="-3">−2</tspan><tspan dy="3">)</tspan></text>
</g>
<g id="pc">
<rect x="388.3" y="164" width="124.99999999999994" height="87" fill="none" stroke="#8c8c8c" stroke-width="0.9"/>
<line x1="385.30" y1="251.00" x2="388.3" y2="251.00" stroke="#8c8c8c" stroke-width="0.6"/>
<line x1="386.50" y1="244.45" x2="388.3" y2="244.45" stroke="#8c8c8c" stroke-width="0.6"/>
<line x1="386.50" y1="240.62" x2="388.3" y2="240.62" stroke="#8c8c8c" stroke-width="0.6"/>
<line x1="386.50" y1="237.91" x2="388.3" y2="237.91" stroke="#8c8c8c" stroke-width="0.6"/>
<line x1="386.50" y1="235.80" x2="388.3" y2="235.80" stroke="#8c8c8c" stroke-width="0.6"/>
<line x1="386.50" y1="234.08" x2="388.3" y2="234.08" stroke="#8c8c8c" stroke-width="0.6"/>
<line x1="386.50" y1="232.62" x2="388.3" y2="232.62" stroke="#8c8c8c" stroke-width="0.6"/>
<line x1="386.50" y1="231.36" x2="388.3" y2="231.36" stroke="#8c8c8c" stroke-width="0.6"/>
<line x1="386.50" y1="230.25" x2="388.3" y2="230.25" stroke="#8c8c8c" stroke-width="0.6"/>
<line x1="385.30" y1="229.25" x2="388.3" y2="229.25" stroke="#8c8c8c" stroke-width="0.6"/>
<line x1="386.50" y1="222.70" x2="388.3" y2="222.70" stroke="#8c8c8c" stroke-width="0.6"/>
<line x1="386.50" y1="218.87" x2="388.3" y2="218.87" stroke="#8c8c8c" stroke-width="0.6"/>
<line x1="386.50" y1="216.16" x2="388.3" y2="216.16" stroke="#8c8c8c" stroke-width="0.6"/>
<line x1="386.50" y1="214.05" x2="388.3" y2="214.05" stroke="#8c8c8c" stroke-width="0.6"/>
<line x1="386.50" y1="212.33" x2="388.3" y2="212.33" stroke="#8c8c8c" stroke-width="0.6"/>
<line x1="386.50" y1="210.87" x2="388.3" y2="210.87" stroke="#8c8c8c" stroke-width="0.6"/>
<line x1="386.50" y1="209.61" x2="388.3" y2="209.61" stroke="#8c8c8c" stroke-width="0.6"/>
<line x1="386.50" y1="208.50" x2="388.3" y2="208.50" stroke="#8c8c8c" stroke-width="0.6"/>
<line x1="385.30" y1="207.50" x2="388.3" y2="207.50" stroke="#8c8c8c" stroke-width="0.6"/>
<line x1="386.50" y1="200.95" x2="388.3" y2="200.95" stroke="#8c8c8c" stroke-width="0.6"/>
<line x1="386.50" y1="197.12" x2="388.3" y2="197.12" stroke="#8c8c8c" stroke-width="0.6"/>
<line x1="386.50" y1="194.41" x2="388.3" y2="194.41" stroke="#8c8c8c" stroke-width="0.6"/>
<line x1="386.50" y1="192.30" x2="388.3" y2="192.30" stroke="#8c8c8c" stroke-width="0.6"/>
<line x1="386.50" y1="190.58" x2="388.3" y2="190.58" stroke="#8c8c8c" stroke-width="0.6"/>
<line x1="386.50" y1="189.12" x2="388.3" y2="189.12" stroke="#8c8c8c" stroke-width="0.6"/>
<line x1="386.50" y1="187.86" x2="388.3" y2="187.86" stroke="#8c8c8c" stroke-width="0.6"/>
<line x1="386.50" y1="186.75" x2="388.3" y2="186.75" stroke="#8c8c8c" stroke-width="0.6"/>
<line x1="385.30" y1="185.75" x2="388.3" y2="185.75" stroke="#8c8c8c" stroke-width="0.6"/>
<line x1="386.50" y1="179.20" x2="388.3" y2="179.20" stroke="#8c8c8c" stroke-width="0.6"/>
<line x1="386.50" y1="175.37" x2="388.3" y2="175.37" stroke="#8c8c8c" stroke-width="0.6"/>
<line x1="386.50" y1="172.66" x2="388.3" y2="172.66" stroke="#8c8c8c" stroke-width="0.6"/>
<line x1="386.50" y1="170.55" x2="388.3" y2="170.55" stroke="#8c8c8c" stroke-width="0.6"/>
<line x1="386.50" y1="168.83" x2="388.3" y2="168.83" stroke="#8c8c8c" stroke-width="0.6"/>
<line x1="386.50" y1="167.37" x2="388.3" y2="167.37" stroke="#8c8c8c" stroke-width="0.6"/>
<line x1="386.50" y1="166.11" x2="388.3" y2="166.11" stroke="#8c8c8c" stroke-width="0.6"/>
<line x1="386.50" y1="165.00" x2="388.3" y2="165.00" stroke="#8c8c8c" stroke-width="0.6"/>
<line x1="385.30" y1="164.00" x2="388.3" y2="164.00" stroke="#8c8c8c" stroke-width="0.6"/>
<text x="382.20" y="166.90" text-anchor="end" font-size="8.4">10<tspan font-size="5" dy="-3.4">20</tspan></text>
<text x="382.20" y="188.65" text-anchor="end" font-size="8.4">10<tspan font-size="5" dy="-3.4">19</tspan></text>
<text x="382.20" y="210.40" text-anchor="end" font-size="8.4">10<tspan font-size="5" dy="-3.4">18</tspan></text>
<text x="382.20" y="232.15" text-anchor="end" font-size="8.4">10<tspan font-size="5" dy="-3.4">17</tspan></text>
<text x="382.20" y="253.90" text-anchor="end" font-size="8.4">10<tspan font-size="5" dy="-3.4">16</tspan></text>
<line x1="388.30" y1="251" x2="388.30" y2="253.5" stroke="#8c8c8c" stroke-width="0.6"/>
<text x="388.30" y="263.2" text-anchor="middle" font-size="7.6">−100</text>
<line x1="419.55" y1="251" x2="419.55" y2="253.5" stroke="#8c8c8c" stroke-width="0.6"/>
<text x="419.55" y="263.2" text-anchor="middle" font-size="7.6">−50</text>
<line x1="450.80" y1="251" x2="450.80" y2="253.5" stroke="#8c8c8c" stroke-width="0.6"/>
<text x="450.80" y="263.2" text-anchor="middle" font-size="7.6">0</text>
<line x1="482.05" y1="251" x2="482.05" y2="253.5" stroke="#8c8c8c" stroke-width="0.6"/>
<text x="482.05" y="263.2" text-anchor="middle" font-size="7.6">50</text>
<line x1="513.30" y1="251" x2="513.30" y2="253.5" stroke="#8c8c8c" stroke-width="0.6"/>
<text x="513.30" y="263.2" text-anchor="middle" font-size="7.6">100</text>
<text x="451.2" y="160.9" text-anchor="middle" class="t9" textLength="67.3" lengthAdjust="spacingAndGlyphs">Intensity line-out</text>
<text x="451.2" y="275.2" text-anchor="middle" font-size="8.6" textLength="33.7" lengthAdjust="spacingAndGlyphs">Time (fs)</text>
<text transform="translate(363.3,206.4) rotate(-90)" text-anchor="middle" font-size="8.6">Intensity (W cm<tspan font-size="5.6" dy="-3">−2</tspan><tspan dy="3">)</tspan></text>
<clipPath id="cpi"><rect x="388.3" y="164" width="125" height="87"/></clipPath>
<path d="M388.30,217.70 C389.20,218.42 392.08,219.65 393.70,222.00 C395.32,224.35 396.68,228.30 398.00,231.80 C399.32,235.30 400.63,239.63 401.60,243.00 C402.57,246.37 403.43,250.50 403.80,252.00 C404.20,249.33 405.37,241.53 406.20,236.00 C407.03,230.47 407.65,223.47 408.80,218.80 C409.95,214.13 411.48,210.70 413.10,208.00 C414.72,205.30 416.87,202.97 418.50,202.60 C420.13,202.23 421.63,203.98 422.90,205.80 C424.17,207.62 425.57,212.22 426.10,213.50 C426.63,210.90 428.03,202.67 429.30,197.90 C430.57,193.13 432.25,188.52 433.70,184.90 C435.15,181.28 436.57,178.55 438.00,176.20 C439.43,173.85 440.68,172.08 442.30,170.80 C443.92,169.52 445.90,168.50 447.70,168.50 C449.50,168.50 451.47,169.52 453.10,170.80 C454.73,172.08 456.05,173.50 457.50,176.20 C458.95,178.90 460.55,182.48 461.80,187.00 C463.05,191.52 464.03,194.47 465.00,203.30 C465.97,212.13 467.17,233.88 467.60,240.00 C468.00,235.83 469.27,220.75 470.00,215.00 C470.73,209.25 471.28,207.57 472.00,205.50 C472.72,203.43 473.47,202.77 474.30,202.60 C475.13,202.43 476.05,202.77 477.00,204.50 C477.95,206.23 479.12,206.75 480.00,213.00 C480.88,219.25 481.92,237.17 482.30,242.00 C482.68,237.83 483.73,223.17 484.60,217.00 C485.47,210.83 486.37,207.40 487.50,205.00 C488.63,202.60 490.15,202.60 491.40,202.60 C492.65,202.60 493.90,203.18 495.00,205.00 C496.10,206.82 496.98,209.93 498.00,213.50 C499.02,217.07 500.58,224.25 501.10,226.40 C501.58,224.50 503.10,217.82 504.00,215.00 C504.90,212.18 505.53,210.85 506.50,209.50 C507.47,208.15 508.67,206.78 509.80,206.90 C510.93,207.02 512.72,209.65 513.30,210.20" fill="none" stroke="#3a87c8" stroke-width="1.05" clip-path="url(#cpi)"/>
<rect x="553.3" y="164" width="125.30000000000007" height="87" fill="none" stroke="#8c8c8c" stroke-width="0.9"/>
<line x1="551.50" y1="246.97" x2="553.3" y2="246.97" stroke="#8c8c8c" stroke-width="0.6"/>
<line x1="551.50" y1="243.62" x2="553.3" y2="243.62" stroke="#8c8c8c" stroke-width="0.6"/>
<line x1="551.50" y1="240.88" x2="553.3" y2="240.88" stroke="#8c8c8c" stroke-width="0.6"/>
<line x1="551.50" y1="238.56" x2="553.3" y2="238.56" stroke="#8c8c8c" stroke-width="0.6"/>
<line x1="551.50" y1="236.55" x2="553.3" y2="236.55" stroke="#8c8c8c" stroke-width="0.6"/>
<line x1="551.50" y1="234.78" x2="553.3" y2="234.78" stroke="#8c8c8c" stroke-width="0.6"/>
<line x1="550.30" y1="233.20" x2="553.3" y2="233.20" stroke="#8c8c8c" stroke-width="0.6"/>
<line x1="551.50" y1="222.78" x2="553.3" y2="222.78" stroke="#8c8c8c" stroke-width="0.6"/>
<line x1="551.50" y1="216.69" x2="553.3" y2="216.69" stroke="#8c8c8c" stroke-width="0.6"/>
<line x1="551.50" y1="212.37" x2="553.3" y2="212.37" stroke="#8c8c8c" stroke-width="0.6"/>
<line x1="551.50" y1="209.02" x2="553.3" y2="209.02" stroke="#8c8c8c" stroke-width="0.6"/>
<line x1="551.50" y1="206.28" x2="553.3" y2="206.28" stroke="#8c8c8c" stroke-width="0.6"/>
<line x1="551.50" y1="203.96" x2="553.3" y2="203.96" stroke="#8c8c8c" stroke-width="0.6"/>
<line x1="551.50" y1="201.95" x2="553.3" y2="201.95" stroke="#8c8c8c" stroke-width="0.6"/>
<line x1="551.50" y1="200.18" x2="553.3" y2="200.18" stroke="#8c8c8c" stroke-width="0.6"/>
<line x1="550.30" y1="198.60" x2="553.3" y2="198.60" stroke="#8c8c8c" stroke-width="0.6"/>
<line x1="551.50" y1="188.18" x2="553.3" y2="188.18" stroke="#8c8c8c" stroke-width="0.6"/>
<line x1="551.50" y1="182.09" x2="553.3" y2="182.09" stroke="#8c8c8c" stroke-width="0.6"/>
<line x1="551.50" y1="177.77" x2="553.3" y2="177.77" stroke="#8c8c8c" stroke-width="0.6"/>
<line x1="551.50" y1="174.42" x2="553.3" y2="174.42" stroke="#8c8c8c" stroke-width="0.6"/>
<line x1="551.50" y1="171.68" x2="553.3" y2="171.68" stroke="#8c8c8c" stroke-width="0.6"/>
<line x1="551.50" y1="169.36" x2="553.3" y2="169.36" stroke="#8c8c8c" stroke-width="0.6"/>
<line x1="551.50" y1="167.35" x2="553.3" y2="167.35" stroke="#8c8c8c" stroke-width="0.6"/>
<line x1="551.50" y1="165.58" x2="553.3" y2="165.58" stroke="#8c8c8c" stroke-width="0.6"/>
<line x1="550.30" y1="164.00" x2="553.3" y2="164.00" stroke="#8c8c8c" stroke-width="0.6"/>
<text x="547.80" y="166.90" text-anchor="end" font-size="8.4">10<tspan font-size="5" dy="-3.4">15</tspan></text>
<text x="547.80" y="201.50" text-anchor="end" font-size="8.4">10<tspan font-size="5" dy="-3.4">14</tspan></text>
<text x="547.80" y="236.10" text-anchor="end" font-size="8.4">10<tspan font-size="5" dy="-3.4">13</tspan></text>
<line x1="553.30" y1="251" x2="553.30" y2="253.5" stroke="#8c8c8c" stroke-width="0.6"/>
<text x="553.30" y="263.2" text-anchor="middle" font-size="7.6">−100</text>
<line x1="584.62" y1="251" x2="584.62" y2="253.5" stroke="#8c8c8c" stroke-width="0.6"/>
<text x="584.62" y="263.2" text-anchor="middle" font-size="7.6">−50</text>
<line x1="615.95" y1="251" x2="615.95" y2="253.5" stroke="#8c8c8c" stroke-width="0.6"/>
<text x="615.95" y="263.2" text-anchor="middle" font-size="7.6">0</text>
<line x1="647.27" y1="251" x2="647.27" y2="253.5" stroke="#8c8c8c" stroke-width="0.6"/>
<text x="647.27" y="263.2" text-anchor="middle" font-size="7.6">50</text>
<line x1="678.60" y1="251" x2="678.60" y2="253.5" stroke="#8c8c8c" stroke-width="0.6"/>
<text x="678.60" y="263.2" text-anchor="middle" font-size="7.6">100</text>
<text x="616" y="160.6" text-anchor="middle" class="t9" textLength="24.6" lengthAdjust="spacingAndGlyphs">Power</text>
<text x="616" y="275.2" text-anchor="middle" font-size="8.6" textLength="33.7" lengthAdjust="spacingAndGlyphs">Time (fs)</text>
<text transform="translate(528.2,206.6) rotate(-90)" text-anchor="middle" font-size="8.6" textLength="39.6" lengthAdjust="spacingAndGlyphs">Power (W)</text>
<path d="M553.30,241.50 C553.83,241.68 555.43,242.33 556.50,242.60 C557.57,242.87 558.25,243.27 559.70,243.10 C561.15,242.93 563.22,242.77 565.20,241.60 C567.18,240.43 569.63,238.60 571.60,236.10 C573.57,233.60 575.47,229.32 577.00,226.60 C578.53,223.88 579.60,221.35 580.80,219.80 C582.00,218.25 583.08,217.50 584.20,217.30 C585.32,217.10 586.35,217.78 587.50,218.60 C588.65,219.42 589.95,223.25 591.10,222.20 C592.25,221.15 593.25,216.83 594.40,212.30 C595.55,207.77 596.57,200.47 598.00,195.00 C599.43,189.53 601.45,183.35 603.00,179.50 C604.55,175.65 605.57,173.78 607.30,171.90 C609.03,170.02 611.42,168.20 613.40,168.20 C615.38,168.20 617.52,169.83 619.20,171.90 C620.88,173.97 622.05,176.08 623.50,180.60 C624.95,185.12 626.75,193.00 627.90,199.00 C629.05,205.00 629.52,211.35 630.40,216.60 C631.28,221.85 632.23,229.77 633.20,230.50 C634.17,231.23 635.12,223.48 636.20,221.00 C637.28,218.52 638.47,215.85 639.70,215.60 C640.93,215.35 642.15,216.83 643.60,219.50 C645.05,222.17 646.95,231.18 648.40,231.60 C649.85,232.02 650.87,224.32 652.30,222.00 C653.73,219.68 655.52,217.53 657.00,217.70 C658.48,217.87 659.50,218.32 661.20,223.00 C662.90,227.68 665.53,244.13 667.20,245.80 C668.87,247.47 669.87,236.13 671.20,233.00 C672.53,229.87 673.97,227.38 675.20,227.00 C676.43,226.62 678.03,230.08 678.60,230.70" fill="none" stroke="#3a87c8" stroke-width="1.05"/>
</g>
<text class="pl" x="-0.2" y="10.3" textLength="7.2" lengthAdjust="spacingAndGlyphs">a</text>
<text class="pl" x="352.3" y="9.9" textLength="8.9" lengthAdjust="spacingAndGlyphs">b</text>
<text class="pl" x="352.3" y="156.3" textLength="8.8" lengthAdjust="spacingAndGlyphs">c</text>
</svg>
</body></html>
